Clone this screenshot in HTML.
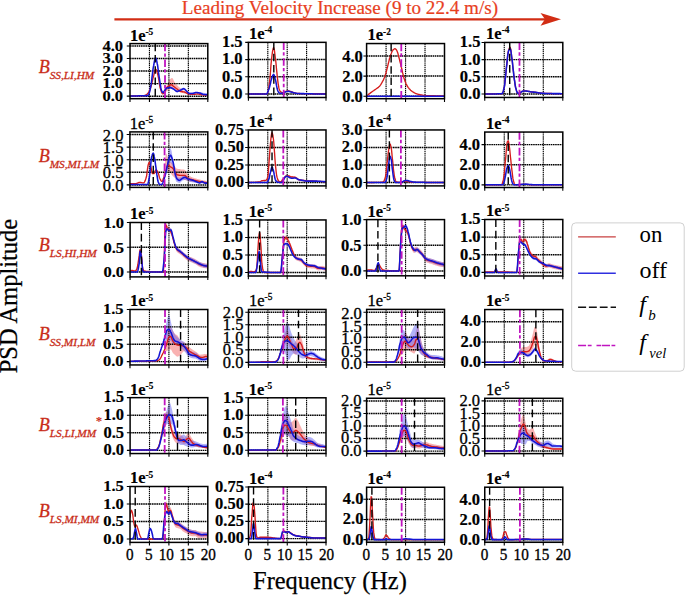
<!DOCTYPE html><html><head><meta charset="utf-8"><style>html,body{margin:0;padding:0;background:#fff;}svg{display:block}</style></head><body>
<svg width="685" height="595" viewBox="0 0 685 595" font-family='"Liberation Serif", serif'>
<rect width="685" height="595" fill="#fff"/>
<text x="181.8" y="13.8" font-size="19.1" fill="#e8401e" stroke="#e8401e" stroke-width="0.2">Leading Velocity Increase (9 to 22.4 m/s)</text>
<path d="M114.4,19.3H545" stroke="#d22d14" stroke-width="2.3"/>
<path d="M561,19.3L540.5,12.9L545,19.3L540.5,25.7Z" fill="#d22d14"/>
<text x="38.7" y="73.0" font-size="18" font-style="italic" fill="#c92c18" stroke="#c92c18" stroke-width="0.3">B<tspan font-size="11.3" dy="5.9">SS,LI,HM</tspan></text>
<text x="38.7" y="162.2" font-size="18" font-style="italic" fill="#c92c18" stroke="#c92c18" stroke-width="0.3">B<tspan font-size="11.3" dy="5.9">MS,MI,LM</tspan></text>
<text x="38.7" y="250.7" font-size="18" font-style="italic" fill="#c92c18" stroke="#c92c18" stroke-width="0.3">B<tspan font-size="11.3" dy="5.9">LS,HI,HM</tspan></text>
<text x="38.7" y="339.7" font-size="18" font-style="italic" fill="#c92c18" stroke="#c92c18" stroke-width="0.3">B<tspan font-size="11.3" dy="5.9">SS,MI,LM</tspan></text>
<text x="38.7" y="430.9" font-size="18" font-style="italic" fill="#c92c18" stroke="#c92c18" stroke-width="0.3">B<tspan font-size="11.3" dy="5.9">LS,LI,MM</tspan></text>
<text x="38.7" y="516.7" font-size="18" font-style="italic" fill="#c92c18" stroke="#c92c18" stroke-width="0.3">B<tspan font-size="11.3" dy="5.9">LS,MI,MM</tspan></text>
<text x="95.8" y="424.9" font-size="13" font-weight="bold" fill="#c92c18">*</text>
<text x="253.1" y="589.4" font-size="24.4" stroke="#000" stroke-width="0.25">Frequency (Hz)</text>
<text transform="translate(17.4,373.3) rotate(-90)" x="0" y="0" font-size="24.5" stroke="#000" stroke-width="0.25">PSD Amplitude</text>
<rect x="571.7" y="222.9" width="112.5" height="148.3" rx="4" fill="#fff" stroke="#d0d0d0" stroke-width="1"/>
<path d="M578.1,236.9H615.8" stroke="#c84040" stroke-width="1.4"/>
<path d="M578.1,273.3H615.8" stroke="#3030e0" stroke-width="1.4"/>
<path d="M578.1,307.2H586.1M588.9,307.2H596.8M599.8,307.2H607.6M610.6,307.2H616" stroke="#111" stroke-width="1.5"/>
<path d="M578.1,345.4H586.1M587.8,345.4H591.6M596.5,345.4H601.2M601.9,345.4H610M611.5,345.4H615.3" stroke="#c014c0" stroke-width="1.5"/>
<text x="639.5" y="242.2" font-size="22.8">on</text>
<text x="639.5" y="278.4" font-size="24">off</text>
<text x="639.2" y="311.5" font-size="24" font-style="italic">f<tspan font-size="15" dx="2.5" dy="8.7">b</tspan></text>
<text x="639.2" y="350.1" font-size="24" font-style="italic">f<tspan font-size="14.5" dx="3.5" dy="7.9">vel</tspan></text>
<clipPath id="c_r1c1"><rect x="130.00" y="43.60" width="77.80" height="55.10"/></clipPath>
<g clip-path="url(#c_r1c1)">
<path d="M164.2,91.8 L164.5,90.9 L164.8,90.0 L165.1,89.2 L165.5,88.4 L165.8,87.6 L166.1,86.9 L166.4,86.2 L166.7,85.5 L167.0,84.8 L167.3,84.2 L167.6,83.5 L167.9,82.8 L168.2,82.2 L168.5,81.6 L168.8,81.0 L169.1,80.5 L169.4,80.0 L169.7,79.6 L170.0,79.3 L170.3,79.0 L170.6,78.7 L170.9,78.4 L171.3,78.2 L171.6,78.1 L171.9,78.0 L172.2,78.0 L172.5,78.2 L172.8,78.6 L173.1,79.1 L173.4,79.7 L173.7,80.4 L174.0,81.0 L174.3,81.7 L174.6,82.2 L174.9,82.6 L175.2,83.0 L175.5,83.4 L175.8,83.8 L176.1,84.1 L176.4,84.5 L176.7,84.8 L177.1,85.2 L177.4,85.5 L177.7,85.8 L178.0,86.1 L178.3,86.4 L178.6,86.7 L178.9,87.0 L179.2,87.3 L179.5,87.5 L179.8,87.8 L180.1,88.1 L180.4,88.3 L180.7,88.6 L181.0,88.8 L181.3,89.0 L181.6,89.3 L181.9,89.5 L182.2,89.7 L182.5,89.9 L182.9,90.1 L183.2,90.3 L183.5,90.5 L183.8,90.7 L184.1,90.9 L184.4,91.0 L184.7,91.2 L185.0,91.4 L185.3,91.6 L185.6,91.7 L185.9,91.9 L186.2,92.1 L186.5,92.2 L186.8,92.4 L187.1,92.5 L187.4,92.6 L187.7,92.8 L188.0,92.9 L188.4,93.0 L188.4,94.3 L188.0,94.2 L187.7,94.2 L187.4,94.1 L187.1,94.1 L186.8,94.0 L186.5,93.9 L186.2,93.9 L185.9,93.8 L185.6,93.8 L185.3,93.7 L185.0,93.6 L184.7,93.6 L184.4,93.5 L184.1,93.4 L183.8,93.3 L183.5,93.3 L183.2,93.2 L182.9,93.1 L182.5,93.0 L182.2,92.9 L181.9,92.9 L181.6,92.8 L181.3,92.7 L181.0,92.6 L180.7,92.5 L180.4,92.4 L180.1,92.3 L179.8,92.2 L179.5,92.1 L179.2,92.0 L178.9,91.9 L178.6,91.7 L178.3,91.6 L178.0,91.4 L177.7,91.2 L177.4,91.0 L177.1,90.7 L176.7,90.5 L176.4,90.3 L176.1,90.0 L175.8,89.8 L175.5,89.6 L175.2,89.5 L174.9,89.3 L174.6,89.2 L174.3,89.1 L174.0,89.0 L173.7,88.9 L173.4,88.8 L173.1,88.8 L172.8,88.7 L172.5,88.7 L172.2,88.6 L171.9,88.6 L171.6,88.7 L171.3,88.8 L170.9,88.9 L170.6,89.0 L170.3,89.1 L170.0,89.3 L169.7,89.4 L169.4,89.6 L169.1,89.7 L168.8,89.9 L168.5,90.1 L168.2,90.3 L167.9,90.5 L167.6,90.7 L167.3,90.9 L167.0,91.1 L166.7,91.3 L166.4,91.6 L166.1,91.9 L165.8,92.1 L165.5,92.4 L165.1,92.7 L164.8,93.0 L164.5,93.3 L164.2,93.6Z" fill="rgba(242,95,95,0.48)" stroke="none"/>
<path d="M165.0,89.3 L165.6,88.6 L166.1,88.0 L166.6,87.5 L167.2,87.0 L167.7,86.7 L168.3,86.4 L168.8,86.2 L169.3,86.1 L169.9,86.1 L170.4,86.2 L171.0,86.4 L171.5,86.7 L172.1,87.0 L172.6,87.4 L173.1,87.7 L173.7,88.1 L174.2,88.5 L174.8,89.0 L175.3,89.5 L175.8,90.0 L176.4,90.3 L176.9,90.5 L177.5,90.5 L178.0,90.3 L178.6,90.1 L179.1,89.9 L179.6,89.5 L180.2,89.2 L180.7,88.8 L181.3,88.5 L181.8,88.2 L182.3,87.9 L182.9,87.7 L183.4,87.6 L184.0,87.7 L184.5,87.9 L185.1,88.4 L185.6,89.0 L186.1,89.8 L186.7,90.5 L187.2,91.2 L187.8,91.8 L188.3,92.3 L188.8,92.6 L189.4,92.6 L189.9,92.6 L190.5,92.6 L191.0,92.5 L191.6,92.4 L192.1,92.3 L192.6,92.3 L193.2,92.2 L193.7,92.1 L194.3,92.0 L194.8,92.0 L195.3,91.9 L195.9,91.9 L196.4,91.9 L197.0,91.9 L197.5,91.9 L198.1,91.9 L198.6,92.0 L199.1,92.0 L199.7,92.1 L200.2,92.2 L200.8,92.2 L201.3,92.3 L201.8,92.4 L202.4,92.5 L202.9,92.7 L203.5,92.8 L204.0,92.9 L204.6,93.1 L205.1,93.2 L205.6,93.4 L206.2,93.6 L206.7,93.7 L207.3,93.9 L207.8,94.1 L207.8,95.1 L207.3,95.0 L206.7,94.8 L206.2,94.7 L205.6,94.5 L205.1,94.4 L204.6,94.3 L204.0,94.2 L203.5,94.1 L202.9,94.0 L202.4,93.9 L201.8,93.8 L201.3,93.7 L200.8,93.7 L200.2,93.6 L199.7,93.5 L199.1,93.5 L198.6,93.5 L198.1,93.4 L197.5,93.4 L197.0,93.4 L196.4,93.4 L195.9,93.4 L195.3,93.4 L194.8,93.5 L194.3,93.5 L193.7,93.6 L193.2,93.7 L192.6,93.8 L192.1,93.9 L191.6,93.9 L191.0,94.0 L190.5,94.1 L189.9,94.1 L189.4,94.1 L188.8,94.1 L188.3,93.9 L187.8,93.5 L187.2,92.9 L186.7,92.3 L186.1,91.7 L185.6,91.1 L185.1,90.6 L184.5,90.1 L184.0,89.9 L183.4,89.9 L182.9,90.0 L182.3,90.1 L181.8,90.4 L181.3,90.6 L180.7,90.9 L180.2,91.2 L179.6,91.5 L179.1,91.8 L178.6,92.1 L178.0,92.3 L177.5,92.4 L176.9,92.4 L176.4,92.2 L175.8,91.8 L175.3,91.3 L174.8,90.8 L174.2,90.3 L173.7,89.9 L173.1,89.7 L172.6,89.4 L172.1,89.2 L171.5,89.0 L171.0,88.8 L170.4,88.7 L169.9,88.6 L169.3,88.6 L168.8,88.8 L168.3,89.0 L167.7,89.2 L167.2,89.6 L166.6,90.0 L166.1,90.6 L165.6,91.1 L165.0,91.8Z" fill="rgba(95,95,242,0.48)" stroke="none"/>
<path d="M149.45,43.60V98.70M168.90,43.60V98.70M188.35,43.60V98.70" stroke="#000" stroke-width="1.15" stroke-dasharray="1.4 0.7" fill="none"/>
<path d="M130.00,96.15H207.80M130.00,83.61H207.80M130.00,71.07H207.80M130.00,58.53H207.80M130.00,45.99H207.80" stroke="#000" stroke-width="1.45" stroke-dasharray="1.6 0.6" fill="none"/>
<path d="M130.0,95.9 L130.3,95.9 L130.6,95.9 L131.0,95.9 L131.3,95.9 L131.6,95.9 L131.9,95.9 L132.3,95.9 L132.6,95.9 L132.9,95.9 L133.2,95.9 L133.6,95.9 L133.9,95.9 L134.2,95.9 L134.5,95.9 L134.9,95.9 L135.2,95.9 L135.5,95.9 L135.8,95.9 L136.2,95.9 L136.5,95.8 L136.8,95.8 L137.1,95.8 L137.5,95.8 L137.8,95.8 L138.1,95.8 L138.4,95.8 L138.8,95.8 L139.1,95.8 L139.4,95.8 L139.7,95.8 L140.0,95.7 L140.4,95.7 L140.7,95.7 L141.0,95.7 L141.3,95.7 L141.7,95.7 L142.0,95.7 L142.3,95.7 L142.6,95.6 L143.0,95.6 L143.3,95.6 L143.6,95.6 L143.9,95.6 L144.3,95.6 L144.6,95.5 L144.9,95.5 L145.2,95.4 L145.6,95.3 L145.9,95.1 L146.2,94.9 L146.5,94.6 L146.9,94.4 L147.2,94.1 L147.5,93.8 L147.8,93.4 L148.2,93.0 L148.5,92.5 L148.8,92.0 L149.1,91.4 L149.4,90.7 L149.8,90.0 L150.1,89.3 L150.4,88.5 L150.7,87.5 L151.1,86.4 L151.4,85.1 L151.7,83.7 L152.0,82.3 L152.4,80.9 L152.7,79.5 L153.0,78.2 L153.3,77.0 L153.7,75.7 L154.0,74.3 L154.3,72.9 L154.6,71.5 L155.0,70.4 L155.3,69.6 L155.6,69.2 L155.9,69.3 L156.3,69.8 L156.6,70.6 L156.9,71.6 L157.2,72.7 L157.6,74.0 L157.9,75.2 L158.2,76.5 L158.5,78.2 L158.9,80.1 L159.2,82.2 L159.5,84.2 L159.8,86.1 L160.1,87.7 L160.5,88.8 L160.8,89.9 L161.1,90.9 L161.4,91.8 L161.8,92.7 L162.1,93.3 L162.4,93.7 L162.7,93.8 L163.1,93.7 L163.4,93.6 L163.7,93.4 L164.0,93.1 L164.4,92.8 L164.7,92.4 L165.0,91.7 L165.3,90.7 L165.7,89.7 L166.0,88.7 L166.3,88.2 L166.6,87.8 L167.0,87.4 L167.3,87.1 L167.6,86.8 L167.9,86.5 L168.3,86.3 L168.6,86.1 L168.9,85.8 L169.2,85.7 L169.5,85.5 L169.9,85.3 L170.2,85.1 L170.5,84.9 L170.8,84.8 L171.2,84.7 L171.5,84.8 L171.8,84.9 L172.1,85.1 L172.5,85.4 L172.8,85.7 L173.1,86.0 L173.4,86.3 L173.8,86.5 L174.1,86.8 L174.4,87.0 L174.7,87.2 L175.1,87.5 L175.4,87.7 L175.7,88.0 L176.0,88.2 L176.4,88.5 L176.7,88.7 L177.0,89.0 L177.3,89.2 L177.7,89.4 L178.0,89.7 L178.3,90.0 L178.6,90.2 L178.9,90.5 L179.3,90.7 L179.6,90.9 L179.9,91.1 L180.2,91.3 L180.6,91.4 L180.9,91.5 L181.2,91.5 L181.5,91.6 L181.9,91.6 L182.2,91.7 L182.5,91.7 L182.8,91.7 L183.2,91.8 L183.5,91.8 L183.8,91.9 L184.1,91.9 L184.5,92.0 L184.8,92.1 L185.1,92.3 L185.4,92.4 L185.8,92.6 L186.1,92.8 L186.4,93.0 L186.7,93.2 L187.1,93.4 L187.4,93.6 L187.7,93.7 L188.0,93.8 L188.4,93.9 L188.7,93.9 L189.0,94.0 L189.3,94.0 L189.6,94.1 L190.0,94.2 L190.3,94.2 L190.6,94.3 L190.9,94.3 L191.3,94.3 L191.6,94.4 L191.9,94.4 L192.2,94.4 L192.6,94.4 L192.9,94.4 L193.2,94.4 L193.5,94.4 L193.9,94.3 L194.2,94.3 L194.5,94.3 L194.8,94.2 L195.2,94.2 L195.5,94.2 L195.8,94.1 L196.1,94.1 L196.5,94.1 L196.8,94.1 L197.1,94.0 L197.4,94.0 L197.8,94.0 L198.1,94.0 L198.4,94.1 L198.7,94.1 L199.0,94.2 L199.4,94.2 L199.7,94.3 L200.0,94.4 L200.3,94.5 L200.7,94.6 L201.0,94.7 L201.3,94.7 L201.6,94.8 L202.0,94.9 L202.3,94.9 L202.6,94.9 L202.9,94.9 L203.3,95.0 L203.6,95.0 L203.9,95.0 L204.2,95.0 L204.6,95.0 L204.9,95.1 L205.2,95.1 L205.5,95.1 L205.9,95.1 L206.2,95.1 L206.5,95.1 L206.8,95.1 L207.2,95.1 L207.5,95.1 L207.8,95.1" fill="none" stroke="#d61c1c" stroke-width="1.35" stroke-linejoin="round"/>
<path d="M130.0,95.9 L130.3,95.9 L130.6,95.9 L131.0,95.9 L131.3,95.9 L131.6,95.9 L131.9,95.9 L132.3,95.9 L132.6,95.9 L132.9,95.9 L133.2,95.9 L133.6,95.9 L133.9,95.9 L134.2,95.9 L134.5,95.9 L134.9,95.9 L135.2,95.9 L135.5,95.9 L135.8,95.9 L136.2,95.9 L136.5,95.9 L136.8,95.9 L137.1,95.9 L137.5,95.9 L137.8,95.9 L138.1,95.9 L138.4,95.8 L138.8,95.8 L139.1,95.8 L139.4,95.8 L139.7,95.8 L140.0,95.8 L140.4,95.8 L140.7,95.8 L141.0,95.8 L141.3,95.8 L141.7,95.8 L142.0,95.8 L142.3,95.8 L142.6,95.8 L143.0,95.7 L143.3,95.7 L143.6,95.7 L143.9,95.7 L144.3,95.7 L144.6,95.7 L144.9,95.7 L145.2,95.7 L145.6,95.6 L145.9,95.6 L146.2,95.6 L146.5,95.6 L146.9,95.6 L147.2,95.6 L147.5,95.5 L147.8,95.5 L148.2,95.4 L148.5,94.9 L148.8,94.2 L149.1,93.3 L149.4,92.4 L149.8,91.3 L150.1,89.9 L150.4,88.2 L150.7,86.3 L151.1,84.4 L151.4,82.4 L151.7,80.1 L152.0,77.4 L152.4,74.6 L152.7,71.9 L153.0,69.3 L153.3,67.3 L153.7,65.5 L154.0,63.7 L154.3,62.0 L154.6,60.5 L155.0,59.2 L155.3,58.3 L155.6,57.9 L155.9,58.2 L156.3,59.0 L156.6,60.4 L156.9,61.9 L157.2,63.5 L157.6,65.4 L157.9,67.6 L158.2,70.1 L158.5,72.7 L158.9,75.2 L159.2,77.3 L159.5,79.4 L159.8,81.4 L160.1,83.5 L160.5,85.5 L160.8,87.4 L161.1,89.0 L161.4,90.3 L161.8,91.2 L162.1,91.7 L162.4,92.1 L162.7,92.4 L163.1,92.5 L163.4,92.4 L163.7,92.1 L164.0,91.6 L164.4,91.1 L164.7,90.5 L165.0,89.9 L165.3,89.3 L165.7,88.8 L166.0,88.5 L166.3,88.3 L166.6,88.2 L167.0,88.1 L167.3,87.9 L167.6,87.8 L167.9,87.7 L168.3,87.7 L168.6,87.6 L168.9,87.6 L169.2,87.5 L169.5,87.5 L169.9,87.5 L170.2,87.5 L170.5,87.6 L170.8,87.7 L171.2,87.8 L171.5,88.0 L171.8,88.1 L172.1,88.3 L172.5,88.4 L172.8,88.6 L173.1,88.8 L173.4,88.9 L173.8,89.1 L174.1,89.3 L174.4,89.6 L174.7,89.9 L175.1,90.2 L175.4,90.5 L175.7,90.7 L176.0,91.0 L176.4,91.2 L176.7,91.3 L177.0,91.4 L177.3,91.4 L177.7,91.3 L178.0,91.2 L178.3,91.1 L178.6,91.0 L178.9,90.9 L179.3,90.7 L179.6,90.6 L179.9,90.4 L180.2,90.3 L180.6,90.1 L180.9,90.0 L181.2,89.8 L181.5,89.6 L181.9,89.4 L182.2,89.3 L182.5,89.1 L182.8,88.9 L183.2,88.8 L183.5,88.8 L183.8,88.8 L184.1,88.9 L184.5,89.0 L184.8,89.3 L185.1,89.6 L185.4,89.9 L185.8,90.3 L186.1,90.7 L186.4,91.0 L186.7,91.3 L187.1,91.6 L187.4,92.0 L187.7,92.3 L188.0,92.7 L188.4,93.0 L188.7,93.2 L189.0,93.4 L189.3,93.4 L189.6,93.4 L190.0,93.4 L190.3,93.5 L190.6,93.5 L190.9,93.5 L191.3,93.5 L191.6,93.5 L191.9,93.5 L192.2,93.5 L192.6,93.5 L192.9,93.5 L193.2,93.4 L193.5,93.3 L193.9,93.2 L194.2,93.1 L194.5,93.0 L194.8,92.8 L195.2,92.7 L195.5,92.6 L195.8,92.5 L196.1,92.5 L196.5,92.5 L196.8,92.5 L197.1,92.6 L197.4,92.6 L197.8,92.7 L198.1,92.7 L198.4,92.8 L198.7,92.8 L199.0,92.9 L199.4,93.0 L199.7,93.1 L200.0,93.1 L200.3,93.2 L200.7,93.3 L201.0,93.5 L201.3,93.6 L201.6,93.8 L202.0,93.9 L202.3,94.0 L202.6,94.2 L202.9,94.3 L203.3,94.4 L203.6,94.4 L203.9,94.4 L204.2,94.5 L204.6,94.5 L204.9,94.5 L205.2,94.5 L205.5,94.6 L205.9,94.6 L206.2,94.6 L206.5,94.6 L206.8,94.6 L207.2,94.6 L207.5,94.6 L207.8,94.6" fill="none" stroke="#1414d4" stroke-width="1.55" stroke-linejoin="round"/>
<path d="M155.25,43.60V98.70" stroke="#000" stroke-width="1.4" stroke-dasharray="7.6 3.7" fill="none"/>
<path d="M165.01,43.60V98.70" stroke="#c014c0" stroke-width="1.8" stroke-dasharray="7.6 2.2 3.4 2.6" fill="none"/>
</g>
<path d="M130.00,98.70V101.90M149.45,98.70V101.90M168.90,98.70V101.90M188.35,98.70V101.90M207.80,98.70V101.90M126.80,96.15H130.00M126.80,83.61H130.00M126.80,71.07H130.00M126.80,58.53H130.00M126.80,45.99H130.00" stroke="#000" stroke-width="1.1" fill="none"/>
<rect x="130.00" y="43.60" width="77.80" height="55.10" fill="none" stroke="#000" stroke-width="1.5"/>
<text transform="translate(123.10,101.00) scale(1.0,0.882)" text-anchor="end" font-weight="bold" font-size="16.5" stroke="#000" stroke-width="0.18">0.0</text>
<text transform="translate(123.10,88.46) scale(1.0,0.882)" text-anchor="end" font-weight="bold" font-size="16.5" stroke="#000" stroke-width="0.18">1.0</text>
<text transform="translate(123.10,75.92) scale(1.0,0.882)" text-anchor="end" font-weight="bold" font-size="16.5" stroke="#000" stroke-width="0.18">2.0</text>
<text transform="translate(123.10,63.38) scale(1.0,0.882)" text-anchor="end" font-weight="bold" font-size="16.5" stroke="#000" stroke-width="0.18">3.0</text>
<text transform="translate(123.10,50.84) scale(1.0,0.882)" text-anchor="end" font-weight="bold" font-size="16.5" stroke="#000" stroke-width="0.18">4.0</text>
<text x="129.90" y="40.50" font-weight="bold" font-size="16.5" stroke="#000" stroke-width="0.18">1e<tspan font-size="9.3" dy="-5.9">-5</tspan></text>
<clipPath id="c_r1c2"><rect x="248.40" y="42.35" width="77.60" height="55.15"/></clipPath>
<g clip-path="url(#c_r1c2)">
<path d="M283.3,92.2 L283.6,92.1 L283.8,92.1 L284.1,91.9 L284.3,91.8 L284.5,91.6 L284.8,91.5 L285.0,91.3 L285.3,91.1 L285.5,91.0 L285.8,90.9 L286.0,90.8 L286.3,90.7 L286.5,90.7 L286.8,90.6 L287.0,90.5 L287.2,90.5 L287.5,90.5 L287.7,90.4 L288.0,90.4 L288.2,90.4 L288.5,90.5 L288.7,90.5 L289.0,90.5 L289.2,90.6 L289.5,90.7 L289.7,90.7 L290.0,90.8 L290.2,90.9 L290.4,90.9 L290.7,91.0 L290.9,91.1 L291.2,91.1 L291.4,91.2 L291.7,91.3 L291.9,91.4 L292.2,91.5 L292.4,91.6 L292.7,91.7 L292.9,91.8 L293.1,91.9 L293.4,92.0 L293.6,92.1 L293.9,92.2 L294.1,92.3 L294.4,92.4 L294.6,92.4 L294.9,92.5 L295.1,92.5 L295.4,92.6 L295.6,92.6 L295.8,92.7 L296.1,92.7 L296.3,92.8 L296.6,92.8 L296.8,92.8 L297.1,92.9 L297.3,92.9 L297.6,92.9 L297.8,93.0 L298.1,93.0 L298.3,93.0 L298.5,93.0 L298.8,93.0 L299.0,93.0 L299.3,93.0 L299.5,93.0 L299.8,93.0 L300.0,93.0 L300.3,93.0 L300.5,93.0 L300.8,93.0 L301.0,93.0 L301.2,93.1 L301.5,93.1 L301.7,93.1 L302.0,93.1 L302.2,93.1 L302.5,93.1 L302.7,93.1 L302.7,94.0 L302.5,94.0 L302.2,94.0 L302.0,94.0 L301.7,94.0 L301.5,94.0 L301.2,94.0 L301.0,94.0 L300.8,94.0 L300.5,94.0 L300.3,94.0 L300.0,94.0 L299.8,94.0 L299.5,94.0 L299.3,94.0 L299.0,94.0 L298.8,94.0 L298.5,94.0 L298.3,94.0 L298.1,94.0 L297.8,94.0 L297.6,94.0 L297.3,93.9 L297.1,93.9 L296.8,93.9 L296.6,93.8 L296.3,93.8 L296.1,93.7 L295.8,93.7 L295.6,93.7 L295.4,93.6 L295.1,93.6 L294.9,93.5 L294.6,93.5 L294.4,93.4 L294.1,93.3 L293.9,93.2 L293.6,93.1 L293.4,93.0 L293.1,92.9 L292.9,92.8 L292.7,92.7 L292.4,92.6 L292.2,92.5 L291.9,92.4 L291.7,92.3 L291.4,92.3 L291.2,92.2 L290.9,92.1 L290.7,92.0 L290.4,92.0 L290.2,91.9 L290.0,91.8 L289.7,91.8 L289.5,91.7 L289.2,91.6 L289.0,91.6 L288.7,91.5 L288.5,91.5 L288.2,91.5 L288.0,91.5 L287.7,91.5 L287.5,91.5 L287.2,91.5 L287.0,91.6 L286.8,91.6 L286.5,91.7 L286.3,91.8 L286.0,91.8 L285.8,91.9 L285.5,92.0 L285.3,92.2 L285.0,92.3 L284.8,92.5 L284.5,92.7 L284.3,92.8 L284.1,93.0 L283.8,93.1 L283.6,93.2 L283.3,93.2Z" fill="rgba(242,95,95,0.48)" stroke="none"/>
<path d="M267.80,42.35V97.50M287.20,42.35V97.50M306.60,42.35V97.50" stroke="#000" stroke-width="1.15" stroke-dasharray="1.4 0.7" fill="none"/>
<path d="M248.40,94.05H326.00M248.40,76.81H326.00M248.40,59.58H326.00" stroke="#000" stroke-width="1.45" stroke-dasharray="1.6 0.6" fill="none"/>
<path d="M248.4,94.0 L248.7,94.0 L249.0,94.0 L249.4,94.0 L249.7,94.0 L250.0,94.0 L250.3,94.0 L250.7,94.0 L251.0,94.0 L251.3,94.0 L251.6,94.0 L252.0,94.0 L252.3,94.0 L252.6,94.0 L252.9,94.0 L253.2,94.0 L253.6,94.0 L253.9,94.0 L254.2,94.0 L254.5,94.0 L254.9,94.0 L255.2,94.0 L255.5,94.0 L255.8,94.0 L256.2,94.0 L256.5,94.0 L256.8,94.0 L257.1,94.0 L257.5,94.0 L257.8,94.0 L258.1,94.0 L258.4,94.0 L258.7,94.0 L259.1,94.0 L259.4,94.0 L259.7,94.0 L260.0,94.0 L260.4,94.0 L260.7,94.0 L261.0,94.0 L261.3,94.0 L261.7,94.0 L262.0,94.0 L262.3,94.0 L262.6,94.0 L262.9,94.0 L263.3,94.0 L263.6,94.0 L263.9,94.0 L264.2,94.0 L264.6,94.0 L264.9,94.0 L265.2,94.0 L265.5,94.0 L265.9,94.0 L266.2,94.0 L266.5,94.0 L266.8,93.8 L267.2,93.4 L267.5,92.9 L267.8,92.3 L268.1,91.4 L268.4,89.8 L268.8,87.8 L269.1,85.4 L269.4,82.9 L269.7,80.3 L270.1,77.1 L270.4,73.2 L270.7,68.9 L271.0,64.6 L271.4,60.8 L271.7,57.9 L272.0,55.5 L272.3,53.1 L272.6,50.9 L273.0,49.1 L273.3,48.0 L273.6,47.5 L273.9,48.1 L274.3,49.6 L274.6,51.7 L274.9,54.3 L275.2,57.0 L275.6,59.6 L275.9,62.4 L276.2,65.6 L276.5,69.1 L276.9,72.6 L277.2,75.8 L277.5,78.5 L277.8,80.9 L278.1,83.3 L278.5,85.5 L278.8,87.4 L279.1,88.9 L279.4,89.9 L279.8,90.5 L280.1,91.1 L280.4,91.5 L280.7,91.9 L281.1,92.2 L281.4,92.3 L281.7,92.4 L282.0,92.5 L282.4,92.6 L282.7,92.6 L283.0,92.7 L283.3,92.7 L283.6,92.6 L284.0,92.5 L284.3,92.3 L284.6,92.1 L284.9,91.9 L285.3,91.7 L285.6,91.5 L285.9,91.3 L286.2,91.2 L286.6,91.2 L286.9,91.1 L287.2,91.0 L287.5,91.0 L287.8,91.0 L288.2,91.0 L288.5,91.0 L288.8,91.0 L289.1,91.1 L289.5,91.2 L289.8,91.3 L290.1,91.4 L290.4,91.4 L290.8,91.5 L291.1,91.6 L291.4,91.7 L291.7,91.8 L292.1,92.0 L292.4,92.1 L292.7,92.2 L293.0,92.4 L293.3,92.5 L293.7,92.6 L294.0,92.7 L294.3,92.9 L294.6,92.9 L295.0,93.0 L295.3,93.1 L295.6,93.1 L295.9,93.2 L296.3,93.3 L296.6,93.3 L296.9,93.4 L297.2,93.4 L297.5,93.4 L297.9,93.5 L298.2,93.5 L298.5,93.5 L298.8,93.5 L299.2,93.5 L299.5,93.5 L299.8,93.5 L300.1,93.6 L300.5,93.6 L300.8,93.6 L301.1,93.6 L301.4,93.6 L301.8,93.6 L302.1,93.6 L302.4,93.6 L302.7,93.6 L303.0,93.6 L303.4,93.6 L303.7,93.6 L304.0,93.6 L304.3,93.6 L304.7,93.6 L305.0,93.6 L305.3,93.6 L305.6,93.6 L306.0,93.6 L306.3,93.6 L306.6,93.6 L306.9,93.6 L307.2,93.6 L307.6,93.6 L307.9,93.6 L308.2,93.6 L308.5,93.6 L308.9,93.6 L309.2,93.7 L309.5,93.7 L309.8,93.7 L310.2,93.7 L310.5,93.7 L310.8,93.7 L311.1,93.7 L311.4,93.7 L311.8,93.7 L312.1,93.7 L312.4,93.7 L312.7,93.7 L313.1,93.7 L313.4,93.7 L313.7,93.7 L314.0,93.7 L314.4,93.7 L314.7,93.7 L315.0,93.7 L315.3,93.7 L315.7,93.7 L316.0,93.7 L316.3,93.7 L316.6,93.7 L316.9,93.7 L317.3,93.7 L317.6,93.7 L317.9,93.7 L318.2,93.7 L318.6,93.7 L318.9,93.7 L319.2,93.7 L319.5,93.7 L319.9,93.7 L320.2,93.7 L320.5,93.7 L320.8,93.7 L321.1,93.7 L321.5,93.7 L321.8,93.7 L322.1,93.7 L322.4,93.7 L322.8,93.7 L323.1,93.7 L323.4,93.7 L323.7,93.7 L324.1,93.7 L324.4,93.7 L324.7,93.7 L325.0,93.7 L325.4,93.7 L325.7,93.7 L326.0,93.7" fill="none" stroke="#d61c1c" stroke-width="1.35" stroke-linejoin="round"/>
<path d="M248.4,94.0 L248.7,94.0 L249.0,94.0 L249.4,94.0 L249.7,94.0 L250.0,94.0 L250.3,94.0 L250.7,94.0 L251.0,94.0 L251.3,94.0 L251.6,94.0 L252.0,94.0 L252.3,94.0 L252.6,94.0 L252.9,94.0 L253.2,94.0 L253.6,94.0 L253.9,94.0 L254.2,94.0 L254.5,94.0 L254.9,94.0 L255.2,94.0 L255.5,94.0 L255.8,94.0 L256.2,94.0 L256.5,94.0 L256.8,94.0 L257.1,94.0 L257.5,94.0 L257.8,94.0 L258.1,94.0 L258.4,94.0 L258.7,94.0 L259.1,94.0 L259.4,94.0 L259.7,94.0 L260.0,94.0 L260.4,94.0 L260.7,94.0 L261.0,94.0 L261.3,94.0 L261.7,94.0 L262.0,94.0 L262.3,94.0 L262.6,94.0 L262.9,94.0 L263.3,94.0 L263.6,94.0 L263.9,94.0 L264.2,94.0 L264.6,94.0 L264.9,94.0 L265.2,94.0 L265.5,94.0 L265.9,94.0 L266.2,94.0 L266.5,94.0 L266.8,93.7 L267.2,93.2 L267.5,92.6 L267.8,91.9 L268.1,91.1 L268.4,90.2 L268.8,89.4 L269.1,88.5 L269.4,87.5 L269.7,86.3 L270.1,84.9 L270.4,83.5 L270.7,82.1 L271.0,80.7 L271.4,79.5 L271.7,78.5 L272.0,77.6 L272.3,76.7 L272.6,75.8 L273.0,75.1 L273.3,74.6 L273.6,74.4 L273.9,74.7 L274.3,75.4 L274.6,76.4 L274.9,77.7 L275.2,79.0 L275.6,80.3 L275.9,81.7 L276.2,83.5 L276.5,85.4 L276.9,87.3 L277.2,88.8 L277.5,89.9 L277.8,90.7 L278.1,91.4 L278.5,92.0 L278.8,92.5 L279.1,92.8 L279.4,93.0 L279.8,93.1 L280.1,93.2 L280.4,93.3 L280.7,93.3 L281.1,93.3 L281.4,93.4 L281.7,93.3 L282.0,93.3 L282.4,93.2 L282.7,93.1 L283.0,93.0 L283.3,92.8 L283.6,92.7 L284.0,92.5 L284.3,92.4 L284.6,92.2 L284.9,92.1 L285.3,92.0 L285.6,91.9 L285.9,91.8 L286.2,91.7 L286.6,91.6 L286.9,91.5 L287.2,91.4 L287.5,91.3 L287.8,91.3 L288.2,91.3 L288.5,91.3 L288.8,91.4 L289.1,91.4 L289.5,91.5 L289.8,91.6 L290.1,91.7 L290.4,91.8 L290.8,91.9 L291.1,92.0 L291.4,92.1 L291.7,92.1 L292.1,92.2 L292.4,92.3 L292.7,92.4 L293.0,92.5 L293.3,92.6 L293.7,92.7 L294.0,92.8 L294.3,92.9 L294.6,93.0 L295.0,93.0 L295.3,93.1 L295.6,93.2 L295.9,93.2 L296.3,93.3 L296.6,93.3 L296.9,93.4 L297.2,93.4 L297.5,93.4 L297.9,93.4 L298.2,93.4 L298.5,93.5 L298.8,93.5 L299.2,93.5 L299.5,93.5 L299.8,93.5 L300.1,93.5 L300.5,93.5 L300.8,93.6 L301.1,93.6 L301.4,93.6 L301.8,93.6 L302.1,93.6 L302.4,93.6 L302.7,93.6 L303.0,93.6 L303.4,93.6 L303.7,93.6 L304.0,93.6 L304.3,93.7 L304.7,93.7 L305.0,93.7 L305.3,93.7 L305.6,93.7 L306.0,93.7 L306.3,93.7 L306.6,93.7 L306.9,93.7 L307.2,93.7 L307.6,93.7 L307.9,93.7 L308.2,93.7 L308.5,93.8 L308.9,93.8 L309.2,93.8 L309.5,93.8 L309.8,93.8 L310.2,93.8 L310.5,93.8 L310.8,93.8 L311.1,93.8 L311.4,93.8 L311.8,93.8 L312.1,93.8 L312.4,93.8 L312.7,93.8 L313.1,93.9 L313.4,93.9 L313.7,93.9 L314.0,93.9 L314.4,93.9 L314.7,93.9 L315.0,93.9 L315.3,93.9 L315.7,93.9 L316.0,93.9 L316.3,93.9 L316.6,93.9 L316.9,93.9 L317.3,93.9 L317.6,93.9 L317.9,94.0 L318.2,94.0 L318.6,94.0 L318.9,94.0 L319.2,94.0 L319.5,94.0 L319.9,94.0 L320.2,94.0 L320.5,94.0 L320.8,94.0 L321.1,94.0 L321.5,94.0 L321.8,94.0 L322.1,94.0 L322.4,94.0 L322.8,94.0 L323.1,94.0 L323.4,94.0 L323.7,94.0 L324.1,94.0 L324.4,94.0 L324.7,94.0 L325.0,94.0 L325.4,94.0 L325.7,94.0 L326.0,94.0" fill="none" stroke="#1414d4" stroke-width="1.55" stroke-linejoin="round"/>
<path d="M273.81,42.35V97.50" stroke="#000" stroke-width="1.4" stroke-dasharray="7.6 3.7" fill="none"/>
<path d="M283.71,42.35V97.50" stroke="#c014c0" stroke-width="1.8" stroke-dasharray="7.6 2.2 3.4 2.6" fill="none"/>
</g>
<path d="M248.40,97.50V100.70M267.80,97.50V100.70M287.20,97.50V100.70M306.60,97.50V100.70M326.00,97.50V100.70M245.20,94.05H248.40M245.20,76.81H248.40M245.20,59.58H248.40M245.20,42.34H248.40" stroke="#000" stroke-width="1.1" fill="none"/>
<rect x="248.40" y="42.35" width="77.60" height="55.15" fill="none" stroke="#000" stroke-width="1.5"/>
<text transform="translate(242.60,98.95) scale(1.0,0.991)" text-anchor="end" font-weight="bold" font-size="16.5" stroke="#000" stroke-width="0.18">0.0</text>
<text transform="translate(242.60,81.72) scale(1.0,0.991)" text-anchor="end" font-weight="bold" font-size="16.5" stroke="#000" stroke-width="0.18">0.5</text>
<text transform="translate(242.60,64.48) scale(1.0,0.991)" text-anchor="end" font-weight="bold" font-size="16.5" stroke="#000" stroke-width="0.18">1.0</text>
<text transform="translate(242.60,47.24) scale(1.0,0.991)" text-anchor="end" font-weight="bold" font-size="16.5" stroke="#000" stroke-width="0.18">1.5</text>
<text x="248.90" y="39.25" font-weight="bold" font-size="16.5" stroke="#000" stroke-width="0.18">1e<tspan font-size="9.3" dy="-5.9">-4</tspan></text>
<clipPath id="c_r1c3"><rect x="366.60" y="43.55" width="77.90" height="55.15"/></clipPath>
<g clip-path="url(#c_r1c3)">
<path d="M386.08,43.55V98.70M405.55,43.55V98.70M425.02,43.55V98.70" stroke="#000" stroke-width="1.15" stroke-dasharray="1.4 0.7" fill="none"/>
<path d="M366.60,96.20H444.50M366.60,76.08H444.50M366.60,55.96H444.50" stroke="#000" stroke-width="1.45" stroke-dasharray="1.6 0.6" fill="none"/>
<path d="M366.6,96.0 L366.9,95.7 L367.2,95.5 L367.6,95.2 L367.9,94.9 L368.2,94.7 L368.5,94.4 L368.9,94.1 L369.2,93.9 L369.5,93.6 L369.8,93.4 L370.2,93.1 L370.5,92.9 L370.8,92.6 L371.1,92.4 L371.5,92.1 L371.8,91.9 L372.1,91.7 L372.4,91.5 L372.8,91.2 L373.1,91.0 L373.4,90.8 L373.7,90.6 L374.1,90.3 L374.4,90.1 L374.7,89.9 L375.0,89.7 L375.4,89.4 L375.7,89.2 L376.0,89.0 L376.3,88.8 L376.7,88.5 L377.0,88.3 L377.3,88.1 L377.6,87.9 L378.0,87.7 L378.3,87.4 L378.6,87.1 L378.9,86.8 L379.3,86.5 L379.6,86.2 L379.9,85.8 L380.2,85.4 L380.6,84.9 L380.9,84.4 L381.2,83.9 L381.5,83.3 L381.9,82.7 L382.2,82.2 L382.5,81.6 L382.8,81.0 L383.2,80.4 L383.5,79.7 L383.8,79.0 L384.1,78.3 L384.5,77.5 L384.8,76.7 L385.1,75.8 L385.4,74.8 L385.8,73.7 L386.1,72.5 L386.4,71.3 L386.7,70.0 L387.0,68.8 L387.4,67.5 L387.7,66.2 L388.0,64.9 L388.3,63.5 L388.7,62.1 L389.0,60.8 L389.3,59.5 L389.6,58.2 L390.0,57.2 L390.3,56.2 L390.6,55.3 L390.9,54.3 L391.3,53.5 L391.6,52.6 L391.9,51.8 L392.2,51.2 L392.6,50.6 L392.9,50.1 L393.2,49.8 L393.5,49.5 L393.9,49.2 L394.2,49.0 L394.5,48.8 L394.8,48.7 L395.2,48.7 L395.5,48.9 L395.8,49.2 L396.1,49.6 L396.5,50.0 L396.8,50.5 L397.1,51.2 L397.4,52.0 L397.8,53.0 L398.1,54.2 L398.4,55.4 L398.7,56.7 L399.1,58.0 L399.4,59.2 L399.7,60.5 L400.0,61.8 L400.4,63.1 L400.7,64.5 L401.0,65.8 L401.3,67.2 L401.7,68.5 L402.0,69.9 L402.3,71.3 L402.6,72.7 L403.0,74.1 L403.3,75.5 L403.6,76.7 L403.9,77.9 L404.3,78.9 L404.6,79.9 L404.9,80.8 L405.2,81.7 L405.6,82.5 L405.9,83.3 L406.2,84.0 L406.5,84.6 L406.8,85.2 L407.2,85.8 L407.5,86.3 L407.8,86.8 L408.1,87.3 L408.5,87.8 L408.8,88.2 L409.1,88.6 L409.4,89.0 L409.8,89.3 L410.1,89.6 L410.4,90.0 L410.7,90.3 L411.1,90.6 L411.4,90.8 L411.7,91.1 L412.0,91.3 L412.4,91.6 L412.7,91.8 L413.0,92.0 L413.3,92.2 L413.7,92.4 L414.0,92.6 L414.3,92.8 L414.6,93.0 L415.0,93.2 L415.3,93.3 L415.6,93.5 L415.9,93.6 L416.3,93.7 L416.6,93.8 L416.9,93.9 L417.2,94.0 L417.6,94.1 L417.9,94.2 L418.2,94.3 L418.5,94.4 L418.9,94.5 L419.2,94.5 L419.5,94.6 L419.8,94.7 L420.2,94.7 L420.5,94.8 L420.8,94.9 L421.1,94.9 L421.5,95.0 L421.8,95.0 L422.1,95.1 L422.4,95.1 L422.8,95.2 L423.1,95.3 L423.4,95.3 L423.7,95.4 L424.1,95.4 L424.4,95.4 L424.7,95.5 L425.0,95.5 L425.3,95.5 L425.7,95.6 L426.0,95.6 L426.3,95.6 L426.6,95.6 L427.0,95.6 L427.3,95.6 L427.6,95.6 L427.9,95.6 L428.3,95.6 L428.6,95.6 L428.9,95.7 L429.2,95.7 L429.6,95.7 L429.9,95.7 L430.2,95.7 L430.5,95.7 L430.9,95.7 L431.2,95.7 L431.5,95.7 L431.8,95.7 L432.2,95.7 L432.5,95.7 L432.8,95.7 L433.1,95.7 L433.5,95.7 L433.8,95.7 L434.1,95.7 L434.4,95.7 L434.8,95.8 L435.1,95.8 L435.4,95.8 L435.7,95.8 L436.1,95.8 L436.4,95.8 L436.7,95.8 L437.0,95.8 L437.4,95.8 L437.7,95.8 L438.0,95.8 L438.3,95.8 L438.7,95.8 L439.0,95.9 L439.3,95.9 L439.6,95.9 L440.0,95.9 L440.3,95.9 L440.6,95.9 L440.9,95.9 L441.3,95.9 L441.6,95.9 L441.9,95.9 L442.2,95.9 L442.6,95.9 L442.9,96.0 L443.2,96.0 L443.5,96.0 L443.9,96.0 L444.2,96.0 L444.5,96.0" fill="none" stroke="#d61c1c" stroke-width="1.35" stroke-linejoin="round"/>
<path d="M366.6,96.2 L366.9,96.2 L367.2,96.2 L367.6,96.2 L367.9,96.2 L368.2,96.2 L368.5,96.2 L368.9,96.2 L369.2,96.2 L369.5,96.2 L369.8,96.2 L370.2,96.2 L370.5,96.2 L370.8,96.2 L371.1,96.2 L371.5,96.2 L371.8,96.2 L372.1,96.2 L372.4,96.2 L372.8,96.2 L373.1,96.2 L373.4,96.2 L373.7,96.2 L374.1,96.2 L374.4,96.2 L374.7,96.2 L375.0,96.2 L375.4,96.2 L375.7,96.2 L376.0,96.2 L376.3,96.2 L376.7,96.2 L377.0,96.2 L377.3,96.2 L377.6,96.2 L378.0,96.2 L378.3,96.2 L378.6,96.2 L378.9,96.2 L379.3,96.2 L379.6,96.2 L379.9,96.2 L380.2,96.2 L380.6,96.2 L380.9,96.2 L381.2,96.2 L381.5,96.2 L381.9,96.2 L382.2,96.2 L382.5,96.2 L382.8,96.2 L383.2,96.2 L383.5,96.2 L383.8,96.2 L384.1,96.2 L384.5,96.2 L384.8,96.2 L385.1,96.2 L385.4,96.2 L385.8,96.2 L386.1,96.2 L386.4,96.2 L386.7,96.2 L387.0,96.2 L387.4,96.2 L387.7,96.2 L388.0,96.2 L388.3,96.2 L388.7,96.2 L389.0,96.2 L389.3,96.2 L389.6,96.2 L390.0,96.2 L390.3,96.2 L390.6,96.2 L390.9,96.2 L391.3,96.2 L391.6,96.2 L391.9,96.2 L392.2,96.2 L392.6,96.2 L392.9,96.2 L393.2,96.2 L393.5,96.2 L393.9,96.2 L394.2,96.2 L394.5,96.2 L394.8,96.2 L395.2,96.2 L395.5,96.2 L395.8,96.2 L396.1,96.2 L396.5,96.2 L396.8,96.2 L397.1,96.2 L397.4,96.2 L397.8,96.2 L398.1,96.2 L398.4,96.2 L398.7,96.2 L399.1,96.2 L399.4,96.2 L399.7,96.2 L400.0,96.2 L400.4,96.2 L400.7,96.2 L401.0,96.2 L401.3,96.2 L401.7,96.2 L402.0,96.2 L402.3,96.2 L402.6,96.2 L403.0,96.2 L403.3,96.2 L403.6,96.2 L403.9,96.2 L404.3,96.2 L404.6,96.2 L404.9,96.2 L405.2,96.2 L405.6,96.2 L405.9,96.2 L406.2,96.2 L406.5,96.2 L406.8,96.2 L407.2,96.2 L407.5,96.2 L407.8,96.2 L408.1,96.2 L408.5,96.2 L408.8,96.2 L409.1,96.2 L409.4,96.2 L409.8,96.2 L410.1,96.2 L410.4,96.2 L410.7,96.2 L411.1,96.2 L411.4,96.2 L411.7,96.2 L412.0,96.2 L412.4,96.2 L412.7,96.2 L413.0,96.2 L413.3,96.2 L413.7,96.2 L414.0,96.2 L414.3,96.2 L414.6,96.2 L415.0,96.2 L415.3,96.2 L415.6,96.2 L415.9,96.2 L416.3,96.2 L416.6,96.2 L416.9,96.2 L417.2,96.2 L417.6,96.2 L417.9,96.2 L418.2,96.2 L418.5,96.2 L418.9,96.2 L419.2,96.2 L419.5,96.2 L419.8,96.2 L420.2,96.2 L420.5,96.2 L420.8,96.2 L421.1,96.2 L421.5,96.2 L421.8,96.2 L422.1,96.2 L422.4,96.2 L422.8,96.2 L423.1,96.2 L423.4,96.2 L423.7,96.2 L424.1,96.2 L424.4,96.2 L424.7,96.2 L425.0,96.2 L425.3,96.2 L425.7,96.2 L426.0,96.2 L426.3,96.2 L426.6,96.2 L427.0,96.2 L427.3,96.2 L427.6,96.2 L427.9,96.2 L428.3,96.2 L428.6,96.2 L428.9,96.2 L429.2,96.2 L429.6,96.2 L429.9,96.2 L430.2,96.2 L430.5,96.2 L430.9,96.2 L431.2,96.2 L431.5,96.2 L431.8,96.2 L432.2,96.2 L432.5,96.2 L432.8,96.2 L433.1,96.2 L433.5,96.2 L433.8,96.2 L434.1,96.2 L434.4,96.2 L434.8,96.2 L435.1,96.2 L435.4,96.2 L435.7,96.2 L436.1,96.2 L436.4,96.2 L436.7,96.2 L437.0,96.2 L437.4,96.2 L437.7,96.2 L438.0,96.2 L438.3,96.2 L438.7,96.2 L439.0,96.2 L439.3,96.2 L439.6,96.2 L440.0,96.2 L440.3,96.2 L440.6,96.2 L440.9,96.2 L441.3,96.2 L441.6,96.2 L441.9,96.2 L442.2,96.2 L442.6,96.2 L442.9,96.2 L443.2,96.2 L443.5,96.2 L443.9,96.2 L444.2,96.2 L444.5,96.2" fill="none" stroke="#1414d4" stroke-width="1.55" stroke-linejoin="round"/>
<path d="M391.14,43.55V98.70" stroke="#000" stroke-width="1.4" stroke-dasharray="7.6 3.7" fill="none"/>
<path d="M401.27,43.55V98.70" stroke="#c014c0" stroke-width="1.8" stroke-dasharray="7.6 2.2 3.4 2.6" fill="none"/>
</g>
<path d="M366.60,98.70V101.90M386.08,98.70V101.90M405.55,98.70V101.90M425.02,98.70V101.90M444.50,98.70V101.90M363.40,96.20H366.60M363.40,76.08H366.60M363.40,55.96H366.60" stroke="#000" stroke-width="1.1" fill="none"/>
<rect x="366.60" y="43.55" width="77.90" height="55.15" fill="none" stroke="#000" stroke-width="1.5"/>
<text transform="translate(362.80,102.05) scale(1.0,1.009)" text-anchor="end" font-weight="bold" font-size="16.5" stroke="#000" stroke-width="0.18">0.0</text>
<text transform="translate(362.80,81.93) scale(1.0,1.009)" text-anchor="end" font-weight="bold" font-size="16.5" stroke="#000" stroke-width="0.18">2.0</text>
<text transform="translate(362.80,61.81) scale(1.0,1.009)" text-anchor="end" font-weight="bold" font-size="16.5" stroke="#000" stroke-width="0.18">4.0</text>
<text x="367.50" y="40.45" font-weight="bold" font-size="16.5" stroke="#000" stroke-width="0.18">1e<tspan font-size="9.3" dy="-5.9">-2</tspan></text>
<clipPath id="c_r1c4"><rect x="484.75" y="42.45" width="78.05" height="55.00"/></clipPath>
<g clip-path="url(#c_r1c4)">
<path d="M519.9,92.3 L520.2,92.1 L520.6,91.9 L520.9,91.6 L521.3,91.3 L521.6,91.0 L521.9,90.9 L522.3,90.7 L522.6,90.6 L523.0,90.5 L523.3,90.4 L523.7,90.3 L524.0,90.3 L524.4,90.2 L524.7,90.2 L525.1,90.2 L525.4,90.3 L525.8,90.3 L526.1,90.3 L526.4,90.4 L526.8,90.4 L527.1,90.5 L527.5,90.5 L527.8,90.6 L528.2,90.6 L528.5,90.7 L528.9,90.8 L529.2,90.8 L529.6,90.9 L529.9,91.0 L530.2,91.0 L530.6,91.1 L530.9,91.2 L531.3,91.2 L531.6,91.3 L532.0,91.3 L532.3,91.3 L532.7,91.4 L533.0,91.4 L533.4,91.4 L533.7,91.4 L534.0,91.5 L534.4,91.5 L534.7,91.5 L535.1,91.6 L535.4,91.6 L535.8,91.6 L536.1,91.7 L536.5,91.7 L536.8,91.8 L537.2,91.9 L537.5,92.0 L537.9,92.0 L538.2,92.1 L538.5,92.2 L538.9,92.2 L539.2,92.3 L539.6,92.3 L539.9,92.3 L540.3,92.4 L540.6,92.4 L541.0,92.5 L541.3,92.5 L541.7,92.5 L542.0,92.6 L542.3,92.6 L542.7,92.6 L543.0,92.6 L543.4,92.6 L543.7,92.6 L544.1,92.7 L544.4,92.7 L544.8,92.7 L545.1,92.7 L545.5,92.7 L545.8,92.7 L546.2,92.7 L546.5,92.7 L546.8,92.7 L547.2,92.7 L547.2,94.0 L546.8,94.0 L546.5,94.0 L546.2,94.0 L545.8,94.0 L545.5,94.0 L545.1,94.0 L544.8,94.0 L544.4,94.0 L544.1,94.0 L543.7,94.0 L543.4,94.0 L543.0,94.0 L542.7,94.0 L542.3,94.0 L542.0,93.9 L541.7,93.9 L541.3,93.9 L541.0,93.8 L540.6,93.8 L540.3,93.8 L539.9,93.7 L539.6,93.7 L539.2,93.6 L538.9,93.6 L538.5,93.5 L538.2,93.5 L537.9,93.4 L537.5,93.3 L537.2,93.3 L536.8,93.2 L536.5,93.1 L536.1,93.1 L535.8,93.0 L535.4,93.0 L535.1,92.9 L534.7,92.9 L534.4,92.9 L534.0,92.8 L533.7,92.8 L533.4,92.8 L533.0,92.8 L532.7,92.7 L532.3,92.7 L532.0,92.7 L531.6,92.6 L531.3,92.6 L530.9,92.5 L530.6,92.5 L530.2,92.4 L529.9,92.3 L529.6,92.3 L529.2,92.2 L528.9,92.1 L528.5,92.1 L528.2,92.0 L527.8,92.0 L527.5,91.9 L527.1,91.9 L526.8,91.8 L526.4,91.8 L526.1,91.7 L525.8,91.7 L525.4,91.6 L525.1,91.6 L524.7,91.6 L524.4,91.6 L524.0,91.6 L523.7,91.7 L523.3,91.8 L523.0,91.9 L522.6,92.0 L522.3,92.1 L521.9,92.2 L521.6,92.4 L521.3,92.6 L520.9,92.9 L520.6,93.2 L520.2,93.5 L519.9,93.7Z" fill="rgba(95,95,242,0.48)" stroke="none"/>
<path d="M504.26,42.45V97.45M523.77,42.45V97.45M543.29,42.45V97.45" stroke="#000" stroke-width="1.15" stroke-dasharray="1.4 0.7" fill="none"/>
<path d="M484.75,94.00H562.80M484.75,76.81H562.80M484.75,59.63H562.80" stroke="#000" stroke-width="1.45" stroke-dasharray="1.6 0.6" fill="none"/>
<path d="M484.8,94.0 L485.1,94.0 L485.4,94.0 L485.7,94.0 L486.1,94.0 L486.4,94.0 L486.7,94.0 L487.0,94.0 L487.4,94.0 L487.7,94.0 L488.0,94.0 L488.3,94.0 L488.7,94.0 L489.0,94.0 L489.3,94.0 L489.6,94.0 L490.0,94.0 L490.3,94.0 L490.6,94.0 L490.9,94.0 L491.3,94.0 L491.6,94.0 L491.9,94.0 L492.2,94.0 L492.6,94.0 L492.9,93.9 L493.2,93.9 L493.5,93.9 L493.9,93.9 L494.2,93.9 L494.5,93.9 L494.8,93.9 L495.2,93.9 L495.5,93.9 L495.8,93.9 L496.1,93.9 L496.5,93.9 L496.8,93.9 L497.1,93.9 L497.4,93.8 L497.8,93.8 L498.1,93.8 L498.4,93.8 L498.7,93.8 L499.1,93.8 L499.4,93.8 L499.7,93.8 L500.0,93.7 L500.4,93.7 L500.7,93.7 L501.0,93.7 L501.3,93.7 L501.7,93.7 L502.0,93.6 L502.3,93.4 L502.6,92.8 L503.0,92.0 L503.3,91.0 L503.6,89.8 L503.9,88.5 L504.3,87.1 L504.6,85.2 L504.9,82.6 L505.2,79.4 L505.6,76.0 L505.9,72.6 L506.2,69.6 L506.5,66.6 L506.9,63.5 L507.2,60.2 L507.5,57.2 L507.8,54.4 L508.2,52.1 L508.5,50.6 L508.8,49.6 L509.1,48.7 L509.5,47.9 L509.8,47.4 L510.1,47.3 L510.4,47.8 L510.8,49.4 L511.1,51.6 L511.4,54.3 L511.7,57.0 L512.1,59.6 L512.4,62.2 L512.7,65.2 L513.0,68.3 L513.4,71.3 L513.7,74.2 L514.0,76.8 L514.3,79.2 L514.7,81.5 L515.0,83.8 L515.3,85.8 L515.6,87.5 L516.0,88.8 L516.3,89.9 L516.6,91.0 L516.9,91.9 L517.3,92.6 L517.6,93.1 L517.9,93.3 L518.2,93.3 L518.6,93.3 L518.9,93.2 L519.2,93.1 L519.5,93.1 L519.9,93.0 L520.2,92.8 L520.5,92.6 L520.8,92.3 L521.2,92.0 L521.5,91.8 L521.8,91.6 L522.1,91.5 L522.5,91.4 L522.8,91.2 L523.1,91.1 L523.4,91.1 L523.8,91.0 L524.1,90.9 L524.4,90.9 L524.8,90.9 L525.1,90.9 L525.4,90.9 L525.7,91.0 L526.1,91.0 L526.4,91.1 L526.7,91.1 L527.0,91.2 L527.4,91.2 L527.7,91.3 L528.0,91.3 L528.3,91.4 L528.7,91.4 L529.0,91.5 L529.3,91.5 L529.6,91.6 L530.0,91.7 L530.3,91.7 L530.6,91.8 L530.9,91.8 L531.3,91.9 L531.6,91.9 L531.9,92.0 L532.2,92.0 L532.6,92.0 L532.9,92.1 L533.2,92.1 L533.5,92.1 L533.9,92.1 L534.2,92.2 L534.5,92.2 L534.8,92.2 L535.2,92.2 L535.5,92.3 L535.8,92.3 L536.1,92.4 L536.5,92.4 L536.8,92.5 L537.1,92.6 L537.4,92.6 L537.8,92.7 L538.1,92.8 L538.4,92.8 L538.7,92.9 L539.1,92.9 L539.4,93.0 L539.7,93.0 L540.0,93.0 L540.4,93.1 L540.7,93.1 L541.0,93.1 L541.3,93.2 L541.7,93.2 L542.0,93.2 L542.3,93.3 L542.6,93.3 L543.0,93.3 L543.3,93.3 L543.6,93.3 L543.9,93.3 L544.3,93.3 L544.6,93.4 L544.9,93.4 L545.2,93.4 L545.6,93.4 L545.9,93.4 L546.2,93.4 L546.5,93.4 L546.9,93.4 L547.2,93.4 L547.5,93.4 L547.8,93.5 L548.2,93.5 L548.5,93.5 L548.8,93.5 L549.1,93.5 L549.5,93.5 L549.8,93.5 L550.1,93.5 L550.4,93.5 L550.8,93.5 L551.1,93.5 L551.4,93.5 L551.7,93.5 L552.1,93.6 L552.4,93.6 L552.7,93.6 L553.0,93.6 L553.4,93.6 L553.7,93.6 L554.0,93.6 L554.3,93.6 L554.7,93.6 L555.0,93.6 L555.3,93.6 L555.6,93.6 L556.0,93.6 L556.3,93.6 L556.6,93.6 L556.9,93.6 L557.3,93.6 L557.6,93.6 L557.9,93.6 L558.2,93.6 L558.6,93.6 L558.9,93.6 L559.2,93.6 L559.5,93.6 L559.9,93.6 L560.2,93.6 L560.5,93.7 L560.8,93.7 L561.2,93.7 L561.5,93.7 L561.8,93.7 L562.1,93.7 L562.5,93.7 L562.8,93.7" fill="none" stroke="#d61c1c" stroke-width="1.35" stroke-linejoin="round"/>
<path d="M484.8,94.0 L485.1,94.0 L485.4,94.0 L485.7,94.0 L486.1,94.0 L486.4,94.0 L486.7,94.0 L487.0,94.0 L487.4,94.0 L487.7,94.0 L488.0,94.0 L488.3,94.0 L488.7,94.0 L489.0,94.0 L489.3,94.0 L489.6,94.0 L490.0,94.0 L490.3,94.0 L490.6,94.0 L490.9,94.0 L491.3,94.0 L491.6,94.0 L491.9,94.0 L492.2,94.0 L492.6,94.0 L492.9,93.9 L493.2,93.9 L493.5,93.9 L493.9,93.9 L494.2,93.9 L494.5,93.9 L494.8,93.9 L495.2,93.9 L495.5,93.9 L495.8,93.9 L496.1,93.9 L496.5,93.9 L496.8,93.9 L497.1,93.9 L497.4,93.8 L497.8,93.8 L498.1,93.8 L498.4,93.8 L498.7,93.8 L499.1,93.8 L499.4,93.8 L499.7,93.8 L500.0,93.7 L500.4,93.7 L500.7,93.7 L501.0,93.7 L501.3,93.7 L501.7,93.7 L502.0,93.6 L502.3,93.4 L502.6,92.8 L503.0,92.0 L503.3,91.0 L503.6,89.8 L503.9,88.5 L504.3,87.1 L504.6,85.3 L504.9,82.6 L505.2,79.5 L505.6,76.2 L505.9,72.9 L506.2,69.9 L506.5,67.0 L506.9,63.8 L507.2,60.6 L507.5,57.5 L507.8,54.8 L508.2,52.7 L508.5,51.2 L508.8,50.4 L509.1,49.7 L509.5,49.1 L509.8,48.8 L510.1,48.6 L510.4,49.1 L510.8,50.5 L511.1,52.5 L511.4,54.8 L511.7,57.3 L512.1,59.6 L512.4,62.1 L512.7,65.0 L513.0,68.1 L513.4,71.3 L513.7,74.2 L514.0,76.8 L514.3,79.2 L514.7,81.5 L515.0,83.8 L515.3,85.8 L515.6,87.5 L516.0,88.8 L516.3,89.9 L516.6,91.0 L516.9,91.9 L517.3,92.6 L517.6,93.1 L517.9,93.3 L518.2,93.3 L518.6,93.3 L518.9,93.2 L519.2,93.1 L519.5,93.1 L519.9,93.0 L520.2,92.8 L520.5,92.6 L520.8,92.3 L521.2,92.0 L521.5,91.8 L521.8,91.6 L522.1,91.5 L522.5,91.4 L522.8,91.2 L523.1,91.1 L523.4,91.1 L523.8,91.0 L524.1,90.9 L524.4,90.9 L524.8,90.9 L525.1,90.9 L525.4,90.9 L525.7,91.0 L526.1,91.0 L526.4,91.1 L526.7,91.1 L527.0,91.2 L527.4,91.2 L527.7,91.3 L528.0,91.3 L528.3,91.4 L528.7,91.4 L529.0,91.5 L529.3,91.5 L529.6,91.6 L530.0,91.7 L530.3,91.7 L530.6,91.8 L530.9,91.8 L531.3,91.9 L531.6,91.9 L531.9,92.0 L532.2,92.0 L532.6,92.0 L532.9,92.1 L533.2,92.1 L533.5,92.1 L533.9,92.1 L534.2,92.2 L534.5,92.2 L534.8,92.2 L535.2,92.2 L535.5,92.3 L535.8,92.3 L536.1,92.4 L536.5,92.4 L536.8,92.5 L537.1,92.6 L537.4,92.6 L537.8,92.7 L538.1,92.8 L538.4,92.8 L538.7,92.9 L539.1,92.9 L539.4,93.0 L539.7,93.0 L540.0,93.0 L540.4,93.1 L540.7,93.1 L541.0,93.1 L541.3,93.2 L541.7,93.2 L542.0,93.2 L542.3,93.3 L542.6,93.3 L543.0,93.3 L543.3,93.3 L543.6,93.3 L543.9,93.3 L544.3,93.3 L544.6,93.4 L544.9,93.4 L545.2,93.4 L545.6,93.4 L545.9,93.4 L546.2,93.4 L546.5,93.4 L546.9,93.4 L547.2,93.4 L547.5,93.4 L547.8,93.5 L548.2,93.5 L548.5,93.5 L548.8,93.5 L549.1,93.5 L549.5,93.5 L549.8,93.5 L550.1,93.5 L550.4,93.5 L550.8,93.5 L551.1,93.5 L551.4,93.5 L551.7,93.5 L552.1,93.6 L552.4,93.6 L552.7,93.6 L553.0,93.6 L553.4,93.6 L553.7,93.6 L554.0,93.6 L554.3,93.6 L554.7,93.6 L555.0,93.6 L555.3,93.6 L555.6,93.6 L556.0,93.6 L556.3,93.6 L556.6,93.6 L556.9,93.6 L557.3,93.6 L557.6,93.6 L557.9,93.6 L558.2,93.6 L558.6,93.6 L558.9,93.6 L559.2,93.6 L559.5,93.6 L559.9,93.6 L560.2,93.6 L560.5,93.7 L560.8,93.7 L561.2,93.7 L561.5,93.7 L561.8,93.7 L562.1,93.7 L562.5,93.7 L562.8,93.7" fill="none" stroke="#1414d4" stroke-width="1.55" stroke-linejoin="round"/>
<path d="M509.73,42.45V97.45" stroke="#000" stroke-width="1.4" stroke-dasharray="7.6 3.7" fill="none"/>
<path d="M519.48,42.45V97.45" stroke="#c014c0" stroke-width="1.8" stroke-dasharray="7.6 2.2 3.4 2.6" fill="none"/>
</g>
<path d="M484.75,97.45V100.65M504.26,97.45V100.65M523.77,97.45V100.65M543.29,97.45V100.65M562.80,97.45V100.65M481.55,94.00H484.75M481.55,76.81H484.75M481.55,59.63H484.75M481.55,42.45H484.75" stroke="#000" stroke-width="1.1" fill="none"/>
<rect x="484.75" y="42.45" width="78.05" height="55.00" fill="none" stroke="#000" stroke-width="1.5"/>
<text transform="translate(480.40,98.90) scale(1.0,0.964)" text-anchor="end" font-weight="bold" font-size="16.5" stroke="#000" stroke-width="0.18">0.0</text>
<text transform="translate(480.40,81.72) scale(1.0,0.964)" text-anchor="end" font-weight="bold" font-size="16.5" stroke="#000" stroke-width="0.18">0.5</text>
<text transform="translate(480.40,64.53) scale(1.0,0.964)" text-anchor="end" font-weight="bold" font-size="16.5" stroke="#000" stroke-width="0.18">1.0</text>
<text transform="translate(480.40,47.35) scale(1.0,0.964)" text-anchor="end" font-weight="bold" font-size="16.5" stroke="#000" stroke-width="0.18">1.5</text>
<text x="486.05" y="39.35" font-weight="bold" font-size="16.5" stroke="#000" stroke-width="0.18">1e<tspan font-size="9.3" dy="-5.9">-4</tspan></text>
<clipPath id="c_r2c1"><rect x="129.90" y="131.90" width="77.90" height="55.50"/></clipPath>
<g clip-path="url(#c_r2c1)">
<path d="M164.2,174.8 L164.7,165.6 L165.3,158.3 L165.8,154.0 L166.4,153.6 L166.9,154.9 L167.5,156.8 L168.0,158.4 L168.6,159.4 L169.1,160.2 L169.7,161.0 L170.3,161.7 L170.8,162.2 L171.4,162.6 L171.9,162.9 L172.5,163.3 L173.0,163.7 L173.6,164.4 L174.1,165.3 L174.7,166.2 L175.2,167.1 L175.8,167.8 L176.3,168.4 L176.9,168.6 L177.4,168.8 L178.0,168.9 L178.5,169.0 L179.1,169.1 L179.6,169.1 L180.2,169.2 L180.7,169.3 L181.3,169.4 L181.8,169.4 L182.4,169.5 L183.0,169.5 L183.5,169.6 L184.1,169.7 L184.6,169.8 L185.2,170.3 L185.7,170.9 L186.3,171.8 L186.8,172.7 L187.4,173.6 L187.9,174.4 L188.5,174.9 L189.0,175.4 L189.6,175.8 L190.1,176.2 L190.7,176.5 L191.2,176.9 L191.8,177.1 L192.3,177.4 L192.9,177.6 L193.4,177.8 L194.0,178.0 L194.5,178.2 L195.1,178.3 L195.7,178.5 L196.2,178.6 L196.8,178.8 L197.3,178.9 L197.9,179.1 L198.4,179.2 L199.0,179.3 L199.5,179.5 L200.1,179.6 L200.6,179.7 L201.2,179.9 L201.7,180.0 L202.3,180.1 L202.8,180.2 L203.4,180.4 L203.9,180.5 L204.5,180.6 L205.0,180.7 L205.6,180.8 L206.1,180.9 L206.7,181.0 L207.2,181.0 L207.8,181.1 L207.8,183.6 L207.2,183.6 L206.7,183.5 L206.1,183.5 L205.6,183.4 L205.0,183.4 L204.5,183.3 L203.9,183.3 L203.4,183.2 L202.8,183.1 L202.3,183.1 L201.7,183.0 L201.2,183.0 L200.6,182.9 L200.1,182.8 L199.5,182.8 L199.0,182.7 L198.4,182.7 L197.9,182.6 L197.3,182.5 L196.8,182.5 L196.2,182.4 L195.7,182.3 L195.1,182.3 L194.5,182.2 L194.0,182.1 L193.4,182.1 L192.9,182.0 L192.3,181.9 L191.8,181.8 L191.2,181.7 L190.7,181.6 L190.1,181.5 L189.6,181.4 L189.0,181.3 L188.5,181.2 L187.9,181.0 L187.4,180.8 L186.8,180.6 L186.3,180.4 L185.7,180.2 L185.2,180.0 L184.6,179.9 L184.1,179.8 L183.5,179.7 L183.0,179.6 L182.4,179.6 L181.8,179.5 L181.3,179.5 L180.7,179.4 L180.2,179.3 L179.6,179.2 L179.1,179.1 L178.5,179.0 L178.0,178.9 L177.4,178.8 L176.9,178.7 L176.3,178.5 L175.8,178.3 L175.2,178.0 L174.7,177.6 L174.1,177.2 L173.6,176.8 L173.0,176.3 L172.5,175.8 L171.9,175.1 L171.4,174.3 L170.8,173.6 L170.3,172.9 L169.7,172.2 L169.1,171.6 L168.6,171.2 L168.0,171.0 L167.5,171.2 L166.9,171.5 L166.4,172.0 L165.8,172.8 L165.3,174.5 L164.7,176.9 L164.2,179.9Z" fill="rgba(242,95,95,0.48)" stroke="none"/>
<path d="M166.9,169.8 L167.4,161.4 L167.9,154.8 L168.5,150.9 L169.0,148.8 L169.5,147.7 L170.0,147.8 L170.5,148.4 L171.0,149.3 L171.6,151.0 L172.1,154.1 L172.6,157.5 L173.1,160.7 L173.6,164.0 L174.2,167.1 L174.7,169.7 L175.2,171.8 L175.7,173.8 L176.2,175.3 L176.7,176.2 L177.3,176.7 L177.8,177.2 L178.3,177.5 L178.8,177.8 L179.3,177.8 L179.8,177.8 L180.4,177.5 L180.9,177.1 L181.4,176.7 L181.9,176.4 L182.4,176.1 L183.0,175.9 L183.5,175.7 L184.0,175.5 L184.5,175.4 L185.0,175.3 L185.5,175.4 L186.1,175.6 L186.6,176.0 L187.1,176.4 L187.6,176.9 L188.1,177.2 L188.6,177.5 L189.2,177.8 L189.7,178.0 L190.2,178.2 L190.7,178.5 L191.2,178.7 L191.8,178.9 L192.3,179.1 L192.8,179.3 L193.3,179.5 L193.8,179.7 L194.3,179.9 L194.9,180.0 L195.4,180.2 L195.9,180.3 L196.4,180.4 L196.9,180.5 L197.4,180.7 L198.0,180.8 L198.5,180.9 L199.0,181.0 L199.5,181.1 L200.0,181.2 L200.6,181.3 L201.1,181.4 L201.6,181.5 L202.1,181.6 L202.6,181.7 L203.1,181.7 L203.7,181.8 L204.2,181.9 L204.7,181.9 L205.2,182.0 L205.7,182.0 L206.2,182.1 L206.8,182.1 L207.3,182.1 L207.8,182.1 L207.8,183.6 L207.3,183.6 L206.8,183.6 L206.2,183.6 L205.7,183.6 L205.2,183.6 L204.7,183.6 L204.2,183.5 L203.7,183.5 L203.1,183.5 L202.6,183.5 L202.1,183.4 L201.6,183.4 L201.1,183.3 L200.6,183.3 L200.0,183.3 L199.5,183.2 L199.0,183.2 L198.5,183.1 L198.0,183.1 L197.4,183.0 L196.9,183.0 L196.4,182.9 L195.9,182.9 L195.4,182.8 L194.9,182.7 L194.3,182.7 L193.8,182.6 L193.3,182.5 L192.8,182.4 L192.3,182.3 L191.8,182.2 L191.2,182.1 L190.7,182.0 L190.2,181.9 L189.7,181.7 L189.2,181.6 L188.6,181.5 L188.1,181.3 L187.6,181.0 L187.1,180.7 L186.6,180.4 L186.1,180.1 L185.5,179.9 L185.0,179.9 L184.5,179.9 L184.0,180.1 L183.5,180.2 L183.0,180.4 L182.4,180.6 L181.9,181.0 L181.4,181.4 L180.9,181.9 L180.4,182.4 L179.8,182.8 L179.3,182.9 L178.8,182.8 L178.3,182.7 L177.8,182.5 L177.3,182.3 L176.7,181.9 L176.2,181.4 L175.7,180.3 L175.2,178.9 L174.7,177.3 L174.2,174.9 L173.6,171.8 L173.1,168.8 L172.6,166.8 L172.1,165.3 L171.6,164.1 L171.0,163.3 L170.5,162.7 L170.0,162.3 L169.5,162.3 L169.0,163.8 L168.5,166.0 L167.9,168.2 L167.4,170.7 L166.9,173.6Z" fill="rgba(95,95,242,0.48)" stroke="none"/>
<path d="M149.38,131.90V187.40M168.85,131.90V187.40M188.33,131.90V187.40" stroke="#000" stroke-width="1.15" stroke-dasharray="1.4 0.7" fill="none"/>
<path d="M129.90,184.90H207.80M129.90,172.30H207.80M129.90,159.70H207.80M129.90,147.10H207.80M129.90,134.50H207.80" stroke="#000" stroke-width="1.45" stroke-dasharray="1.6 0.6" fill="none"/>
<path d="M129.9,183.6 L130.2,183.6 L130.5,183.6 L130.9,183.6 L131.2,183.6 L131.5,183.6 L131.8,183.6 L132.2,183.6 L132.5,183.6 L132.8,183.6 L133.1,183.6 L133.5,183.6 L133.8,183.6 L134.1,183.6 L134.4,183.6 L134.8,183.6 L135.1,183.6 L135.4,183.6 L135.7,183.6 L136.1,183.6 L136.4,183.5 L136.7,183.4 L137.0,183.3 L137.4,183.2 L137.7,183.0 L138.0,182.9 L138.3,182.7 L138.7,182.6 L139.0,182.5 L139.3,182.4 L139.6,182.4 L140.0,182.4 L140.3,182.4 L140.6,182.5 L140.9,182.5 L141.3,182.6 L141.6,182.6 L141.9,182.7 L142.2,182.8 L142.6,182.8 L142.9,182.8 L143.2,182.9 L143.5,182.9 L143.9,182.8 L144.2,182.5 L144.5,182.0 L144.8,181.3 L145.2,180.6 L145.5,179.7 L145.8,178.8 L146.1,177.8 L146.5,176.5 L146.8,174.6 L147.1,172.1 L147.4,169.5 L147.8,167.0 L148.1,165.2 L148.4,164.1 L148.7,163.2 L149.1,162.5 L149.4,162.2 L149.7,162.6 L150.0,163.5 L150.3,164.8 L150.7,166.2 L151.0,167.5 L151.3,169.0 L151.6,170.8 L152.0,172.3 L152.3,173.4 L152.6,173.6 L152.9,173.6 L153.3,173.6 L153.6,173.6 L153.9,173.6 L154.2,173.5 L154.6,172.9 L154.9,172.0 L155.2,171.1 L155.5,170.3 L155.9,169.8 L156.2,169.8 L156.5,170.0 L156.8,170.4 L157.2,170.9 L157.5,171.5 L157.8,172.1 L158.1,172.7 L158.5,173.7 L158.8,174.9 L159.1,176.2 L159.4,177.4 L159.8,178.3 L160.1,179.0 L160.4,179.6 L160.7,180.2 L161.1,180.8 L161.4,181.2 L161.7,181.4 L162.0,181.3 L162.4,180.9 L162.7,180.3 L163.0,179.5 L163.3,178.6 L163.7,177.7 L164.0,176.8 L164.3,175.8 L164.6,174.8 L165.0,173.6 L165.3,172.5 L165.6,171.4 L165.9,170.3 L166.3,169.4 L166.6,168.4 L166.9,167.4 L167.2,166.5 L167.6,165.8 L167.9,165.3 L168.2,165.3 L168.5,165.3 L168.9,165.5 L169.2,165.8 L169.5,166.0 L169.8,166.3 L170.1,166.6 L170.5,166.8 L170.8,167.0 L171.1,167.2 L171.4,167.4 L171.8,167.5 L172.1,167.7 L172.4,168.0 L172.7,168.3 L173.1,168.7 L173.4,169.2 L173.7,169.8 L174.0,170.4 L174.4,171.1 L174.7,171.7 L175.0,172.2 L175.3,172.7 L175.7,173.1 L176.0,173.5 L176.3,173.9 L176.6,174.3 L177.0,174.6 L177.3,174.8 L177.6,174.9 L177.9,175.0 L178.3,175.0 L178.6,175.1 L178.9,175.2 L179.2,175.2 L179.6,175.3 L179.9,175.3 L180.2,175.3 L180.5,175.3 L180.9,175.3 L181.2,175.3 L181.5,175.3 L181.8,175.3 L182.2,175.3 L182.5,175.3 L182.8,175.3 L183.1,175.3 L183.5,175.3 L183.8,175.3 L184.1,175.3 L184.4,175.3 L184.8,175.4 L185.1,175.5 L185.4,175.8 L185.7,176.1 L186.1,176.4 L186.4,176.8 L186.7,177.1 L187.0,177.5 L187.4,177.9 L187.7,178.2 L188.0,178.4 L188.3,178.6 L188.6,178.7 L189.0,178.8 L189.3,179.0 L189.6,179.1 L189.9,179.1 L190.3,179.2 L190.6,179.3 L190.9,179.4 L191.2,179.5 L191.6,179.5 L191.9,179.6 L192.2,179.7 L192.5,179.7 L192.9,179.8 L193.2,179.9 L193.5,180.0 L193.8,180.1 L194.2,180.2 L194.5,180.2 L194.8,180.3 L195.1,180.4 L195.5,180.5 L195.8,180.5 L196.1,180.6 L196.4,180.7 L196.8,180.8 L197.1,180.8 L197.4,180.9 L197.7,181.0 L198.1,181.1 L198.4,181.1 L198.7,181.2 L199.0,181.3 L199.4,181.3 L199.7,181.4 L200.0,181.5 L200.3,181.6 L200.7,181.6 L201.0,181.7 L201.3,181.7 L201.6,181.8 L202.0,181.9 L202.3,181.9 L202.6,182.0 L202.9,182.1 L203.3,182.1 L203.6,182.2 L203.9,182.2 L204.2,182.3 L204.6,182.4 L204.9,182.4 L205.2,182.5 L205.5,182.5 L205.9,182.6 L206.2,182.6 L206.5,182.7 L206.8,182.7 L207.2,182.8 L207.5,182.8 L207.8,182.9" fill="none" stroke="#d61c1c" stroke-width="1.35" stroke-linejoin="round"/>
<path d="M129.9,184.4 L130.2,184.4 L130.5,184.4 L130.9,184.4 L131.2,184.4 L131.5,184.4 L131.8,184.4 L132.2,184.4 L132.5,184.4 L132.8,184.4 L133.1,184.4 L133.5,184.4 L133.8,184.4 L134.1,184.4 L134.4,184.4 L134.8,184.4 L135.1,184.4 L135.4,184.4 L135.7,184.4 L136.1,184.4 L136.4,184.4 L136.7,184.4 L137.0,184.4 L137.4,184.4 L137.7,184.4 L138.0,184.4 L138.3,184.4 L138.7,184.4 L139.0,184.4 L139.3,184.4 L139.6,184.4 L140.0,184.4 L140.3,184.4 L140.6,184.4 L140.9,184.4 L141.3,184.4 L141.6,184.4 L141.9,184.4 L142.2,184.4 L142.6,184.4 L142.9,184.4 L143.2,184.4 L143.5,184.4 L143.9,184.4 L144.2,184.4 L144.5,184.4 L144.8,184.4 L145.2,184.4 L145.5,184.4 L145.8,184.4 L146.1,184.4 L146.5,184.4 L146.8,184.4 L147.1,184.4 L147.4,184.4 L147.8,184.1 L148.1,183.2 L148.4,182.0 L148.7,180.5 L149.1,178.8 L149.4,177.1 L149.7,174.9 L150.0,171.9 L150.3,168.5 L150.7,165.0 L151.0,161.6 L151.3,158.8 L151.6,156.9 L152.0,155.8 L152.3,154.8 L152.6,153.9 L152.9,153.4 L153.3,153.1 L153.6,153.6 L153.9,154.8 L154.2,156.4 L154.6,158.3 L154.9,160.1 L155.2,162.2 L155.5,164.6 L155.9,167.2 L156.2,169.7 L156.5,171.9 L156.8,174.2 L157.2,176.5 L157.5,178.6 L157.8,180.5 L158.1,181.9 L158.5,182.6 L158.8,183.3 L159.1,183.8 L159.4,184.2 L159.8,184.4 L160.1,184.4 L160.4,184.4 L160.7,184.4 L161.1,184.4 L161.4,184.4 L161.7,184.4 L162.0,184.3 L162.4,183.9 L162.7,183.1 L163.0,182.2 L163.3,181.2 L163.7,180.2 L164.0,179.3 L164.3,178.4 L164.6,177.3 L165.0,176.2 L165.3,175.1 L165.6,173.8 L165.9,172.3 L166.3,170.8 L166.6,169.1 L166.9,167.5 L167.2,165.9 L167.6,164.4 L167.9,163.0 L168.2,161.7 L168.5,160.5 L168.9,159.1 L169.2,157.9 L169.5,156.8 L169.8,155.9 L170.1,155.3 L170.5,155.2 L170.8,155.4 L171.1,155.9 L171.4,156.6 L171.8,157.5 L172.1,158.5 L172.4,159.6 L172.7,160.8 L173.1,162.0 L173.4,163.3 L173.7,165.0 L174.0,167.0 L174.4,169.0 L174.7,171.1 L175.0,172.9 L175.3,174.4 L175.7,175.4 L176.0,176.4 L176.3,177.3 L176.6,178.1 L177.0,178.8 L177.3,179.2 L177.6,179.5 L177.9,179.8 L178.3,180.0 L178.6,180.2 L178.9,180.3 L179.2,180.4 L179.6,180.3 L179.9,180.2 L180.2,180.1 L180.5,179.8 L180.9,179.6 L181.2,179.3 L181.5,179.0 L181.8,178.8 L182.2,178.6 L182.5,178.4 L182.8,178.2 L183.1,178.0 L183.5,177.8 L183.8,177.6 L184.1,177.5 L184.4,177.4 L184.8,177.3 L185.1,177.4 L185.4,177.4 L185.7,177.6 L186.1,177.7 L186.4,177.9 L186.7,178.2 L187.0,178.4 L187.4,178.6 L187.7,178.8 L188.0,179.0 L188.3,179.1 L188.6,179.2 L189.0,179.3 L189.3,179.4 L189.6,179.5 L189.9,179.6 L190.3,179.7 L190.6,179.7 L190.9,179.8 L191.2,179.9 L191.6,180.0 L191.9,180.0 L192.2,180.1 L192.5,180.2 L192.9,180.3 L193.2,180.4 L193.5,180.5 L193.8,180.7 L194.2,180.8 L194.5,180.9 L194.8,181.1 L195.1,181.2 L195.5,181.4 L195.8,181.5 L196.1,181.6 L196.4,181.8 L196.8,181.9 L197.1,182.1 L197.4,182.2 L197.7,182.4 L198.1,182.5 L198.4,182.6 L198.7,182.7 L199.0,182.8 L199.4,182.9 L199.7,182.9 L200.0,182.8 L200.3,182.6 L200.7,182.4 L201.0,182.1 L201.3,181.9 L201.6,181.7 L202.0,181.6 L202.3,181.7 L202.6,181.8 L202.9,182.0 L203.3,182.2 L203.6,182.4 L203.9,182.7 L204.2,182.9 L204.6,183.0 L204.9,183.1 L205.2,183.1 L205.5,183.1 L205.9,183.1 L206.2,183.1 L206.5,183.1 L206.8,183.1 L207.2,183.0 L207.5,183.0 L207.8,182.9" fill="none" stroke="#1414d4" stroke-width="1.55" stroke-linejoin="round"/>
<path d="M153.27,131.90V187.40" stroke="#000" stroke-width="1.4" stroke-dasharray="7.6 3.7" fill="none"/>
<path d="M164.57,131.90V187.40" stroke="#c014c0" stroke-width="1.8" stroke-dasharray="7.6 2.2 3.4 2.6" fill="none"/>
</g>
<path d="M129.90,187.40V190.60M149.38,187.40V190.60M168.85,187.40V190.60M188.33,187.40V190.60M207.80,187.40V190.60M126.70,184.90H129.90M126.70,172.30H129.90M126.70,159.70H129.90M126.70,147.10H129.90M126.70,134.50H129.90" stroke="#000" stroke-width="1.1" fill="none"/>
<rect x="129.90" y="131.90" width="77.90" height="55.50" fill="none" stroke="#000" stroke-width="1.5"/>
<text transform="translate(123.40,190.90) scale(1.0,0.955)" text-anchor="end" font-weight="normal" font-size="16.5" stroke="#000" stroke-width="0.32">0.0</text>
<text transform="translate(123.40,178.30) scale(1.0,0.955)" text-anchor="end" font-weight="normal" font-size="16.5" stroke="#000" stroke-width="0.32">0.5</text>
<text transform="translate(123.40,165.70) scale(1.0,0.955)" text-anchor="end" font-weight="normal" font-size="16.5" stroke="#000" stroke-width="0.32">1.0</text>
<text transform="translate(123.40,153.10) scale(1.0,0.955)" text-anchor="end" font-weight="normal" font-size="16.5" stroke="#000" stroke-width="0.32">1.5</text>
<text transform="translate(123.40,140.50) scale(1.0,0.955)" text-anchor="end" font-weight="normal" font-size="16.5" stroke="#000" stroke-width="0.32">2.0</text>
<text x="129.80" y="128.80" font-weight="normal" font-size="16.5" stroke="#000" stroke-width="0.32">1e<tspan font-size="9.3" dy="-5.9">-5</tspan></text>
<clipPath id="c_r2c2"><rect x="248.35" y="129.95" width="77.65" height="55.95"/></clipPath>
<g clip-path="url(#c_r2c2)">
<path d="M283.3,178.0 L283.6,177.7 L283.9,177.3 L284.2,177.0 L284.5,176.7 L284.8,176.4 L285.1,176.1 L285.4,175.8 L285.7,175.5 L285.9,175.2 L286.2,175.1 L286.5,175.1 L286.8,175.0 L287.1,175.0 L287.4,175.0 L287.7,175.0 L288.0,175.0 L288.3,175.0 L288.6,175.0 L288.9,175.1 L289.2,175.2 L289.5,175.4 L289.8,175.5 L290.1,175.7 L290.4,175.8 L290.7,176.0 L291.0,176.0 L291.3,176.1 L291.5,176.1 L291.8,176.1 L292.1,176.2 L292.4,176.2 L292.7,176.2 L293.0,176.2 L293.3,176.2 L293.6,176.3 L293.9,176.3 L294.2,176.3 L294.5,176.3 L294.8,176.4 L295.1,176.4 L295.4,176.5 L295.7,176.7 L296.0,176.9 L296.3,177.1 L296.6,177.3 L296.9,177.5 L297.2,177.8 L297.4,178.0 L297.7,178.3 L298.0,178.5 L298.3,178.7 L298.6,178.8 L298.9,178.9 L299.2,179.0 L299.5,179.0 L299.8,179.1 L300.1,179.2 L300.4,179.2 L300.7,179.3 L301.0,179.3 L301.3,179.4 L301.6,179.4 L301.9,179.5 L302.2,179.5 L302.5,179.5 L302.8,179.6 L303.0,179.6 L303.3,179.6 L303.6,179.7 L303.9,179.7 L304.2,179.7 L304.5,179.7 L304.8,179.8 L305.1,179.8 L305.4,179.8 L305.7,179.8 L306.0,179.9 L306.3,179.9 L306.6,179.9 L306.6,181.6 L306.3,181.6 L306.0,181.5 L305.7,181.5 L305.4,181.5 L305.1,181.5 L304.8,181.5 L304.5,181.4 L304.2,181.4 L303.9,181.4 L303.6,181.3 L303.3,181.3 L303.0,181.3 L302.8,181.2 L302.5,181.2 L302.2,181.2 L301.9,181.1 L301.6,181.1 L301.3,181.0 L301.0,181.0 L300.7,181.0 L300.4,180.9 L300.1,180.8 L299.8,180.8 L299.5,180.7 L299.2,180.6 L298.9,180.6 L298.6,180.5 L298.3,180.3 L298.0,180.2 L297.7,179.9 L297.4,179.7 L297.2,179.5 L296.9,179.2 L296.6,179.0 L296.3,178.8 L296.0,178.5 L295.7,178.4 L295.4,178.2 L295.1,178.1 L294.8,178.1 L294.5,178.0 L294.2,178.0 L293.9,178.0 L293.6,177.9 L293.3,177.9 L293.0,177.9 L292.7,177.9 L292.4,177.9 L292.1,177.9 L291.8,177.8 L291.5,177.8 L291.3,177.8 L291.0,177.7 L290.7,177.6 L290.4,177.5 L290.1,177.4 L289.8,177.2 L289.5,177.0 L289.2,176.9 L288.9,176.8 L288.6,176.7 L288.3,176.7 L288.0,176.7 L287.7,176.7 L287.4,176.7 L287.1,176.7 L286.8,176.7 L286.5,176.7 L286.2,176.8 L285.9,176.9 L285.7,177.2 L285.4,177.5 L285.1,177.8 L284.8,178.1 L284.5,178.4 L284.2,178.7 L283.9,179.0 L283.6,179.3 L283.3,179.7Z" fill="rgba(242,95,95,0.48)" stroke="none"/>
<path d="M267.76,129.95V185.90M287.18,129.95V185.90M306.59,129.95V185.90" stroke="#000" stroke-width="1.15" stroke-dasharray="1.4 0.7" fill="none"/>
<path d="M248.35,182.50H326.00M248.35,164.98H326.00M248.35,147.47H326.00" stroke="#000" stroke-width="1.45" stroke-dasharray="1.6 0.6" fill="none"/>
<path d="M248.3,182.5 L248.7,182.5 L249.0,182.5 L249.3,182.5 L249.6,182.5 L250.0,182.5 L250.3,182.5 L250.6,182.5 L250.9,182.5 L251.3,182.5 L251.6,182.5 L251.9,182.4 L252.2,182.4 L252.6,182.4 L252.9,182.4 L253.2,182.4 L253.5,182.4 L253.9,182.4 L254.2,182.3 L254.5,182.3 L254.8,182.3 L255.1,182.3 L255.5,182.3 L255.8,182.2 L256.1,182.2 L256.4,182.2 L256.8,182.2 L257.1,182.1 L257.4,182.1 L257.7,182.1 L258.1,182.0 L258.4,182.0 L258.7,182.0 L259.0,181.9 L259.4,181.9 L259.7,181.8 L260.0,181.8 L260.3,181.7 L260.6,181.5 L261.0,181.2 L261.3,181.0 L261.6,180.8 L261.9,180.7 L262.3,180.6 L262.6,180.6 L262.9,180.6 L263.2,180.6 L263.6,180.6 L263.9,180.5 L264.2,180.5 L264.5,180.5 L264.9,180.5 L265.2,180.5 L265.5,180.4 L265.8,180.4 L266.1,180.2 L266.5,179.9 L266.8,179.4 L267.1,178.7 L267.4,177.9 L267.8,176.9 L268.1,174.8 L268.4,171.0 L268.7,166.3 L269.1,161.5 L269.4,157.2 L269.7,152.9 L270.0,148.5 L270.4,144.3 L270.7,140.7 L271.0,138.1 L271.3,135.7 L271.6,133.8 L272.0,132.8 L272.3,133.1 L272.6,134.2 L272.9,136.0 L273.3,138.1 L273.6,140.5 L273.9,143.7 L274.2,148.3 L274.6,153.4 L274.9,158.2 L275.2,162.2 L275.5,165.7 L275.9,169.1 L276.2,172.1 L276.5,174.5 L276.8,176.1 L277.1,177.4 L277.5,178.6 L277.8,179.6 L278.1,180.4 L278.4,180.9 L278.8,181.2 L279.1,181.4 L279.4,181.5 L279.7,181.7 L280.1,181.7 L280.4,181.8 L280.7,181.8 L281.0,181.6 L281.4,181.3 L281.7,180.8 L282.0,180.4 L282.3,179.9 L282.6,179.6 L283.0,179.2 L283.3,178.8 L283.6,178.5 L283.9,178.1 L284.3,177.8 L284.6,177.5 L284.9,177.1 L285.2,176.7 L285.6,176.4 L285.9,176.1 L286.2,176.0 L286.5,175.9 L286.9,175.9 L287.2,175.9 L287.5,175.9 L287.8,175.8 L288.1,175.8 L288.5,175.8 L288.8,175.9 L289.1,176.0 L289.4,176.2 L289.8,176.4 L290.1,176.5 L290.4,176.7 L290.7,176.8 L291.1,176.9 L291.4,176.9 L291.7,177.0 L292.0,177.0 L292.4,177.0 L292.7,177.0 L293.0,177.1 L293.3,177.1 L293.6,177.1 L294.0,177.1 L294.3,177.2 L294.6,177.2 L294.9,177.2 L295.3,177.3 L295.6,177.5 L295.9,177.7 L296.2,177.9 L296.6,178.1 L296.9,178.4 L297.2,178.7 L297.5,178.9 L297.9,179.2 L298.2,179.4 L298.5,179.6 L298.8,179.7 L299.1,179.8 L299.5,179.9 L299.8,179.9 L300.1,180.0 L300.4,180.1 L300.8,180.1 L301.1,180.2 L301.4,180.2 L301.7,180.3 L302.1,180.3 L302.4,180.4 L302.7,180.4 L303.0,180.4 L303.4,180.5 L303.7,180.5 L304.0,180.5 L304.3,180.6 L304.6,180.6 L305.0,180.6 L305.3,180.7 L305.6,180.7 L305.9,180.7 L306.3,180.7 L306.6,180.7 L306.9,180.8 L307.2,180.8 L307.6,180.8 L307.9,180.8 L308.2,180.8 L308.5,180.9 L308.9,180.9 L309.2,180.9 L309.5,180.9 L309.8,180.9 L310.1,180.9 L310.5,180.9 L310.8,180.9 L311.1,181.0 L311.4,181.0 L311.8,181.0 L312.1,181.0 L312.4,181.0 L312.7,181.0 L313.1,181.0 L313.4,181.1 L313.7,181.1 L314.0,181.1 L314.4,181.1 L314.7,181.1 L315.0,181.1 L315.3,181.1 L315.6,181.2 L316.0,181.2 L316.3,181.2 L316.6,181.2 L316.9,181.2 L317.3,181.3 L317.6,181.3 L317.9,181.3 L318.2,181.3 L318.6,181.3 L318.9,181.3 L319.2,181.4 L319.5,181.4 L319.9,181.4 L320.2,181.4 L320.5,181.4 L320.8,181.5 L321.1,181.5 L321.5,181.5 L321.8,181.5 L322.1,181.5 L322.4,181.6 L322.8,181.6 L323.1,181.6 L323.4,181.6 L323.7,181.6 L324.1,181.7 L324.4,181.7 L324.7,181.7 L325.0,181.7 L325.4,181.8 L325.7,181.8 L326.0,181.8" fill="none" stroke="#d61c1c" stroke-width="1.35" stroke-linejoin="round"/>
<path d="M248.3,182.5 L248.7,182.5 L249.0,182.5 L249.3,182.5 L249.6,182.5 L250.0,182.5 L250.3,182.5 L250.6,182.5 L250.9,182.5 L251.3,182.5 L251.6,182.5 L251.9,182.5 L252.2,182.5 L252.6,182.5 L252.9,182.5 L253.2,182.5 L253.5,182.5 L253.9,182.5 L254.2,182.5 L254.5,182.5 L254.8,182.5 L255.1,182.5 L255.5,182.5 L255.8,182.5 L256.1,182.5 L256.4,182.5 L256.8,182.5 L257.1,182.5 L257.4,182.5 L257.7,182.5 L258.1,182.5 L258.4,182.5 L258.7,182.5 L259.0,182.5 L259.4,182.5 L259.7,182.5 L260.0,182.5 L260.3,182.5 L260.6,182.5 L261.0,182.5 L261.3,182.5 L261.6,182.5 L261.9,182.5 L262.3,182.5 L262.6,182.5 L262.9,182.5 L263.2,182.5 L263.6,182.5 L263.9,182.5 L264.2,182.5 L264.5,182.5 L264.9,182.5 L265.2,182.5 L265.5,182.5 L265.8,182.5 L266.1,182.5 L266.5,182.5 L266.8,182.5 L267.1,182.5 L267.4,182.2 L267.8,181.8 L268.1,181.1 L268.4,180.3 L268.7,179.5 L269.1,178.6 L269.4,177.3 L269.7,175.7 L270.0,174.0 L270.4,172.5 L270.7,171.2 L271.0,169.9 L271.3,168.6 L271.6,167.6 L272.0,167.1 L272.3,167.3 L272.6,167.9 L272.9,168.9 L273.3,170.1 L273.6,171.3 L273.9,172.7 L274.2,174.5 L274.6,176.4 L274.9,178.1 L275.2,179.2 L275.5,180.0 L275.9,180.7 L276.2,181.3 L276.5,181.7 L276.8,181.8 L277.1,181.9 L277.5,182.0 L277.8,182.1 L278.1,182.2 L278.4,182.2 L278.8,182.3 L279.1,182.3 L279.4,182.4 L279.7,182.4 L280.1,182.5 L280.4,182.5 L280.7,182.5 L281.0,182.5 L281.4,182.5 L281.7,182.4 L282.0,182.1 L282.3,181.8 L282.6,181.3 L283.0,180.9 L283.3,180.4 L283.6,179.9 L283.9,179.2 L284.3,178.5 L284.6,177.8 L284.9,177.2 L285.2,176.9 L285.6,176.7 L285.9,176.5 L286.2,176.4 L286.5,176.3 L286.9,176.2 L287.2,176.2 L287.5,176.3 L287.8,176.4 L288.1,176.6 L288.5,176.9 L288.8,177.2 L289.1,177.4 L289.4,177.6 L289.8,177.7 L290.1,177.8 L290.4,177.9 L290.7,178.0 L291.1,178.1 L291.4,178.2 L291.7,178.3 L292.0,178.3 L292.4,178.3 L292.7,178.3 L293.0,178.2 L293.3,178.2 L293.6,178.1 L294.0,178.0 L294.3,178.0 L294.6,178.0 L294.9,177.9 L295.3,178.0 L295.6,178.1 L295.9,178.2 L296.2,178.3 L296.6,178.5 L296.9,178.7 L297.2,178.9 L297.5,179.1 L297.9,179.3 L298.2,179.5 L298.5,179.6 L298.8,179.7 L299.1,179.8 L299.5,179.8 L299.8,179.9 L300.1,180.0 L300.4,180.0 L300.8,180.1 L301.1,180.1 L301.4,180.2 L301.7,180.2 L302.1,180.3 L302.4,180.3 L302.7,180.4 L303.0,180.5 L303.4,180.5 L303.7,180.6 L304.0,180.7 L304.3,180.8 L304.6,180.8 L305.0,180.9 L305.3,181.0 L305.6,181.0 L305.9,181.1 L306.3,181.1 L306.6,181.1 L306.9,181.1 L307.2,181.1 L307.6,181.1 L307.9,181.1 L308.2,181.1 L308.5,181.1 L308.9,181.1 L309.2,181.1 L309.5,181.1 L309.8,181.1 L310.1,181.1 L310.5,181.1 L310.8,181.1 L311.1,181.1 L311.4,181.1 L311.8,181.1 L312.1,181.1 L312.4,181.1 L312.7,181.1 L313.1,181.1 L313.4,181.1 L313.7,181.1 L314.0,181.1 L314.4,181.1 L314.7,181.1 L315.0,181.1 L315.3,181.1 L315.6,181.1 L316.0,181.1 L316.3,181.1 L316.6,181.1 L316.9,181.1 L317.3,181.2 L317.6,181.2 L317.9,181.2 L318.2,181.2 L318.6,181.2 L318.9,181.2 L319.2,181.2 L319.5,181.3 L319.9,181.3 L320.2,181.3 L320.5,181.3 L320.8,181.4 L321.1,181.4 L321.5,181.4 L321.8,181.4 L322.1,181.5 L322.4,181.5 L322.8,181.5 L323.1,181.5 L323.4,181.6 L323.7,181.6 L324.1,181.6 L324.4,181.6 L324.7,181.7 L325.0,181.7 L325.4,181.7 L325.7,181.8 L326.0,181.8" fill="none" stroke="#1414d4" stroke-width="1.55" stroke-linejoin="round"/>
<path d="M272.03,129.95V185.90" stroke="#000" stroke-width="1.4" stroke-dasharray="7.6 3.7" fill="none"/>
<path d="M283.29,129.95V185.90" stroke="#c014c0" stroke-width="1.8" stroke-dasharray="7.6 2.2 3.4 2.6" fill="none"/>
</g>
<path d="M248.35,185.90V189.10M267.76,185.90V189.10M287.18,185.90V189.10M306.59,185.90V189.10M326.00,185.90V189.10M245.15,182.50H248.35M245.15,164.98H248.35M245.15,147.47H248.35M245.15,129.95H248.35" stroke="#000" stroke-width="1.1" fill="none"/>
<rect x="248.35" y="129.95" width="77.65" height="55.95" fill="none" stroke="#000" stroke-width="1.5"/>
<text transform="translate(243.90,187.35) scale(1.0,0.991)" text-anchor="end" font-weight="bold" font-size="16.5" stroke="#000" stroke-width="0.18">0.00</text>
<text transform="translate(243.90,169.83) scale(1.0,0.991)" text-anchor="end" font-weight="bold" font-size="16.5" stroke="#000" stroke-width="0.18">0.25</text>
<text transform="translate(243.90,152.31) scale(1.0,0.991)" text-anchor="end" font-weight="bold" font-size="16.5" stroke="#000" stroke-width="0.18">0.50</text>
<text transform="translate(243.90,134.80) scale(1.0,0.991)" text-anchor="end" font-weight="bold" font-size="16.5" stroke="#000" stroke-width="0.18">0.75</text>
<text x="248.85" y="126.85" font-weight="bold" font-size="16.5" stroke="#000" stroke-width="0.18">1e<tspan font-size="9.3" dy="-5.9">-4</tspan></text>
<clipPath id="c_r2c3"><rect x="366.60" y="129.95" width="77.90" height="55.95"/></clipPath>
<g clip-path="url(#c_r2c3)">
<path d="M386.08,129.95V185.90M405.55,129.95V185.90M425.02,129.95V185.90" stroke="#000" stroke-width="1.15" stroke-dasharray="1.4 0.7" fill="none"/>
<path d="M366.60,182.50H444.50M366.60,164.98H444.50M366.60,147.46H444.50" stroke="#000" stroke-width="1.45" stroke-dasharray="1.6 0.6" fill="none"/>
<path d="M366.6,182.5 L366.9,182.5 L367.2,182.5 L367.6,182.5 L367.9,182.5 L368.2,182.5 L368.5,182.5 L368.9,182.5 L369.2,182.5 L369.5,182.5 L369.8,182.5 L370.2,182.5 L370.5,182.5 L370.8,182.5 L371.1,182.5 L371.5,182.5 L371.8,182.5 L372.1,182.5 L372.4,182.5 L372.8,182.5 L373.1,182.5 L373.4,182.5 L373.7,182.5 L374.1,182.5 L374.4,182.4 L374.7,182.4 L375.0,182.4 L375.4,182.4 L375.7,182.4 L376.0,182.4 L376.3,182.4 L376.7,182.4 L377.0,182.4 L377.3,182.4 L377.6,182.4 L378.0,182.4 L378.3,182.4 L378.6,182.3 L378.9,182.3 L379.3,182.3 L379.6,182.3 L379.9,182.3 L380.2,182.3 L380.6,182.3 L380.9,182.3 L381.2,182.2 L381.5,182.2 L381.9,182.2 L382.2,182.2 L382.5,182.2 L382.8,182.2 L383.2,182.1 L383.5,181.8 L383.8,181.4 L384.1,180.7 L384.5,179.9 L384.8,179.0 L385.1,178.1 L385.4,176.9 L385.8,175.0 L386.1,172.4 L386.4,169.4 L386.7,166.3 L387.0,163.3 L387.4,160.6 L387.7,157.9 L388.0,155.1 L388.3,152.4 L388.7,149.9 L389.0,147.8 L389.3,146.1 L389.6,144.6 L390.0,144.0 L390.3,144.3 L390.6,145.3 L390.9,146.6 L391.3,148.1 L391.6,150.5 L391.9,153.6 L392.2,157.0 L392.6,160.3 L392.9,163.3 L393.2,166.6 L393.5,169.8 L393.9,172.7 L394.2,175.0 L394.5,176.6 L394.8,178.0 L395.2,179.3 L395.5,180.4 L395.8,181.1 L396.1,181.6 L396.5,181.8 L396.8,181.9 L397.1,182.0 L397.4,182.1 L397.8,182.2 L398.1,182.3 L398.4,182.4 L398.7,182.4 L399.1,182.5 L399.4,182.5 L399.7,182.5 L400.0,182.5 L400.4,182.4 L400.7,182.3 L401.0,182.2 L401.3,182.1 L401.7,182.0 L402.0,181.9 L402.3,181.8 L402.6,181.7 L403.0,181.6 L403.3,181.5 L403.6,181.5 L403.9,181.4 L404.3,181.4 L404.6,181.3 L404.9,181.3 L405.2,181.3 L405.6,181.3 L405.9,181.3 L406.2,181.3 L406.5,181.3 L406.8,181.4 L407.2,181.4 L407.5,181.5 L407.8,181.5 L408.1,181.6 L408.5,181.6 L408.8,181.7 L409.1,181.8 L409.4,181.8 L409.8,181.8 L410.1,181.9 L410.4,182.0 L410.7,182.0 L411.1,182.1 L411.4,182.1 L411.7,182.2 L412.0,182.2 L412.4,182.3 L412.7,182.3 L413.0,182.3 L413.3,182.3 L413.7,182.3 L414.0,182.3 L414.3,182.3 L414.6,182.3 L415.0,182.3 L415.3,182.4 L415.6,182.4 L415.9,182.4 L416.3,182.4 L416.6,182.4 L416.9,182.4 L417.2,182.4 L417.6,182.4 L417.9,182.4 L418.2,182.4 L418.5,182.4 L418.9,182.4 L419.2,182.4 L419.5,182.4 L419.8,182.4 L420.2,182.4 L420.5,182.4 L420.8,182.4 L421.1,182.4 L421.5,182.4 L421.8,182.4 L422.1,182.4 L422.4,182.4 L422.8,182.4 L423.1,182.4 L423.4,182.4 L423.7,182.4 L424.1,182.4 L424.4,182.4 L424.7,182.4 L425.0,182.4 L425.3,182.4 L425.7,182.4 L426.0,182.5 L426.3,182.5 L426.6,182.5 L427.0,182.5 L427.3,182.5 L427.6,182.5 L427.9,182.5 L428.3,182.5 L428.6,182.5 L428.9,182.5 L429.2,182.5 L429.6,182.5 L429.9,182.5 L430.2,182.5 L430.5,182.5 L430.9,182.5 L431.2,182.5 L431.5,182.5 L431.8,182.5 L432.2,182.5 L432.5,182.5 L432.8,182.5 L433.1,182.5 L433.5,182.5 L433.8,182.5 L434.1,182.5 L434.4,182.5 L434.8,182.5 L435.1,182.5 L435.4,182.5 L435.7,182.5 L436.1,182.5 L436.4,182.5 L436.7,182.5 L437.0,182.5 L437.4,182.5 L437.7,182.5 L438.0,182.5 L438.3,182.5 L438.7,182.5 L439.0,182.5 L439.3,182.5 L439.6,182.5 L440.0,182.5 L440.3,182.5 L440.6,182.5 L440.9,182.5 L441.3,182.5 L441.6,182.5 L441.9,182.5 L442.2,182.5 L442.6,182.5 L442.9,182.5 L443.2,182.5 L443.5,182.5 L443.9,182.5 L444.2,182.5 L444.5,182.5" fill="none" stroke="#d61c1c" stroke-width="1.35" stroke-linejoin="round"/>
<path d="M366.6,182.5 L366.9,182.5 L367.2,182.5 L367.6,182.5 L367.9,182.5 L368.2,182.5 L368.5,182.5 L368.9,182.5 L369.2,182.5 L369.5,182.5 L369.8,182.5 L370.2,182.5 L370.5,182.5 L370.8,182.5 L371.1,182.5 L371.5,182.5 L371.8,182.5 L372.1,182.5 L372.4,182.5 L372.8,182.5 L373.1,182.5 L373.4,182.5 L373.7,182.5 L374.1,182.5 L374.4,182.5 L374.7,182.5 L375.0,182.5 L375.4,182.5 L375.7,182.5 L376.0,182.5 L376.3,182.5 L376.7,182.5 L377.0,182.5 L377.3,182.5 L377.6,182.5 L378.0,182.5 L378.3,182.5 L378.6,182.5 L378.9,182.5 L379.3,182.5 L379.6,182.5 L379.9,182.5 L380.2,182.5 L380.6,182.5 L380.9,182.5 L381.2,182.5 L381.5,182.5 L381.9,182.5 L382.2,182.5 L382.5,182.5 L382.8,182.5 L383.2,182.5 L383.5,182.5 L383.8,182.5 L384.1,182.5 L384.5,182.5 L384.8,182.5 L385.1,182.4 L385.4,182.1 L385.8,181.5 L386.1,180.7 L386.4,179.7 L386.7,178.6 L387.0,177.2 L387.4,175.1 L387.7,172.4 L388.0,169.5 L388.3,166.8 L388.7,164.4 L389.0,161.6 L389.3,158.9 L389.6,157.0 L390.0,156.2 L390.3,156.5 L390.6,157.2 L390.9,158.2 L391.3,159.4 L391.6,161.7 L391.9,164.8 L392.2,168.1 L392.6,171.0 L392.9,173.3 L393.2,175.6 L393.5,177.7 L393.9,179.5 L394.2,180.6 L394.5,181.2 L394.8,181.7 L395.2,182.1 L395.5,182.4 L395.8,182.5 L396.1,182.5 L396.5,182.5 L396.8,182.5 L397.1,182.5 L397.4,182.5 L397.8,182.5 L398.1,182.4 L398.4,182.4 L398.7,182.4 L399.1,182.4 L399.4,182.4 L399.7,182.3 L400.0,182.3 L400.4,182.3 L400.7,182.3 L401.0,182.2 L401.3,182.2 L401.7,182.1 L402.0,182.1 L402.3,181.9 L402.6,181.7 L403.0,181.5 L403.3,181.3 L403.6,181.1 L403.9,181.0 L404.3,180.9 L404.6,180.8 L404.9,180.6 L405.2,180.6 L405.6,180.5 L405.9,180.4 L406.2,180.4 L406.5,180.4 L406.8,180.4 L407.2,180.5 L407.5,180.6 L407.8,180.6 L408.1,180.7 L408.5,180.8 L408.8,180.9 L409.1,181.0 L409.4,181.1 L409.8,181.2 L410.1,181.3 L410.4,181.4 L410.7,181.5 L411.1,181.6 L411.4,181.6 L411.7,181.7 L412.0,181.7 L412.4,181.8 L412.7,181.9 L413.0,181.9 L413.3,182.0 L413.7,182.0 L414.0,182.1 L414.3,182.1 L414.6,182.1 L415.0,182.1 L415.3,182.1 L415.6,182.2 L415.9,182.2 L416.3,182.2 L416.6,182.2 L416.9,182.2 L417.2,182.2 L417.6,182.2 L417.9,182.2 L418.2,182.2 L418.5,182.2 L418.9,182.2 L419.2,182.2 L419.5,182.3 L419.8,182.3 L420.2,182.3 L420.5,182.3 L420.8,182.3 L421.1,182.3 L421.5,182.3 L421.8,182.3 L422.1,182.3 L422.4,182.3 L422.8,182.3 L423.1,182.3 L423.4,182.3 L423.7,182.3 L424.1,182.3 L424.4,182.4 L424.7,182.4 L425.0,182.4 L425.3,182.4 L425.7,182.4 L426.0,182.4 L426.3,182.4 L426.6,182.4 L427.0,182.4 L427.3,182.4 L427.6,182.4 L427.9,182.4 L428.3,182.4 L428.6,182.4 L428.9,182.4 L429.2,182.4 L429.6,182.4 L429.9,182.4 L430.2,182.4 L430.5,182.4 L430.9,182.4 L431.2,182.4 L431.5,182.4 L431.8,182.4 L432.2,182.4 L432.5,182.5 L432.8,182.5 L433.1,182.5 L433.5,182.5 L433.8,182.5 L434.1,182.5 L434.4,182.5 L434.8,182.5 L435.1,182.5 L435.4,182.5 L435.7,182.5 L436.1,182.5 L436.4,182.5 L436.7,182.5 L437.0,182.5 L437.4,182.5 L437.7,182.5 L438.0,182.5 L438.3,182.5 L438.7,182.5 L439.0,182.5 L439.3,182.5 L439.6,182.5 L440.0,182.5 L440.3,182.5 L440.6,182.5 L440.9,182.5 L441.3,182.5 L441.6,182.5 L441.9,182.5 L442.2,182.5 L442.6,182.5 L442.9,182.5 L443.2,182.5 L443.5,182.5 L443.9,182.5 L444.2,182.5 L444.5,182.5" fill="none" stroke="#1414d4" stroke-width="1.55" stroke-linejoin="round"/>
<path d="M389.39,129.95V185.90" stroke="#000" stroke-width="1.4" stroke-dasharray="7.6 3.7" fill="none"/>
<path d="M400.88,129.95V185.90" stroke="#c014c0" stroke-width="1.8" stroke-dasharray="7.6 2.2 3.4 2.6" fill="none"/>
</g>
<path d="M366.60,185.90V189.10M386.08,185.90V189.10M405.55,185.90V189.10M425.02,185.90V189.10M444.50,185.90V189.10M363.40,182.50H366.60M363.40,164.98H366.60M363.40,147.46H366.60M363.40,129.94H366.60" stroke="#000" stroke-width="1.1" fill="none"/>
<rect x="366.60" y="129.95" width="77.90" height="55.95" fill="none" stroke="#000" stroke-width="1.5"/>
<text transform="translate(362.40,187.50) scale(1.0,0.973)" text-anchor="end" font-weight="bold" font-size="16.5" stroke="#000" stroke-width="0.18">0.0</text>
<text transform="translate(362.40,169.98) scale(1.0,0.973)" text-anchor="end" font-weight="bold" font-size="16.5" stroke="#000" stroke-width="0.18">1.0</text>
<text transform="translate(362.40,152.46) scale(1.0,0.973)" text-anchor="end" font-weight="bold" font-size="16.5" stroke="#000" stroke-width="0.18">2.0</text>
<text transform="translate(362.40,134.94) scale(1.0,0.973)" text-anchor="end" font-weight="bold" font-size="16.5" stroke="#000" stroke-width="0.18">3.0</text>
<text x="367.50" y="126.85" font-weight="bold" font-size="16.5" stroke="#000" stroke-width="0.18">1e<tspan font-size="9.3" dy="-5.9">-4</tspan></text>
<clipPath id="c_r2c4"><rect x="484.75" y="132.05" width="78.05" height="55.45"/></clipPath>
<g clip-path="url(#c_r2c4)">
<path d="M504.26,132.05V187.50M523.77,132.05V187.50M543.29,132.05V187.50" stroke="#000" stroke-width="1.15" stroke-dasharray="1.4 0.7" fill="none"/>
<path d="M484.75,184.85H562.80M484.75,164.73H562.80M484.75,144.61H562.80" stroke="#000" stroke-width="1.45" stroke-dasharray="1.6 0.6" fill="none"/>
<path d="M484.8,184.8 L485.1,184.8 L485.4,184.8 L485.7,184.8 L486.1,184.8 L486.4,184.8 L486.7,184.8 L487.0,184.8 L487.4,184.8 L487.7,184.8 L488.0,184.8 L488.3,184.8 L488.7,184.8 L489.0,184.8 L489.3,184.8 L489.6,184.8 L490.0,184.8 L490.3,184.8 L490.6,184.8 L490.9,184.8 L491.3,184.8 L491.6,184.8 L491.9,184.8 L492.2,184.8 L492.6,184.8 L492.9,184.8 L493.2,184.8 L493.5,184.8 L493.9,184.8 L494.2,184.8 L494.5,184.8 L494.8,184.8 L495.2,184.8 L495.5,184.8 L495.8,184.8 L496.1,184.8 L496.5,184.8 L496.8,184.8 L497.1,184.8 L497.4,184.8 L497.8,184.7 L498.1,184.7 L498.4,184.7 L498.7,184.7 L499.1,184.7 L499.4,184.7 L499.7,184.7 L500.0,184.7 L500.4,184.7 L500.7,184.7 L501.0,184.7 L501.3,184.7 L501.7,184.6 L502.0,184.2 L502.3,183.5 L502.6,182.5 L503.0,181.3 L503.3,180.0 L503.6,178.5 L503.9,176.2 L504.3,173.1 L504.6,169.7 L504.9,166.0 L505.2,162.5 L505.6,159.2 L505.9,155.5 L506.2,151.5 L506.5,147.7 L506.9,144.5 L507.2,142.3 L507.5,141.5 L507.8,141.0 L508.2,140.8 L508.5,141.5 L508.8,143.2 L509.1,145.3 L509.5,147.5 L509.8,150.1 L510.1,153.2 L510.4,156.5 L510.8,159.8 L511.1,163.0 L511.4,165.8 L511.7,168.7 L512.1,171.6 L512.4,174.4 L512.7,176.9 L513.0,178.9 L513.4,180.4 L513.7,181.6 L514.0,182.8 L514.3,183.6 L514.7,184.2 L515.0,184.5 L515.3,184.7 L515.6,184.8 L516.0,184.8 L516.3,184.8 L516.6,184.8 L516.9,184.8 L517.3,184.8 L517.6,184.8 L517.9,184.7 L518.2,184.7 L518.6,184.6 L518.9,184.6 L519.2,184.6 L519.5,184.5 L519.9,184.5 L520.2,184.4 L520.5,184.4 L520.8,184.4 L521.2,184.4 L521.5,184.4 L521.8,184.3 L522.1,184.3 L522.5,184.3 L522.8,184.3 L523.1,184.3 L523.4,184.3 L523.8,184.3 L524.1,184.3 L524.4,184.3 L524.8,184.3 L525.1,184.3 L525.4,184.3 L525.7,184.3 L526.1,184.4 L526.4,184.4 L526.7,184.4 L527.0,184.4 L527.4,184.4 L527.7,184.5 L528.0,184.5 L528.3,184.6 L528.7,184.6 L529.0,184.6 L529.3,184.7 L529.6,184.7 L530.0,184.8 L530.3,184.8 L530.6,184.8 L530.9,184.8 L531.3,184.8 L531.6,184.8 L531.9,184.8 L532.2,184.8 L532.6,184.8 L532.9,184.8 L533.2,184.8 L533.5,184.8 L533.9,184.8 L534.2,184.8 L534.5,184.8 L534.8,184.8 L535.2,184.8 L535.5,184.8 L535.8,184.8 L536.1,184.8 L536.5,184.8 L536.8,184.8 L537.1,184.8 L537.4,184.8 L537.8,184.8 L538.1,184.8 L538.4,184.8 L538.7,184.8 L539.1,184.8 L539.4,184.8 L539.7,184.8 L540.0,184.8 L540.4,184.8 L540.7,184.8 L541.0,184.8 L541.3,184.8 L541.7,184.8 L542.0,184.8 L542.3,184.8 L542.6,184.8 L543.0,184.8 L543.3,184.8 L543.6,184.8 L543.9,184.8 L544.3,184.8 L544.6,184.8 L544.9,184.8 L545.2,184.8 L545.6,184.8 L545.9,184.8 L546.2,184.8 L546.5,184.8 L546.9,184.8 L547.2,184.8 L547.5,184.8 L547.8,184.8 L548.2,184.8 L548.5,184.8 L548.8,184.8 L549.1,184.8 L549.5,184.8 L549.8,184.8 L550.1,184.8 L550.4,184.8 L550.8,184.8 L551.1,184.8 L551.4,184.8 L551.7,184.8 L552.1,184.8 L552.4,184.8 L552.7,184.8 L553.0,184.8 L553.4,184.8 L553.7,184.8 L554.0,184.8 L554.3,184.8 L554.7,184.8 L555.0,184.8 L555.3,184.8 L555.6,184.8 L556.0,184.8 L556.3,184.8 L556.6,184.8 L556.9,184.8 L557.3,184.8 L557.6,184.8 L557.9,184.8 L558.2,184.8 L558.6,184.8 L558.9,184.8 L559.2,184.8 L559.5,184.8 L559.9,184.8 L560.2,184.8 L560.5,184.8 L560.8,184.8 L561.2,184.8 L561.5,184.8 L561.8,184.8 L562.1,184.8 L562.5,184.8 L562.8,184.8" fill="none" stroke="#d61c1c" stroke-width="1.35" stroke-linejoin="round"/>
<path d="M484.8,184.8 L485.1,184.8 L485.4,184.8 L485.7,184.8 L486.1,184.8 L486.4,184.8 L486.7,184.8 L487.0,184.8 L487.4,184.8 L487.7,184.8 L488.0,184.8 L488.3,184.8 L488.7,184.8 L489.0,184.8 L489.3,184.8 L489.6,184.8 L490.0,184.8 L490.3,184.8 L490.6,184.8 L490.9,184.8 L491.3,184.8 L491.6,184.8 L491.9,184.8 L492.2,184.8 L492.6,184.8 L492.9,184.8 L493.2,184.8 L493.5,184.8 L493.9,184.8 L494.2,184.8 L494.5,184.8 L494.8,184.8 L495.2,184.8 L495.5,184.8 L495.8,184.8 L496.1,184.8 L496.5,184.8 L496.8,184.8 L497.1,184.8 L497.4,184.8 L497.8,184.8 L498.1,184.8 L498.4,184.8 L498.7,184.8 L499.1,184.8 L499.4,184.8 L499.7,184.8 L500.0,184.8 L500.4,184.8 L500.7,184.8 L501.0,184.8 L501.3,184.8 L501.7,184.8 L502.0,184.8 L502.3,184.8 L502.6,184.8 L503.0,184.7 L503.3,184.2 L503.6,183.4 L503.9,182.3 L504.3,181.2 L504.6,180.0 L504.9,178.7 L505.2,177.0 L505.6,175.1 L505.9,173.1 L506.2,171.3 L506.5,169.8 L506.9,168.6 L507.2,167.5 L507.5,166.5 L507.8,165.8 L508.2,165.5 L508.5,165.8 L508.8,166.5 L509.1,167.6 L509.5,168.8 L509.8,170.0 L510.1,171.7 L510.4,173.8 L510.8,175.9 L511.1,177.9 L511.4,179.4 L511.7,180.7 L512.1,181.9 L512.4,183.0 L512.7,183.7 L513.0,184.0 L513.4,184.4 L513.7,184.6 L514.0,184.8 L514.3,184.8 L514.7,184.8 L515.0,184.8 L515.3,184.8 L515.6,184.8 L516.0,184.8 L516.3,184.8 L516.6,184.8 L516.9,184.7 L517.3,184.7 L517.6,184.7 L517.9,184.7 L518.2,184.6 L518.6,184.6 L518.9,184.6 L519.2,184.6 L519.5,184.5 L519.9,184.5 L520.2,184.5 L520.5,184.4 L520.8,184.4 L521.2,184.4 L521.5,184.4 L521.8,184.3 L522.1,184.3 L522.5,184.3 L522.8,184.3 L523.1,184.3 L523.4,184.2 L523.8,184.2 L524.1,184.2 L524.4,184.2 L524.8,184.2 L525.1,184.2 L525.4,184.1 L525.7,184.1 L526.1,184.1 L526.4,184.2 L526.7,184.2 L527.0,184.2 L527.4,184.2 L527.7,184.3 L528.0,184.3 L528.3,184.3 L528.7,184.4 L529.0,184.4 L529.3,184.4 L529.6,184.4 L530.0,184.5 L530.3,184.5 L530.6,184.5 L530.9,184.6 L531.3,184.6 L531.6,184.6 L531.9,184.6 L532.2,184.7 L532.6,184.7 L532.9,184.7 L533.2,184.8 L533.5,184.8 L533.9,184.8 L534.2,184.8 L534.5,184.8 L534.8,184.8 L535.2,184.8 L535.5,184.8 L535.8,184.8 L536.1,184.8 L536.5,184.8 L536.8,184.8 L537.1,184.8 L537.4,184.8 L537.8,184.8 L538.1,184.8 L538.4,184.8 L538.7,184.8 L539.1,184.8 L539.4,184.8 L539.7,184.8 L540.0,184.8 L540.4,184.8 L540.7,184.8 L541.0,184.8 L541.3,184.8 L541.7,184.8 L542.0,184.8 L542.3,184.8 L542.6,184.8 L543.0,184.8 L543.3,184.8 L543.6,184.8 L543.9,184.8 L544.3,184.8 L544.6,184.8 L544.9,184.8 L545.2,184.8 L545.6,184.8 L545.9,184.8 L546.2,184.8 L546.5,184.8 L546.9,184.8 L547.2,184.8 L547.5,184.8 L547.8,184.8 L548.2,184.8 L548.5,184.8 L548.8,184.8 L549.1,184.8 L549.5,184.8 L549.8,184.8 L550.1,184.8 L550.4,184.8 L550.8,184.8 L551.1,184.8 L551.4,184.8 L551.7,184.8 L552.1,184.8 L552.4,184.8 L552.7,184.8 L553.0,184.8 L553.4,184.8 L553.7,184.8 L554.0,184.8 L554.3,184.8 L554.7,184.8 L555.0,184.8 L555.3,184.8 L555.6,184.8 L556.0,184.8 L556.3,184.8 L556.6,184.8 L556.9,184.8 L557.3,184.8 L557.6,184.8 L557.9,184.8 L558.2,184.8 L558.6,184.8 L558.9,184.8 L559.2,184.8 L559.5,184.8 L559.9,184.8 L560.2,184.8 L560.5,184.8 L560.8,184.8 L561.2,184.8 L561.5,184.8 L561.8,184.8 L562.1,184.8 L562.5,184.8 L562.8,184.8" fill="none" stroke="#1414d4" stroke-width="1.55" stroke-linejoin="round"/>
<path d="M508.24,132.05V187.50" stroke="#000" stroke-width="1.4" stroke-dasharray="7.6 3.7" fill="none"/>
<path d="M519.48,132.05V187.50" stroke="#c014c0" stroke-width="1.8" stroke-dasharray="7.6 2.2 3.4 2.6" fill="none"/>
</g>
<path d="M484.75,187.50V190.70M504.26,187.50V190.70M523.77,187.50V190.70M543.29,187.50V190.70M562.80,187.50V190.70M481.55,184.85H484.75M481.55,164.73H484.75M481.55,144.61H484.75" stroke="#000" stroke-width="1.1" fill="none"/>
<rect x="484.75" y="132.05" width="78.05" height="55.45" fill="none" stroke="#000" stroke-width="1.5"/>
<text transform="translate(480.10,189.80) scale(1.0,0.991)" text-anchor="end" font-weight="bold" font-size="16.5" stroke="#000" stroke-width="0.18">0.0</text>
<text transform="translate(480.10,169.68) scale(1.0,0.991)" text-anchor="end" font-weight="bold" font-size="16.5" stroke="#000" stroke-width="0.18">2.0</text>
<text transform="translate(480.10,149.56) scale(1.0,0.991)" text-anchor="end" font-weight="bold" font-size="16.5" stroke="#000" stroke-width="0.18">4.0</text>
<text x="486.05" y="128.95" font-weight="bold" font-size="16.5" stroke="#000" stroke-width="0.18">1e<tspan font-size="9.3" dy="-5.9">-4</tspan></text>
<clipPath id="c_r3c1"><rect x="130.10" y="222.50" width="77.70" height="54.40"/></clipPath>
<g clip-path="url(#c_r3c1)">
<path d="M164.3,254.7 L164.8,230.3 L165.4,223.2 L165.9,222.5 L166.5,223.6 L167.0,225.3 L167.6,226.1 L168.1,226.5 L168.7,226.8 L169.2,227.1 L169.8,227.5 L170.3,228.3 L170.9,229.4 L171.4,230.8 L172.0,232.2 L172.5,234.1 L173.1,236.3 L173.7,238.6 L174.2,240.5 L174.8,242.2 L175.3,243.8 L175.9,245.2 L176.4,246.3 L177.0,247.0 L177.5,247.6 L178.1,248.0 L178.6,248.4 L179.2,248.7 L179.7,249.1 L180.3,249.5 L180.8,249.9 L181.4,250.4 L181.9,250.9 L182.5,251.4 L183.0,251.9 L183.6,252.4 L184.1,252.9 L184.7,253.3 L185.2,253.8 L185.8,254.3 L186.3,254.7 L186.9,255.2 L187.4,255.6 L188.0,255.9 L188.5,256.2 L189.1,256.5 L189.6,256.7 L190.2,256.9 L190.7,257.1 L191.3,257.3 L191.8,257.5 L192.4,257.7 L192.9,257.9 L193.5,258.2 L194.0,258.5 L194.6,258.8 L195.1,259.1 L195.7,259.4 L196.2,259.7 L196.8,260.0 L197.3,260.4 L197.9,260.8 L198.4,261.2 L199.0,261.6 L199.5,261.9 L200.1,262.1 L200.6,262.3 L201.2,262.5 L201.7,262.6 L202.3,262.8 L202.8,262.9 L203.4,263.0 L203.9,263.1 L204.5,263.2 L205.0,263.3 L205.6,263.4 L206.1,263.4 L206.7,263.5 L207.2,263.5 L207.8,263.6 L207.8,268.5 L207.2,268.5 L206.7,268.4 L206.1,268.4 L205.6,268.3 L205.0,268.2 L204.5,268.1 L203.9,268.0 L203.4,267.9 L202.8,267.8 L202.3,267.7 L201.7,267.6 L201.2,267.4 L200.6,267.3 L200.1,267.1 L199.5,266.8 L199.0,266.5 L198.4,266.2 L197.9,265.8 L197.3,265.4 L196.8,265.0 L196.2,264.6 L195.7,264.3 L195.1,264.0 L194.6,263.7 L194.0,263.4 L193.5,263.2 L192.9,262.9 L192.4,262.6 L191.8,262.4 L191.3,262.2 L190.7,262.0 L190.2,261.8 L189.6,261.6 L189.1,261.4 L188.5,261.2 L188.0,260.9 L187.4,260.5 L186.9,260.1 L186.3,259.7 L185.8,259.2 L185.2,258.8 L184.7,258.3 L184.1,257.8 L183.6,257.3 L183.0,256.8 L182.5,256.3 L181.9,255.8 L181.4,255.3 L180.8,254.8 L180.3,254.4 L179.7,254.0 L179.2,253.7 L178.6,253.3 L178.1,253.0 L177.5,252.5 L177.0,252.0 L176.4,251.2 L175.9,250.1 L175.3,248.7 L174.8,247.1 L174.2,245.4 L173.7,243.6 L173.1,241.3 L172.5,239.0 L172.0,237.2 L171.4,235.7 L170.9,234.4 L170.3,233.3 L169.8,232.5 L169.2,232.0 L168.7,231.7 L168.1,231.5 L167.6,231.1 L167.0,230.2 L166.5,228.6 L165.9,227.5 L165.4,228.2 L164.8,235.2 L164.3,259.6Z" fill="rgba(242,95,95,0.48)" stroke="none"/>
<path d="M164.3,255.2 L164.8,245.8 L165.4,234.5 L165.9,229.1 L166.5,227.5 L167.0,227.0 L167.6,227.3 L168.1,227.9 L168.7,228.4 L169.2,228.4 L169.8,228.2 L170.3,228.0 L170.9,227.9 L171.4,228.8 L172.0,230.9 L172.5,233.3 L173.1,235.4 L173.7,237.6 L174.2,239.8 L174.8,241.7 L175.3,243.4 L175.9,245.0 L176.4,246.3 L177.0,247.0 L177.5,247.6 L178.1,248.0 L178.6,248.4 L179.2,248.8 L179.7,249.1 L180.3,249.5 L180.8,249.9 L181.4,250.4 L181.9,250.9 L182.5,251.4 L183.0,251.9 L183.6,252.4 L184.1,252.9 L184.7,253.3 L185.2,253.8 L185.8,254.2 L186.3,254.7 L186.9,255.1 L187.4,255.5 L188.0,255.9 L188.5,256.2 L189.1,256.6 L189.6,256.9 L190.2,257.1 L190.7,257.4 L191.3,257.7 L191.8,257.9 L192.4,258.2 L192.9,258.5 L193.5,258.8 L194.0,259.0 L194.6,259.3 L195.1,259.6 L195.7,259.9 L196.2,260.2 L196.8,260.5 L197.3,260.7 L197.9,261.0 L198.4,261.3 L199.0,261.6 L199.5,261.9 L200.1,262.1 L200.6,262.4 L201.2,262.6 L201.7,262.9 L202.3,263.1 L202.8,263.3 L203.4,263.5 L203.9,263.6 L204.5,263.7 L205.0,263.8 L205.6,263.9 L206.1,264.0 L206.7,264.0 L207.2,264.1 L207.8,264.1 L207.8,268.0 L207.2,268.0 L206.7,268.0 L206.1,267.9 L205.6,267.8 L205.0,267.8 L204.5,267.7 L203.9,267.6 L203.4,267.4 L202.8,267.3 L202.3,267.1 L201.7,266.8 L201.2,266.6 L200.6,266.3 L200.1,266.1 L199.5,265.8 L199.0,265.6 L198.4,265.3 L197.9,265.0 L197.3,264.7 L196.8,264.4 L196.2,264.1 L195.7,263.8 L195.1,263.6 L194.6,263.3 L194.0,263.0 L193.5,262.7 L192.9,262.4 L192.4,262.2 L191.8,261.9 L191.3,261.6 L190.7,261.4 L190.2,261.1 L189.6,260.8 L189.1,260.5 L188.5,260.2 L188.0,259.9 L187.4,259.5 L186.9,259.1 L186.3,258.6 L185.8,258.2 L185.2,257.8 L184.7,257.3 L184.1,256.8 L183.6,256.4 L183.0,255.8 L182.5,255.3 L181.9,254.8 L181.4,254.3 L180.8,253.9 L180.3,253.4 L179.7,253.0 L179.2,252.7 L178.6,252.4 L178.1,252.0 L177.5,251.6 L177.0,251.0 L176.4,250.2 L175.9,249.0 L175.3,247.4 L174.8,245.7 L174.2,243.8 L173.7,241.5 L173.1,239.3 L172.5,237.2 L172.0,234.8 L171.4,232.8 L170.9,231.9 L170.3,232.0 L169.8,232.2 L169.2,232.4 L168.7,232.3 L168.1,231.8 L167.6,231.2 L167.0,230.9 L166.5,231.5 L165.9,233.0 L165.4,238.5 L164.8,249.7 L164.3,259.1Z" fill="rgba(95,95,242,0.48)" stroke="none"/>
<path d="M149.53,222.50V276.90M168.95,222.50V276.90M188.38,222.50V276.90" stroke="#000" stroke-width="1.15" stroke-dasharray="1.4 0.7" fill="none"/>
<path d="M130.10,272.00H207.80M130.10,247.25H207.80" stroke="#000" stroke-width="1.45" stroke-dasharray="1.6 0.6" fill="none"/>
<path d="M130.1,271.0 L130.4,270.9 L130.7,270.8 L131.1,270.7 L131.4,270.6 L131.7,270.5 L132.0,270.5 L132.4,270.5 L132.7,270.6 L133.0,270.7 L133.3,270.7 L133.7,270.8 L134.0,270.9 L134.3,271.0 L134.6,271.0 L135.0,271.0 L135.3,270.9 L135.6,270.7 L135.9,270.4 L136.3,270.1 L136.6,269.7 L136.9,269.1 L137.2,268.0 L137.5,266.4 L137.9,264.5 L138.2,262.4 L138.5,260.4 L138.8,258.4 L139.2,255.7 L139.5,253.1 L139.8,250.9 L140.1,249.8 L140.5,250.1 L140.8,251.3 L141.1,253.1 L141.4,255.1 L141.8,258.6 L142.1,262.8 L142.4,266.3 L142.7,267.8 L143.0,269.0 L143.4,270.0 L143.7,270.7 L144.0,271.0 L144.3,271.0 L144.7,271.1 L145.0,271.1 L145.3,271.2 L145.6,271.2 L146.0,271.3 L146.3,271.3 L146.6,271.3 L146.9,271.4 L147.3,271.4 L147.6,271.4 L147.9,271.5 L148.2,271.5 L148.6,271.5 L148.9,271.5 L149.2,271.6 L149.5,271.6 L149.8,271.6 L150.2,271.6 L150.5,271.7 L150.8,271.7 L151.1,271.7 L151.5,271.7 L151.8,271.7 L152.1,271.8 L152.4,271.8 L152.8,271.8 L153.1,271.8 L153.4,271.8 L153.7,271.8 L154.1,271.9 L154.4,271.9 L154.7,271.9 L155.0,271.9 L155.4,271.9 L155.7,271.9 L156.0,271.9 L156.3,271.9 L156.6,271.9 L157.0,271.9 L157.3,272.0 L157.6,272.0 L157.9,272.0 L158.3,272.0 L158.6,272.0 L158.9,272.0 L159.2,272.0 L159.6,272.0 L159.9,272.0 L160.2,272.0 L160.5,272.0 L160.9,272.0 L161.2,272.0 L161.5,272.0 L161.8,272.0 L162.2,272.0 L162.5,272.0 L162.8,272.0 L163.1,272.0 L163.4,270.5 L163.8,266.5 L164.1,260.9 L164.4,253.2 L164.7,237.3 L165.1,227.0 L165.4,225.7 L165.7,225.0 L166.0,225.1 L166.4,225.8 L166.7,226.7 L167.0,227.7 L167.3,228.4 L167.7,228.7 L168.0,228.9 L168.3,229.1 L168.6,229.2 L168.9,229.4 L169.3,229.6 L169.6,229.8 L169.9,230.1 L170.2,230.6 L170.6,231.2 L170.9,231.9 L171.2,232.6 L171.5,233.5 L171.9,234.3 L172.2,235.3 L172.5,236.4 L172.8,237.7 L173.2,239.1 L173.5,240.4 L173.8,241.7 L174.1,242.7 L174.5,243.7 L174.8,244.7 L175.1,245.7 L175.4,246.6 L175.7,247.4 L176.1,248.1 L176.4,248.8 L176.7,249.2 L177.0,249.6 L177.4,249.9 L177.7,250.2 L178.0,250.5 L178.3,250.7 L178.7,250.9 L179.0,251.1 L179.3,251.3 L179.6,251.5 L180.0,251.7 L180.3,251.9 L180.6,252.2 L180.9,252.5 L181.3,252.8 L181.6,253.0 L181.9,253.3 L182.2,253.6 L182.5,253.9 L182.9,254.2 L183.2,254.5 L183.5,254.8 L183.8,255.1 L184.2,255.4 L184.5,255.7 L184.8,255.9 L185.1,256.2 L185.5,256.5 L185.8,256.8 L186.1,257.0 L186.4,257.3 L186.8,257.6 L187.1,257.8 L187.4,258.0 L187.7,258.3 L188.1,258.5 L188.4,258.6 L188.7,258.8 L189.0,258.9 L189.3,259.1 L189.7,259.2 L190.0,259.3 L190.3,259.4 L190.6,259.5 L191.0,259.6 L191.3,259.7 L191.6,259.9 L191.9,260.0 L192.3,260.1 L192.6,260.3 L192.9,260.4 L193.2,260.6 L193.6,260.7 L193.9,260.9 L194.2,261.0 L194.5,261.2 L194.8,261.4 L195.2,261.6 L195.5,261.7 L195.8,261.9 L196.1,262.1 L196.5,262.3 L196.8,262.5 L197.1,262.7 L197.4,263.0 L197.8,263.2 L198.1,263.4 L198.4,263.7 L198.7,263.9 L199.1,264.1 L199.4,264.3 L199.7,264.4 L200.0,264.6 L200.4,264.7 L200.7,264.8 L201.0,264.9 L201.3,265.0 L201.6,265.1 L202.0,265.2 L202.3,265.2 L202.6,265.3 L202.9,265.4 L203.3,265.4 L203.6,265.5 L203.9,265.6 L204.2,265.6 L204.6,265.7 L204.9,265.7 L205.2,265.8 L205.5,265.8 L205.9,265.9 L206.2,265.9 L206.5,265.9 L206.8,266.0 L207.2,266.0 L207.5,266.0 L207.8,266.1" fill="none" stroke="#d61c1c" stroke-width="1.35" stroke-linejoin="round"/>
<path d="M130.1,272.0 L130.4,272.0 L130.7,272.0 L131.1,272.0 L131.4,272.0 L131.7,272.0 L132.0,272.0 L132.4,272.0 L132.7,272.0 L133.0,272.0 L133.3,272.0 L133.7,272.0 L134.0,272.0 L134.3,272.0 L134.6,272.0 L135.0,272.0 L135.3,272.0 L135.6,272.0 L135.9,272.0 L136.3,272.0 L136.6,272.0 L136.9,272.0 L137.2,272.0 L137.5,271.5 L137.9,270.5 L138.2,269.2 L138.5,267.5 L138.8,265.7 L139.2,263.5 L139.5,259.1 L139.8,254.2 L140.1,251.3 L140.5,251.7 L140.8,253.2 L141.1,255.4 L141.4,257.6 L141.8,260.6 L142.1,264.3 L142.4,267.8 L142.7,270.3 L143.0,271.2 L143.4,271.6 L143.7,271.9 L144.0,272.0 L144.3,272.0 L144.7,272.0 L145.0,272.0 L145.3,272.0 L145.6,272.0 L146.0,272.0 L146.3,272.0 L146.6,272.0 L146.9,272.0 L147.3,272.0 L147.6,272.0 L147.9,272.0 L148.2,272.0 L148.6,272.0 L148.9,272.0 L149.2,272.0 L149.5,272.0 L149.8,272.0 L150.2,272.0 L150.5,272.0 L150.8,272.0 L151.1,272.0 L151.5,272.0 L151.8,272.0 L152.1,272.0 L152.4,272.0 L152.8,272.0 L153.1,272.0 L153.4,272.0 L153.7,272.0 L154.1,272.0 L154.4,272.0 L154.7,272.0 L155.0,272.0 L155.4,272.0 L155.7,272.0 L156.0,272.0 L156.3,272.0 L156.6,272.0 L157.0,272.0 L157.3,272.0 L157.6,272.0 L157.9,272.0 L158.3,272.0 L158.6,272.0 L158.9,272.0 L159.2,272.0 L159.6,272.0 L159.9,272.0 L160.2,272.0 L160.5,272.0 L160.9,272.0 L161.2,272.0 L161.5,272.0 L161.8,272.0 L162.2,272.0 L162.5,271.9 L162.8,270.8 L163.1,268.8 L163.4,266.0 L163.8,262.7 L164.1,259.2 L164.4,255.5 L164.7,249.8 L165.1,242.9 L165.4,236.5 L165.7,232.2 L166.0,230.7 L166.4,229.8 L166.7,229.2 L167.0,228.9 L167.3,229.0 L167.7,229.3 L168.0,229.7 L168.3,230.0 L168.6,230.3 L168.9,230.4 L169.3,230.4 L169.6,230.3 L169.9,230.2 L170.2,230.1 L170.6,230.0 L170.9,229.9 L171.2,230.2 L171.5,231.1 L171.9,232.3 L172.2,233.7 L172.5,235.1 L172.8,236.4 L173.2,237.6 L173.5,238.9 L173.8,240.2 L174.1,241.5 L174.5,242.7 L174.8,243.8 L175.1,244.8 L175.4,245.8 L175.7,246.7 L176.1,247.5 L176.4,248.2 L176.7,248.7 L177.0,249.1 L177.4,249.4 L177.7,249.7 L178.0,250.0 L178.3,250.2 L178.7,250.4 L179.0,250.6 L179.3,250.8 L179.6,251.0 L180.0,251.2 L180.3,251.5 L180.6,251.7 L180.9,252.0 L181.3,252.3 L181.6,252.5 L181.9,252.8 L182.2,253.1 L182.5,253.4 L182.9,253.7 L183.2,254.0 L183.5,254.3 L183.8,254.6 L184.2,254.9 L184.5,255.2 L184.8,255.4 L185.1,255.7 L185.5,256.0 L185.8,256.2 L186.1,256.5 L186.4,256.8 L186.8,257.0 L187.1,257.3 L187.4,257.5 L187.7,257.7 L188.1,257.9 L188.4,258.1 L188.7,258.3 L189.0,258.5 L189.3,258.7 L189.7,258.9 L190.0,259.0 L190.3,259.2 L190.6,259.3 L191.0,259.5 L191.3,259.6 L191.6,259.8 L191.9,260.0 L192.3,260.1 L192.6,260.3 L192.9,260.4 L193.2,260.6 L193.6,260.8 L193.9,260.9 L194.2,261.1 L194.5,261.3 L194.8,261.4 L195.2,261.6 L195.5,261.8 L195.8,261.9 L196.1,262.1 L196.5,262.3 L196.8,262.4 L197.1,262.6 L197.4,262.8 L197.8,263.0 L198.1,263.1 L198.4,263.3 L198.7,263.5 L199.1,263.6 L199.4,263.8 L199.7,263.9 L200.0,264.1 L200.4,264.2 L200.7,264.4 L201.0,264.5 L201.3,264.7 L201.6,264.8 L202.0,264.9 L202.3,265.1 L202.6,265.2 L202.9,265.3 L203.3,265.4 L203.6,265.5 L203.9,265.6 L204.2,265.6 L204.6,265.7 L204.9,265.7 L205.2,265.8 L205.5,265.9 L205.9,265.9 L206.2,265.9 L206.5,266.0 L206.8,266.0 L207.2,266.0 L207.5,266.1 L207.8,266.1" fill="none" stroke="#1414d4" stroke-width="1.55" stroke-linejoin="round"/>
<path d="M141.37,222.50V276.90" stroke="#000" stroke-width="1.4" stroke-dasharray="7.6 3.7" fill="none"/>
<path d="M165.06,222.50V276.90" stroke="#c014c0" stroke-width="1.8" stroke-dasharray="7.6 2.2 3.4 2.6" fill="none"/>
</g>
<path d="M130.10,276.90V280.10M149.53,276.90V280.10M168.95,276.90V280.10M188.38,276.90V280.10M207.80,276.90V280.10M126.90,272.00H130.10M126.90,247.25H130.10M126.90,222.50H130.10" stroke="#000" stroke-width="1.1" fill="none"/>
<rect x="130.10" y="222.50" width="77.70" height="54.40" fill="none" stroke="#000" stroke-width="1.5"/>
<text transform="translate(124.10,277.35) scale(1.0,0.941)" text-anchor="end" font-weight="bold" font-size="16.5" stroke="#000" stroke-width="0.18">0.0</text>
<text transform="translate(124.10,252.60) scale(1.0,0.941)" text-anchor="end" font-weight="bold" font-size="16.5" stroke="#000" stroke-width="0.18">0.5</text>
<text transform="translate(124.10,227.85) scale(1.0,0.941)" text-anchor="end" font-weight="bold" font-size="16.5" stroke="#000" stroke-width="0.18">1.0</text>
<text x="130.00" y="219.40" font-weight="bold" font-size="16.5" stroke="#000" stroke-width="0.18">1e<tspan font-size="9.3" dy="-5.9">-5</tspan></text>
<clipPath id="c_r3c2"><rect x="248.35" y="219.95" width="77.65" height="56.05"/></clipPath>
<g clip-path="url(#c_r3c2)">
<path d="M282.5,252.9 L283.1,246.8 L283.6,240.8 L284.2,238.0 L284.7,236.9 L285.3,236.1 L285.8,235.6 L286.4,235.4 L286.9,235.8 L287.5,236.8 L288.0,237.9 L288.6,239.1 L289.1,240.3 L289.7,241.6 L290.2,242.9 L290.8,244.3 L291.3,245.8 L291.9,247.2 L292.4,248.7 L293.0,250.0 L293.5,251.4 L294.1,252.7 L294.6,254.0 L295.2,255.0 L295.7,255.7 L296.3,256.1 L296.8,256.3 L297.4,256.5 L297.9,256.7 L298.5,256.9 L299.0,257.2 L299.6,257.4 L300.1,257.6 L300.7,257.9 L301.2,258.2 L301.8,258.6 L302.3,259.2 L302.9,259.9 L303.4,260.5 L304.0,261.1 L304.5,261.6 L305.1,262.2 L305.6,262.8 L306.2,263.2 L306.7,263.4 L307.3,263.6 L307.8,263.7 L308.4,263.8 L308.9,263.9 L309.5,264.0 L310.0,264.0 L310.6,264.1 L311.1,264.2 L311.7,264.2 L312.2,264.2 L312.8,264.3 L313.3,264.3 L313.9,264.4 L314.4,264.5 L315.0,264.6 L315.5,264.9 L316.1,265.3 L316.6,265.6 L317.2,265.9 L317.7,266.1 L318.3,266.2 L318.8,266.2 L319.4,266.1 L319.9,266.1 L320.5,266.0 L321.0,265.9 L321.6,265.9 L322.1,265.8 L322.7,265.9 L323.2,266.0 L323.8,266.2 L324.3,266.4 L324.9,266.6 L325.4,266.9 L326.0,267.2 L326.0,271.4 L325.4,271.1 L324.9,270.8 L324.3,270.6 L323.8,270.4 L323.2,270.2 L322.7,270.1 L322.1,270.0 L321.6,270.1 L321.0,270.1 L320.5,270.2 L319.9,270.3 L319.4,270.3 L318.8,270.4 L318.3,270.4 L317.7,270.3 L317.2,270.1 L316.6,269.8 L316.1,269.5 L315.5,269.1 L315.0,268.8 L314.4,268.7 L313.9,268.6 L313.3,268.5 L312.8,268.5 L312.2,268.4 L311.7,268.4 L311.1,268.4 L310.6,268.3 L310.0,268.2 L309.5,268.2 L308.9,268.1 L308.4,268.0 L307.8,267.9 L307.3,267.8 L306.7,267.6 L306.2,267.4 L305.6,267.0 L305.1,266.4 L304.5,265.8 L304.0,265.3 L303.4,264.7 L302.9,264.1 L302.3,263.4 L301.8,262.8 L301.2,262.4 L300.7,262.1 L300.1,261.8 L299.6,261.6 L299.0,261.4 L298.5,261.1 L297.9,260.9 L297.4,260.7 L296.8,260.5 L296.3,260.3 L295.7,259.9 L295.2,259.2 L294.6,258.2 L294.1,256.9 L293.5,255.6 L293.0,254.2 L292.4,252.9 L291.9,251.4 L291.3,250.0 L290.8,248.5 L290.2,247.1 L289.7,245.8 L289.1,244.5 L288.6,243.3 L288.0,242.2 L287.5,241.0 L286.9,240.0 L286.4,239.6 L285.8,239.8 L285.3,240.3 L284.7,241.1 L284.2,242.2 L283.6,245.0 L283.1,251.0 L282.5,257.1Z" fill="rgba(242,95,95,0.48)" stroke="none"/>
<path d="M282.5,253.6 L283.1,248.9 L283.6,244.7 L284.2,243.0 L284.7,242.6 L285.3,242.4 L285.8,242.4 L286.4,242.4 L286.9,242.4 L287.5,242.5 L288.0,243.0 L288.6,243.9 L289.1,244.8 L289.7,245.9 L290.2,247.3 L290.8,248.7 L291.3,250.0 L291.9,251.3 L292.4,252.6 L293.0,253.5 L293.5,254.3 L294.1,255.0 L294.6,255.5 L295.2,256.0 L295.7,256.4 L296.3,256.7 L296.8,257.0 L297.4,257.3 L297.9,257.5 L298.5,257.7 L299.0,257.8 L299.6,257.9 L300.1,258.0 L300.7,258.0 L301.2,258.2 L301.8,258.6 L302.3,259.3 L302.9,260.1 L303.4,260.8 L304.0,261.4 L304.5,261.8 L305.1,262.2 L305.6,262.6 L306.2,262.9 L306.7,263.1 L307.3,263.3 L307.8,263.5 L308.4,263.7 L308.9,263.8 L309.5,263.9 L310.0,264.0 L310.6,264.1 L311.1,264.2 L311.7,264.2 L312.2,264.2 L312.8,264.3 L313.3,264.3 L313.9,264.4 L314.4,264.5 L315.0,264.6 L315.5,264.9 L316.1,265.2 L316.6,265.5 L317.2,265.8 L317.7,266.0 L318.3,266.2 L318.8,266.3 L319.4,266.4 L319.9,266.5 L320.5,266.6 L321.0,266.7 L321.6,266.8 L322.1,266.9 L322.7,267.0 L323.2,267.1 L323.8,267.2 L324.3,267.3 L324.9,267.4 L325.4,267.5 L326.0,267.6 L326.0,270.4 L325.4,270.3 L324.9,270.2 L324.3,270.1 L323.8,270.0 L323.2,269.9 L322.7,269.8 L322.1,269.7 L321.6,269.6 L321.0,269.5 L320.5,269.4 L319.9,269.3 L319.4,269.3 L318.8,269.1 L318.3,269.0 L317.7,268.8 L317.2,268.6 L316.6,268.3 L316.1,268.0 L315.5,267.7 L315.0,267.4 L314.4,267.3 L313.9,267.2 L313.3,267.1 L312.8,267.1 L312.2,267.1 L311.7,267.0 L311.1,267.0 L310.6,266.9 L310.0,266.8 L309.5,266.7 L308.9,266.6 L308.4,266.5 L307.8,266.3 L307.3,266.1 L306.7,265.9 L306.2,265.7 L305.6,265.4 L305.1,265.0 L304.5,264.6 L304.0,264.2 L303.4,263.6 L302.9,262.9 L302.3,262.1 L301.8,261.4 L301.2,261.0 L300.7,260.8 L300.1,260.8 L299.6,260.7 L299.0,260.6 L298.5,260.5 L297.9,260.3 L297.4,260.1 L296.8,259.8 L296.3,259.5 L295.7,259.2 L295.2,258.8 L294.6,258.3 L294.1,257.8 L293.5,257.1 L293.0,256.4 L292.4,255.4 L291.9,254.1 L291.3,252.8 L290.8,251.5 L290.2,250.1 L289.7,248.7 L289.1,247.6 L288.6,246.7 L288.0,245.8 L287.5,245.3 L286.9,245.2 L286.4,245.2 L285.8,245.2 L285.3,245.2 L284.7,245.4 L284.2,245.8 L283.6,247.5 L283.1,251.7 L282.5,256.4Z" fill="rgba(95,95,242,0.48)" stroke="none"/>
<path d="M267.76,219.95V276.00M287.18,219.95V276.00M306.59,219.95V276.00" stroke="#000" stroke-width="1.15" stroke-dasharray="1.4 0.7" fill="none"/>
<path d="M248.35,272.50H326.00M248.35,254.99H326.00M248.35,237.47H326.00" stroke="#000" stroke-width="1.45" stroke-dasharray="1.6 0.6" fill="none"/>
<path d="M248.3,272.1 L248.7,272.0 L249.0,271.9 L249.3,271.8 L249.6,271.7 L250.0,271.6 L250.3,271.5 L250.6,271.5 L250.9,271.5 L251.3,271.5 L251.6,271.5 L251.9,271.5 L252.2,271.6 L252.6,271.6 L252.9,271.7 L253.2,271.7 L253.5,271.8 L253.9,271.8 L254.2,271.8 L254.5,271.7 L254.8,271.6 L255.1,271.3 L255.5,270.9 L255.8,270.4 L256.1,269.8 L256.4,269.1 L256.8,267.5 L257.1,263.6 L257.4,258.2 L257.7,252.2 L258.1,246.5 L258.4,242.0 L258.7,238.6 L259.0,235.3 L259.4,232.9 L259.7,232.3 L260.0,234.3 L260.3,238.2 L260.6,242.7 L261.0,247.4 L261.3,253.6 L261.6,259.6 L261.9,263.7 L262.3,266.1 L262.6,268.2 L262.9,269.8 L263.2,270.9 L263.6,271.5 L263.9,271.9 L264.2,272.2 L264.5,272.4 L264.9,272.5 L265.2,272.5 L265.5,272.5 L265.8,272.5 L266.1,272.5 L266.5,272.5 L266.8,272.5 L267.1,272.5 L267.4,272.5 L267.8,272.5 L268.1,272.5 L268.4,272.5 L268.7,272.5 L269.1,272.5 L269.4,272.5 L269.7,272.5 L270.0,272.5 L270.4,272.5 L270.7,272.5 L271.0,272.5 L271.3,272.5 L271.6,272.5 L272.0,272.5 L272.3,272.5 L272.6,272.5 L272.9,272.5 L273.3,272.5 L273.6,272.5 L273.9,272.5 L274.2,272.5 L274.6,272.5 L274.9,272.5 L275.2,272.5 L275.5,272.5 L275.9,272.5 L276.2,272.5 L276.5,272.5 L276.8,272.5 L277.1,272.5 L277.5,272.5 L277.8,272.5 L278.1,272.5 L278.4,272.5 L278.8,272.5 L279.1,272.5 L279.4,272.5 L279.7,272.5 L280.1,272.5 L280.4,272.5 L280.7,272.4 L281.0,270.8 L281.4,268.1 L281.7,264.5 L282.0,260.6 L282.3,256.9 L282.6,253.7 L283.0,250.1 L283.3,246.3 L283.6,242.9 L283.9,240.7 L284.3,239.9 L284.6,239.2 L284.9,238.7 L285.2,238.2 L285.6,237.9 L285.9,237.6 L286.2,237.5 L286.5,237.5 L286.9,237.8 L287.2,238.3 L287.5,239.0 L287.8,239.7 L288.1,240.3 L288.5,240.9 L288.8,241.6 L289.1,242.4 L289.4,243.1 L289.8,243.9 L290.1,244.7 L290.4,245.5 L290.7,246.3 L291.1,247.2 L291.4,248.0 L291.7,248.9 L292.0,249.8 L292.4,250.6 L292.7,251.4 L293.0,252.2 L293.3,253.0 L293.6,253.8 L294.0,254.6 L294.3,255.4 L294.6,256.1 L294.9,256.7 L295.3,257.3 L295.6,257.7 L295.9,257.9 L296.2,258.1 L296.6,258.3 L296.9,258.4 L297.2,258.6 L297.5,258.7 L297.9,258.8 L298.2,258.9 L298.5,259.1 L298.8,259.2 L299.1,259.3 L299.5,259.5 L299.8,259.6 L300.1,259.7 L300.4,259.9 L300.8,260.0 L301.1,260.2 L301.4,260.4 L301.7,260.7 L302.1,261.0 L302.4,261.4 L302.7,261.8 L303.0,262.1 L303.4,262.5 L303.7,262.8 L304.0,263.2 L304.3,263.5 L304.6,263.9 L305.0,264.2 L305.3,264.6 L305.6,264.9 L305.9,265.1 L306.3,265.4 L306.6,265.5 L306.9,265.6 L307.2,265.7 L307.6,265.8 L307.9,265.8 L308.2,265.9 L308.5,265.9 L308.9,266.0 L309.2,266.0 L309.5,266.1 L309.8,266.1 L310.1,266.2 L310.5,266.2 L310.8,266.2 L311.1,266.3 L311.4,266.3 L311.8,266.3 L312.1,266.3 L312.4,266.4 L312.7,266.4 L313.1,266.4 L313.4,266.4 L313.7,266.5 L314.0,266.5 L314.4,266.5 L314.7,266.6 L315.0,266.7 L315.3,266.9 L315.6,267.1 L316.0,267.3 L316.3,267.5 L316.6,267.7 L316.9,267.9 L317.3,268.1 L317.6,268.2 L317.9,268.3 L318.2,268.3 L318.6,268.3 L318.9,268.3 L319.2,268.2 L319.5,268.2 L319.9,268.2 L320.2,268.1 L320.5,268.1 L320.8,268.0 L321.1,268.0 L321.5,268.0 L321.8,268.0 L322.1,267.9 L322.4,268.0 L322.8,268.0 L323.1,268.1 L323.4,268.1 L323.7,268.2 L324.1,268.4 L324.4,268.5 L324.7,268.6 L325.0,268.8 L325.4,269.0 L325.7,269.2 L326.0,269.3" fill="none" stroke="#d61c1c" stroke-width="1.35" stroke-linejoin="round"/>
<path d="M248.3,272.5 L248.7,272.5 L249.0,272.5 L249.3,272.5 L249.6,272.5 L250.0,272.5 L250.3,272.5 L250.6,272.5 L250.9,272.5 L251.3,272.5 L251.6,272.5 L251.9,272.5 L252.2,272.5 L252.6,272.5 L252.9,272.5 L253.2,272.5 L253.5,272.5 L253.9,272.5 L254.2,272.5 L254.5,272.5 L254.8,272.5 L255.1,272.5 L255.5,272.5 L255.8,272.5 L256.1,271.8 L256.4,270.3 L256.8,268.3 L257.1,266.0 L257.4,263.7 L257.7,261.6 L258.1,259.0 L258.4,256.1 L258.7,253.5 L259.0,251.8 L259.4,251.7 L259.7,254.1 L260.0,257.8 L260.3,261.4 L260.6,264.6 L261.0,268.1 L261.3,270.9 L261.6,271.8 L261.9,271.8 L262.3,271.9 L262.6,271.9 L262.9,271.9 L263.2,272.0 L263.6,272.0 L263.9,272.0 L264.2,272.0 L264.5,272.1 L264.9,272.1 L265.2,272.1 L265.5,272.1 L265.8,272.2 L266.1,272.2 L266.5,272.2 L266.8,272.2 L267.1,272.2 L267.4,272.3 L267.8,272.3 L268.1,272.3 L268.4,272.3 L268.7,272.3 L269.1,272.3 L269.4,272.3 L269.7,272.4 L270.0,272.4 L270.4,272.4 L270.7,272.4 L271.0,272.4 L271.3,272.4 L271.6,272.4 L272.0,272.4 L272.3,272.4 L272.6,272.4 L272.9,272.4 L273.3,272.4 L273.6,272.5 L273.9,272.5 L274.2,272.5 L274.6,272.5 L274.9,272.5 L275.2,272.5 L275.5,272.5 L275.9,272.5 L276.2,272.5 L276.5,272.5 L276.8,272.5 L277.1,272.5 L277.5,272.5 L277.8,272.5 L278.1,272.5 L278.4,272.5 L278.8,272.5 L279.1,272.5 L279.4,272.5 L279.7,272.5 L280.1,272.5 L280.4,272.5 L280.7,272.3 L281.0,270.7 L281.4,267.8 L281.7,264.1 L282.0,260.2 L282.3,256.7 L282.6,254.0 L283.0,251.2 L283.3,248.4 L283.6,246.1 L283.9,244.7 L284.3,244.3 L284.6,244.1 L284.9,243.9 L285.2,243.8 L285.6,243.8 L285.9,243.8 L286.2,243.8 L286.5,243.8 L286.9,243.8 L287.2,243.8 L287.5,243.9 L287.8,244.2 L288.1,244.6 L288.5,245.1 L288.8,245.7 L289.1,246.2 L289.4,246.8 L289.8,247.6 L290.1,248.4 L290.4,249.2 L290.7,250.0 L291.1,250.8 L291.4,251.5 L291.7,252.3 L292.0,253.1 L292.4,253.8 L292.7,254.5 L293.0,255.0 L293.3,255.4 L293.6,255.8 L294.0,256.2 L294.3,256.6 L294.6,256.9 L294.9,257.2 L295.3,257.5 L295.6,257.7 L295.9,257.9 L296.2,258.1 L296.6,258.3 L296.9,258.5 L297.2,258.6 L297.5,258.8 L297.9,258.9 L298.2,259.0 L298.5,259.1 L298.8,259.2 L299.1,259.2 L299.5,259.3 L299.8,259.3 L300.1,259.4 L300.4,259.4 L300.8,259.5 L301.1,259.5 L301.4,259.7 L301.7,259.9 L302.1,260.3 L302.4,260.7 L302.7,261.2 L303.0,261.7 L303.4,262.1 L303.7,262.5 L304.0,262.8 L304.3,263.1 L304.6,263.3 L305.0,263.5 L305.3,263.8 L305.6,264.0 L305.9,264.1 L306.3,264.3 L306.6,264.4 L306.9,264.6 L307.2,264.7 L307.6,264.8 L307.9,264.9 L308.2,265.0 L308.5,265.1 L308.9,265.2 L309.2,265.3 L309.5,265.3 L309.8,265.4 L310.1,265.4 L310.5,265.5 L310.8,265.5 L311.1,265.6 L311.4,265.6 L311.8,265.6 L312.1,265.6 L312.4,265.7 L312.7,265.7 L313.1,265.7 L313.4,265.7 L313.7,265.8 L314.0,265.8 L314.4,265.8 L314.7,265.9 L315.0,266.0 L315.3,266.2 L315.6,266.3 L316.0,266.5 L316.3,266.7 L316.6,266.9 L316.9,267.0 L317.3,267.2 L317.6,267.4 L317.9,267.5 L318.2,267.6 L318.6,267.7 L318.9,267.7 L319.2,267.8 L319.5,267.9 L319.9,267.9 L320.2,268.0 L320.5,268.0 L320.8,268.1 L321.1,268.1 L321.5,268.2 L321.8,268.2 L322.1,268.3 L322.4,268.4 L322.8,268.4 L323.1,268.5 L323.4,268.5 L323.7,268.6 L324.1,268.6 L324.4,268.7 L324.7,268.8 L325.0,268.8 L325.4,268.9 L325.7,268.9 L326.0,269.0" fill="none" stroke="#1414d4" stroke-width="1.55" stroke-linejoin="round"/>
<path d="M259.61,219.95V276.00" stroke="#000" stroke-width="1.4" stroke-dasharray="7.6 3.7" fill="none"/>
<path d="M283.29,219.95V276.00" stroke="#c014c0" stroke-width="1.8" stroke-dasharray="7.6 2.2 3.4 2.6" fill="none"/>
</g>
<path d="M248.35,276.00V279.20M267.76,276.00V279.20M287.18,276.00V279.20M306.59,276.00V279.20M326.00,276.00V279.20M245.15,272.50H248.35M245.15,254.99H248.35M245.15,237.47H248.35M245.15,219.95H248.35" stroke="#000" stroke-width="1.1" fill="none"/>
<rect x="248.35" y="219.95" width="77.65" height="56.05" fill="none" stroke="#000" stroke-width="1.5"/>
<text transform="translate(243.10,277.15) scale(1.0,0.950)" text-anchor="end" font-weight="bold" font-size="16.5" stroke="#000" stroke-width="0.18">0.0</text>
<text transform="translate(243.10,259.63) scale(1.0,0.950)" text-anchor="end" font-weight="bold" font-size="16.5" stroke="#000" stroke-width="0.18">0.5</text>
<text transform="translate(243.10,242.12) scale(1.0,0.950)" text-anchor="end" font-weight="bold" font-size="16.5" stroke="#000" stroke-width="0.18">1.0</text>
<text transform="translate(243.10,224.60) scale(1.0,0.950)" text-anchor="end" font-weight="bold" font-size="16.5" stroke="#000" stroke-width="0.18">1.5</text>
<text x="248.85" y="216.85" font-weight="bold" font-size="16.5" stroke="#000" stroke-width="0.18">1e<tspan font-size="9.3" dy="-5.9">-5</tspan></text>
<clipPath id="c_r3c3"><rect x="366.60" y="219.60" width="77.90" height="56.20"/></clipPath>
<g clip-path="url(#c_r3c3)">
<path d="M400.9,236.2 L401.4,228.0 L402.0,224.9 L402.5,223.4 L403.1,223.4 L403.6,224.9 L404.2,226.0 L404.7,226.7 L405.3,227.3 L405.8,227.8 L406.4,228.4 L407.0,229.0 L407.5,229.9 L408.1,231.3 L408.6,233.3 L409.2,235.5 L409.7,237.5 L410.3,239.8 L410.8,242.0 L411.4,243.7 L411.9,244.9 L412.5,246.0 L413.0,246.9 L413.6,247.6 L414.1,247.8 L414.7,247.6 L415.2,247.2 L415.8,246.8 L416.3,246.8 L416.9,247.1 L417.4,247.4 L418.0,247.8 L418.5,248.2 L419.1,248.6 L419.7,249.0 L420.2,249.5 L420.8,250.0 L421.3,250.6 L421.9,251.2 L422.4,252.0 L423.0,252.7 L423.5,253.5 L424.1,254.3 L424.6,255.1 L425.2,255.9 L425.7,256.7 L426.3,257.1 L426.8,257.4 L427.4,257.6 L427.9,257.8 L428.5,257.9 L429.0,258.1 L429.6,258.2 L430.1,258.4 L430.7,258.5 L431.2,258.7 L431.8,258.9 L432.4,259.1 L432.9,259.3 L433.5,259.5 L434.0,259.7 L434.6,259.9 L435.1,260.1 L435.7,260.3 L436.2,260.5 L436.8,260.7 L437.3,260.8 L437.9,261.0 L438.4,261.1 L439.0,261.3 L439.5,261.4 L440.1,261.6 L440.6,261.7 L441.2,261.8 L441.7,261.9 L442.3,261.9 L442.8,262.0 L443.4,262.1 L443.9,262.1 L444.5,262.2 L444.5,267.3 L443.9,267.3 L443.4,267.2 L442.8,267.1 L442.3,267.1 L441.7,267.0 L441.2,266.9 L440.6,266.8 L440.1,266.7 L439.5,266.6 L439.0,266.4 L438.4,266.3 L437.9,266.1 L437.3,266.0 L436.8,265.8 L436.2,265.6 L435.7,265.4 L435.1,265.2 L434.6,265.1 L434.0,264.9 L433.5,264.7 L432.9,264.4 L432.4,264.2 L431.8,264.0 L431.2,263.8 L430.7,263.7 L430.1,263.5 L429.6,263.4 L429.0,263.2 L428.5,263.1 L427.9,262.9 L427.4,262.7 L426.8,262.5 L426.3,262.2 L425.7,261.8 L425.2,261.1 L424.6,260.2 L424.1,259.4 L423.5,258.6 L423.0,257.9 L422.4,257.1 L421.9,256.4 L421.3,255.7 L420.8,255.1 L420.2,254.6 L419.7,254.1 L419.1,253.7 L418.5,253.3 L418.0,252.9 L417.4,252.6 L416.9,252.2 L416.3,252.0 L415.8,252.0 L415.2,252.3 L414.7,252.7 L414.1,252.9 L413.6,252.7 L413.0,252.1 L412.5,251.1 L411.9,250.0 L411.4,248.8 L410.8,247.1 L410.3,244.9 L409.7,242.7 L409.2,240.6 L408.6,238.4 L408.1,236.4 L407.5,235.0 L407.0,234.2 L406.4,233.5 L405.8,232.9 L405.3,232.4 L404.7,231.8 L404.2,231.2 L403.6,230.1 L403.1,228.6 L402.5,228.6 L402.0,230.1 L401.4,233.1 L400.9,241.3Z" fill="rgba(242,95,95,0.48)" stroke="none"/>
<path d="M400.9,238.1 L401.4,232.2 L402.0,227.4 L402.5,225.7 L403.1,225.5 L403.6,225.4 L404.2,225.1 L404.7,224.4 L405.3,223.8 L405.8,223.8 L406.4,224.6 L407.0,225.7 L407.5,227.4 L408.1,229.5 L408.6,231.7 L409.2,234.1 L409.7,236.8 L410.3,239.3 L410.8,241.3 L411.4,243.0 L411.9,244.5 L412.5,245.6 L413.0,246.4 L413.6,247.1 L414.1,247.7 L414.7,248.2 L415.2,248.3 L415.8,248.2 L416.3,247.8 L416.9,247.4 L417.4,247.3 L418.0,247.8 L418.5,248.5 L419.1,249.3 L419.7,249.8 L420.2,250.3 L420.8,250.9 L421.3,251.4 L421.9,252.0 L422.4,252.6 L423.0,253.3 L423.5,254.1 L424.1,254.9 L424.6,255.6 L425.2,256.1 L425.7,256.5 L426.3,256.9 L426.8,257.2 L427.4,257.5 L427.9,257.7 L428.5,257.9 L429.0,258.1 L429.6,258.3 L430.1,258.4 L430.7,258.6 L431.2,258.7 L431.8,258.8 L432.4,259.0 L432.9,259.1 L433.5,259.3 L434.0,259.5 L434.6,259.8 L435.1,260.0 L435.7,260.3 L436.2,260.5 L436.8,260.7 L437.3,260.8 L437.9,261.0 L438.4,261.1 L439.0,261.3 L439.5,261.4 L440.1,261.5 L440.6,261.7 L441.2,261.8 L441.7,262.0 L442.3,262.1 L442.8,262.3 L443.4,262.4 L443.9,262.5 L444.5,262.7 L444.5,266.8 L443.9,266.7 L443.4,266.5 L442.8,266.4 L442.3,266.2 L441.7,266.1 L441.2,265.9 L440.6,265.8 L440.1,265.6 L439.5,265.5 L439.0,265.4 L438.4,265.2 L437.9,265.1 L437.3,264.9 L436.8,264.8 L436.2,264.6 L435.7,264.4 L435.1,264.1 L434.6,263.9 L434.0,263.7 L433.5,263.4 L432.9,263.2 L432.4,263.1 L431.8,262.9 L431.2,262.8 L430.7,262.7 L430.1,262.5 L429.6,262.4 L429.0,262.2 L428.5,262.0 L427.9,261.8 L427.4,261.6 L426.8,261.3 L426.3,261.0 L425.7,260.6 L425.2,260.2 L424.6,259.7 L424.1,259.0 L423.5,258.2 L423.0,257.4 L422.4,256.7 L421.9,256.1 L421.3,255.5 L420.8,255.0 L420.2,254.4 L419.7,253.9 L419.1,253.4 L418.5,252.6 L418.0,251.9 L417.4,251.5 L416.9,251.5 L416.3,251.9 L415.8,252.3 L415.2,252.4 L414.7,252.3 L414.1,251.8 L413.6,251.2 L413.0,250.5 L412.5,249.7 L411.9,248.6 L411.4,247.1 L410.8,245.4 L410.3,243.4 L409.7,240.9 L409.2,238.2 L408.6,235.8 L408.1,233.6 L407.5,231.5 L407.0,229.8 L406.4,228.8 L405.8,228.0 L405.3,227.9 L404.7,228.5 L404.2,229.2 L403.6,229.5 L403.1,229.6 L402.5,229.8 L402.0,231.6 L401.4,236.3 L400.9,242.2Z" fill="rgba(95,95,242,0.48)" stroke="none"/>
<path d="M386.08,219.60V275.80M405.55,219.60V275.80M425.02,219.60V275.80" stroke="#000" stroke-width="1.15" stroke-dasharray="1.4 0.7" fill="none"/>
<path d="M366.60,270.90H444.50M366.60,245.25H444.50" stroke="#000" stroke-width="1.45" stroke-dasharray="1.6 0.6" fill="none"/>
<path d="M366.6,270.4 L366.9,270.3 L367.2,270.2 L367.6,270.2 L367.9,270.1 L368.2,270.0 L368.5,270.0 L368.9,270.0 L369.2,269.9 L369.5,269.9 L369.8,269.9 L370.2,269.9 L370.5,269.9 L370.8,269.9 L371.1,269.9 L371.5,270.0 L371.8,270.0 L372.1,270.1 L372.4,270.1 L372.8,270.2 L373.1,270.3 L373.4,270.3 L373.7,270.3 L374.1,270.4 L374.4,270.4 L374.7,270.3 L375.0,270.0 L375.4,269.7 L375.7,269.2 L376.0,268.7 L376.3,268.1 L376.7,267.5 L377.0,267.0 L377.3,266.5 L377.6,265.8 L378.0,265.1 L378.3,264.5 L378.6,264.2 L378.9,264.3 L379.3,264.7 L379.6,265.3 L379.9,266.0 L380.2,266.7 L380.6,267.2 L380.9,267.7 L381.2,268.1 L381.5,268.5 L381.9,269.0 L382.2,269.3 L382.5,269.6 L382.8,269.8 L383.2,269.9 L383.5,270.0 L383.8,270.1 L384.1,270.2 L384.5,270.2 L384.8,270.3 L385.1,270.3 L385.4,270.3 L385.8,270.4 L386.1,270.4 L386.4,270.4 L386.7,270.4 L387.0,270.5 L387.4,270.5 L387.7,270.5 L388.0,270.5 L388.3,270.5 L388.7,270.6 L389.0,270.6 L389.3,270.6 L389.6,270.6 L390.0,270.6 L390.3,270.7 L390.6,270.7 L390.9,270.7 L391.3,270.7 L391.6,270.7 L391.9,270.7 L392.2,270.8 L392.6,270.8 L392.9,270.8 L393.2,270.8 L393.5,270.8 L393.9,270.8 L394.2,270.8 L394.5,270.8 L394.8,270.8 L395.2,270.9 L395.5,270.9 L395.8,270.9 L396.1,270.9 L396.5,270.9 L396.8,270.9 L397.1,270.9 L397.4,270.9 L397.8,270.9 L398.1,270.9 L398.4,270.9 L398.7,270.9 L399.1,270.5 L399.4,267.0 L399.7,261.0 L400.0,254.0 L400.4,247.4 L400.7,242.1 L401.0,236.6 L401.3,231.7 L401.7,228.8 L402.0,227.5 L402.3,226.5 L402.6,225.9 L403.0,225.8 L403.3,226.5 L403.6,227.4 L403.9,228.2 L404.3,228.7 L404.6,229.1 L404.9,229.4 L405.2,229.8 L405.6,230.1 L405.9,230.4 L406.2,230.7 L406.5,231.1 L406.8,231.5 L407.2,231.9 L407.5,232.4 L407.8,233.2 L408.1,234.2 L408.5,235.3 L408.8,236.6 L409.1,237.9 L409.4,239.1 L409.8,240.3 L410.1,241.7 L410.4,243.0 L410.7,244.3 L411.1,245.4 L411.4,246.3 L411.7,247.0 L412.0,247.7 L412.4,248.4 L412.7,249.0 L413.0,249.5 L413.3,249.9 L413.7,250.2 L414.0,250.4 L414.3,250.4 L414.6,250.2 L415.0,250.0 L415.3,249.7 L415.6,249.5 L415.9,249.4 L416.3,249.4 L416.6,249.5 L416.9,249.6 L417.2,249.8 L417.6,250.1 L417.9,250.3 L418.2,250.5 L418.5,250.7 L418.9,251.0 L419.2,251.2 L419.5,251.5 L419.8,251.7 L420.2,252.0 L420.5,252.3 L420.8,252.6 L421.1,252.9 L421.5,253.3 L421.8,253.7 L422.1,254.1 L422.4,254.5 L422.8,255.0 L423.1,255.5 L423.4,255.9 L423.7,256.4 L424.1,256.8 L424.4,257.3 L424.7,257.8 L425.0,258.3 L425.3,258.8 L425.7,259.2 L426.0,259.5 L426.3,259.7 L426.6,259.9 L427.0,260.0 L427.3,260.1 L427.6,260.2 L427.9,260.3 L428.3,260.4 L428.6,260.5 L428.9,260.6 L429.2,260.7 L429.6,260.8 L429.9,260.9 L430.2,261.0 L430.5,261.0 L430.9,261.2 L431.2,261.3 L431.5,261.4 L431.8,261.5 L432.2,261.6 L432.5,261.7 L432.8,261.8 L433.1,262.0 L433.5,262.1 L433.8,262.2 L434.1,262.3 L434.4,262.4 L434.8,262.6 L435.1,262.7 L435.4,262.8 L435.7,262.9 L436.1,263.0 L436.4,263.1 L436.7,263.2 L437.0,263.3 L437.4,263.4 L437.7,263.5 L438.0,263.6 L438.3,263.7 L438.7,263.8 L439.0,263.9 L439.3,263.9 L439.6,264.0 L440.0,264.1 L440.3,264.2 L440.6,264.2 L440.9,264.3 L441.3,264.3 L441.6,264.4 L441.9,264.4 L442.2,264.5 L442.6,264.5 L442.9,264.6 L443.2,264.6 L443.5,264.7 L443.9,264.7 L444.2,264.7 L444.5,264.7" fill="none" stroke="#d61c1c" stroke-width="1.35" stroke-linejoin="round"/>
<path d="M366.6,270.9 L366.9,270.9 L367.2,270.9 L367.6,270.9 L367.9,270.9 L368.2,270.9 L368.5,270.9 L368.9,270.9 L369.2,270.9 L369.5,270.9 L369.8,270.9 L370.2,270.9 L370.5,270.9 L370.8,270.9 L371.1,270.9 L371.5,270.9 L371.8,270.9 L372.1,270.9 L372.4,270.9 L372.8,270.9 L373.1,270.9 L373.4,270.9 L373.7,270.9 L374.1,270.9 L374.4,270.9 L374.7,270.9 L375.0,270.9 L375.4,270.9 L375.7,270.8 L376.0,270.1 L376.3,268.9 L376.7,267.5 L377.0,266.2 L377.3,265.1 L377.6,264.0 L378.0,263.1 L378.3,262.7 L378.6,263.6 L378.9,265.6 L379.3,267.6 L379.6,268.7 L379.9,269.4 L380.2,270.1 L380.6,270.6 L380.9,270.9 L381.2,270.9 L381.5,270.9 L381.9,270.9 L382.2,270.9 L382.5,270.9 L382.8,270.9 L383.2,270.9 L383.5,270.9 L383.8,270.9 L384.1,270.9 L384.5,270.9 L384.8,270.9 L385.1,270.9 L385.4,270.9 L385.8,270.9 L386.1,270.9 L386.4,270.9 L386.7,270.9 L387.0,270.9 L387.4,270.9 L387.7,270.9 L388.0,270.9 L388.3,270.9 L388.7,270.9 L389.0,270.9 L389.3,270.9 L389.6,270.9 L390.0,270.9 L390.3,270.9 L390.6,270.9 L390.9,270.9 L391.3,270.9 L391.6,270.9 L391.9,270.9 L392.2,270.9 L392.6,270.9 L392.9,270.9 L393.2,270.9 L393.5,270.9 L393.9,270.9 L394.2,270.9 L394.5,270.9 L394.8,270.9 L395.2,270.9 L395.5,270.9 L395.8,270.9 L396.1,270.9 L396.5,270.9 L396.8,270.9 L397.1,270.9 L397.4,270.9 L397.8,270.9 L398.1,270.9 L398.4,270.9 L398.7,270.9 L399.1,270.6 L399.4,267.5 L399.7,262.0 L400.0,255.3 L400.4,248.4 L400.7,242.6 L401.0,238.7 L401.3,235.3 L401.7,232.1 L402.0,229.5 L402.3,228.0 L402.6,227.7 L403.0,227.6 L403.3,227.5 L403.6,227.4 L403.9,227.3 L404.3,227.1 L404.6,226.7 L404.9,226.3 L405.2,225.9 L405.6,225.8 L405.9,225.9 L406.2,226.4 L406.5,226.9 L406.8,227.6 L407.2,228.4 L407.5,229.4 L407.8,230.6 L408.1,231.9 L408.5,233.2 L408.8,234.5 L409.1,235.9 L409.4,237.5 L409.8,239.1 L410.1,240.6 L410.4,242.0 L410.7,243.1 L411.1,244.2 L411.4,245.2 L411.7,246.1 L412.0,246.9 L412.4,247.5 L412.7,248.0 L413.0,248.5 L413.3,248.9 L413.7,249.3 L414.0,249.7 L414.3,250.0 L414.6,250.2 L415.0,250.3 L415.3,250.4 L415.6,250.3 L415.9,250.1 L416.3,249.9 L416.6,249.6 L416.9,249.4 L417.2,249.4 L417.6,249.5 L417.9,249.7 L418.2,250.1 L418.5,250.6 L418.9,251.0 L419.2,251.4 L419.5,251.7 L419.8,252.0 L420.2,252.4 L420.5,252.7 L420.8,253.0 L421.1,253.3 L421.5,253.6 L421.8,253.9 L422.1,254.3 L422.4,254.6 L422.8,255.1 L423.1,255.5 L423.4,256.0 L423.7,256.5 L424.1,257.0 L424.4,257.4 L424.7,257.8 L425.0,258.1 L425.3,258.3 L425.7,258.5 L426.0,258.8 L426.3,259.0 L426.6,259.1 L427.0,259.3 L427.3,259.5 L427.6,259.6 L427.9,259.8 L428.3,259.9 L428.6,260.0 L428.9,260.1 L429.2,260.2 L429.6,260.3 L429.9,260.4 L430.2,260.5 L430.5,260.6 L430.9,260.7 L431.2,260.7 L431.5,260.8 L431.8,260.9 L432.2,261.0 L432.5,261.1 L432.8,261.2 L433.1,261.3 L433.5,261.4 L433.8,261.5 L434.1,261.6 L434.4,261.8 L434.8,261.9 L435.1,262.1 L435.4,262.2 L435.7,262.3 L436.1,262.5 L436.4,262.6 L436.7,262.7 L437.0,262.8 L437.4,262.9 L437.7,263.0 L438.0,263.1 L438.3,263.1 L438.7,263.2 L439.0,263.3 L439.3,263.4 L439.6,263.5 L440.0,263.6 L440.3,263.6 L440.6,263.7 L440.9,263.8 L441.3,263.9 L441.6,264.0 L441.9,264.1 L442.2,264.1 L442.6,264.2 L442.9,264.3 L443.2,264.4 L443.5,264.5 L443.9,264.6 L444.2,264.7 L444.5,264.7" fill="none" stroke="#1414d4" stroke-width="1.55" stroke-linejoin="round"/>
<path d="M377.90,219.60V275.80" stroke="#000" stroke-width="1.4" stroke-dasharray="7.6 3.7" fill="none"/>
<path d="M401.66,219.60V275.80" stroke="#c014c0" stroke-width="1.8" stroke-dasharray="7.6 2.2 3.4 2.6" fill="none"/>
</g>
<path d="M366.60,275.80V279.00M386.08,275.80V279.00M405.55,275.80V279.00M425.02,275.80V279.00M444.50,275.80V279.00M363.40,270.90H366.60M363.40,245.25H366.60M363.40,219.60H366.60" stroke="#000" stroke-width="1.1" fill="none"/>
<rect x="366.60" y="219.60" width="77.90" height="56.20" fill="none" stroke="#000" stroke-width="1.5"/>
<text transform="translate(361.60,276.15) scale(1.0,0.964)" text-anchor="end" font-weight="bold" font-size="16.5" stroke="#000" stroke-width="0.18">0.0</text>
<text transform="translate(361.60,250.50) scale(1.0,0.964)" text-anchor="end" font-weight="bold" font-size="16.5" stroke="#000" stroke-width="0.18">0.5</text>
<text transform="translate(361.60,224.85) scale(1.0,0.964)" text-anchor="end" font-weight="bold" font-size="16.5" stroke="#000" stroke-width="0.18">1.0</text>
<text x="367.50" y="216.50" font-weight="bold" font-size="16.5" stroke="#000" stroke-width="0.18">1e<tspan font-size="9.3" dy="-5.9">-5</tspan></text>
<clipPath id="c_r3c4"><rect x="484.70" y="219.50" width="78.10" height="56.50"/></clipPath>
<g clip-path="url(#c_r3c4)">
<path d="M519.1,244.5 L519.6,238.7 L520.2,237.7 L520.7,237.5 L521.3,237.6 L521.8,238.6 L522.4,239.5 L522.9,239.4 L523.5,238.6 L524.0,237.8 L524.6,237.5 L525.2,237.7 L525.7,238.1 L526.3,238.8 L526.8,240.1 L527.4,241.9 L527.9,243.6 L528.5,245.5 L529.0,247.5 L529.6,249.1 L530.1,250.3 L530.7,251.4 L531.2,252.3 L531.8,252.9 L532.4,253.4 L532.9,253.8 L533.5,254.0 L534.0,254.2 L534.6,254.2 L535.1,254.3 L535.7,254.5 L536.2,255.1 L536.8,256.0 L537.3,256.8 L537.9,257.4 L538.4,257.9 L539.0,258.3 L539.5,258.8 L540.1,259.3 L540.7,259.8 L541.2,260.4 L541.8,261.0 L542.3,261.7 L542.9,262.2 L543.4,262.6 L544.0,263.0 L544.5,263.4 L545.1,263.7 L545.6,263.9 L546.2,263.9 L546.7,263.8 L547.3,263.7 L547.9,263.5 L548.4,263.3 L549.0,263.2 L549.5,263.3 L550.1,263.4 L550.6,263.6 L551.2,263.9 L551.7,264.1 L552.3,264.3 L552.8,264.4 L553.4,264.6 L553.9,264.7 L554.5,264.8 L555.0,265.0 L555.6,265.1 L556.2,265.2 L556.7,265.3 L557.3,265.4 L557.8,265.5 L558.4,265.6 L558.9,265.7 L559.5,265.8 L560.0,265.9 L560.6,266.0 L561.1,266.1 L561.7,266.2 L562.2,266.3 L562.8,266.4 L562.8,270.6 L562.2,270.5 L561.7,270.5 L561.1,270.4 L560.6,270.3 L560.0,270.2 L559.5,270.1 L558.9,270.0 L558.4,269.9 L557.8,269.8 L557.3,269.6 L556.7,269.5 L556.2,269.4 L555.6,269.3 L555.0,269.2 L554.5,269.1 L553.9,268.9 L553.4,268.8 L552.8,268.7 L552.3,268.5 L551.7,268.3 L551.2,268.1 L550.6,267.9 L550.1,267.6 L549.5,267.5 L549.0,267.5 L548.4,267.6 L547.9,267.7 L547.3,267.9 L546.7,268.1 L546.2,268.2 L545.6,268.1 L545.1,267.9 L544.5,267.6 L544.0,267.3 L543.4,266.9 L542.9,266.4 L542.3,265.9 L541.8,265.3 L541.2,264.6 L540.7,264.0 L540.1,263.5 L539.5,263.0 L539.0,262.6 L538.4,262.1 L537.9,261.6 L537.3,261.0 L536.8,260.2 L536.2,259.4 L535.7,258.8 L535.1,258.6 L534.6,258.5 L534.0,258.4 L533.5,258.3 L532.9,258.0 L532.4,257.6 L531.8,257.1 L531.2,256.5 L530.7,255.6 L530.1,254.5 L529.6,253.3 L529.0,251.7 L528.5,249.8 L527.9,247.8 L527.4,246.1 L526.8,244.3 L526.3,243.0 L525.7,242.4 L525.2,241.9 L524.6,241.7 L524.0,242.0 L523.5,242.9 L522.9,243.6 L522.4,243.7 L521.8,242.8 L521.3,241.9 L520.7,241.7 L520.2,241.9 L519.6,242.9 L519.1,248.7Z" fill="rgba(242,95,95,0.48)" stroke="none"/>
<path d="M519.1,245.0 L519.6,240.8 L520.2,240.3 L520.7,240.6 L521.3,240.9 L521.8,241.4 L522.4,242.2 L522.9,242.8 L523.5,243.0 L524.0,243.1 L524.6,243.3 L525.2,243.7 L525.7,244.5 L526.3,245.7 L526.8,246.9 L527.4,248.1 L527.9,249.3 L528.5,250.5 L529.0,251.6 L529.6,252.6 L530.1,253.5 L530.7,254.3 L531.2,255.0 L531.8,255.6 L532.4,256.1 L532.9,256.5 L533.5,256.9 L534.0,257.0 L534.6,257.2 L535.1,257.3 L535.7,257.4 L536.2,257.6 L536.8,257.9 L537.3,258.4 L537.9,259.0 L538.4,259.6 L539.0,260.1 L539.5,260.5 L540.1,260.8 L540.7,261.1 L541.2,261.3 L541.8,261.5 L542.3,261.7 L542.9,262.0 L543.4,262.2 L544.0,262.6 L544.5,263.0 L545.1,263.3 L545.6,263.7 L546.2,263.9 L546.7,264.0 L547.3,264.1 L547.9,264.1 L548.4,264.1 L549.0,264.2 L549.5,264.2 L550.1,264.3 L550.6,264.4 L551.2,264.5 L551.7,264.7 L552.3,264.8 L552.8,264.9 L553.4,265.1 L553.9,265.2 L554.5,265.4 L555.0,265.5 L555.6,265.7 L556.2,265.8 L556.7,266.0 L557.3,266.1 L557.8,266.3 L558.4,266.5 L558.9,266.6 L559.5,266.8 L560.0,266.9 L560.6,267.1 L561.1,267.2 L561.7,267.3 L562.2,267.4 L562.8,267.5 L562.8,270.3 L562.2,270.2 L561.7,270.1 L561.1,270.0 L560.6,269.9 L560.0,269.7 L559.5,269.6 L558.9,269.4 L558.4,269.3 L557.8,269.1 L557.3,269.0 L556.7,268.8 L556.2,268.7 L555.6,268.5 L555.0,268.3 L554.5,268.2 L553.9,268.0 L553.4,267.9 L552.8,267.8 L552.3,267.6 L551.7,267.5 L551.2,267.3 L550.6,267.2 L550.1,267.1 L549.5,267.1 L549.0,267.0 L548.4,267.0 L547.9,266.9 L547.3,266.9 L546.7,266.8 L546.2,266.7 L545.6,266.5 L545.1,266.2 L544.5,265.8 L544.0,265.4 L543.4,265.1 L542.9,264.8 L542.3,264.6 L541.8,264.3 L541.2,264.1 L540.7,263.9 L540.1,263.6 L539.5,263.3 L539.0,263.0 L538.4,262.4 L537.9,261.8 L537.3,261.2 L536.8,260.7 L536.2,260.4 L535.7,260.2 L535.1,260.1 L534.6,260.0 L534.0,259.9 L533.5,259.7 L532.9,259.4 L532.4,258.9 L531.8,258.4 L531.2,257.8 L530.7,257.1 L530.1,256.4 L529.6,255.4 L529.0,254.4 L528.5,253.4 L527.9,252.1 L527.4,250.9 L526.8,249.7 L526.3,248.5 L525.7,247.4 L525.2,246.5 L524.6,246.1 L524.0,246.0 L523.5,245.8 L522.9,245.6 L522.4,245.0 L521.8,244.3 L521.3,243.7 L520.7,243.4 L520.2,243.2 L519.6,243.6 L519.1,247.8Z" fill="rgba(95,95,242,0.48)" stroke="none"/>
<path d="M504.22,219.50V276.00M523.75,219.50V276.00M543.27,219.50V276.00" stroke="#000" stroke-width="1.15" stroke-dasharray="1.4 0.7" fill="none"/>
<path d="M484.70,272.40H562.80M484.70,254.76H562.80M484.70,237.13H562.80" stroke="#000" stroke-width="1.45" stroke-dasharray="1.6 0.6" fill="none"/>
<path d="M484.7,272.0 L485.0,272.0 L485.4,272.0 L485.7,272.0 L486.0,272.0 L486.3,272.0 L486.7,272.0 L487.0,272.0 L487.3,272.0 L487.6,272.0 L488.0,272.0 L488.3,272.0 L488.6,272.0 L488.9,272.0 L489.3,272.0 L489.6,272.0 L489.9,272.0 L490.2,272.0 L490.6,272.0 L490.9,272.0 L491.2,272.0 L491.5,272.0 L491.9,272.0 L492.2,272.0 L492.5,272.0 L492.8,272.0 L493.2,272.0 L493.5,272.0 L493.8,272.0 L494.1,272.0 L494.5,271.8 L494.8,271.3 L495.1,270.7 L495.4,270.1 L495.8,269.7 L496.1,269.6 L496.4,270.0 L496.7,270.7 L497.1,271.4 L497.4,271.9 L497.7,272.0 L498.0,272.0 L498.4,272.0 L498.7,272.0 L499.0,272.0 L499.3,272.0 L499.7,272.0 L500.0,272.0 L500.3,272.0 L500.6,272.0 L501.0,272.0 L501.3,272.0 L501.6,272.0 L501.9,272.0 L502.3,272.0 L502.6,272.0 L502.9,272.0 L503.2,272.0 L503.6,272.0 L503.9,272.0 L504.2,272.0 L504.6,272.0 L504.9,272.0 L505.2,272.0 L505.5,272.0 L505.9,272.0 L506.2,272.0 L506.5,272.0 L506.8,272.0 L507.2,272.0 L507.5,272.0 L507.8,272.0 L508.1,272.0 L508.5,272.0 L508.8,272.1 L509.1,272.1 L509.4,272.1 L509.8,272.1 L510.1,272.1 L510.4,272.1 L510.7,272.1 L511.1,272.1 L511.4,272.2 L511.7,272.2 L512.0,272.2 L512.4,272.2 L512.7,272.2 L513.0,272.3 L513.3,272.3 L513.7,272.3 L514.0,272.3 L514.3,272.3 L514.6,272.3 L515.0,272.4 L515.3,272.4 L515.6,272.4 L515.9,272.4 L516.3,272.4 L516.6,272.4 L516.9,272.0 L517.2,269.7 L517.6,266.0 L517.9,261.5 L518.2,256.9 L518.5,252.7 L518.9,249.0 L519.2,245.0 L519.5,241.5 L519.8,240.0 L520.2,239.8 L520.5,239.7 L520.8,239.6 L521.1,239.6 L521.5,240.0 L521.8,240.7 L522.1,241.3 L522.4,241.7 L522.8,241.7 L523.1,241.3 L523.4,240.9 L523.8,240.3 L524.1,239.9 L524.4,239.6 L524.7,239.6 L525.1,239.7 L525.4,240.0 L525.7,240.3 L526.0,240.6 L526.4,241.1 L526.7,241.8 L527.0,242.8 L527.3,243.9 L527.7,244.9 L528.0,245.9 L528.3,247.1 L528.6,248.2 L529.0,249.3 L529.3,250.4 L529.6,251.2 L529.9,252.0 L530.3,252.7 L530.6,253.3 L530.9,253.9 L531.2,254.4 L531.6,254.8 L531.9,255.1 L532.2,255.4 L532.5,255.7 L532.9,255.9 L533.2,256.1 L533.5,256.2 L533.8,256.3 L534.2,256.3 L534.5,256.3 L534.8,256.4 L535.1,256.4 L535.5,256.5 L535.8,256.7 L536.1,257.1 L536.4,257.6 L536.8,258.1 L537.1,258.6 L537.4,259.0 L537.7,259.3 L538.1,259.6 L538.4,259.9 L538.7,260.2 L539.0,260.5 L539.4,260.8 L539.7,261.1 L540.0,261.3 L540.3,261.6 L540.7,261.9 L541.0,262.3 L541.3,262.7 L541.6,263.0 L542.0,263.4 L542.3,263.8 L542.6,264.1 L542.9,264.4 L543.3,264.6 L543.6,264.9 L543.9,265.1 L544.3,265.3 L544.6,265.5 L544.9,265.7 L545.2,265.9 L545.6,266.0 L545.9,266.0 L546.2,266.0 L546.5,266.0 L546.9,265.9 L547.2,265.8 L547.5,265.7 L547.8,265.6 L548.2,265.5 L548.5,265.4 L548.8,265.4 L549.1,265.3 L549.5,265.4 L549.8,265.4 L550.1,265.5 L550.4,265.7 L550.8,265.8 L551.1,265.9 L551.4,266.1 L551.7,266.2 L552.1,266.3 L552.4,266.4 L552.7,266.5 L553.0,266.6 L553.4,266.7 L553.7,266.8 L554.0,266.8 L554.3,266.9 L554.7,267.0 L555.0,267.1 L555.3,267.1 L555.6,267.2 L556.0,267.3 L556.3,267.3 L556.6,267.4 L556.9,267.5 L557.3,267.5 L557.6,267.6 L557.9,267.7 L558.2,267.7 L558.6,267.8 L558.9,267.8 L559.2,267.9 L559.5,268.0 L559.9,268.0 L560.2,268.1 L560.5,268.1 L560.8,268.2 L561.2,268.3 L561.5,268.3 L561.8,268.4 L562.1,268.4 L562.5,268.5 L562.8,268.5" fill="none" stroke="#d61c1c" stroke-width="1.35" stroke-linejoin="round"/>
<path d="M484.7,272.4 L485.0,272.4 L485.4,272.4 L485.7,272.4 L486.0,272.4 L486.3,272.4 L486.7,272.4 L487.0,272.4 L487.3,272.4 L487.6,272.4 L488.0,272.4 L488.3,272.4 L488.6,272.4 L488.9,272.4 L489.3,272.4 L489.6,272.4 L489.9,272.4 L490.2,272.4 L490.6,272.4 L490.9,272.4 L491.2,272.4 L491.5,272.4 L491.9,272.4 L492.2,272.4 L492.5,272.4 L492.8,272.4 L493.2,272.4 L493.5,272.4 L493.8,272.4 L494.1,272.4 L494.5,272.4 L494.8,272.0 L495.1,271.1 L495.4,270.0 L495.8,269.1 L496.1,268.9 L496.4,269.4 L496.7,270.4 L497.1,271.5 L497.4,272.2 L497.7,272.4 L498.0,272.4 L498.4,272.4 L498.7,272.4 L499.0,272.4 L499.3,272.4 L499.7,272.4 L500.0,272.4 L500.3,272.4 L500.6,272.4 L501.0,272.4 L501.3,272.4 L501.6,272.4 L501.9,272.4 L502.3,272.4 L502.6,272.4 L502.9,272.4 L503.2,272.4 L503.6,272.4 L503.9,272.4 L504.2,272.4 L504.6,272.4 L504.9,272.4 L505.2,272.4 L505.5,272.4 L505.9,272.4 L506.2,272.4 L506.5,272.4 L506.8,272.4 L507.2,272.4 L507.5,272.4 L507.8,272.4 L508.1,272.4 L508.5,272.4 L508.8,272.4 L509.1,272.4 L509.4,272.4 L509.8,272.4 L510.1,272.4 L510.4,272.4 L510.7,272.4 L511.1,272.4 L511.4,272.4 L511.7,272.4 L512.0,272.4 L512.4,272.4 L512.7,272.4 L513.0,272.4 L513.3,272.4 L513.7,272.4 L514.0,272.4 L514.3,272.4 L514.6,272.4 L515.0,272.4 L515.3,272.4 L515.6,272.4 L515.9,272.4 L516.3,272.4 L516.6,272.4 L516.9,271.8 L517.2,268.9 L517.6,264.5 L517.9,259.6 L518.2,255.4 L518.5,252.1 L518.9,248.4 L519.2,245.1 L519.5,242.7 L519.8,241.7 L520.2,241.8 L520.5,241.9 L520.8,242.0 L521.1,242.3 L521.5,242.5 L521.8,242.8 L522.1,243.2 L522.4,243.7 L522.8,244.0 L523.1,244.3 L523.4,244.4 L523.8,244.5 L524.1,244.6 L524.4,244.7 L524.7,244.8 L525.1,245.0 L525.4,245.4 L525.7,245.9 L526.0,246.6 L526.4,247.3 L526.7,248.0 L527.0,248.7 L527.3,249.4 L527.7,250.1 L528.0,250.9 L528.3,251.6 L528.6,252.3 L529.0,252.9 L529.3,253.5 L529.6,254.1 L529.9,254.6 L530.3,255.1 L530.6,255.6 L530.9,256.0 L531.2,256.4 L531.6,256.7 L531.9,257.1 L532.2,257.4 L532.5,257.7 L532.9,257.9 L533.2,258.1 L533.5,258.3 L533.8,258.4 L534.2,258.5 L534.5,258.6 L534.8,258.6 L535.1,258.7 L535.5,258.8 L535.8,258.8 L536.1,258.9 L536.4,259.1 L536.8,259.3 L537.1,259.6 L537.4,259.9 L537.7,260.3 L538.1,260.6 L538.4,261.0 L538.7,261.3 L539.0,261.6 L539.4,261.8 L539.7,262.0 L540.0,262.2 L540.3,262.3 L540.7,262.5 L541.0,262.6 L541.3,262.8 L541.6,262.9 L542.0,263.0 L542.3,263.1 L542.6,263.3 L542.9,263.4 L543.3,263.6 L543.6,263.8 L543.9,264.0 L544.3,264.2 L544.6,264.4 L544.9,264.6 L545.2,264.8 L545.6,265.0 L545.9,265.2 L546.2,265.3 L546.5,265.4 L546.9,265.4 L547.2,265.5 L547.5,265.5 L547.8,265.5 L548.2,265.5 L548.5,265.6 L548.8,265.6 L549.1,265.6 L549.5,265.6 L549.8,265.7 L550.1,265.7 L550.4,265.8 L550.8,265.8 L551.1,265.9 L551.4,266.0 L551.7,266.1 L552.1,266.2 L552.4,266.2 L552.7,266.3 L553.0,266.4 L553.4,266.5 L553.7,266.6 L554.0,266.7 L554.3,266.7 L554.7,266.8 L555.0,266.9 L555.3,267.0 L555.6,267.1 L556.0,267.2 L556.3,267.3 L556.6,267.4 L556.9,267.5 L557.3,267.6 L557.6,267.6 L557.9,267.7 L558.2,267.8 L558.6,267.9 L558.9,268.0 L559.2,268.1 L559.5,268.2 L559.9,268.3 L560.2,268.4 L560.5,268.4 L560.8,268.5 L561.2,268.6 L561.5,268.7 L561.8,268.7 L562.1,268.8 L562.5,268.8 L562.8,268.9" fill="none" stroke="#1414d4" stroke-width="1.55" stroke-linejoin="round"/>
<path d="M495.83,219.50V276.00" stroke="#000" stroke-width="1.4" stroke-dasharray="7.6 3.7" fill="none"/>
<path d="M519.65,219.50V276.00" stroke="#c014c0" stroke-width="1.8" stroke-dasharray="7.6 2.2 3.4 2.6" fill="none"/>
</g>
<path d="M484.70,276.00V279.20M504.22,276.00V279.20M523.75,276.00V279.20M543.27,276.00V279.20M562.80,276.00V279.20M481.50,272.40H484.70M481.50,254.76H484.70M481.50,237.13H484.70M481.50,219.49H484.70" stroke="#000" stroke-width="1.1" fill="none"/>
<rect x="484.70" y="219.50" width="78.10" height="56.50" fill="none" stroke="#000" stroke-width="1.5"/>
<text transform="translate(480.60,277.40) scale(1.0,0.973)" text-anchor="end" font-weight="bold" font-size="16.5" stroke="#000" stroke-width="0.18">0.0</text>
<text transform="translate(480.60,259.76) scale(1.0,0.973)" text-anchor="end" font-weight="bold" font-size="16.5" stroke="#000" stroke-width="0.18">0.5</text>
<text transform="translate(480.60,242.13) scale(1.0,0.973)" text-anchor="end" font-weight="bold" font-size="16.5" stroke="#000" stroke-width="0.18">1.0</text>
<text transform="translate(480.60,224.49) scale(1.0,0.973)" text-anchor="end" font-weight="bold" font-size="16.5" stroke="#000" stroke-width="0.18">1.5</text>
<text x="486.00" y="216.40" font-weight="bold" font-size="16.5" stroke="#000" stroke-width="0.18">1e<tspan font-size="9.3" dy="-5.9">-5</tspan></text>
<clipPath id="c_r4c1"><rect x="130.00" y="309.50" width="77.80" height="55.45"/></clipPath>
<g clip-path="url(#c_r4c1)">
<path d="M165.0,344.2 L165.6,341.2 L166.1,338.2 L166.6,335.4 L167.2,332.7 L167.7,329.5 L168.3,326.6 L168.8,325.2 L169.3,325.3 L169.9,325.7 L170.4,326.4 L171.0,327.0 L171.5,327.9 L172.1,328.9 L172.6,330.0 L173.1,331.0 L173.7,332.1 L174.2,333.1 L174.8,333.8 L175.3,334.3 L175.8,334.6 L176.4,334.8 L176.9,335.1 L177.5,335.6 L178.0,336.3 L178.6,337.3 L179.1,338.4 L179.6,339.5 L180.2,340.4 L180.7,340.9 L181.3,341.2 L181.8,341.4 L182.3,341.6 L182.9,341.8 L183.4,342.0 L184.0,342.2 L184.5,342.5 L185.1,342.9 L185.6,343.3 L186.1,343.8 L186.7,344.4 L187.2,344.9 L187.8,345.4 L188.3,345.9 L188.8,346.4 L189.4,346.9 L189.9,347.4 L190.5,347.9 L191.0,348.4 L191.6,348.9 L192.1,349.3 L192.6,349.7 L193.2,350.1 L193.7,350.4 L194.3,350.7 L194.8,351.1 L195.3,351.4 L195.9,351.7 L196.4,352.1 L197.0,352.5 L197.5,353.1 L198.1,353.6 L198.6,354.0 L199.1,354.4 L199.7,354.6 L200.2,354.7 L200.8,354.6 L201.3,354.6 L201.8,354.5 L202.4,354.4 L202.9,354.3 L203.5,354.2 L204.0,354.1 L204.6,354.0 L205.1,354.0 L205.6,354.0 L206.2,354.0 L206.7,354.1 L207.3,354.4 L207.8,354.7 L207.8,358.8 L207.3,358.8 L206.7,358.8 L206.2,358.8 L205.6,358.8 L205.1,358.8 L204.6,358.9 L204.0,358.9 L203.5,358.9 L202.9,359.0 L202.4,359.0 L201.8,359.1 L201.3,359.1 L200.8,359.2 L200.2,359.2 L199.7,359.1 L199.1,359.0 L198.6,358.7 L198.1,358.4 L197.5,358.1 L197.0,357.8 L196.4,357.5 L195.9,357.4 L195.3,357.2 L194.8,357.1 L194.3,356.9 L193.7,356.8 L193.2,356.7 L192.6,356.5 L192.1,356.3 L191.6,356.1 L191.0,355.9 L190.5,355.7 L189.9,355.5 L189.4,355.2 L188.8,354.9 L188.3,354.6 L187.8,354.2 L187.2,353.6 L186.7,353.0 L186.1,352.3 L185.6,351.8 L185.1,351.4 L184.5,351.2 L184.0,351.3 L183.4,351.6 L182.9,352.1 L182.3,352.7 L181.8,353.4 L181.3,354.0 L180.7,354.5 L180.2,355.0 L179.6,355.5 L179.1,355.9 L178.6,356.3 L178.0,356.6 L177.5,356.7 L176.9,356.6 L176.4,356.2 L175.8,355.7 L175.3,355.2 L174.8,354.7 L174.2,354.2 L173.7,353.8 L173.1,353.3 L172.6,352.6 L172.1,351.5 L171.5,350.2 L171.0,349.5 L170.4,349.4 L169.9,349.4 L169.3,349.4 L168.8,349.5 L168.3,349.9 L167.7,350.6 L167.2,351.1 L166.6,351.2 L166.1,351.2 L165.6,351.2 L165.0,351.2Z" fill="rgba(242,95,95,0.48)" stroke="none"/>
<path d="M163.1,340.8 L163.6,337.7 L164.2,334.7 L164.8,331.7 L165.3,328.5 L165.9,325.2 L166.5,322.1 L167.0,319.7 L167.6,317.6 L168.2,315.8 L168.7,314.8 L169.3,315.2 L169.9,317.2 L170.4,319.8 L171.0,322.3 L171.6,325.0 L172.1,327.9 L172.7,330.1 L173.3,331.4 L173.8,332.6 L174.4,333.6 L175.0,334.5 L175.5,335.3 L176.1,335.9 L176.7,336.6 L177.2,337.1 L177.8,337.6 L178.4,338.1 L178.9,338.5 L179.5,338.9 L180.1,339.3 L180.6,339.8 L181.2,340.2 L181.8,340.5 L182.3,340.9 L182.9,341.2 L183.5,341.6 L184.0,342.1 L184.6,342.6 L185.1,343.5 L185.7,344.5 L186.3,345.7 L186.8,347.0 L187.4,348.1 L188.0,349.0 L188.5,349.6 L189.1,350.1 L189.7,350.5 L190.2,350.9 L190.8,351.2 L191.4,351.5 L191.9,351.8 L192.5,352.0 L193.1,352.1 L193.6,352.3 L194.2,352.4 L194.8,352.5 L195.3,352.6 L195.9,352.8 L196.5,353.1 L197.0,353.6 L197.6,354.2 L198.2,354.8 L198.7,355.4 L199.3,356.0 L199.9,356.3 L200.4,356.5 L201.0,356.7 L201.6,356.8 L202.1,357.0 L202.7,357.1 L203.3,357.2 L203.8,357.3 L204.4,357.4 L205.0,357.4 L205.5,357.4 L206.1,357.4 L206.7,357.4 L207.2,357.2 L207.8,357.1 L207.8,359.9 L207.2,360.1 L206.7,360.3 L206.1,360.5 L205.5,360.6 L205.0,360.7 L204.4,360.7 L203.8,360.8 L203.3,360.8 L202.7,360.8 L202.1,360.9 L201.6,360.9 L201.0,360.9 L200.4,360.9 L199.9,360.9 L199.3,360.7 L198.7,360.5 L198.2,360.1 L197.6,359.6 L197.0,359.3 L196.5,358.9 L195.9,358.8 L195.3,358.6 L194.8,358.6 L194.2,358.5 L193.6,358.4 L193.1,358.3 L192.5,358.2 L191.9,358.0 L191.4,357.9 L190.8,357.7 L190.2,357.4 L189.7,357.2 L189.1,356.9 L188.5,356.5 L188.0,356.1 L187.4,355.5 L186.8,354.7 L186.3,353.8 L185.7,352.9 L185.1,352.0 L184.6,351.3 L184.0,350.7 L183.5,350.2 L182.9,349.7 L182.3,349.2 L181.8,348.7 L181.2,348.2 L180.6,347.8 L180.1,347.2 L179.5,346.5 L178.9,345.9 L178.4,345.2 L177.8,344.7 L177.2,344.4 L176.7,344.2 L176.1,344.2 L175.5,344.2 L175.0,344.2 L174.4,344.2 L173.8,344.2 L173.3,344.2 L172.7,344.2 L172.1,343.3 L171.6,341.8 L171.0,340.8 L170.4,340.8 L169.9,340.8 L169.3,340.8 L168.7,340.7 L168.2,340.2 L167.6,339.5 L167.0,339.0 L166.5,339.7 L165.9,341.6 L165.3,343.6 L164.8,344.6 L164.2,345.3 L163.6,345.8 L163.1,346.0Z" fill="rgba(95,95,242,0.48)" stroke="none"/>
<path d="M149.45,309.50V364.95M168.90,309.50V364.95M188.35,309.50V364.95" stroke="#000" stroke-width="1.15" stroke-dasharray="1.4 0.7" fill="none"/>
<path d="M130.00,361.60H207.80M130.00,344.24H207.80M130.00,326.87H207.80" stroke="#000" stroke-width="1.45" stroke-dasharray="1.6 0.6" fill="none"/>
<path d="M130.0,361.3 L130.3,361.3 L130.6,361.3 L131.0,361.3 L131.3,361.3 L131.6,361.3 L131.9,361.3 L132.3,361.3 L132.6,361.3 L132.9,361.2 L133.2,361.2 L133.6,361.2 L133.9,361.2 L134.2,361.2 L134.5,361.2 L134.9,361.2 L135.2,361.2 L135.5,361.2 L135.8,361.2 L136.2,361.2 L136.5,361.2 L136.8,361.2 L137.1,361.2 L137.5,361.2 L137.8,361.2 L138.1,361.2 L138.4,361.2 L138.8,361.2 L139.1,361.2 L139.4,361.2 L139.7,361.2 L140.0,361.2 L140.4,361.2 L140.7,361.2 L141.0,361.2 L141.3,361.2 L141.7,361.2 L142.0,361.2 L142.3,361.2 L142.6,361.2 L143.0,361.2 L143.3,361.2 L143.6,361.2 L143.9,361.2 L144.3,361.2 L144.6,361.2 L144.9,361.2 L145.2,361.1 L145.6,361.1 L145.9,361.1 L146.2,361.1 L146.5,361.1 L146.9,361.1 L147.2,361.1 L147.5,361.1 L147.8,361.1 L148.2,361.1 L148.5,361.1 L148.8,361.1 L149.1,361.1 L149.4,361.1 L149.8,361.1 L150.1,361.1 L150.4,361.0 L150.7,361.0 L151.1,361.0 L151.4,361.0 L151.7,361.0 L152.0,361.0 L152.4,361.0 L152.7,361.0 L153.0,361.0 L153.3,361.0 L153.7,361.0 L154.0,360.9 L154.3,360.9 L154.6,360.9 L155.0,360.9 L155.3,360.9 L155.6,360.9 L155.9,360.9 L156.3,360.8 L156.6,360.8 L156.9,360.7 L157.2,360.6 L157.6,360.5 L157.9,360.4 L158.2,360.3 L158.5,360.2 L158.9,360.0 L159.2,359.9 L159.5,359.6 L159.8,359.3 L160.1,358.8 L160.5,358.3 L160.8,357.7 L161.1,357.1 L161.4,356.4 L161.8,355.7 L162.1,355.0 L162.4,354.4 L162.7,353.7 L163.1,353.1 L163.4,352.3 L163.7,351.6 L164.0,350.8 L164.4,350.0 L164.7,349.2 L165.0,348.4 L165.3,347.5 L165.7,346.6 L166.0,345.7 L166.3,344.7 L166.6,343.8 L167.0,342.8 L167.3,341.8 L167.6,340.7 L167.9,339.6 L168.3,338.6 L168.6,337.8 L168.9,337.3 L169.2,337.0 L169.5,336.7 L169.9,336.4 L170.2,336.3 L170.5,336.3 L170.8,336.5 L171.2,337.0 L171.5,337.7 L171.8,338.6 L172.1,339.4 L172.5,340.2 L172.8,340.8 L173.1,341.3 L173.4,341.8 L173.8,342.3 L174.1,342.8 L174.4,343.2 L174.7,343.6 L175.1,343.9 L175.4,344.2 L175.7,344.3 L176.0,344.5 L176.4,344.6 L176.7,344.8 L177.0,344.9 L177.3,345.0 L177.7,345.1 L178.0,345.1 L178.3,345.2 L178.6,345.3 L178.9,345.3 L179.3,345.4 L179.6,345.4 L179.9,345.4 L180.2,345.5 L180.6,345.5 L180.9,345.5 L181.2,345.5 L181.5,345.6 L181.9,345.6 L182.2,345.7 L182.5,345.8 L182.8,345.9 L183.2,346.1 L183.5,346.2 L183.8,346.4 L184.1,346.5 L184.5,346.7 L184.8,346.8 L185.1,347.0 L185.4,347.2 L185.8,347.4 L186.1,347.6 L186.4,347.8 L186.7,348.0 L187.1,348.3 L187.4,348.6 L187.7,348.9 L188.0,349.4 L188.4,349.8 L188.7,350.2 L189.0,350.6 L189.3,351.0 L189.6,351.3 L190.0,351.5 L190.3,351.8 L190.6,352.0 L190.9,352.2 L191.3,352.4 L191.6,352.5 L191.9,352.7 L192.2,352.9 L192.6,353.1 L192.9,353.3 L193.2,353.5 L193.5,353.7 L193.9,353.8 L194.2,354.0 L194.5,354.2 L194.8,354.4 L195.2,354.6 L195.5,354.7 L195.8,354.9 L196.1,355.1 L196.5,355.2 L196.8,355.4 L197.1,355.6 L197.4,355.7 L197.8,355.9 L198.1,356.0 L198.4,356.2 L198.7,356.4 L199.0,356.6 L199.4,356.8 L199.7,357.0 L200.0,357.1 L200.3,357.3 L200.7,357.4 L201.0,357.4 L201.3,357.4 L201.6,357.4 L202.0,357.4 L202.3,357.4 L202.6,357.3 L202.9,357.3 L203.3,357.2 L203.6,357.1 L203.9,357.1 L204.2,357.0 L204.6,356.8 L204.9,356.7 L205.2,356.5 L205.5,356.4 L205.9,356.4 L206.2,356.4 L206.5,356.5 L206.8,356.6 L207.2,356.7 L207.5,356.9 L207.8,357.1" fill="none" stroke="#d61c1c" stroke-width="1.35" stroke-linejoin="round"/>
<path d="M130.0,361.3 L130.3,361.2 L130.6,361.2 L131.0,361.2 L131.3,361.2 L131.6,361.2 L131.9,361.2 L132.3,361.2 L132.6,361.2 L132.9,361.2 L133.2,361.2 L133.6,361.2 L133.9,361.2 L134.2,361.2 L134.5,361.1 L134.9,361.1 L135.2,361.1 L135.5,361.1 L135.8,361.1 L136.2,361.1 L136.5,361.1 L136.8,361.1 L137.1,361.1 L137.5,361.1 L137.8,361.1 L138.1,361.1 L138.4,361.0 L138.8,361.0 L139.1,361.0 L139.4,361.0 L139.7,361.0 L140.0,361.0 L140.4,361.0 L140.7,361.0 L141.0,361.0 L141.3,361.0 L141.7,361.0 L142.0,360.9 L142.3,360.9 L142.6,360.9 L143.0,360.9 L143.3,360.9 L143.6,360.9 L143.9,360.9 L144.3,360.9 L144.6,360.9 L144.9,360.9 L145.2,360.9 L145.6,360.9 L145.9,360.9 L146.2,360.9 L146.5,360.8 L146.9,360.8 L147.2,360.8 L147.5,360.8 L147.8,360.8 L148.2,360.8 L148.5,360.8 L148.8,360.8 L149.1,360.8 L149.4,360.8 L149.8,360.8 L150.1,360.8 L150.4,360.8 L150.7,360.8 L151.1,360.8 L151.4,360.7 L151.7,360.7 L152.0,360.7 L152.4,360.7 L152.7,360.7 L153.0,360.7 L153.3,360.7 L153.7,360.7 L154.0,360.6 L154.3,360.6 L154.6,360.6 L155.0,360.6 L155.3,360.6 L155.6,360.5 L155.9,360.3 L156.3,360.1 L156.6,359.9 L156.9,359.5 L157.2,359.2 L157.6,358.7 L157.9,358.3 L158.2,357.8 L158.5,357.1 L158.9,356.2 L159.2,355.1 L159.5,354.0 L159.8,352.9 L160.1,351.8 L160.5,350.8 L160.8,349.8 L161.1,348.9 L161.4,347.9 L161.8,347.0 L162.1,346.0 L162.4,345.0 L162.7,344.0 L163.1,343.0 L163.4,341.9 L163.7,340.9 L164.0,339.8 L164.4,338.7 L164.7,337.7 L165.0,336.6 L165.3,335.4 L165.7,334.2 L166.0,332.9 L166.3,331.8 L166.6,330.9 L167.0,330.3 L167.3,330.1 L167.6,329.8 L167.9,329.6 L168.3,329.4 L168.6,329.3 L168.9,329.3 L169.2,329.4 L169.5,329.8 L169.9,330.2 L170.2,330.8 L170.5,331.5 L170.8,332.1 L171.2,332.8 L171.5,333.7 L171.8,334.6 L172.1,335.6 L172.5,336.5 L172.8,337.3 L173.1,338.0 L173.4,338.7 L173.8,339.4 L174.1,340.0 L174.4,340.5 L174.7,340.8 L175.1,341.0 L175.4,341.1 L175.7,341.2 L176.0,341.3 L176.4,341.4 L176.7,341.5 L177.0,341.6 L177.3,341.7 L177.7,341.9 L178.0,342.0 L178.3,342.2 L178.6,342.4 L178.9,342.6 L179.3,342.7 L179.6,342.9 L179.9,343.1 L180.2,343.3 L180.6,343.5 L180.9,343.8 L181.2,344.0 L181.5,344.2 L181.9,344.4 L182.2,344.7 L182.5,344.9 L182.8,345.2 L183.2,345.5 L183.5,345.8 L183.8,346.1 L184.1,346.4 L184.5,346.8 L184.8,347.2 L185.1,347.6 L185.4,348.1 L185.8,348.5 L186.1,349.0 L186.4,349.4 L186.7,350.0 L187.1,350.5 L187.4,351.2 L187.7,351.8 L188.0,352.4 L188.4,353.0 L188.7,353.5 L189.0,353.9 L189.3,354.1 L189.6,354.3 L190.0,354.5 L190.3,354.7 L190.6,354.8 L190.9,355.0 L191.3,355.1 L191.6,355.2 L191.9,355.3 L192.2,355.3 L192.6,355.4 L192.9,355.4 L193.2,355.5 L193.5,355.5 L193.9,355.5 L194.2,355.6 L194.5,355.6 L194.8,355.7 L195.2,355.7 L195.5,355.9 L195.8,356.0 L196.1,356.2 L196.5,356.4 L196.8,356.6 L197.1,356.8 L197.4,357.0 L197.8,357.2 L198.1,357.4 L198.4,357.6 L198.7,357.8 L199.0,358.0 L199.4,358.3 L199.7,358.5 L200.0,358.7 L200.3,358.9 L200.7,359.0 L201.0,359.1 L201.3,359.2 L201.6,359.3 L202.0,359.3 L202.3,359.4 L202.6,359.4 L202.9,359.5 L203.3,359.5 L203.6,359.5 L203.9,359.5 L204.2,359.5 L204.6,359.5 L204.9,359.4 L205.2,359.4 L205.5,359.3 L205.9,359.2 L206.2,359.1 L206.5,359.0 L206.8,358.9 L207.2,358.8 L207.5,358.6 L207.8,358.5" fill="none" stroke="#1414d4" stroke-width="1.55" stroke-linejoin="round"/>
<path d="M180.57,309.50V364.95" stroke="#000" stroke-width="1.4" stroke-dasharray="7.6 3.7" fill="none"/>
<path d="M165.01,309.50V364.95" stroke="#c014c0" stroke-width="1.8" stroke-dasharray="7.6 2.2 3.4 2.6" fill="none"/>
</g>
<path d="M130.00,364.95V368.15M149.45,364.95V368.15M168.90,364.95V368.15M188.35,364.95V368.15M207.80,364.95V368.15M126.80,361.60H130.00M126.80,344.24H130.00M126.80,326.87H130.00M126.80,309.50H130.00" stroke="#000" stroke-width="1.1" fill="none"/>
<rect x="130.00" y="309.50" width="77.80" height="55.45" fill="none" stroke="#000" stroke-width="1.5"/>
<text transform="translate(123.60,366.25) scale(1.0,0.941)" text-anchor="end" font-weight="bold" font-size="16.5" stroke="#000" stroke-width="0.18">0.0</text>
<text transform="translate(123.60,348.88) scale(1.0,0.941)" text-anchor="end" font-weight="bold" font-size="16.5" stroke="#000" stroke-width="0.18">0.5</text>
<text transform="translate(123.60,331.52) scale(1.0,0.941)" text-anchor="end" font-weight="bold" font-size="16.5" stroke="#000" stroke-width="0.18">1.0</text>
<text transform="translate(123.60,314.15) scale(1.0,0.941)" text-anchor="end" font-weight="bold" font-size="16.5" stroke="#000" stroke-width="0.18">1.5</text>
<text x="129.90" y="306.40" font-weight="bold" font-size="16.5" stroke="#000" stroke-width="0.18">1e<tspan font-size="9.3" dy="-5.9">-5</tspan></text>
<clipPath id="c_r4c2"><rect x="248.50" y="309.45" width="77.50" height="55.45"/></clipPath>
<g clip-path="url(#c_r4c2)">
<path d="M281.4,348.6 L282.0,344.6 L282.6,341.1 L283.1,338.3 L283.7,336.2 L284.3,334.6 L284.8,333.2 L285.4,332.2 L286.0,331.2 L286.5,330.3 L287.1,329.8 L287.6,330.0 L288.2,331.1 L288.8,332.5 L289.3,333.9 L289.9,335.3 L290.5,336.9 L291.0,338.3 L291.6,339.6 L292.2,341.0 L292.7,342.3 L293.3,343.2 L293.8,343.6 L294.4,343.2 L295.0,342.2 L295.5,341.1 L296.1,339.9 L296.7,338.8 L297.2,337.6 L297.8,336.5 L298.4,335.7 L298.9,334.8 L299.5,334.3 L300.1,334.6 L300.6,335.7 L301.2,337.4 L301.7,339.0 L302.3,341.1 L302.9,343.5 L303.4,345.7 L304.0,347.8 L304.6,350.0 L305.1,351.9 L305.7,353.3 L306.3,354.1 L306.8,354.8 L307.4,355.4 L307.9,355.9 L308.5,356.4 L309.1,356.8 L309.6,357.0 L310.2,357.3 L310.8,357.4 L311.3,357.5 L311.9,357.6 L312.5,357.7 L313.0,357.8 L313.6,357.9 L314.2,357.9 L314.7,358.0 L315.3,358.0 L315.8,358.1 L316.4,358.1 L317.0,358.2 L317.5,358.3 L318.1,358.3 L318.7,358.4 L319.2,358.5 L319.8,358.5 L320.4,358.6 L320.9,358.7 L321.5,358.8 L322.1,358.8 L322.6,358.9 L323.2,359.0 L323.7,359.1 L324.3,359.1 L324.9,359.2 L325.4,359.3 L326.0,359.3 L326.0,361.1 L325.4,361.0 L324.9,361.0 L324.3,360.9 L323.7,360.9 L323.2,360.8 L322.6,360.7 L322.1,360.7 L321.5,360.6 L320.9,360.6 L320.4,360.5 L319.8,360.5 L319.2,360.4 L318.7,360.4 L318.1,360.3 L317.5,360.3 L317.0,360.3 L316.4,360.2 L315.8,360.2 L315.3,360.2 L314.7,360.1 L314.2,360.1 L313.6,360.1 L313.0,360.1 L312.5,360.0 L311.9,360.0 L311.3,359.9 L310.8,359.9 L310.2,359.8 L309.6,359.7 L309.1,359.6 L308.5,359.5 L307.9,359.4 L307.4,359.2 L306.8,359.0 L306.3,358.8 L305.7,358.5 L305.1,358.1 L304.6,357.5 L304.0,356.8 L303.4,355.9 L302.9,354.5 L302.3,352.7 L301.7,351.3 L301.2,350.7 L300.6,350.2 L300.1,349.9 L299.5,349.9 L298.9,350.7 L298.4,351.9 L297.8,352.8 L297.2,353.8 L296.7,354.6 L296.1,354.8 L295.5,354.7 L295.0,354.4 L294.4,354.0 L293.8,353.6 L293.3,353.1 L292.7,352.3 L292.2,351.5 L291.6,350.6 L291.0,349.7 L290.5,348.6 L289.9,347.5 L289.3,346.4 L288.8,345.1 L288.2,343.7 L287.6,342.6 L287.1,342.3 L286.5,342.8 L286.0,343.7 L285.4,344.7 L284.8,345.9 L284.3,347.6 L283.7,349.2 L283.1,350.2 L282.6,351.1 L282.0,351.8 L281.4,352.3Z" fill="rgba(242,95,95,0.48)" stroke="none"/>
<path d="M279.5,354.8 L280.1,351.8 L280.7,348.7 L281.3,345.7 L281.9,342.6 L282.4,339.5 L283.0,336.5 L283.6,333.6 L284.2,330.6 L284.8,327.8 L285.4,325.8 L286.0,324.2 L286.6,322.9 L287.2,322.3 L287.7,322.6 L288.3,323.8 L288.9,325.3 L289.5,326.9 L290.1,328.9 L290.7,330.9 L291.3,332.7 L291.9,334.2 L292.4,335.6 L293.0,336.9 L293.6,338.1 L294.2,339.2 L294.8,340.2 L295.4,341.2 L296.0,342.1 L296.6,343.0 L297.2,343.9 L297.7,344.9 L298.3,346.0 L298.9,347.0 L299.5,347.9 L300.1,348.6 L300.7,349.3 L301.3,349.9 L301.9,350.5 L302.5,350.9 L303.0,351.2 L303.6,351.5 L304.2,351.8 L304.8,352.0 L305.4,352.2 L306.0,352.3 L306.6,352.3 L307.2,352.3 L307.8,352.1 L308.3,351.8 L308.9,351.5 L309.5,351.3 L310.1,351.1 L310.7,351.1 L311.3,351.2 L311.9,351.3 L312.5,351.5 L313.1,351.7 L313.6,352.0 L314.2,352.3 L314.8,352.6 L315.4,353.0 L316.0,353.5 L316.6,354.0 L317.2,354.5 L317.8,355.0 L318.3,355.4 L318.9,355.8 L319.5,356.1 L320.1,356.4 L320.7,356.7 L321.3,357.0 L321.9,357.2 L322.5,357.5 L323.1,357.7 L323.6,357.9 L324.2,358.1 L324.8,358.3 L325.4,358.4 L326.0,358.6 L326.0,361.1 L325.4,361.1 L324.8,361.1 L324.2,361.1 L323.6,361.1 L323.1,361.1 L322.5,361.1 L321.9,361.1 L321.3,361.0 L320.7,360.9 L320.1,360.7 L319.5,360.4 L318.9,360.1 L318.3,359.9 L317.8,359.6 L317.2,359.2 L316.6,358.8 L316.0,358.4 L315.4,357.9 L314.8,357.6 L314.2,357.3 L313.6,357.0 L313.1,356.8 L312.5,356.5 L311.9,356.3 L311.3,356.2 L310.7,356.1 L310.1,356.1 L309.5,356.2 L308.9,356.4 L308.3,356.6 L307.8,356.9 L307.2,357.1 L306.6,357.4 L306.0,357.6 L305.4,357.8 L304.8,358.1 L304.2,358.3 L303.6,358.5 L303.0,358.6 L302.5,358.6 L301.9,358.4 L301.3,358.1 L300.7,357.7 L300.1,357.4 L299.5,357.0 L298.9,356.5 L298.3,355.9 L297.7,355.4 L297.2,355.0 L296.6,354.6 L296.0,354.3 L295.4,354.0 L294.8,353.8 L294.2,353.6 L293.6,353.6 L293.0,353.9 L292.4,354.4 L291.9,355.1 L291.3,355.9 L290.7,356.9 L290.1,358.4 L289.5,359.6 L288.9,359.8 L288.3,359.8 L287.7,359.8 L287.2,359.8 L286.6,358.3 L286.0,355.8 L285.4,353.7 L284.8,352.6 L284.2,351.7 L283.6,351.1 L283.0,351.2 L282.4,351.9 L281.9,352.9 L281.3,353.9 L280.7,354.9 L280.1,356.1 L279.5,357.3Z" fill="rgba(95,95,242,0.48)" stroke="none"/>
<path d="M267.88,309.45V364.90M287.25,309.45V364.90M306.62,309.45V364.90" stroke="#000" stroke-width="1.15" stroke-dasharray="1.4 0.7" fill="none"/>
<path d="M248.50,362.35H326.00M248.50,349.83H326.00M248.50,337.30H326.00M248.50,324.78H326.00M248.50,312.25H326.00" stroke="#000" stroke-width="1.45" stroke-dasharray="1.6 0.6" fill="none"/>
<path d="M248.5,362.4 L248.8,362.3 L249.1,362.3 L249.5,362.3 L249.8,362.3 L250.1,362.3 L250.4,362.3 L250.8,362.3 L251.1,362.3 L251.4,362.3 L251.7,362.3 L252.1,362.3 L252.4,362.3 L252.7,362.3 L253.0,362.3 L253.3,362.3 L253.7,362.3 L254.0,362.3 L254.3,362.3 L254.6,362.3 L255.0,362.3 L255.3,362.3 L255.6,362.3 L255.9,362.3 L256.2,362.3 L256.6,362.2 L256.9,362.2 L257.2,362.2 L257.5,362.2 L257.9,362.2 L258.2,362.2 L258.5,362.2 L258.8,362.2 L259.2,362.1 L259.5,362.1 L259.8,362.1 L260.1,362.1 L260.4,362.1 L260.8,362.0 L261.1,361.8 L261.4,361.7 L261.7,361.6 L262.1,361.6 L262.4,361.6 L262.7,361.6 L263.0,361.6 L263.4,361.6 L263.7,361.6 L264.0,361.6 L264.3,361.6 L264.6,361.6 L265.0,361.6 L265.3,361.6 L265.6,361.6 L265.9,361.6 L266.3,361.6 L266.6,361.6 L266.9,361.6 L267.2,361.6 L267.6,361.6 L267.9,361.6 L268.2,361.6 L268.5,361.6 L268.8,361.6 L269.2,361.6 L269.5,361.6 L269.8,361.6 L270.1,361.6 L270.5,361.6 L270.8,361.6 L271.1,361.6 L271.4,361.6 L271.8,361.6 L272.1,361.6 L272.4,361.6 L272.7,361.6 L273.0,361.6 L273.4,361.6 L273.7,361.6 L274.0,361.6 L274.3,361.6 L274.7,361.6 L275.0,361.6 L275.3,361.5 L275.6,361.4 L275.9,361.2 L276.3,361.0 L276.6,360.8 L276.9,360.5 L277.2,360.2 L277.6,359.8 L277.9,359.4 L278.2,358.9 L278.5,358.2 L278.9,357.4 L279.2,356.6 L279.5,355.7 L279.8,354.8 L280.1,353.8 L280.5,352.9 L280.8,352.0 L281.1,351.0 L281.4,349.9 L281.8,348.9 L282.1,347.7 L282.4,346.6 L282.7,345.6 L283.1,344.5 L283.4,343.6 L283.7,342.6 L284.0,341.7 L284.3,340.8 L284.7,339.9 L285.0,339.2 L285.3,338.6 L285.6,338.0 L286.0,337.4 L286.3,336.9 L286.6,336.4 L286.9,336.2 L287.2,336.0 L287.6,336.2 L287.9,336.6 L288.2,337.2 L288.5,337.9 L288.9,338.6 L289.2,339.3 L289.5,340.0 L289.8,340.7 L290.2,341.4 L290.5,342.2 L290.8,342.9 L291.1,343.6 L291.4,344.3 L291.8,345.0 L292.1,345.8 L292.4,346.6 L292.7,347.3 L293.1,347.9 L293.4,348.3 L293.7,348.6 L294.0,348.6 L294.4,348.6 L294.7,348.6 L295.0,348.6 L295.3,348.6 L295.6,348.6 L296.0,348.6 L296.3,348.5 L296.6,348.1 L296.9,347.4 L297.3,346.5 L297.6,345.5 L297.9,344.7 L298.2,344.1 L298.6,343.5 L298.9,343.0 L299.2,342.6 L299.5,342.3 L299.8,342.3 L300.2,342.6 L300.5,342.9 L300.8,343.4 L301.1,344.0 L301.5,344.6 L301.8,345.2 L302.1,346.2 L302.4,347.3 L302.8,348.5 L303.1,349.7 L303.4,350.7 L303.7,351.6 L304.0,352.4 L304.4,353.3 L304.7,354.0 L305.0,354.8 L305.3,355.4 L305.7,355.9 L306.0,356.2 L306.3,356.5 L306.6,356.8 L306.9,357.0 L307.3,357.2 L307.6,357.4 L307.9,357.6 L308.2,357.7 L308.6,357.8 L308.9,357.9 L309.2,358.0 L309.5,358.1 L309.9,358.2 L310.2,358.3 L310.5,358.3 L310.8,358.4 L311.1,358.4 L311.5,358.5 L311.8,358.5 L312.1,358.6 L312.4,358.6 L312.8,358.6 L313.1,358.6 L313.4,358.7 L313.7,358.7 L314.1,358.7 L314.4,358.7 L314.7,358.7 L315.0,358.8 L315.3,358.8 L315.7,358.8 L316.0,358.8 L316.3,358.8 L316.6,358.9 L317.0,358.9 L317.3,358.9 L317.6,359.0 L317.9,359.0 L318.2,359.1 L318.6,359.1 L318.9,359.2 L319.2,359.2 L319.5,359.2 L319.9,359.3 L320.2,359.3 L320.5,359.4 L320.8,359.5 L321.2,359.5 L321.5,359.6 L321.8,359.6 L322.1,359.7 L322.4,359.8 L322.8,359.8 L323.1,359.9 L323.4,359.9 L323.7,360.0 L324.1,360.0 L324.4,360.1 L324.7,360.1 L325.0,360.2 L325.4,360.2 L325.7,360.3 L326.0,360.3" fill="none" stroke="#d61c1c" stroke-width="1.35" stroke-linejoin="round"/>
<path d="M248.5,362.4 L248.8,362.3 L249.1,362.3 L249.5,362.3 L249.8,362.3 L250.1,362.3 L250.4,362.3 L250.8,362.3 L251.1,362.3 L251.4,362.3 L251.7,362.3 L252.1,362.3 L252.4,362.3 L252.7,362.3 L253.0,362.3 L253.3,362.3 L253.7,362.3 L254.0,362.3 L254.3,362.3 L254.6,362.3 L255.0,362.3 L255.3,362.3 L255.6,362.3 L255.9,362.3 L256.2,362.3 L256.6,362.3 L256.9,362.3 L257.2,362.3 L257.5,362.3 L257.9,362.3 L258.2,362.3 L258.5,362.3 L258.8,362.3 L259.2,362.3 L259.5,362.3 L259.8,362.3 L260.1,362.3 L260.4,362.3 L260.8,362.3 L261.1,362.3 L261.4,362.3 L261.7,362.3 L262.1,362.3 L262.4,362.3 L262.7,362.3 L263.0,362.3 L263.4,362.3 L263.7,362.3 L264.0,362.3 L264.3,362.3 L264.6,362.3 L265.0,362.3 L265.3,362.3 L265.6,362.3 L265.9,362.3 L266.3,362.3 L266.6,362.3 L266.9,362.3 L267.2,362.3 L267.6,362.2 L267.9,362.2 L268.2,362.2 L268.5,362.2 L268.8,362.2 L269.2,362.2 L269.5,362.2 L269.8,362.2 L270.1,362.2 L270.5,362.2 L270.8,362.2 L271.1,362.2 L271.4,362.2 L271.8,362.2 L272.1,362.2 L272.4,362.2 L272.7,362.2 L273.0,362.2 L273.4,362.1 L273.7,362.1 L274.0,362.1 L274.3,362.1 L274.7,362.1 L275.0,362.1 L275.3,362.1 L275.6,362.0 L275.9,361.9 L276.3,361.7 L276.6,361.4 L276.9,361.1 L277.2,360.7 L277.6,360.3 L277.9,359.9 L278.2,359.3 L278.5,358.6 L278.9,357.8 L279.2,357.0 L279.5,356.1 L279.8,355.0 L280.1,353.8 L280.5,352.4 L280.8,351.0 L281.1,349.7 L281.4,348.6 L281.8,347.5 L282.1,346.5 L282.4,345.6 L282.7,344.7 L283.1,343.9 L283.4,343.3 L283.7,342.8 L284.0,342.3 L284.3,341.9 L284.7,341.5 L285.0,341.2 L285.3,341.1 L285.6,340.9 L286.0,340.8 L286.3,340.7 L286.6,340.6 L286.9,340.6 L287.2,340.6 L287.6,340.6 L287.9,340.8 L288.2,341.0 L288.5,341.3 L288.9,341.5 L289.2,341.8 L289.5,342.1 L289.8,342.4 L290.2,342.7 L290.5,343.0 L290.8,343.3 L291.1,343.6 L291.4,343.8 L291.8,344.1 L292.1,344.4 L292.4,344.6 L292.7,344.9 L293.1,345.1 L293.4,345.4 L293.7,345.7 L294.0,346.0 L294.4,346.3 L294.7,346.7 L295.0,347.1 L295.3,347.4 L295.6,347.8 L296.0,348.2 L296.3,348.6 L296.6,349.0 L296.9,349.3 L297.3,349.7 L297.6,350.1 L297.9,350.5 L298.2,350.9 L298.6,351.2 L298.9,351.6 L299.2,352.0 L299.5,352.3 L299.8,352.7 L300.2,352.9 L300.5,353.2 L300.8,353.5 L301.1,353.8 L301.5,354.1 L301.8,354.3 L302.1,354.5 L302.4,354.7 L302.8,354.8 L303.1,355.0 L303.4,355.1 L303.7,355.2 L304.0,355.3 L304.4,355.4 L304.7,355.4 L305.0,355.5 L305.3,355.6 L305.7,355.6 L306.0,355.6 L306.3,355.5 L306.6,355.3 L306.9,355.1 L307.3,354.9 L307.6,354.7 L307.9,354.4 L308.2,354.2 L308.6,354.1 L308.9,354.0 L309.2,353.8 L309.5,353.7 L309.9,353.6 L310.2,353.5 L310.5,353.4 L310.8,353.4 L311.1,353.3 L311.5,353.3 L311.8,353.4 L312.1,353.5 L312.4,353.6 L312.8,353.7 L313.1,353.8 L313.4,354.0 L313.7,354.1 L314.1,354.3 L314.4,354.5 L314.7,354.8 L315.0,355.1 L315.3,355.3 L315.7,355.6 L316.0,355.9 L316.3,356.1 L316.6,356.3 L317.0,356.5 L317.3,356.8 L317.6,357.0 L317.9,357.2 L318.2,357.4 L318.6,357.6 L318.9,357.8 L319.2,358.0 L319.5,358.2 L319.9,358.3 L320.2,358.5 L320.5,358.7 L320.8,358.9 L321.2,359.0 L321.5,359.1 L321.8,359.3 L322.1,359.3 L322.4,359.4 L322.8,359.5 L323.1,359.5 L323.4,359.6 L323.7,359.6 L324.1,359.7 L324.4,359.7 L324.7,359.8 L325.0,359.8 L325.4,359.8 L325.7,359.8 L326.0,359.8" fill="none" stroke="#1414d4" stroke-width="1.55" stroke-linejoin="round"/>
<path d="M298.49,309.45V364.90" stroke="#000" stroke-width="1.4" stroke-dasharray="7.6 3.7" fill="none"/>
<path d="M283.38,309.45V364.90" stroke="#c014c0" stroke-width="1.8" stroke-dasharray="7.6 2.2 3.4 2.6" fill="none"/>
</g>
<path d="M248.50,364.90V368.10M267.88,364.90V368.10M287.25,364.90V368.10M306.62,364.90V368.10M326.00,364.90V368.10M245.30,362.35H248.50M245.30,349.83H248.50M245.30,337.30H248.50M245.30,324.78H248.50M245.30,312.25H248.50" stroke="#000" stroke-width="1.1" fill="none"/>
<rect x="248.50" y="309.45" width="77.50" height="55.45" fill="none" stroke="#000" stroke-width="1.5"/>
<text transform="translate(243.40,367.75) scale(1.0,0.964)" text-anchor="end" font-weight="normal" font-size="16.5" stroke="#000" stroke-width="0.32">0.0</text>
<text transform="translate(243.40,355.23) scale(1.0,0.964)" text-anchor="end" font-weight="normal" font-size="16.5" stroke="#000" stroke-width="0.32">0.5</text>
<text transform="translate(243.40,342.70) scale(1.0,0.964)" text-anchor="end" font-weight="normal" font-size="16.5" stroke="#000" stroke-width="0.32">1.0</text>
<text transform="translate(243.40,330.18) scale(1.0,0.964)" text-anchor="end" font-weight="normal" font-size="16.5" stroke="#000" stroke-width="0.32">1.5</text>
<text transform="translate(243.40,317.65) scale(1.0,0.964)" text-anchor="end" font-weight="normal" font-size="16.5" stroke="#000" stroke-width="0.32">2.0</text>
<text x="249.00" y="306.35" font-weight="normal" font-size="16.5" stroke="#000" stroke-width="0.32">1e<tspan font-size="9.3" dy="-5.9">-5</tspan></text>
<clipPath id="c_r4c3"><rect x="366.65" y="309.40" width="77.85" height="55.45"/></clipPath>
<g clip-path="url(#c_r4c3)">
<path d="M399.7,352.3 L400.3,349.1 L400.9,346.1 L401.4,343.4 L402.0,340.8 L402.6,338.3 L403.1,336.1 L403.7,334.6 L404.3,333.6 L404.8,332.7 L405.4,332.3 L406.0,332.5 L406.5,333.6 L407.1,335.1 L407.7,336.3 L408.2,337.6 L408.8,338.8 L409.4,339.7 L409.9,340.1 L410.5,340.5 L411.1,340.8 L411.6,341.0 L412.2,340.8 L412.8,340.1 L413.3,339.0 L413.9,337.8 L414.5,336.4 L415.0,334.6 L415.6,332.6 L416.2,330.6 L416.7,329.0 L417.3,327.2 L417.9,326.1 L418.4,326.7 L419.0,329.3 L419.6,332.6 L420.1,335.4 L420.7,338.1 L421.3,340.7 L421.8,343.1 L422.4,345.0 L423.0,346.7 L423.5,348.1 L424.1,349.4 L424.7,350.5 L425.2,351.3 L425.8,352.0 L426.4,352.7 L426.9,353.3 L427.5,353.8 L428.1,354.3 L428.6,354.6 L429.2,354.9 L429.8,355.2 L430.3,355.4 L430.9,355.6 L431.5,355.8 L432.0,356.0 L432.6,356.2 L433.2,356.4 L433.7,356.5 L434.3,356.7 L434.9,356.8 L435.4,356.9 L436.0,357.1 L436.6,357.2 L437.1,357.4 L437.7,357.6 L438.3,357.7 L438.8,357.9 L439.4,358.0 L440.0,358.2 L440.5,358.3 L441.1,358.5 L441.7,358.6 L442.2,358.8 L442.8,358.9 L443.4,359.0 L443.9,359.2 L444.5,359.3 L444.5,360.3 L443.9,360.3 L443.4,360.3 L442.8,360.2 L442.2,360.2 L441.7,360.2 L441.1,360.2 L440.5,360.1 L440.0,360.1 L439.4,360.0 L438.8,360.0 L438.3,359.9 L437.7,359.9 L437.1,359.8 L436.6,359.8 L436.0,359.7 L435.4,359.7 L434.9,359.6 L434.3,359.5 L433.7,359.4 L433.2,359.4 L432.6,359.3 L432.0,359.2 L431.5,359.1 L430.9,359.0 L430.3,358.8 L429.8,358.7 L429.2,358.6 L428.6,358.5 L428.1,358.3 L427.5,358.2 L426.9,358.0 L426.4,357.8 L425.8,357.6 L425.2,357.4 L424.7,357.1 L424.1,356.6 L423.5,356.1 L423.0,355.5 L422.4,354.9 L421.8,354.3 L421.3,353.8 L420.7,353.2 L420.1,352.5 L419.6,351.5 L419.0,350.1 L418.4,348.8 L417.9,348.5 L417.3,348.9 L416.7,349.5 L416.2,350.2 L415.6,351.3 L415.0,352.5 L414.5,353.4 L413.9,353.5 L413.3,353.3 L412.8,352.9 L412.2,352.5 L411.6,352.2 L411.1,351.9 L410.5,351.6 L409.9,351.3 L409.4,351.0 L408.8,350.5 L408.2,350.1 L407.7,349.8 L407.1,349.8 L406.5,349.8 L406.0,349.8 L405.4,349.8 L404.8,350.4 L404.3,351.3 L403.7,352.2 L403.1,352.9 L402.6,353.6 L402.0,354.4 L401.4,355.1 L400.9,355.8 L400.3,356.6 L399.7,357.3Z" fill="rgba(242,95,95,0.48)" stroke="none"/>
<path d="M398.2,349.8 L398.8,345.3 L399.4,341.4 L399.9,338.1 L400.5,335.5 L401.1,332.9 L401.7,330.9 L402.3,329.8 L402.9,329.8 L403.5,330.1 L404.0,330.6 L404.6,331.3 L405.2,332.4 L405.8,333.7 L406.4,334.8 L407.0,335.8 L407.6,336.7 L408.1,337.2 L408.7,337.0 L409.3,336.2 L409.9,335.0 L410.5,333.8 L411.1,332.6 L411.7,331.3 L412.3,330.0 L412.8,328.7 L413.4,327.6 L414.0,326.6 L414.6,325.6 L415.2,324.8 L415.8,324.3 L416.4,323.8 L416.9,323.5 L417.5,323.7 L418.1,325.7 L418.7,328.5 L419.3,331.4 L419.9,334.5 L420.5,337.8 L421.0,340.6 L421.6,342.7 L422.2,344.6 L422.8,346.2 L423.4,347.6 L424.0,348.8 L424.6,349.7 L425.2,350.5 L425.7,351.1 L426.3,351.7 L426.9,352.2 L427.5,352.7 L428.1,353.2 L428.7,353.7 L429.3,354.1 L429.8,354.4 L430.4,354.7 L431.0,354.8 L431.6,354.9 L432.2,354.9 L432.8,355.0 L433.4,355.0 L433.9,355.1 L434.5,355.1 L435.1,355.1 L435.7,355.2 L436.3,355.2 L436.9,355.3 L437.5,355.4 L438.1,355.5 L438.6,355.6 L439.2,355.7 L439.8,355.8 L440.4,356.0 L441.0,356.1 L441.6,356.3 L442.2,356.5 L442.7,356.7 L443.3,356.9 L443.9,357.1 L444.5,357.3 L444.5,360.5 L443.9,360.5 L443.3,360.5 L442.7,360.5 L442.2,360.4 L441.6,360.4 L441.0,360.3 L440.4,360.3 L439.8,360.2 L439.2,360.1 L438.6,360.1 L438.1,360.0 L437.5,359.9 L436.9,359.8 L436.3,359.7 L435.7,359.7 L435.1,359.6 L434.5,359.6 L433.9,359.5 L433.4,359.4 L432.8,359.4 L432.2,359.3 L431.6,359.2 L431.0,359.1 L430.4,358.9 L429.8,358.7 L429.3,358.4 L428.7,358.2 L428.1,357.8 L427.5,357.5 L426.9,357.3 L426.3,357.0 L425.7,356.7 L425.2,356.4 L424.6,356.2 L424.0,355.9 L423.4,355.7 L422.8,355.5 L422.2,355.3 L421.6,355.1 L421.0,354.7 L420.5,354.1 L419.9,353.2 L419.3,352.4 L418.7,351.6 L418.1,350.8 L417.5,350.0 L416.9,349.5 L416.4,349.1 L415.8,348.8 L415.2,348.4 L414.6,348.0 L414.0,347.6 L413.4,347.4 L412.8,347.3 L412.3,347.6 L411.7,348.0 L411.1,348.4 L410.5,348.5 L409.9,348.5 L409.3,348.5 L408.7,348.5 L408.1,348.5 L407.6,347.9 L407.0,347.0 L406.4,346.1 L405.8,345.2 L405.2,344.2 L404.6,343.6 L404.0,343.7 L403.5,344.4 L402.9,345.4 L402.3,346.3 L401.7,347.1 L401.1,348.0 L400.5,349.0 L399.9,350.2 L399.4,351.5 L398.8,353.1 L398.2,354.8Z" fill="rgba(95,95,242,0.48)" stroke="none"/>
<path d="M386.11,309.40V364.85M405.57,309.40V364.85M425.04,309.40V364.85" stroke="#000" stroke-width="1.15" stroke-dasharray="1.4 0.7" fill="none"/>
<path d="M366.65,362.30H444.50M366.65,349.78H444.50M366.65,337.25H444.50M366.65,324.73H444.50M366.65,312.20H444.50" stroke="#000" stroke-width="1.45" stroke-dasharray="1.6 0.6" fill="none"/>
<path d="M366.6,362.3 L367.0,362.3 L367.3,362.3 L367.6,362.2 L367.9,362.2 L368.3,362.2 L368.6,362.2 L368.9,362.2 L369.2,362.1 L369.6,362.1 L369.9,362.1 L370.2,362.1 L370.5,362.0 L370.9,362.0 L371.2,362.0 L371.5,362.0 L371.8,362.0 L372.2,362.0 L372.5,361.9 L372.8,361.9 L373.1,361.9 L373.5,361.9 L373.8,361.9 L374.1,361.9 L374.4,361.9 L374.8,361.8 L375.1,361.8 L375.4,361.8 L375.7,361.8 L376.1,361.8 L376.4,361.8 L376.7,361.8 L377.0,361.8 L377.4,361.8 L377.7,361.8 L378.0,361.8 L378.3,361.8 L378.7,361.8 L379.0,361.8 L379.3,361.8 L379.6,361.8 L379.9,361.8 L380.3,361.8 L380.6,361.8 L380.9,361.8 L381.2,361.8 L381.6,361.8 L381.9,361.8 L382.2,361.8 L382.5,361.8 L382.9,361.8 L383.2,361.8 L383.5,361.8 L383.8,361.8 L384.2,361.8 L384.5,361.8 L384.8,361.8 L385.1,361.8 L385.5,361.8 L385.8,361.8 L386.1,361.8 L386.4,361.8 L386.8,361.8 L387.1,361.8 L387.4,361.8 L387.7,361.8 L388.1,361.8 L388.4,361.8 L388.7,361.8 L389.0,361.8 L389.4,361.8 L389.7,361.8 L390.0,361.8 L390.3,361.8 L390.7,361.8 L391.0,361.8 L391.3,361.8 L391.6,361.8 L392.0,361.8 L392.3,361.8 L392.6,361.8 L392.9,361.7 L393.2,361.7 L393.6,361.7 L393.9,361.6 L394.2,361.5 L394.5,361.4 L394.9,361.4 L395.2,361.3 L395.5,361.2 L395.8,361.0 L396.2,360.9 L396.5,360.6 L396.8,360.2 L397.1,359.8 L397.5,359.3 L397.8,358.7 L398.1,358.1 L398.4,357.5 L398.8,356.9 L399.1,356.2 L399.4,355.4 L399.7,354.5 L400.1,353.5 L400.4,352.6 L400.7,351.6 L401.0,350.6 L401.4,349.6 L401.7,348.4 L402.0,347.2 L402.3,346.0 L402.7,345.0 L403.0,344.1 L403.3,343.4 L403.6,342.8 L404.0,342.2 L404.3,341.7 L404.6,341.3 L404.9,341.1 L405.3,341.0 L405.6,341.2 L405.9,341.6 L406.2,342.1 L406.5,342.6 L406.9,343.2 L407.2,343.6 L407.5,344.0 L407.8,344.4 L408.2,344.8 L408.5,345.2 L408.8,345.5 L409.1,345.8 L409.5,346.0 L409.8,346.2 L410.1,346.3 L410.4,346.5 L410.8,346.6 L411.1,346.7 L411.4,346.7 L411.7,346.8 L412.1,346.7 L412.4,346.6 L412.7,346.4 L413.0,346.1 L413.4,345.7 L413.7,345.3 L414.0,344.9 L414.3,344.5 L414.7,343.7 L415.0,342.8 L415.3,341.7 L415.6,340.7 L416.0,339.9 L416.3,339.4 L416.6,339.2 L416.9,339.1 L417.3,339.1 L417.6,339.0 L417.9,339.0 L418.2,339.1 L418.5,339.7 L418.9,340.7 L419.2,341.9 L419.5,343.2 L419.8,344.4 L420.2,345.3 L420.5,346.3 L420.8,347.3 L421.1,348.2 L421.5,349.1 L421.8,350.0 L422.1,350.7 L422.4,351.2 L422.8,351.7 L423.1,352.2 L423.4,352.6 L423.7,353.0 L424.1,353.3 L424.4,353.7 L424.7,354.0 L425.0,354.3 L425.4,354.6 L425.7,354.9 L426.0,355.2 L426.3,355.6 L426.7,355.9 L427.0,356.1 L427.3,356.4 L427.6,356.6 L428.0,356.7 L428.3,356.8 L428.6,356.9 L428.9,357.0 L429.3,357.0 L429.6,357.1 L429.9,357.1 L430.2,357.2 L430.6,357.2 L430.9,357.3 L431.2,357.4 L431.5,357.4 L431.8,357.5 L432.2,357.5 L432.5,357.6 L432.8,357.7 L433.1,357.7 L433.5,357.8 L433.8,357.9 L434.1,357.9 L434.4,358.0 L434.8,358.0 L435.1,358.1 L435.4,358.1 L435.7,358.2 L436.1,358.2 L436.4,358.3 L436.7,358.3 L437.0,358.3 L437.4,358.4 L437.7,358.4 L438.0,358.4 L438.3,358.5 L438.7,358.5 L439.0,358.6 L439.3,358.6 L439.6,358.7 L440.0,358.8 L440.3,358.8 L440.6,358.9 L440.9,358.9 L441.3,359.0 L441.6,359.1 L441.9,359.2 L442.2,359.2 L442.6,359.3 L442.9,359.4 L443.2,359.4 L443.5,359.5 L443.9,359.6 L444.2,359.7 L444.5,359.8" fill="none" stroke="#d61c1c" stroke-width="1.35" stroke-linejoin="round"/>
<path d="M366.6,362.3 L367.0,362.3 L367.3,362.3 L367.6,362.3 L367.9,362.3 L368.3,362.3 L368.6,362.3 L368.9,362.3 L369.2,362.3 L369.6,362.3 L369.9,362.3 L370.2,362.3 L370.5,362.3 L370.9,362.3 L371.2,362.3 L371.5,362.3 L371.8,362.3 L372.2,362.3 L372.5,362.3 L372.8,362.3 L373.1,362.3 L373.5,362.3 L373.8,362.3 L374.1,362.3 L374.4,362.3 L374.8,362.3 L375.1,362.3 L375.4,362.3 L375.7,362.3 L376.1,362.3 L376.4,362.3 L376.7,362.3 L377.0,362.3 L377.4,362.3 L377.7,362.3 L378.0,362.3 L378.3,362.3 L378.7,362.3 L379.0,362.3 L379.3,362.3 L379.6,362.3 L379.9,362.3 L380.3,362.3 L380.6,362.3 L380.9,362.3 L381.2,362.3 L381.6,362.3 L381.9,362.2 L382.2,362.2 L382.5,362.2 L382.9,362.2 L383.2,362.2 L383.5,362.2 L383.8,362.2 L384.2,362.2 L384.5,362.2 L384.8,362.2 L385.1,362.2 L385.5,362.2 L385.8,362.2 L386.1,362.2 L386.4,362.2 L386.8,362.2 L387.1,362.2 L387.4,362.2 L387.7,362.2 L388.1,362.2 L388.4,362.2 L388.7,362.2 L389.0,362.2 L389.4,362.1 L389.7,362.1 L390.0,362.1 L390.3,362.1 L390.7,362.1 L391.0,362.1 L391.3,362.1 L391.6,362.1 L392.0,362.1 L392.3,362.1 L392.6,362.1 L392.9,362.1 L393.2,362.1 L393.6,362.1 L393.9,362.0 L394.2,362.0 L394.5,361.7 L394.9,361.3 L395.2,360.9 L395.5,360.3 L395.8,359.8 L396.2,359.1 L396.5,358.3 L396.8,357.3 L397.1,356.2 L397.5,355.0 L397.8,353.8 L398.1,352.5 L398.4,351.2 L398.8,349.7 L399.1,348.1 L399.4,346.5 L399.7,345.0 L400.1,343.7 L400.4,342.7 L400.7,341.6 L401.0,340.6 L401.4,339.6 L401.7,338.8 L402.0,338.2 L402.3,337.8 L402.7,337.7 L403.0,337.5 L403.3,337.4 L403.6,337.3 L404.0,337.3 L404.3,337.3 L404.6,337.3 L404.9,337.6 L405.3,338.2 L405.6,338.8 L405.9,339.5 L406.2,340.1 L406.5,340.5 L406.9,341.1 L407.2,341.6 L407.5,342.1 L407.8,342.5 L408.2,342.7 L408.5,342.7 L408.8,342.6 L409.1,342.4 L409.5,342.2 L409.8,341.9 L410.1,341.5 L410.4,341.2 L410.8,340.9 L411.1,340.5 L411.4,340.0 L411.7,339.5 L412.1,339.0 L412.4,338.5 L412.7,338.2 L413.0,338.0 L413.4,337.8 L413.7,337.7 L414.0,337.5 L414.3,337.4 L414.7,337.3 L415.0,337.3 L415.3,337.2 L415.6,337.2 L416.0,337.2 L416.3,337.2 L416.6,337.2 L416.9,337.2 L417.3,337.2 L417.6,337.5 L417.9,338.1 L418.2,339.1 L418.5,340.1 L418.9,341.2 L419.2,342.3 L419.5,343.3 L419.8,344.4 L420.2,345.6 L420.5,346.7 L420.8,347.7 L421.1,348.5 L421.5,349.1 L421.8,349.7 L422.1,350.2 L422.4,350.7 L422.8,351.1 L423.1,351.5 L423.4,351.9 L423.7,352.3 L424.1,352.6 L424.4,352.9 L424.7,353.2 L425.0,353.4 L425.4,353.7 L425.7,353.9 L426.0,354.1 L426.3,354.3 L426.7,354.5 L427.0,354.8 L427.3,355.0 L427.6,355.3 L428.0,355.6 L428.3,355.9 L428.6,356.2 L428.9,356.5 L429.3,356.8 L429.6,357.0 L429.9,357.2 L430.2,357.3 L430.6,357.5 L430.9,357.6 L431.2,357.7 L431.5,357.8 L431.8,357.9 L432.2,358.0 L432.5,358.0 L432.8,358.0 L433.1,358.0 L433.5,358.0 L433.8,358.0 L434.1,358.0 L434.4,357.9 L434.8,357.9 L435.1,357.9 L435.4,357.9 L435.7,357.8 L436.1,357.8 L436.4,357.8 L436.7,357.8 L437.0,357.8 L437.4,357.8 L437.7,357.9 L438.0,357.9 L438.3,358.0 L438.7,358.1 L439.0,358.2 L439.3,358.2 L439.6,358.3 L440.0,358.4 L440.3,358.5 L440.6,358.5 L440.9,358.6 L441.3,358.7 L441.6,358.7 L441.9,358.8 L442.2,358.9 L442.6,358.9 L442.9,359.0 L443.2,359.0 L443.5,359.1 L443.9,359.2 L444.2,359.2 L444.5,359.3" fill="none" stroke="#1414d4" stroke-width="1.55" stroke-linejoin="round"/>
<path d="M417.64,309.40V364.85" stroke="#000" stroke-width="1.4" stroke-dasharray="7.6 3.7" fill="none"/>
<path d="M401.68,309.40V364.85" stroke="#c014c0" stroke-width="1.8" stroke-dasharray="7.6 2.2 3.4 2.6" fill="none"/>
</g>
<path d="M366.65,364.85V368.05M386.11,364.85V368.05M405.57,364.85V368.05M425.04,364.85V368.05M444.50,364.85V368.05M363.45,362.30H366.65M363.45,349.78H366.65M363.45,337.25H366.65M363.45,324.73H366.65M363.45,312.20H366.65" stroke="#000" stroke-width="1.1" fill="none"/>
<rect x="366.65" y="309.40" width="77.85" height="55.45" fill="none" stroke="#000" stroke-width="1.5"/>
<text transform="translate(361.80,369.10) scale(1.0,0.973)" text-anchor="end" font-weight="normal" font-size="16.5" stroke="#000" stroke-width="0.32">0.0</text>
<text transform="translate(361.80,356.58) scale(1.0,0.973)" text-anchor="end" font-weight="normal" font-size="16.5" stroke="#000" stroke-width="0.32">0.5</text>
<text transform="translate(361.80,344.05) scale(1.0,0.973)" text-anchor="end" font-weight="normal" font-size="16.5" stroke="#000" stroke-width="0.32">1.0</text>
<text transform="translate(361.80,331.53) scale(1.0,0.973)" text-anchor="end" font-weight="normal" font-size="16.5" stroke="#000" stroke-width="0.32">1.5</text>
<text transform="translate(361.80,319.00) scale(1.0,0.973)" text-anchor="end" font-weight="normal" font-size="16.5" stroke="#000" stroke-width="0.32">2.0</text>
<text x="367.55" y="306.30" font-weight="normal" font-size="16.5" stroke="#000" stroke-width="0.32">1e<tspan font-size="9.3" dy="-5.9">-5</tspan></text>
<clipPath id="c_r4c4"><rect x="484.75" y="309.55" width="78.05" height="55.25"/></clipPath>
<g clip-path="url(#c_r4c4)">
<path d="M518.3,353.7 L518.8,352.4 L519.3,351.3 L519.8,350.3 L520.3,349.6 L520.8,348.9 L521.2,348.3 L521.7,347.8 L522.2,347.4 L522.7,347.2 L523.2,347.1 L523.7,347.1 L524.2,347.1 L524.7,347.1 L525.2,347.1 L525.6,347.1 L526.1,347.1 L526.6,347.0 L527.1,346.8 L527.6,346.6 L528.1,346.4 L528.6,346.0 L529.1,345.4 L529.6,344.4 L530.0,343.1 L530.5,341.8 L531.0,340.4 L531.5,338.7 L532.0,336.8 L532.5,334.9 L533.0,333.0 L533.5,330.7 L534.0,328.5 L534.5,327.1 L534.9,326.9 L535.4,326.9 L535.9,326.9 L536.4,328.1 L536.9,330.8 L537.4,333.7 L537.9,336.7 L538.4,340.2 L538.9,343.8 L539.3,346.9 L539.8,349.5 L540.3,352.1 L540.8,354.4 L541.3,356.2 L541.8,357.4 L542.3,358.2 L542.8,359.0 L543.3,359.6 L543.7,360.1 L544.2,360.3 L544.7,360.3 L545.2,360.2 L545.7,360.1 L546.2,359.9 L546.7,359.7 L547.2,359.4 L547.7,359.2 L548.1,358.9 L548.6,358.7 L549.1,358.5 L549.6,358.4 L550.1,358.3 L550.6,358.3 L551.1,358.4 L551.6,358.6 L552.1,358.8 L552.5,359.1 L553.0,359.3 L553.5,359.5 L554.0,359.7 L554.5,360.0 L555.0,360.2 L555.5,360.5 L556.0,360.8 L556.5,361.0 L556.9,361.3 L556.9,361.8 L556.5,361.8 L556.0,361.7 L555.5,361.6 L555.0,361.5 L554.5,361.4 L554.0,361.3 L553.5,361.2 L553.0,361.1 L552.5,361.0 L552.1,360.8 L551.6,360.6 L551.1,360.4 L550.6,360.3 L550.1,360.3 L549.6,360.4 L549.1,360.5 L548.6,360.6 L548.1,360.7 L547.7,360.8 L547.2,361.0 L546.7,361.1 L546.2,361.3 L545.7,361.4 L545.2,361.5 L544.7,361.5 L544.2,361.5 L543.7,361.4 L543.3,361.1 L542.8,360.8 L542.3,360.3 L541.8,359.9 L541.3,359.2 L540.8,358.3 L540.3,357.1 L539.8,355.9 L539.3,354.6 L538.9,353.3 L538.4,351.9 L537.9,350.4 L537.4,349.0 L536.9,347.4 L536.4,345.9 L535.9,345.1 L535.4,345.1 L534.9,345.1 L534.5,345.2 L534.0,346.1 L533.5,347.4 L533.0,348.7 L532.5,349.6 L532.0,350.5 L531.5,351.3 L531.0,351.9 L530.5,352.5 L530.0,353.1 L529.6,353.6 L529.1,354.0 L528.6,354.2 L528.1,354.2 L527.6,354.2 L527.1,354.2 L526.6,354.2 L526.1,354.2 L525.6,354.2 L525.2,354.4 L524.7,354.6 L524.2,354.8 L523.7,355.1 L523.2,355.2 L522.7,355.2 L522.2,355.1 L521.7,354.9 L521.2,354.7 L520.8,354.4 L520.3,354.3 L519.8,354.3 L519.3,354.7 L518.8,355.7 L518.3,356.8Z" fill="rgba(242,95,95,0.48)" stroke="none"/>
<path d="M516.0,357.3 L516.3,356.0 L516.7,354.8 L517.1,353.8 L517.5,352.8 L517.8,352.0 L518.2,351.4 L518.6,350.9 L518.9,350.4 L519.3,350.0 L519.7,349.6 L520.0,349.4 L520.4,349.2 L520.8,349.2 L521.2,349.3 L521.5,349.5 L521.9,349.8 L522.3,350.1 L522.6,350.4 L523.0,350.7 L523.4,351.0 L523.8,351.3 L524.1,351.7 L524.5,352.1 L524.9,352.4 L525.2,352.7 L525.6,352.9 L526.0,353.1 L526.3,353.3 L526.7,353.5 L527.1,353.6 L527.5,353.7 L527.8,353.7 L528.2,353.7 L528.6,353.6 L528.9,353.5 L529.3,353.3 L529.7,353.1 L530.0,352.9 L530.4,352.7 L530.8,352.4 L531.2,352.0 L531.5,351.4 L531.9,350.9 L532.3,350.3 L532.6,349.8 L533.0,349.3 L533.4,348.8 L533.8,348.3 L534.1,347.8 L534.5,347.4 L534.9,347.2 L535.2,347.2 L535.6,347.3 L536.0,347.7 L536.3,348.2 L536.7,348.7 L537.1,349.2 L537.5,349.9 L537.8,350.7 L538.2,351.6 L538.6,352.5 L538.9,353.3 L539.3,354.1 L539.7,354.8 L540.1,355.4 L540.4,356.0 L540.8,356.6 L541.2,357.2 L541.5,357.7 L541.9,358.1 L542.3,358.4 L542.6,358.8 L543.0,359.1 L543.4,359.4 L543.8,359.6 L544.1,359.9 L544.5,360.1 L544.9,360.2 L545.2,360.3 L545.2,361.3 L544.9,361.3 L544.5,361.3 L544.1,361.2 L543.8,361.1 L543.4,360.9 L543.0,360.8 L542.6,360.6 L542.3,360.4 L541.9,360.2 L541.5,359.9 L541.2,359.6 L540.8,359.1 L540.4,358.7 L540.1,358.2 L539.7,357.7 L539.3,357.2 L538.9,356.6 L538.6,355.9 L538.2,355.2 L537.8,354.5 L537.5,353.8 L537.1,353.3 L536.7,352.8 L536.3,352.3 L536.0,351.8 L535.6,351.4 L535.2,351.2 L534.9,351.2 L534.5,351.5 L534.1,351.9 L533.8,352.4 L533.4,352.9 L533.0,353.4 L532.6,353.9 L532.3,354.3 L531.9,354.8 L531.5,355.2 L531.2,355.6 L530.8,356.0 L530.4,356.3 L530.0,356.5 L529.7,356.7 L529.3,356.8 L528.9,357.0 L528.6,357.1 L528.2,357.2 L527.8,357.3 L527.5,357.3 L527.1,357.2 L526.7,357.0 L526.3,356.8 L526.0,356.6 L525.6,356.4 L525.2,356.2 L524.9,355.9 L524.5,355.6 L524.1,355.3 L523.8,355.0 L523.4,354.8 L523.0,354.7 L522.6,354.8 L522.3,354.8 L521.9,354.9 L521.5,355.0 L521.2,355.1 L520.8,355.2 L520.4,355.3 L520.0,355.4 L519.7,355.4 L519.3,355.5 L518.9,355.6 L518.6,355.7 L518.2,355.8 L517.8,356.1 L517.5,356.5 L517.1,357.1 L516.7,357.8 L516.3,358.5 L516.0,359.3Z" fill="rgba(95,95,242,0.48)" stroke="none"/>
<path d="M504.26,309.55V364.80M523.77,309.55V364.80M543.29,309.55V364.80" stroke="#000" stroke-width="1.15" stroke-dasharray="1.4 0.7" fill="none"/>
<path d="M484.75,362.35H562.80M484.75,342.07H562.80M484.75,321.79H562.80" stroke="#000" stroke-width="1.45" stroke-dasharray="1.6 0.6" fill="none"/>
<path d="M484.8,362.4 L485.1,362.3 L485.4,362.3 L485.7,362.3 L486.1,362.3 L486.4,362.3 L486.7,362.3 L487.0,362.3 L487.4,362.3 L487.7,362.3 L488.0,362.3 L488.3,362.3 L488.7,362.3 L489.0,362.3 L489.3,362.3 L489.6,362.3 L490.0,362.3 L490.3,362.3 L490.6,362.3 L490.9,362.3 L491.3,362.3 L491.6,362.3 L491.9,362.3 L492.2,362.3 L492.6,362.3 L492.9,362.3 L493.2,362.3 L493.5,362.3 L493.9,362.3 L494.2,362.3 L494.5,362.3 L494.8,362.3 L495.2,362.3 L495.5,362.3 L495.8,362.3 L496.1,362.3 L496.5,362.3 L496.8,362.3 L497.1,362.3 L497.4,362.3 L497.8,362.3 L498.1,362.3 L498.4,362.3 L498.7,362.3 L499.1,362.3 L499.4,362.3 L499.7,362.3 L500.0,362.3 L500.4,362.3 L500.7,362.3 L501.0,362.3 L501.3,362.3 L501.7,362.3 L502.0,362.3 L502.3,362.3 L502.6,362.3 L503.0,362.3 L503.3,362.2 L503.6,362.2 L503.9,362.2 L504.3,362.2 L504.6,362.2 L504.9,362.2 L505.2,362.2 L505.6,362.2 L505.9,362.2 L506.2,362.2 L506.5,362.2 L506.9,362.2 L507.2,362.2 L507.5,362.2 L507.8,362.2 L508.2,362.2 L508.5,362.2 L508.8,362.2 L509.1,362.2 L509.5,362.1 L509.8,362.1 L510.1,362.1 L510.4,362.1 L510.8,362.0 L511.1,362.0 L511.4,361.9 L511.7,361.8 L512.1,361.8 L512.4,361.7 L512.7,361.6 L513.0,361.5 L513.4,361.3 L513.7,361.1 L514.0,360.8 L514.3,360.6 L514.7,360.2 L515.0,359.9 L515.3,359.5 L515.6,359.2 L516.0,358.8 L516.3,358.4 L516.6,357.9 L516.9,357.4 L517.3,356.8 L517.6,356.3 L517.9,355.8 L518.2,355.3 L518.6,354.9 L518.9,354.5 L519.2,354.1 L519.5,353.7 L519.9,353.4 L520.2,353.1 L520.5,352.8 L520.8,352.6 L521.2,352.4 L521.5,352.2 L521.8,352.0 L522.1,351.9 L522.5,351.8 L522.8,351.7 L523.1,351.7 L523.4,351.7 L523.8,351.7 L524.1,351.7 L524.4,351.7 L524.8,351.7 L525.1,351.7 L525.4,351.7 L525.7,351.7 L526.1,351.7 L526.4,351.7 L526.7,351.6 L527.0,351.6 L527.4,351.5 L527.7,351.4 L528.0,351.3 L528.3,351.2 L528.7,351.1 L529.0,350.9 L529.3,350.5 L529.6,350.1 L530.0,349.6 L530.3,349.1 L530.6,348.5 L530.9,347.9 L531.3,347.2 L531.6,346.4 L531.9,345.5 L532.2,344.6 L532.6,343.6 L532.9,342.7 L533.2,341.5 L533.5,340.3 L533.9,339.0 L534.2,338.0 L534.5,337.2 L534.8,336.9 L535.2,336.7 L535.5,336.6 L535.8,336.5 L536.1,336.8 L536.5,337.7 L536.8,339.1 L537.1,340.6 L537.4,342.1 L537.8,343.5 L538.1,345.0 L538.4,346.7 L538.7,348.3 L539.1,349.8 L539.4,351.2 L539.7,352.5 L540.0,353.8 L540.4,355.0 L540.7,356.2 L541.0,357.2 L541.3,358.1 L541.7,358.7 L542.0,359.2 L542.3,359.6 L542.6,360.0 L543.0,360.3 L543.3,360.6 L543.6,360.8 L543.9,361.0 L544.3,361.1 L544.6,361.1 L544.9,361.1 L545.2,361.1 L545.6,361.1 L545.9,361.0 L546.2,361.0 L546.5,360.9 L546.9,360.9 L547.2,360.8 L547.5,360.7 L547.8,360.6 L548.2,360.4 L548.5,360.2 L548.8,360.0 L549.1,359.7 L549.5,359.6 L549.8,359.4 L550.1,359.3 L550.4,359.3 L550.8,359.4 L551.1,359.5 L551.4,359.6 L551.7,359.7 L552.1,359.9 L552.4,360.0 L552.7,360.2 L553.0,360.3 L553.4,360.4 L553.7,360.6 L554.0,360.7 L554.3,360.8 L554.7,360.9 L555.0,361.1 L555.3,361.2 L555.6,361.3 L556.0,361.4 L556.3,361.4 L556.6,361.5 L556.9,361.5 L557.3,361.6 L557.6,361.6 L557.9,361.6 L558.2,361.7 L558.6,361.7 L558.9,361.7 L559.2,361.7 L559.5,361.7 L559.9,361.8 L560.2,361.8 L560.5,361.8 L560.8,361.8 L561.2,361.8 L561.5,361.8 L561.8,361.8 L562.1,361.8 L562.5,361.8 L562.8,361.8" fill="none" stroke="#d61c1c" stroke-width="1.35" stroke-linejoin="round"/>
<path d="M484.8,362.4 L485.1,362.3 L485.4,362.3 L485.7,362.3 L486.1,362.3 L486.4,362.3 L486.7,362.3 L487.0,362.3 L487.4,362.3 L487.7,362.3 L488.0,362.3 L488.3,362.3 L488.7,362.3 L489.0,362.3 L489.3,362.3 L489.6,362.3 L490.0,362.3 L490.3,362.3 L490.6,362.3 L490.9,362.3 L491.3,362.3 L491.6,362.3 L491.9,362.3 L492.2,362.3 L492.6,362.3 L492.9,362.3 L493.2,362.3 L493.5,362.3 L493.9,362.3 L494.2,362.3 L494.5,362.3 L494.8,362.3 L495.2,362.3 L495.5,362.3 L495.8,362.3 L496.1,362.3 L496.5,362.3 L496.8,362.3 L497.1,362.3 L497.4,362.3 L497.8,362.3 L498.1,362.3 L498.4,362.3 L498.7,362.3 L499.1,362.3 L499.4,362.3 L499.7,362.3 L500.0,362.3 L500.4,362.3 L500.7,362.3 L501.0,362.3 L501.3,362.3 L501.7,362.3 L502.0,362.3 L502.3,362.3 L502.6,362.3 L503.0,362.3 L503.3,362.3 L503.6,362.3 L503.9,362.3 L504.3,362.2 L504.6,362.2 L504.9,362.2 L505.2,362.2 L505.6,362.2 L505.9,362.2 L506.2,362.2 L506.5,362.2 L506.9,362.2 L507.2,362.2 L507.5,362.2 L507.8,362.2 L508.2,362.2 L508.5,362.2 L508.8,362.2 L509.1,362.2 L509.5,362.2 L509.8,362.2 L510.1,362.1 L510.4,362.1 L510.8,362.1 L511.1,362.0 L511.4,362.0 L511.7,361.9 L512.1,361.8 L512.4,361.7 L512.7,361.5 L513.0,361.4 L513.4,361.3 L513.7,361.1 L514.0,360.8 L514.3,360.5 L514.7,360.1 L515.0,359.7 L515.3,359.2 L515.6,358.8 L516.0,358.3 L516.3,357.7 L516.6,357.0 L516.9,356.3 L517.3,355.5 L517.6,354.7 L517.9,354.1 L518.2,353.7 L518.6,353.4 L518.9,353.2 L519.2,352.9 L519.5,352.7 L519.9,352.6 L520.2,352.5 L520.5,352.4 L520.8,352.4 L521.2,352.4 L521.5,352.5 L521.8,352.5 L522.1,352.6 L522.5,352.6 L522.8,352.7 L523.1,352.8 L523.4,352.9 L523.8,353.1 L524.1,353.4 L524.4,353.7 L524.8,354.0 L525.1,354.3 L525.4,354.5 L525.7,354.7 L526.1,354.9 L526.4,355.0 L526.7,355.2 L527.0,355.3 L527.4,355.4 L527.7,355.5 L528.0,355.4 L528.3,355.4 L528.7,355.3 L529.0,355.2 L529.3,355.0 L529.6,354.9 L530.0,354.7 L530.3,354.5 L530.6,354.3 L530.9,354.0 L531.3,353.6 L531.6,353.2 L531.9,352.8 L532.2,352.4 L532.6,351.9 L532.9,351.5 L533.2,351.1 L533.5,350.7 L533.9,350.2 L534.2,349.8 L534.5,349.4 L534.8,349.2 L535.2,349.2 L535.5,349.3 L535.8,349.6 L536.1,349.9 L536.5,350.4 L536.8,350.8 L537.1,351.3 L537.4,351.8 L537.8,352.4 L538.1,353.1 L538.4,353.8 L538.7,354.5 L539.1,355.2 L539.4,355.8 L539.7,356.3 L540.0,356.8 L540.4,357.3 L540.7,357.7 L541.0,358.2 L541.3,358.6 L541.7,358.9 L542.0,359.2 L542.3,359.4 L542.6,359.7 L543.0,359.9 L543.3,360.1 L543.6,360.3 L543.9,360.4 L544.3,360.6 L544.6,360.7 L544.9,360.8 L545.2,360.8 L545.6,360.9 L545.9,360.9 L546.2,360.9 L546.5,361.0 L546.9,361.0 L547.2,361.0 L547.5,361.0 L547.8,361.1 L548.2,361.1 L548.5,361.1 L548.8,361.1 L549.1,361.1 L549.5,361.1 L549.8,361.2 L550.1,361.2 L550.4,361.2 L550.8,361.2 L551.1,361.2 L551.4,361.2 L551.7,361.2 L552.1,361.2 L552.4,361.3 L552.7,361.3 L553.0,361.3 L553.4,361.3 L553.7,361.3 L554.0,361.3 L554.3,361.3 L554.7,361.3 L555.0,361.3 L555.3,361.3 L555.6,361.4 L556.0,361.4 L556.3,361.4 L556.6,361.4 L556.9,361.4 L557.3,361.4 L557.6,361.4 L557.9,361.4 L558.2,361.4 L558.6,361.4 L558.9,361.4 L559.2,361.5 L559.5,361.5 L559.9,361.5 L560.2,361.5 L560.5,361.5 L560.8,361.5 L561.2,361.5 L561.5,361.5 L561.8,361.5 L562.1,361.5 L562.5,361.5 L562.8,361.5" fill="none" stroke="#1414d4" stroke-width="1.55" stroke-linejoin="round"/>
<path d="M535.87,309.55V364.80" stroke="#000" stroke-width="1.4" stroke-dasharray="7.6 3.7" fill="none"/>
<path d="M519.87,309.55V364.80" stroke="#c014c0" stroke-width="1.8" stroke-dasharray="7.6 2.2 3.4 2.6" fill="none"/>
</g>
<path d="M484.75,364.80V368.00M504.26,364.80V368.00M523.77,364.80V368.00M543.29,364.80V368.00M562.80,364.80V368.00M481.55,362.35H484.75M481.55,342.07H484.75M481.55,321.79H484.75" stroke="#000" stroke-width="1.1" fill="none"/>
<rect x="484.75" y="309.55" width="78.05" height="55.25" fill="none" stroke="#000" stroke-width="1.5"/>
<text transform="translate(481.10,367.05) scale(1.0,0.986)" text-anchor="end" font-weight="bold" font-size="16.5" stroke="#000" stroke-width="0.18">0.0</text>
<text transform="translate(481.10,346.77) scale(1.0,0.986)" text-anchor="end" font-weight="bold" font-size="16.5" stroke="#000" stroke-width="0.18">2.0</text>
<text transform="translate(481.10,326.49) scale(1.0,0.986)" text-anchor="end" font-weight="bold" font-size="16.5" stroke="#000" stroke-width="0.18">4.0</text>
<text x="486.05" y="306.45" font-weight="bold" font-size="16.5" stroke="#000" stroke-width="0.18">1e<tspan font-size="9.3" dy="-5.9">-5</tspan></text>
<clipPath id="c_r5c1"><rect x="130.10" y="397.65" width="77.70" height="55.90"/></clipPath>
<g clip-path="url(#c_r5c1)">
<path d="M162.3,425.8 L162.9,421.8 L163.5,418.4 L164.1,415.9 L164.6,414.3 L165.2,412.9 L165.8,411.9 L166.4,411.7 L166.9,411.7 L167.5,411.7 L168.1,411.7 L168.7,412.6 L169.2,414.9 L169.8,417.4 L170.4,420.0 L171.0,422.7 L171.6,425.0 L172.1,427.2 L172.7,428.9 L173.3,430.3 L173.9,431.4 L174.4,432.3 L175.0,433.1 L175.6,433.8 L176.2,434.3 L176.7,434.5 L177.3,434.5 L177.9,434.5 L178.5,434.5 L179.0,434.5 L179.6,434.5 L180.2,434.5 L180.8,434.6 L181.3,434.9 L181.9,435.5 L182.5,436.2 L183.1,437.0 L183.6,437.6 L184.2,438.0 L184.8,437.9 L185.4,437.2 L185.9,436.1 L186.5,435.0 L187.1,434.2 L187.7,433.5 L188.2,433.0 L188.8,432.8 L189.4,433.4 L190.0,434.7 L190.5,436.0 L191.1,437.0 L191.7,437.9 L192.3,438.7 L192.8,439.6 L193.4,440.3 L194.0,441.1 L194.6,441.8 L195.1,442.4 L195.7,443.0 L196.3,443.4 L196.9,443.8 L197.4,444.1 L198.0,444.3 L198.6,444.6 L199.2,444.8 L199.7,445.0 L200.3,445.2 L200.9,445.3 L201.5,445.5 L202.0,445.7 L202.6,445.9 L203.2,446.0 L203.8,446.2 L204.3,446.3 L204.9,446.4 L205.5,446.5 L206.1,446.6 L206.6,446.7 L207.2,446.8 L207.8,446.8 L207.8,448.6 L207.2,448.5 L206.6,448.5 L206.1,448.4 L205.5,448.3 L204.9,448.3 L204.3,448.2 L203.8,448.1 L203.2,448.0 L202.6,447.9 L202.0,447.8 L201.5,447.8 L200.9,447.7 L200.3,447.6 L199.7,447.5 L199.2,447.4 L198.6,447.3 L198.0,447.2 L197.4,447.1 L196.9,447.0 L196.3,446.9 L195.7,446.8 L195.1,446.7 L194.6,446.5 L194.0,446.4 L193.4,446.3 L192.8,446.0 L192.3,445.6 L191.7,444.9 L191.1,444.3 L190.5,443.9 L190.0,443.7 L189.4,443.4 L188.8,443.3 L188.2,443.3 L187.7,443.3 L187.1,443.3 L186.5,443.4 L185.9,443.7 L185.4,444.0 L184.8,444.3 L184.2,444.4 L183.6,444.2 L183.1,444.1 L182.5,443.8 L181.9,443.6 L181.3,443.4 L180.8,443.3 L180.2,443.3 L179.6,443.3 L179.0,443.3 L178.5,443.3 L177.9,443.3 L177.3,443.3 L176.7,443.3 L176.2,443.1 L175.6,442.6 L175.0,441.8 L174.4,441.1 L173.9,440.2 L173.3,439.1 L172.7,437.7 L172.1,435.9 L171.6,433.8 L171.0,431.5 L170.4,428.8 L169.8,426.2 L169.2,423.7 L168.7,421.4 L168.1,420.5 L167.5,421.0 L166.9,422.2 L166.4,423.6 L165.8,425.5 L165.2,428.4 L164.6,431.3 L164.1,433.5 L163.5,435.3 L162.9,436.8 L162.3,438.1Z" fill="rgba(242,95,95,0.48)" stroke="none"/>
<path d="M163.1,424.0 L163.7,421.9 L164.3,419.7 L164.8,417.6 L165.4,415.5 L166.0,413.2 L166.5,410.9 L167.1,408.7 L167.6,406.8 L168.2,405.3 L168.8,403.8 L169.3,402.8 L169.9,402.7 L170.5,403.8 L171.0,405.8 L171.6,408.0 L172.2,410.2 L172.7,412.8 L173.3,415.5 L173.9,418.1 L174.4,420.7 L175.0,423.2 L175.6,425.8 L176.1,428.6 L176.7,431.3 L177.3,433.2 L177.8,434.9 L178.4,436.3 L179.0,437.0 L179.5,436.9 L180.1,436.5 L180.7,436.1 L181.2,435.7 L181.8,435.4 L182.4,435.0 L182.9,434.7 L183.5,434.6 L184.0,434.6 L184.6,435.0 L185.2,435.5 L185.7,436.0 L186.3,436.5 L186.9,436.9 L187.4,437.4 L188.0,437.8 L188.6,438.2 L189.1,438.6 L189.7,439.0 L190.3,439.4 L190.8,439.8 L191.4,440.1 L192.0,440.4 L192.5,440.6 L193.1,440.8 L193.7,440.9 L194.2,441.1 L194.8,441.2 L195.4,441.3 L195.9,441.5 L196.5,441.7 L197.1,442.0 L197.6,442.2 L198.2,442.5 L198.8,442.8 L199.3,443.1 L199.9,443.3 L200.4,443.4 L201.0,443.6 L201.6,443.7 L202.1,443.8 L202.7,443.9 L203.3,444.0 L203.8,444.0 L204.4,444.0 L205.0,444.0 L205.5,443.9 L206.1,443.8 L206.7,443.7 L207.2,443.5 L207.8,443.3 L207.8,447.5 L207.2,447.5 L206.7,447.5 L206.1,447.5 L205.5,447.5 L205.0,447.5 L204.4,447.5 L203.8,447.5 L203.3,447.5 L202.7,447.5 L202.1,447.5 L201.6,447.5 L201.0,447.5 L200.4,447.5 L199.9,447.5 L199.3,447.5 L198.8,447.4 L198.2,447.2 L197.6,447.1 L197.1,446.9 L196.5,446.9 L195.9,446.8 L195.4,446.9 L194.8,447.0 L194.2,447.2 L193.7,447.3 L193.1,447.5 L192.5,447.5 L192.0,447.5 L191.4,447.5 L190.8,447.4 L190.3,447.3 L189.7,447.2 L189.1,447.0 L188.6,446.9 L188.0,446.7 L187.4,446.6 L186.9,446.4 L186.3,446.2 L185.7,446.0 L185.2,445.7 L184.6,445.4 L184.0,445.1 L183.5,445.1 L182.9,445.1 L182.4,445.1 L181.8,445.1 L181.2,445.1 L180.7,444.9 L180.1,444.7 L179.5,444.3 L179.0,444.0 L178.4,443.5 L177.8,442.7 L177.3,441.8 L176.7,440.5 L176.1,438.6 L175.6,436.3 L175.0,433.8 L174.4,430.8 L173.9,428.3 L173.3,426.7 L172.7,425.3 L172.2,424.3 L171.6,424.0 L171.0,424.4 L170.5,425.2 L169.9,425.7 L169.3,425.6 L168.8,424.9 L168.2,424.2 L167.6,424.0 L167.1,424.2 L166.5,424.6 L166.0,425.2 L165.4,425.9 L164.8,427.1 L164.3,429.1 L163.7,431.7 L163.1,434.5Z" fill="rgba(95,95,242,0.48)" stroke="none"/>
<path d="M149.53,397.65V453.55M168.95,397.65V453.55M188.38,397.65V453.55" stroke="#000" stroke-width="1.15" stroke-dasharray="1.4 0.7" fill="none"/>
<path d="M130.10,450.35H207.80M130.10,432.79H207.80M130.10,415.22H207.80" stroke="#000" stroke-width="1.45" stroke-dasharray="1.6 0.6" fill="none"/>
<path d="M130.1,449.6 L130.4,449.7 L130.7,449.8 L131.1,449.8 L131.4,449.9 L131.7,449.9 L132.0,450.0 L132.4,450.0 L132.7,450.0 L133.0,450.0 L133.3,450.0 L133.7,450.0 L134.0,450.0 L134.3,450.0 L134.6,450.0 L135.0,450.0 L135.3,450.0 L135.6,450.0 L135.9,450.0 L136.3,450.0 L136.6,450.0 L136.9,450.0 L137.2,450.0 L137.5,450.0 L137.9,450.0 L138.2,450.0 L138.5,450.0 L138.8,450.0 L139.2,450.0 L139.5,450.0 L139.8,450.0 L140.1,450.0 L140.5,450.0 L140.8,450.0 L141.1,450.0 L141.4,450.0 L141.8,450.0 L142.1,450.0 L142.4,450.0 L142.7,450.0 L143.0,450.0 L143.4,450.0 L143.7,450.0 L144.0,450.0 L144.3,450.0 L144.7,450.0 L145.0,450.0 L145.3,450.0 L145.6,450.0 L146.0,450.0 L146.3,450.0 L146.6,450.0 L146.9,450.0 L147.3,450.0 L147.6,450.0 L147.9,450.0 L148.2,450.0 L148.6,450.0 L148.9,450.0 L149.2,450.0 L149.5,450.0 L149.8,450.0 L150.2,450.0 L150.5,450.0 L150.8,450.0 L151.1,450.0 L151.5,450.0 L151.8,450.0 L152.1,450.0 L152.4,450.0 L152.8,450.0 L153.1,450.0 L153.4,450.0 L153.7,450.0 L154.1,450.0 L154.4,450.0 L154.7,450.0 L155.0,450.0 L155.4,450.0 L155.7,450.0 L156.0,449.8 L156.3,449.6 L156.6,449.3 L157.0,449.0 L157.3,448.6 L157.6,448.1 L157.9,447.7 L158.3,447.2 L158.6,446.6 L158.9,445.8 L159.2,444.8 L159.6,443.6 L159.9,442.2 L160.2,440.8 L160.5,439.3 L160.9,437.8 L161.2,436.3 L161.5,434.8 L161.8,433.1 L162.2,431.3 L162.5,429.5 L162.8,427.7 L163.1,426.1 L163.4,424.6 L163.8,423.3 L164.1,422.1 L164.4,420.9 L164.7,419.8 L165.1,418.8 L165.4,417.9 L165.7,417.2 L166.0,416.7 L166.4,416.1 L166.7,415.7 L167.0,415.4 L167.3,415.2 L167.7,415.3 L168.0,415.7 L168.3,416.4 L168.6,417.2 L168.9,418.0 L169.3,419.2 L169.6,420.9 L169.9,422.7 L170.2,424.5 L170.6,426.0 L170.9,427.4 L171.2,428.7 L171.5,429.9 L171.9,431.0 L172.2,432.0 L172.5,433.0 L172.8,433.8 L173.2,434.7 L173.5,435.4 L173.8,436.1 L174.1,436.7 L174.5,437.1 L174.8,437.4 L175.1,437.8 L175.4,438.1 L175.7,438.4 L176.1,438.6 L176.4,438.7 L176.7,438.8 L177.0,438.8 L177.4,438.8 L177.7,438.8 L178.0,438.8 L178.3,438.8 L178.7,438.8 L179.0,438.8 L179.3,438.9 L179.6,439.0 L180.0,439.1 L180.3,439.2 L180.6,439.4 L180.9,439.6 L181.3,439.7 L181.6,439.9 L181.9,440.1 L182.2,440.4 L182.5,440.7 L182.9,441.0 L183.2,441.2 L183.5,441.4 L183.8,441.5 L184.2,441.6 L184.5,441.5 L184.8,441.2 L185.1,440.9 L185.5,440.6 L185.8,440.2 L186.1,439.8 L186.4,439.4 L186.8,439.2 L187.1,438.9 L187.4,438.7 L187.7,438.5 L188.1,438.3 L188.4,438.1 L188.7,438.1 L189.0,438.1 L189.3,438.4 L189.7,438.9 L190.0,439.4 L190.3,440.0 L190.6,440.4 L191.0,440.8 L191.3,441.3 L191.6,441.7 L191.9,442.1 L192.3,442.5 L192.6,442.9 L192.9,443.2 L193.2,443.5 L193.6,443.7 L193.9,443.9 L194.2,444.1 L194.5,444.3 L194.8,444.5 L195.2,444.7 L195.5,444.8 L195.8,445.0 L196.1,445.1 L196.5,445.2 L196.8,445.3 L197.1,445.4 L197.4,445.5 L197.8,445.6 L198.1,445.7 L198.4,445.7 L198.7,445.8 L199.1,445.9 L199.4,446.0 L199.7,446.0 L200.0,446.1 L200.4,446.2 L200.7,446.3 L201.0,446.4 L201.3,446.5 L201.6,446.6 L202.0,446.7 L202.3,446.8 L202.6,446.9 L202.9,447.0 L203.3,447.0 L203.6,447.1 L203.9,447.2 L204.2,447.3 L204.6,447.3 L204.9,447.4 L205.2,447.5 L205.5,447.5 L205.9,447.6 L206.2,447.6 L206.5,447.7 L206.8,447.7 L207.2,447.8 L207.5,447.8 L207.8,447.9" fill="none" stroke="#d61c1c" stroke-width="1.35" stroke-linejoin="round"/>
<path d="M130.1,450.0 L130.4,450.0 L130.7,450.0 L131.1,450.0 L131.4,450.0 L131.7,450.0 L132.0,450.0 L132.4,450.0 L132.7,450.0 L133.0,450.0 L133.3,450.0 L133.7,450.0 L134.0,450.0 L134.3,450.0 L134.6,450.0 L135.0,450.0 L135.3,450.0 L135.6,450.0 L135.9,450.0 L136.3,450.0 L136.6,450.0 L136.9,450.0 L137.2,450.0 L137.5,450.0 L137.9,450.0 L138.2,450.0 L138.5,450.0 L138.8,450.0 L139.2,450.0 L139.5,450.0 L139.8,450.0 L140.1,450.0 L140.5,450.0 L140.8,450.0 L141.1,450.0 L141.4,450.0 L141.8,450.0 L142.1,450.0 L142.4,450.0 L142.7,450.0 L143.0,450.0 L143.4,450.0 L143.7,450.0 L144.0,450.0 L144.3,450.0 L144.7,450.0 L145.0,450.0 L145.3,450.0 L145.6,450.0 L146.0,450.0 L146.3,450.0 L146.6,450.0 L146.9,450.0 L147.3,450.0 L147.6,450.0 L147.9,450.0 L148.2,450.0 L148.6,450.0 L148.9,450.0 L149.2,450.0 L149.5,450.0 L149.8,450.0 L150.2,450.0 L150.5,450.0 L150.8,450.0 L151.1,450.0 L151.5,450.0 L151.8,450.0 L152.1,450.0 L152.4,450.0 L152.8,450.0 L153.1,450.0 L153.4,450.0 L153.7,450.0 L154.1,450.0 L154.4,450.0 L154.7,450.0 L155.0,450.0 L155.4,450.0 L155.7,450.0 L156.0,450.0 L156.3,450.0 L156.6,450.0 L157.0,449.8 L157.3,449.5 L157.6,449.0 L157.9,448.5 L158.3,447.9 L158.6,447.3 L158.9,446.5 L159.2,445.6 L159.6,444.5 L159.9,443.3 L160.2,442.1 L160.5,440.8 L160.9,439.6 L161.2,438.2 L161.5,436.8 L161.8,435.2 L162.2,433.7 L162.5,432.2 L162.8,430.7 L163.1,429.3 L163.4,427.9 L163.8,426.6 L164.1,425.2 L164.4,423.9 L164.7,422.7 L165.1,421.6 L165.4,420.7 L165.7,419.8 L166.0,419.0 L166.4,418.3 L166.7,417.6 L167.0,417.0 L167.3,416.5 L167.7,416.1 L168.0,415.7 L168.3,415.4 L168.6,415.1 L168.9,414.8 L169.3,414.6 L169.6,414.5 L169.9,414.5 L170.2,414.6 L170.6,414.8 L170.9,415.1 L171.2,415.4 L171.5,415.8 L171.9,416.2 L172.2,417.0 L172.5,418.0 L172.8,419.2 L173.2,420.5 L173.5,421.7 L173.8,423.0 L174.1,424.4 L174.5,425.9 L174.8,427.5 L175.1,429.0 L175.4,430.5 L175.7,431.8 L176.1,433.2 L176.4,434.6 L176.7,435.8 L177.0,436.8 L177.4,437.7 L177.7,438.5 L178.0,439.2 L178.3,439.9 L178.7,440.3 L179.0,440.5 L179.3,440.5 L179.6,440.5 L180.0,440.5 L180.3,440.5 L180.6,440.5 L180.9,440.5 L181.3,440.5 L181.6,440.5 L181.9,440.4 L182.2,440.3 L182.5,440.2 L182.9,440.0 L183.2,439.9 L183.5,439.8 L183.8,439.8 L184.2,439.9 L184.5,440.1 L184.8,440.4 L185.1,440.7 L185.5,441.0 L185.8,441.4 L186.1,441.6 L186.4,441.9 L186.8,442.1 L187.1,442.4 L187.4,442.6 L187.7,442.9 L188.1,443.1 L188.4,443.3 L188.7,443.6 L189.0,443.8 L189.3,444.1 L189.7,444.4 L190.0,444.6 L190.3,444.8 L190.6,445.0 L191.0,445.1 L191.3,445.1 L191.6,445.1 L191.9,445.1 L192.3,445.1 L192.6,445.1 L192.9,445.1 L193.2,445.1 L193.6,445.1 L193.9,445.0 L194.2,444.9 L194.5,444.8 L194.8,444.7 L195.2,444.6 L195.5,444.5 L195.8,444.4 L196.1,444.4 L196.5,444.4 L196.8,444.4 L197.1,444.5 L197.4,444.6 L197.8,444.7 L198.1,444.8 L198.4,444.9 L198.7,445.0 L199.1,445.1 L199.4,445.3 L199.7,445.4 L200.0,445.6 L200.4,445.7 L200.7,445.9 L201.0,446.0 L201.3,446.1 L201.6,446.1 L202.0,446.2 L202.3,446.3 L202.6,446.3 L202.9,446.4 L203.3,446.4 L203.6,446.4 L203.9,446.5 L204.2,446.5 L204.6,446.5 L204.9,446.5 L205.2,446.5 L205.5,446.5 L205.9,446.4 L206.2,446.4 L206.5,446.4 L206.8,446.3 L207.2,446.3 L207.5,446.2 L207.8,446.1" fill="none" stroke="#1414d4" stroke-width="1.55" stroke-linejoin="round"/>
<path d="M177.50,397.65V453.55" stroke="#000" stroke-width="1.4" stroke-dasharray="7.6 3.7" fill="none"/>
<path d="M164.68,397.65V453.55" stroke="#c014c0" stroke-width="1.8" stroke-dasharray="7.6 2.2 3.4 2.6" fill="none"/>
</g>
<path d="M130.10,453.55V456.75M149.53,453.55V456.75M168.95,453.55V456.75M188.38,453.55V456.75M207.80,453.55V456.75M126.90,450.35H130.10M126.90,432.79H130.10M126.90,415.22H130.10M126.90,397.66H130.10" stroke="#000" stroke-width="1.1" fill="none"/>
<rect x="130.10" y="397.65" width="77.70" height="55.90" fill="none" stroke="#000" stroke-width="1.5"/>
<text transform="translate(124.10,455.15) scale(1.0,0.959)" text-anchor="end" font-weight="bold" font-size="16.5" stroke="#000" stroke-width="0.18">0.0</text>
<text transform="translate(124.10,437.59) scale(1.0,0.959)" text-anchor="end" font-weight="bold" font-size="16.5" stroke="#000" stroke-width="0.18">0.5</text>
<text transform="translate(124.10,420.02) scale(1.0,0.959)" text-anchor="end" font-weight="bold" font-size="16.5" stroke="#000" stroke-width="0.18">1.0</text>
<text transform="translate(124.10,402.46) scale(1.0,0.959)" text-anchor="end" font-weight="bold" font-size="16.5" stroke="#000" stroke-width="0.18">1.5</text>
<text x="130.00" y="394.55" font-weight="bold" font-size="16.5" stroke="#000" stroke-width="0.18">1e<tspan font-size="9.3" dy="-5.9">-5</tspan></text>
<clipPath id="c_r5c2"><rect x="248.30" y="397.80" width="77.70" height="55.70"/></clipPath>
<g clip-path="url(#c_r5c2)">
<path d="M280.5,432.8 L281.1,428.5 L281.7,424.7 L282.3,421.5 L282.8,418.9 L283.4,416.7 L284.0,414.8 L284.6,413.7 L285.1,413.7 L285.7,414.7 L286.3,416.1 L286.9,417.3 L287.4,418.4 L288.0,419.5 L288.6,420.4 L289.2,421.1 L289.8,421.6 L290.3,422.1 L290.9,422.3 L291.5,422.2 L292.1,421.8 L292.6,421.3 L293.2,420.7 L293.8,420.1 L294.4,419.2 L294.9,418.3 L295.5,417.8 L296.1,417.9 L296.7,418.5 L297.2,419.4 L297.8,420.5 L298.4,421.5 L299.0,422.6 L299.5,423.9 L300.1,425.2 L300.7,426.6 L301.3,427.8 L301.8,429.0 L302.4,430.1 L303.0,431.2 L303.6,432.3 L304.1,433.3 L304.7,434.3 L305.3,435.3 L305.9,436.1 L306.4,436.9 L307.0,437.4 L307.6,437.9 L308.2,438.4 L308.7,438.8 L309.3,439.1 L309.9,439.5 L310.5,439.8 L311.0,440.1 L311.6,440.4 L312.2,440.6 L312.8,440.9 L313.3,441.1 L313.9,441.4 L314.5,441.6 L315.1,441.9 L315.6,442.1 L316.2,442.4 L316.8,442.7 L317.4,442.9 L317.9,443.2 L318.5,443.4 L319.1,443.7 L319.7,443.9 L320.2,444.2 L320.8,444.5 L321.4,444.7 L322.0,445.0 L322.5,445.2 L323.1,445.5 L323.7,445.8 L324.3,446.0 L324.8,446.3 L325.4,446.5 L326.0,446.8 L326.0,448.6 L325.4,448.4 L324.8,448.3 L324.3,448.1 L323.7,448.0 L323.1,447.8 L322.5,447.7 L322.0,447.6 L321.4,447.5 L320.8,447.3 L320.2,447.2 L319.7,447.1 L319.1,447.0 L318.5,446.9 L317.9,446.7 L317.4,446.6 L316.8,446.5 L316.2,446.4 L315.6,446.3 L315.1,446.2 L314.5,446.1 L313.9,446.1 L313.3,446.0 L312.8,446.0 L312.2,445.9 L311.6,445.9 L311.0,445.8 L310.5,445.8 L309.9,445.6 L309.3,445.5 L308.7,445.3 L308.2,445.0 L307.6,444.8 L307.0,444.5 L306.4,444.3 L305.9,444.1 L305.3,443.9 L304.7,443.7 L304.1,443.4 L303.6,443.1 L303.0,442.8 L302.4,442.4 L301.8,442.0 L301.3,441.6 L300.7,441.3 L300.1,441.1 L299.5,440.9 L299.0,440.7 L298.4,440.5 L297.8,440.3 L297.2,440.1 L296.7,439.9 L296.1,439.8 L295.5,439.8 L294.9,440.0 L294.4,440.2 L293.8,440.4 L293.2,440.5 L292.6,440.4 L292.1,440.2 L291.5,440.0 L290.9,439.7 L290.3,439.1 L289.8,438.2 L289.2,437.1 L288.6,436.1 L288.0,434.8 L287.4,433.5 L286.9,432.8 L286.3,432.9 L285.7,433.5 L285.1,434.1 L284.6,434.9 L284.0,435.8 L283.4,436.9 L282.8,438.1 L282.3,439.5 L281.7,441.2 L281.1,443.0 L280.5,445.1Z" fill="rgba(242,95,95,0.48)" stroke="none"/>
<path d="M280.5,429.3 L281.1,425.3 L281.7,421.7 L282.3,418.3 L282.8,415.4 L283.4,412.6 L284.0,409.9 L284.6,407.7 L285.1,406.6 L285.7,406.4 L286.3,406.2 L286.9,406.3 L287.4,407.8 L288.0,410.5 L288.6,413.2 L289.2,415.0 L289.8,416.7 L290.3,418.4 L290.9,420.1 L291.5,422.2 L292.1,424.6 L292.6,427.0 L293.2,428.9 L293.8,430.1 L294.4,431.1 L294.9,431.9 L295.5,432.6 L296.1,433.3 L296.7,433.9 L297.2,434.6 L297.8,435.1 L298.4,435.6 L299.0,436.0 L299.5,436.3 L300.1,436.6 L300.7,436.9 L301.3,437.0 L301.8,437.1 L302.4,437.2 L303.0,437.3 L303.6,437.3 L304.1,437.4 L304.7,437.4 L305.3,437.4 L305.9,437.4 L306.4,437.4 L307.0,437.3 L307.6,437.2 L308.2,437.1 L308.7,437.0 L309.3,437.0 L309.9,437.1 L310.5,437.3 L311.0,437.5 L311.6,437.7 L312.2,438.0 L312.8,438.4 L313.3,438.9 L313.9,439.4 L314.5,439.9 L315.1,440.5 L315.6,441.1 L316.2,441.7 L316.8,442.3 L317.4,442.8 L317.9,443.2 L318.5,443.4 L319.1,443.5 L319.7,443.6 L320.2,443.7 L320.8,443.8 L321.4,443.9 L322.0,444.0 L322.5,444.1 L323.1,444.3 L323.7,444.5 L324.3,444.7 L324.8,444.9 L325.4,445.1 L326.0,445.4 L326.0,447.9 L325.4,447.8 L324.8,447.7 L324.3,447.6 L323.7,447.6 L323.1,447.5 L322.5,447.5 L322.0,447.5 L321.4,447.5 L320.8,447.5 L320.2,447.5 L319.7,447.5 L319.1,447.5 L318.5,447.5 L317.9,447.5 L317.4,447.4 L316.8,447.2 L316.2,447.0 L315.6,446.7 L315.1,446.4 L314.5,446.2 L313.9,445.9 L313.3,445.6 L312.8,445.3 L312.2,445.1 L311.6,445.1 L311.0,445.1 L310.5,445.1 L309.9,445.1 L309.3,445.1 L308.7,445.1 L308.2,445.1 L307.6,445.3 L307.0,445.4 L306.4,445.4 L305.9,445.4 L305.3,445.3 L304.7,445.2 L304.1,445.1 L303.6,445.0 L303.0,444.9 L302.4,444.7 L301.8,444.6 L301.3,444.4 L300.7,444.2 L300.1,444.0 L299.5,443.7 L299.0,443.5 L298.4,443.3 L297.8,443.1 L297.2,443.0 L296.7,442.9 L296.1,442.7 L295.5,442.5 L294.9,442.3 L294.4,442.1 L293.8,441.8 L293.2,441.5 L292.6,441.1 L292.1,440.7 L291.5,440.2 L290.9,439.6 L290.3,438.7 L289.8,437.5 L289.2,436.6 L288.6,436.3 L288.0,436.3 L287.4,436.3 L286.9,436.3 L286.3,436.0 L285.7,435.2 L285.1,434.5 L284.6,433.9 L284.0,433.4 L283.4,433.0 L282.8,432.8 L282.3,433.4 L281.7,434.9 L281.1,437.1 L280.5,439.8Z" fill="rgba(95,95,242,0.48)" stroke="none"/>
<path d="M267.73,397.80V453.50M287.15,397.80V453.50M306.57,397.80V453.50" stroke="#000" stroke-width="1.15" stroke-dasharray="1.4 0.7" fill="none"/>
<path d="M248.30,450.30H326.00M248.30,432.80H326.00M248.30,415.30H326.00" stroke="#000" stroke-width="1.45" stroke-dasharray="1.6 0.6" fill="none"/>
<path d="M248.3,450.3 L248.6,450.3 L248.9,450.3 L249.3,450.3 L249.6,450.3 L249.9,450.3 L250.2,450.3 L250.6,450.3 L250.9,450.3 L251.2,450.3 L251.5,450.3 L251.9,450.3 L252.2,450.3 L252.5,450.3 L252.8,450.3 L253.2,450.3 L253.5,450.3 L253.8,450.3 L254.1,450.3 L254.5,450.3 L254.8,450.3 L255.1,450.3 L255.4,450.3 L255.7,450.3 L256.1,450.3 L256.4,450.3 L256.7,450.3 L257.0,450.3 L257.4,450.3 L257.7,450.3 L258.0,450.3 L258.3,450.3 L258.7,450.3 L259.0,450.3 L259.3,450.3 L259.6,450.3 L260.0,450.3 L260.3,450.3 L260.6,450.3 L260.9,450.3 L261.2,450.2 L261.6,450.2 L261.9,450.2 L262.2,450.2 L262.5,450.2 L262.9,450.2 L263.2,450.2 L263.5,450.2 L263.8,450.2 L264.2,450.2 L264.5,450.2 L264.8,450.2 L265.1,450.2 L265.5,450.2 L265.8,450.2 L266.1,450.2 L266.4,450.2 L266.8,450.2 L267.1,450.2 L267.4,450.2 L267.7,450.2 L268.0,450.1 L268.4,450.1 L268.7,450.1 L269.0,450.1 L269.3,450.1 L269.7,450.1 L270.0,450.1 L270.3,450.1 L270.6,450.1 L271.0,450.1 L271.3,450.1 L271.6,450.1 L271.9,450.1 L272.3,450.1 L272.6,450.0 L272.9,450.0 L273.2,450.0 L273.6,450.0 L273.9,450.0 L274.2,450.0 L274.5,450.0 L274.8,450.0 L275.2,450.0 L275.5,449.9 L275.8,449.9 L276.1,449.8 L276.5,449.5 L276.8,449.3 L277.1,448.9 L277.4,448.5 L277.8,448.1 L278.1,447.7 L278.4,447.2 L278.7,446.4 L279.1,445.5 L279.4,444.4 L279.7,443.2 L280.0,441.9 L280.4,440.6 L280.7,439.3 L281.0,437.7 L281.3,436.0 L281.6,434.2 L282.0,432.4 L282.3,430.8 L282.6,429.4 L282.9,428.4 L283.3,427.6 L283.6,426.8 L283.9,426.1 L284.2,425.5 L284.6,425.2 L284.9,425.1 L285.2,425.1 L285.5,425.2 L285.9,425.3 L286.2,425.5 L286.5,425.6 L286.8,425.8 L287.1,426.2 L287.5,426.8 L287.8,427.5 L288.1,428.2 L288.4,428.9 L288.8,429.4 L289.1,429.9 L289.4,430.4 L289.7,430.9 L290.1,431.4 L290.4,431.8 L290.7,432.0 L291.0,432.1 L291.4,432.1 L291.7,432.1 L292.0,432.1 L292.3,432.1 L292.7,432.1 L293.0,432.1 L293.3,432.1 L293.6,432.0 L293.9,431.8 L294.3,431.5 L294.6,431.2 L294.9,430.8 L295.2,430.5 L295.6,430.4 L295.9,430.4 L296.2,430.5 L296.5,430.6 L296.9,430.8 L297.2,431.0 L297.5,431.3 L297.8,431.6 L298.2,431.9 L298.5,432.2 L298.8,432.5 L299.1,432.8 L299.5,433.2 L299.8,433.5 L300.1,433.9 L300.4,434.4 L300.7,434.8 L301.1,435.2 L301.4,435.6 L301.7,436.0 L302.0,436.5 L302.4,436.9 L302.7,437.4 L303.0,437.8 L303.3,438.2 L303.7,438.6 L304.0,438.9 L304.3,439.2 L304.6,439.4 L305.0,439.7 L305.3,439.9 L305.6,440.1 L305.9,440.4 L306.3,440.6 L306.6,440.9 L306.9,441.1 L307.2,441.4 L307.5,441.7 L307.9,441.9 L308.2,442.2 L308.5,442.4 L308.8,442.6 L309.2,442.7 L309.5,442.8 L309.8,442.9 L310.1,443.0 L310.5,443.0 L310.8,443.1 L311.1,443.2 L311.4,443.3 L311.8,443.3 L312.1,443.4 L312.4,443.5 L312.7,443.6 L313.1,443.6 L313.4,443.7 L313.7,443.8 L314.0,443.9 L314.3,444.0 L314.7,444.1 L315.0,444.2 L315.3,444.3 L315.6,444.5 L316.0,444.6 L316.3,444.7 L316.6,444.9 L316.9,445.0 L317.3,445.1 L317.6,445.2 L317.9,445.4 L318.2,445.5 L318.6,445.6 L318.9,445.7 L319.2,445.8 L319.5,445.9 L319.8,446.0 L320.2,446.1 L320.5,446.2 L320.8,446.3 L321.1,446.3 L321.5,446.4 L321.8,446.5 L322.1,446.5 L322.4,446.6 L322.8,446.7 L323.1,446.7 L323.4,446.8 L323.7,446.9 L324.1,447.0 L324.4,447.2 L324.7,447.3 L325.0,447.4 L325.4,447.6 L325.7,447.7 L326.0,447.9" fill="none" stroke="#d61c1c" stroke-width="1.35" stroke-linejoin="round"/>
<path d="M248.3,449.9 L248.6,449.9 L248.9,449.9 L249.3,449.9 L249.6,449.9 L249.9,449.9 L250.2,449.9 L250.6,449.9 L250.9,449.9 L251.2,449.9 L251.5,449.9 L251.9,449.9 L252.2,449.9 L252.5,449.9 L252.8,449.9 L253.2,449.9 L253.5,449.9 L253.8,449.9 L254.1,449.9 L254.5,449.9 L254.8,449.9 L255.1,449.9 L255.4,449.9 L255.7,449.9 L256.1,449.9 L256.4,449.9 L256.7,449.9 L257.0,449.9 L257.4,449.9 L257.7,449.9 L258.0,449.9 L258.3,449.9 L258.7,449.9 L259.0,449.9 L259.3,449.9 L259.6,449.9 L260.0,449.9 L260.3,449.9 L260.6,449.9 L260.9,449.9 L261.2,449.9 L261.6,449.9 L261.9,449.9 L262.2,449.9 L262.5,449.9 L262.9,449.9 L263.2,449.9 L263.5,449.9 L263.8,449.9 L264.2,449.9 L264.5,449.9 L264.8,449.9 L265.1,449.9 L265.5,449.9 L265.8,449.9 L266.1,449.9 L266.4,449.9 L266.8,449.9 L267.1,449.9 L267.4,449.9 L267.7,449.9 L268.0,449.9 L268.4,449.9 L268.7,449.9 L269.0,449.9 L269.3,449.9 L269.7,449.9 L270.0,449.9 L270.3,449.9 L270.6,449.9 L271.0,449.9 L271.3,449.9 L271.6,449.9 L271.9,449.9 L272.3,449.9 L272.6,449.9 L272.9,449.9 L273.2,449.9 L273.6,449.9 L273.9,449.9 L274.2,449.9 L274.5,449.9 L274.8,449.9 L275.2,449.9 L275.5,449.9 L275.8,449.9 L276.1,449.6 L276.5,449.2 L276.8,448.8 L277.1,448.2 L277.4,447.6 L277.8,446.9 L278.1,446.2 L278.4,445.1 L278.7,443.7 L279.1,442.2 L279.4,440.5 L279.7,438.8 L280.0,437.1 L280.4,435.5 L280.7,434.0 L281.0,432.3 L281.3,430.7 L281.6,429.0 L282.0,427.4 L282.3,425.9 L282.6,424.8 L282.9,423.9 L283.3,423.2 L283.6,422.5 L283.9,421.9 L284.2,421.3 L284.6,420.9 L284.9,420.6 L285.2,420.6 L285.5,420.6 L285.9,420.7 L286.2,420.9 L286.5,421.1 L286.8,421.3 L287.1,421.7 L287.5,422.3 L287.8,423.0 L288.1,423.8 L288.4,424.5 L288.8,425.2 L289.1,425.9 L289.4,426.6 L289.7,427.2 L290.1,427.9 L290.4,428.6 L290.7,429.3 L291.0,430.0 L291.4,430.8 L291.7,431.6 L292.0,432.5 L292.3,433.4 L292.7,434.2 L293.0,434.9 L293.3,435.5 L293.6,436.0 L293.9,436.4 L294.3,436.7 L294.6,437.1 L294.9,437.4 L295.2,437.7 L295.6,437.9 L295.9,438.2 L296.2,438.5 L296.5,438.7 L296.9,438.9 L297.2,439.1 L297.5,439.3 L297.8,439.5 L298.2,439.7 L298.5,439.8 L298.8,440.0 L299.1,440.1 L299.5,440.3 L299.8,440.4 L300.1,440.5 L300.4,440.6 L300.7,440.7 L301.1,440.8 L301.4,440.9 L301.7,441.0 L302.0,441.2 L302.4,441.3 L302.7,441.4 L303.0,441.4 L303.3,441.5 L303.7,441.5 L304.0,441.6 L304.3,441.6 L304.6,441.6 L305.0,441.6 L305.3,441.6 L305.6,441.6 L305.9,441.6 L306.3,441.6 L306.6,441.6 L306.9,441.5 L307.2,441.5 L307.5,441.4 L307.9,441.3 L308.2,441.3 L308.5,441.2 L308.8,441.2 L309.2,441.2 L309.5,441.2 L309.8,441.2 L310.1,441.3 L310.5,441.3 L310.8,441.4 L311.1,441.4 L311.4,441.5 L311.8,441.6 L312.1,441.7 L312.4,441.9 L312.7,442.1 L313.1,442.3 L313.4,442.6 L313.7,442.8 L314.0,443.1 L314.3,443.3 L314.7,443.5 L315.0,443.8 L315.3,444.1 L315.6,444.4 L316.0,444.6 L316.3,444.9 L316.6,445.1 L316.9,445.3 L317.3,445.5 L317.6,445.6 L317.9,445.8 L318.2,445.9 L318.6,446.1 L318.9,446.2 L319.2,446.3 L319.5,446.4 L319.8,446.4 L320.2,446.4 L320.5,446.4 L320.8,446.4 L321.1,446.4 L321.5,446.4 L321.8,446.4 L322.1,446.4 L322.4,446.4 L322.8,446.4 L323.1,446.4 L323.4,446.5 L323.7,446.5 L324.1,446.5 L324.4,446.5 L324.7,446.6 L325.0,446.6 L325.4,446.7 L325.7,446.7 L326.0,446.8" fill="none" stroke="#1414d4" stroke-width="1.55" stroke-linejoin="round"/>
<path d="M295.70,397.80V453.50" stroke="#000" stroke-width="1.4" stroke-dasharray="7.6 3.7" fill="none"/>
<path d="M282.88,397.80V453.50" stroke="#c014c0" stroke-width="1.8" stroke-dasharray="7.6 2.2 3.4 2.6" fill="none"/>
</g>
<path d="M248.30,453.50V456.70M267.73,453.50V456.70M287.15,453.50V456.70M306.57,453.50V456.70M326.00,453.50V456.70M245.10,450.30H248.30M245.10,432.80H248.30M245.10,415.30H248.30M245.10,397.80H248.30" stroke="#000" stroke-width="1.1" fill="none"/>
<rect x="248.30" y="397.80" width="77.70" height="55.70" fill="none" stroke="#000" stroke-width="1.5"/>
<text transform="translate(243.60,455.05) scale(1.0,0.973)" text-anchor="end" font-weight="bold" font-size="16.5" stroke="#000" stroke-width="0.18">0.0</text>
<text transform="translate(243.60,437.55) scale(1.0,0.973)" text-anchor="end" font-weight="bold" font-size="16.5" stroke="#000" stroke-width="0.18">0.5</text>
<text transform="translate(243.60,420.05) scale(1.0,0.973)" text-anchor="end" font-weight="bold" font-size="16.5" stroke="#000" stroke-width="0.18">1.0</text>
<text transform="translate(243.60,402.55) scale(1.0,0.973)" text-anchor="end" font-weight="bold" font-size="16.5" stroke="#000" stroke-width="0.18">1.5</text>
<text x="248.80" y="394.70" font-weight="bold" font-size="16.5" stroke="#000" stroke-width="0.18">1e<tspan font-size="9.3" dy="-5.9">-5</tspan></text>
<clipPath id="c_r5c3"><rect x="366.60" y="398.25" width="77.90" height="55.35"/></clipPath>
<g clip-path="url(#c_r5c3)">
<path d="M400.1,436.0 L400.7,433.6 L401.2,431.4 L401.8,429.3 L402.3,427.5 L402.9,425.6 L403.5,424.1 L404.0,423.5 L404.6,423.7 L405.2,424.3 L405.7,425.0 L406.3,426.1 L406.8,427.7 L407.4,429.5 L408.0,431.5 L408.5,433.9 L409.1,436.2 L409.7,437.8 L410.2,439.1 L410.8,440.2 L411.3,441.0 L411.9,441.7 L412.5,442.3 L413.0,442.8 L413.6,443.1 L414.1,443.1 L414.7,443.1 L415.3,443.1 L415.8,443.1 L416.4,443.1 L417.0,443.2 L417.5,443.4 L418.1,443.5 L418.6,443.6 L419.2,443.5 L419.8,443.4 L420.3,443.3 L420.9,443.1 L421.5,443.0 L422.0,442.8 L422.6,442.6 L423.1,442.5 L423.7,442.3 L424.3,442.3 L424.8,442.2 L425.4,442.1 L426.0,442.1 L426.5,442.1 L427.1,442.3 L427.6,442.5 L428.2,442.8 L428.8,443.0 L429.3,443.2 L429.9,443.4 L430.4,443.5 L431.0,443.6 L431.6,443.8 L432.1,443.9 L432.7,444.0 L433.3,444.2 L433.8,444.3 L434.4,444.4 L434.9,444.5 L435.5,444.6 L436.1,444.7 L436.6,444.8 L437.2,444.9 L437.8,445.0 L438.3,445.1 L438.9,445.2 L439.4,445.3 L440.0,445.4 L440.6,445.5 L441.1,445.6 L441.7,445.7 L442.3,445.7 L442.8,445.8 L443.4,445.9 L443.9,446.0 L444.5,446.1 L444.5,449.3 L443.9,449.3 L443.4,449.3 L442.8,449.3 L442.3,449.3 L441.7,449.3 L441.1,449.3 L440.6,449.3 L440.0,449.2 L439.4,449.2 L438.9,449.2 L438.3,449.2 L437.8,449.1 L437.2,449.1 L436.6,449.1 L436.1,449.0 L435.5,449.0 L434.9,448.9 L434.4,448.8 L433.8,448.7 L433.3,448.7 L432.7,448.6 L432.1,448.5 L431.6,448.4 L431.0,448.3 L430.4,448.1 L429.9,448.0 L429.3,447.9 L428.8,447.8 L428.2,447.7 L427.6,447.5 L427.1,447.4 L426.5,447.3 L426.0,447.3 L425.4,447.3 L424.8,447.3 L424.3,447.3 L423.7,447.3 L423.1,447.4 L422.6,447.6 L422.0,447.8 L421.5,448.0 L420.9,448.1 L420.3,448.3 L419.8,448.4 L419.2,448.5 L418.6,448.6 L418.1,448.6 L417.5,448.4 L417.0,448.3 L416.4,448.1 L415.8,448.1 L415.3,448.1 L414.7,448.1 L414.1,448.1 L413.6,448.1 L413.0,448.0 L412.5,447.8 L411.9,447.6 L411.3,447.3 L410.8,446.8 L410.2,446.0 L409.7,445.1 L409.1,444.2 L408.5,443.2 L408.0,442.0 L407.4,440.9 L406.8,439.5 L406.3,438.2 L405.7,437.3 L405.2,437.3 L404.6,437.3 L404.0,437.3 L403.5,437.6 L402.9,438.3 L402.3,439.3 L401.8,440.2 L401.2,441.2 L400.7,442.3 L400.1,443.6Z" fill="rgba(242,95,95,0.48)" stroke="none"/>
<path d="M399.3,431.0 L399.9,428.9 L400.5,426.8 L401.0,424.6 L401.6,422.4 L402.2,419.9 L402.7,417.2 L403.3,415.2 L403.9,414.5 L404.5,414.1 L405.0,414.0 L405.6,414.6 L406.2,416.8 L406.8,419.5 L407.3,421.8 L407.9,423.9 L408.5,426.1 L409.0,428.2 L409.6,430.4 L410.2,432.9 L410.8,435.4 L411.3,437.2 L411.9,438.3 L412.5,439.2 L413.0,439.7 L413.6,439.8 L414.2,439.8 L414.8,439.8 L415.3,439.8 L415.9,439.8 L416.5,439.8 L417.0,439.8 L417.6,439.8 L418.2,439.8 L418.8,439.8 L419.3,440.0 L419.9,440.3 L420.5,440.7 L421.1,441.0 L421.6,441.3 L422.2,441.7 L422.8,442.1 L423.3,442.6 L423.9,442.9 L424.5,443.3 L425.1,443.6 L425.6,443.8 L426.2,444.0 L426.8,444.2 L427.3,444.4 L427.9,444.6 L428.5,444.7 L429.1,444.9 L429.6,445.0 L430.2,445.1 L430.8,445.2 L431.3,445.3 L431.9,445.4 L432.5,445.5 L433.1,445.6 L433.6,445.7 L434.2,445.8 L434.8,445.8 L435.3,445.9 L435.9,446.0 L436.5,446.0 L437.1,446.1 L437.6,446.2 L438.2,446.3 L438.8,446.4 L439.4,446.5 L439.9,446.6 L440.5,446.7 L441.1,446.7 L441.6,446.8 L442.2,446.9 L442.8,447.0 L443.4,447.1 L443.9,447.2 L444.5,447.3 L444.5,449.6 L443.9,449.6 L443.4,449.6 L442.8,449.6 L442.2,449.6 L441.6,449.5 L441.1,449.5 L440.5,449.5 L439.9,449.5 L439.4,449.5 L438.8,449.4 L438.2,449.4 L437.6,449.4 L437.1,449.4 L436.5,449.3 L435.9,449.3 L435.3,449.2 L434.8,449.2 L434.2,449.2 L433.6,449.1 L433.1,449.1 L432.5,449.1 L431.9,449.1 L431.3,449.1 L430.8,449.1 L430.2,449.1 L429.6,449.1 L429.1,449.1 L428.5,449.1 L427.9,449.0 L427.3,449.0 L426.8,448.9 L426.2,448.8 L425.6,448.7 L425.1,448.6 L424.5,448.5 L423.9,448.3 L423.3,448.1 L422.8,448.0 L422.2,447.7 L421.6,447.5 L421.1,447.3 L420.5,447.0 L419.9,446.7 L419.3,446.3 L418.8,446.1 L418.2,446.1 L417.6,446.3 L417.0,446.7 L416.5,447.1 L415.9,447.4 L415.3,447.6 L414.8,447.8 L414.2,448.0 L413.6,448.1 L413.0,448.0 L412.5,447.8 L411.9,447.3 L411.3,446.8 L410.8,446.0 L410.2,445.0 L409.6,443.9 L409.0,442.7 L408.5,441.4 L407.9,440.1 L407.3,438.9 L406.8,438.0 L406.2,437.0 L405.6,436.3 L405.0,436.0 L404.5,436.0 L403.9,436.0 L403.3,436.1 L402.7,436.7 L402.2,437.7 L401.6,438.6 L401.0,439.6 L400.5,440.8 L399.9,442.1 L399.3,443.6Z" fill="rgba(95,95,242,0.48)" stroke="none"/>
<path d="M386.08,398.25V453.60M405.55,398.25V453.60M425.02,398.25V453.60" stroke="#000" stroke-width="1.15" stroke-dasharray="1.4 0.7" fill="none"/>
<path d="M366.60,451.10H444.50M366.60,438.55H444.50M366.60,426.00H444.50M366.60,413.45H444.50M366.60,400.90H444.50" stroke="#000" stroke-width="1.45" stroke-dasharray="1.6 0.6" fill="none"/>
<path d="M366.6,451.1 L366.9,451.1 L367.2,451.1 L367.6,451.1 L367.9,451.1 L368.2,451.1 L368.5,451.1 L368.9,451.1 L369.2,451.1 L369.5,451.1 L369.8,451.1 L370.2,451.1 L370.5,451.1 L370.8,451.1 L371.1,451.1 L371.5,451.1 L371.8,451.1 L372.1,451.1 L372.4,451.1 L372.8,451.1 L373.1,451.1 L373.4,451.1 L373.7,451.1 L374.1,451.1 L374.4,451.1 L374.7,451.1 L375.0,451.1 L375.4,451.1 L375.7,451.1 L376.0,451.1 L376.3,451.1 L376.7,451.1 L377.0,451.1 L377.3,451.1 L377.6,451.1 L378.0,451.1 L378.3,451.1 L378.6,451.1 L378.9,451.1 L379.3,451.1 L379.6,451.1 L379.9,451.1 L380.2,451.1 L380.6,451.1 L380.9,451.1 L381.2,451.1 L381.5,451.1 L381.9,451.1 L382.2,451.1 L382.5,451.0 L382.8,451.0 L383.2,451.0 L383.5,451.0 L383.8,451.0 L384.1,451.0 L384.5,451.0 L384.8,451.0 L385.1,451.0 L385.4,451.0 L385.8,451.0 L386.1,451.0 L386.4,451.0 L386.7,451.0 L387.0,451.0 L387.4,451.0 L387.7,451.0 L388.0,451.0 L388.3,451.0 L388.7,451.0 L389.0,451.0 L389.3,451.0 L389.6,451.0 L390.0,451.0 L390.3,451.0 L390.6,450.9 L390.9,450.9 L391.3,450.9 L391.6,450.9 L391.9,450.9 L392.2,450.9 L392.6,450.9 L392.9,450.9 L393.2,450.9 L393.5,450.9 L393.9,450.9 L394.2,450.9 L394.5,450.9 L394.8,450.9 L395.2,450.9 L395.5,450.8 L395.8,450.7 L396.1,450.4 L396.5,449.9 L396.8,449.3 L397.1,448.7 L397.4,448.0 L397.8,447.3 L398.1,446.6 L398.4,445.6 L398.7,444.6 L399.1,443.5 L399.4,442.3 L399.7,441.1 L400.0,440.0 L400.4,438.9 L400.7,437.8 L401.0,436.6 L401.3,435.5 L401.7,434.5 L402.0,433.7 L402.3,432.9 L402.6,432.2 L403.0,431.5 L403.3,430.9 L403.6,430.5 L403.9,430.3 L404.3,430.3 L404.6,430.4 L404.9,430.6 L405.2,430.8 L405.6,431.0 L405.9,431.4 L406.2,432.0 L406.5,432.8 L406.8,433.7 L407.2,434.7 L407.5,435.5 L407.8,436.4 L408.1,437.4 L408.5,438.4 L408.8,439.4 L409.1,440.3 L409.4,441.1 L409.8,441.7 L410.1,442.4 L410.4,443.0 L410.7,443.5 L411.1,444.0 L411.4,444.3 L411.7,444.6 L412.0,444.8 L412.4,445.1 L412.7,445.3 L413.0,445.4 L413.3,445.5 L413.7,445.6 L414.0,445.6 L414.3,445.6 L414.6,445.6 L415.0,445.6 L415.3,445.6 L415.6,445.6 L415.9,445.6 L416.3,445.6 L416.6,445.6 L416.9,445.7 L417.2,445.8 L417.6,445.9 L417.9,446.0 L418.2,446.1 L418.5,446.1 L418.9,446.1 L419.2,446.0 L419.5,446.0 L419.8,445.9 L420.2,445.8 L420.5,445.7 L420.8,445.7 L421.1,445.6 L421.5,445.5 L421.8,445.4 L422.1,445.3 L422.4,445.1 L422.8,445.0 L423.1,444.9 L423.4,444.9 L423.7,444.8 L424.1,444.8 L424.4,444.8 L424.7,444.8 L425.0,444.8 L425.3,444.8 L425.7,444.8 L426.0,444.8 L426.3,444.8 L426.6,444.9 L427.0,444.9 L427.3,445.0 L427.6,445.1 L427.9,445.2 L428.3,445.4 L428.6,445.5 L428.9,445.6 L429.2,445.7 L429.6,445.8 L429.9,445.9 L430.2,446.0 L430.5,446.2 L430.9,446.3 L431.2,446.4 L431.5,446.5 L431.8,446.6 L432.2,446.6 L432.5,446.6 L432.8,446.7 L433.1,446.7 L433.5,446.7 L433.8,446.7 L434.1,446.7 L434.4,446.8 L434.8,446.8 L435.1,446.8 L435.4,446.8 L435.7,446.9 L436.1,446.9 L436.4,446.9 L436.7,447.0 L437.0,447.0 L437.4,447.1 L437.7,447.2 L438.0,447.2 L438.3,447.3 L438.7,447.3 L439.0,447.4 L439.3,447.4 L439.6,447.5 L440.0,447.6 L440.3,447.6 L440.6,447.7 L440.9,447.7 L441.3,447.8 L441.6,447.8 L441.9,447.9 L442.2,447.9 L442.6,447.9 L442.9,448.0 L443.2,448.0 L443.5,448.0 L443.9,448.0 L444.2,448.1 L444.5,448.1" fill="none" stroke="#d61c1c" stroke-width="1.35" stroke-linejoin="round"/>
<path d="M366.6,451.1 L366.9,451.1 L367.2,451.1 L367.6,451.1 L367.9,451.1 L368.2,451.1 L368.5,451.1 L368.9,451.1 L369.2,451.1 L369.5,451.1 L369.8,451.1 L370.2,451.1 L370.5,451.1 L370.8,451.1 L371.1,451.1 L371.5,451.1 L371.8,451.1 L372.1,451.1 L372.4,451.1 L372.8,451.1 L373.1,451.1 L373.4,451.1 L373.7,451.1 L374.1,451.1 L374.4,451.1 L374.7,451.1 L375.0,451.1 L375.4,451.1 L375.7,451.1 L376.0,451.1 L376.3,451.1 L376.7,451.1 L377.0,451.1 L377.3,451.1 L377.6,451.1 L378.0,451.1 L378.3,451.1 L378.6,451.1 L378.9,451.1 L379.3,451.1 L379.6,451.1 L379.9,451.1 L380.2,451.1 L380.6,451.1 L380.9,451.1 L381.2,451.1 L381.5,451.1 L381.9,451.1 L382.2,451.0 L382.5,451.0 L382.8,451.0 L383.2,451.0 L383.5,451.0 L383.8,451.0 L384.1,451.0 L384.5,451.0 L384.8,451.0 L385.1,451.0 L385.4,451.0 L385.8,451.0 L386.1,451.0 L386.4,451.0 L386.7,451.0 L387.0,451.0 L387.4,451.0 L387.7,451.0 L388.0,451.0 L388.3,451.0 L388.7,451.0 L389.0,451.0 L389.3,451.0 L389.6,451.0 L390.0,450.9 L390.3,450.9 L390.6,450.9 L390.9,450.9 L391.3,450.9 L391.6,450.9 L391.9,450.9 L392.2,450.9 L392.6,450.9 L392.9,450.9 L393.2,450.9 L393.5,450.9 L393.9,450.9 L394.2,450.9 L394.5,450.9 L394.8,450.8 L395.2,450.6 L395.5,450.2 L395.8,449.7 L396.1,449.1 L396.5,448.5 L396.8,447.8 L397.1,447.0 L397.4,446.1 L397.8,445.0 L398.1,443.7 L398.4,442.3 L398.7,440.9 L399.1,439.6 L399.4,438.3 L399.7,437.0 L400.0,435.7 L400.4,434.3 L400.7,433.0 L401.0,431.8 L401.3,430.7 L401.7,429.8 L402.0,428.9 L402.3,428.1 L402.6,427.3 L403.0,426.6 L403.3,426.2 L403.6,426.0 L403.9,426.0 L404.3,426.1 L404.6,426.2 L404.9,426.4 L405.2,426.5 L405.6,426.9 L405.9,427.4 L406.2,428.1 L406.5,428.9 L406.8,429.6 L407.2,430.4 L407.5,431.3 L407.8,432.2 L408.1,433.2 L408.5,434.3 L408.8,435.3 L409.1,436.4 L409.4,437.3 L409.8,438.2 L410.1,439.2 L410.4,440.2 L410.7,441.0 L411.1,441.8 L411.4,442.3 L411.7,442.7 L412.0,443.2 L412.4,443.5 L412.7,443.8 L413.0,444.0 L413.3,444.1 L413.7,444.1 L414.0,444.0 L414.3,444.0 L414.6,443.9 L415.0,443.8 L415.3,443.8 L415.6,443.7 L415.9,443.6 L416.3,443.5 L416.6,443.4 L416.9,443.3 L417.2,443.1 L417.6,443.0 L417.9,442.9 L418.2,442.8 L418.5,442.8 L418.9,442.9 L419.2,443.0 L419.5,443.2 L419.8,443.4 L420.2,443.7 L420.5,443.9 L420.8,444.1 L421.1,444.3 L421.5,444.5 L421.8,444.7 L422.1,444.9 L422.4,445.1 L422.8,445.2 L423.1,445.4 L423.4,445.5 L423.7,445.7 L424.1,445.8 L424.4,445.9 L424.7,446.1 L425.0,446.2 L425.3,446.3 L425.7,446.4 L426.0,446.5 L426.3,446.6 L426.6,446.8 L427.0,446.9 L427.3,447.1 L427.6,447.2 L427.9,447.3 L428.3,447.4 L428.6,447.5 L428.9,447.6 L429.2,447.6 L429.6,447.7 L429.9,447.7 L430.2,447.7 L430.5,447.8 L430.9,447.8 L431.2,447.8 L431.5,447.8 L431.8,447.8 L432.2,447.8 L432.5,447.8 L432.8,447.8 L433.1,447.8 L433.5,447.8 L433.8,447.8 L434.1,447.8 L434.4,447.8 L434.8,447.8 L435.1,447.8 L435.4,447.8 L435.7,447.8 L436.1,447.9 L436.4,447.9 L436.7,448.0 L437.0,448.0 L437.4,448.1 L437.7,448.2 L438.0,448.2 L438.3,448.3 L438.7,448.3 L439.0,448.4 L439.3,448.4 L439.6,448.4 L440.0,448.5 L440.3,448.5 L440.6,448.5 L440.9,448.6 L441.3,448.6 L441.6,448.6 L441.9,448.6 L442.2,448.6 L442.6,448.6 L442.9,448.6 L443.2,448.6 L443.5,448.6 L443.9,448.6 L444.2,448.6 L444.5,448.6" fill="none" stroke="#1414d4" stroke-width="1.55" stroke-linejoin="round"/>
<path d="M414.51,398.25V453.60" stroke="#000" stroke-width="1.4" stroke-dasharray="7.6 3.7" fill="none"/>
<path d="M401.66,398.25V453.60" stroke="#c014c0" stroke-width="1.8" stroke-dasharray="7.6 2.2 3.4 2.6" fill="none"/>
</g>
<path d="M366.60,453.60V456.80M386.08,453.60V456.80M405.55,453.60V456.80M425.02,453.60V456.80M444.50,453.60V456.80M363.40,451.10H366.60M363.40,438.55H366.60M363.40,426.00H366.60M363.40,413.45H366.60M363.40,400.90H366.60" stroke="#000" stroke-width="1.1" fill="none"/>
<rect x="366.60" y="398.25" width="77.90" height="55.35" fill="none" stroke="#000" stroke-width="1.5"/>
<text transform="translate(361.60,455.70) scale(1.0,0.964)" text-anchor="end" font-weight="normal" font-size="16.5" stroke="#000" stroke-width="0.32">0.0</text>
<text transform="translate(361.60,443.15) scale(1.0,0.964)" text-anchor="end" font-weight="normal" font-size="16.5" stroke="#000" stroke-width="0.32">0.5</text>
<text transform="translate(361.60,430.60) scale(1.0,0.964)" text-anchor="end" font-weight="normal" font-size="16.5" stroke="#000" stroke-width="0.32">1.0</text>
<text transform="translate(361.60,418.05) scale(1.0,0.964)" text-anchor="end" font-weight="normal" font-size="16.5" stroke="#000" stroke-width="0.32">1.5</text>
<text transform="translate(361.60,405.50) scale(1.0,0.964)" text-anchor="end" font-weight="normal" font-size="16.5" stroke="#000" stroke-width="0.32">2.0</text>
<text x="367.50" y="395.15" font-weight="normal" font-size="16.5" stroke="#000" stroke-width="0.32">1e<tspan font-size="9.3" dy="-5.9">-5</tspan></text>
<clipPath id="c_r5c4"><rect x="484.75" y="398.30" width="78.05" height="55.30"/></clipPath>
<g clip-path="url(#c_r5c4)">
<path d="M517.9,434.7 L518.5,431.5 L519.1,428.6 L519.6,425.8 L520.2,423.3 L520.8,420.9 L521.3,418.7 L521.9,417.0 L522.5,415.4 L523.0,414.2 L523.6,414.1 L524.2,416.1 L524.7,418.8 L525.3,421.2 L525.9,423.7 L526.4,426.0 L527.0,427.4 L527.6,428.5 L528.1,429.3 L528.7,429.7 L529.3,429.7 L529.9,429.4 L530.4,429.2 L531.0,428.8 L531.6,428.3 L532.1,427.7 L532.7,427.5 L533.3,428.0 L533.8,429.6 L534.4,431.4 L535.0,432.8 L535.5,434.1 L536.1,435.4 L536.7,436.5 L537.2,437.5 L537.8,438.4 L538.4,439.2 L538.9,440.0 L539.5,440.6 L540.1,441.2 L540.6,441.8 L541.2,442.3 L541.8,442.8 L542.3,443.2 L542.9,443.7 L543.5,444.1 L544.1,444.5 L544.6,444.8 L545.2,445.1 L545.8,445.4 L546.3,445.6 L546.9,445.9 L547.5,446.1 L548.0,446.3 L548.6,446.5 L549.2,446.7 L549.7,446.9 L550.3,447.0 L550.9,447.2 L551.4,447.3 L552.0,447.5 L552.6,447.6 L553.1,447.8 L553.7,447.9 L554.3,448.0 L554.8,448.0 L555.4,448.0 L556.0,448.0 L556.6,448.0 L557.1,448.0 L557.7,448.0 L558.3,448.0 L558.8,448.0 L559.4,448.0 L560.0,448.0 L560.5,448.0 L561.1,448.0 L561.7,448.0 L562.2,448.0 L562.8,448.0 L562.8,449.7 L562.2,449.7 L561.7,449.7 L561.1,449.7 L560.5,449.7 L560.0,449.7 L559.4,449.7 L558.8,449.7 L558.3,449.7 L557.7,449.7 L557.1,449.7 L556.6,449.7 L556.0,449.7 L555.4,449.7 L554.8,449.7 L554.3,449.7 L553.7,449.7 L553.1,449.7 L552.6,449.6 L552.0,449.6 L551.4,449.5 L550.9,449.5 L550.3,449.4 L549.7,449.4 L549.2,449.3 L548.6,449.2 L548.0,449.1 L547.5,449.0 L546.9,448.9 L546.3,448.9 L545.8,448.8 L545.2,448.6 L544.6,448.5 L544.1,448.4 L543.5,448.3 L542.9,448.1 L542.3,448.0 L541.8,447.8 L541.2,447.5 L540.6,447.0 L540.1,446.5 L539.5,446.1 L538.9,445.7 L538.4,445.4 L537.8,445.2 L537.2,444.9 L536.7,444.5 L536.1,444.1 L535.5,443.7 L535.0,443.2 L534.4,442.7 L533.8,441.9 L533.3,441.2 L532.7,441.0 L532.1,441.0 L531.6,441.0 L531.0,441.0 L530.4,440.9 L529.9,440.5 L529.3,440.1 L528.7,439.6 L528.1,439.3 L527.6,439.0 L527.0,438.6 L526.4,437.6 L525.9,435.9 L525.3,434.1 L524.7,433.2 L524.2,432.6 L523.6,432.2 L523.0,432.3 L522.5,432.7 L521.9,433.4 L521.3,434.4 L520.8,435.9 L520.2,437.6 L519.6,439.1 L519.1,440.6 L518.5,442.0 L517.9,443.5Z" fill="rgba(242,95,95,0.48)" stroke="none"/>
<path d="M517.5,437.2 L518.1,434.9 L518.7,432.8 L519.3,431.1 L519.8,429.8 L520.4,428.8 L521.0,428.0 L521.5,427.4 L522.1,427.0 L522.7,426.6 L523.3,426.5 L523.8,426.8 L524.4,427.9 L525.0,429.1 L525.6,430.0 L526.1,430.6 L526.7,431.2 L527.3,431.8 L527.8,432.4 L528.4,433.0 L529.0,433.6 L529.6,434.2 L530.1,434.8 L530.7,435.5 L531.3,436.1 L531.9,436.7 L532.4,437.3 L533.0,437.8 L533.6,438.2 L534.1,438.6 L534.7,439.0 L535.3,439.4 L535.9,439.8 L536.4,440.1 L537.0,440.5 L537.6,440.8 L538.2,441.2 L538.7,441.5 L539.3,441.9 L539.9,442.1 L540.5,442.2 L541.0,442.2 L541.6,442.2 L542.2,442.2 L542.7,442.2 L543.3,442.2 L543.9,442.1 L544.5,441.7 L545.0,441.3 L545.6,441.0 L546.2,440.8 L546.8,440.7 L547.3,440.5 L547.9,440.5 L548.5,440.5 L549.0,440.8 L549.6,441.1 L550.2,441.4 L550.8,441.8 L551.3,442.3 L551.9,442.9 L552.5,443.4 L553.1,443.7 L553.6,444.0 L554.2,444.3 L554.8,444.5 L555.4,444.6 L555.9,444.8 L556.5,444.9 L557.1,445.0 L557.6,445.1 L558.2,445.1 L558.8,445.2 L559.4,445.3 L559.9,445.3 L560.5,445.4 L561.1,445.4 L561.7,445.5 L562.2,445.5 L562.8,445.5 L562.8,448.0 L562.2,448.0 L561.7,447.9 L561.1,447.9 L560.5,447.9 L559.9,447.8 L559.4,447.8 L558.8,447.8 L558.2,447.8 L557.6,447.8 L557.1,447.8 L556.5,447.7 L555.9,447.7 L555.4,447.7 L554.8,447.7 L554.2,447.7 L553.6,447.7 L553.1,447.7 L552.5,447.7 L551.9,447.7 L551.3,447.5 L550.8,447.4 L550.2,447.2 L549.6,447.0 L549.0,446.8 L548.5,446.6 L547.9,446.5 L547.3,446.5 L546.8,446.7 L546.2,446.8 L545.6,447.0 L545.0,447.2 L544.5,447.6 L543.9,447.9 L543.3,448.0 L542.7,448.0 L542.2,447.9 L541.6,447.8 L541.0,447.6 L540.5,447.5 L539.9,447.3 L539.3,447.1 L538.7,446.9 L538.2,446.6 L537.6,446.4 L537.0,446.0 L536.4,445.6 L535.9,445.2 L535.3,444.9 L534.7,444.6 L534.1,444.3 L533.6,444.1 L533.0,443.8 L532.4,443.5 L531.9,443.0 L531.3,442.2 L530.7,441.4 L530.1,441.0 L529.6,441.0 L529.0,441.0 L528.4,441.0 L527.8,441.0 L527.3,441.3 L526.7,442.4 L526.1,443.7 L525.6,444.6 L525.0,444.6 L524.4,444.2 L523.8,443.7 L523.3,443.5 L522.7,443.7 L522.1,443.9 L521.5,443.9 L521.0,443.3 L520.4,442.5 L519.8,442.2 L519.3,442.4 L518.7,442.9 L518.1,443.7 L517.5,444.7Z" fill="rgba(95,95,242,0.48)" stroke="none"/>
<path d="M504.26,398.30V453.60M523.77,398.30V453.60M543.29,398.30V453.60" stroke="#000" stroke-width="1.15" stroke-dasharray="1.4 0.7" fill="none"/>
<path d="M484.75,451.00H562.80M484.75,438.48H562.80M484.75,425.95H562.80M484.75,413.43H562.80M484.75,400.90H562.80" stroke="#000" stroke-width="1.45" stroke-dasharray="1.6 0.6" fill="none"/>
<path d="M484.8,451.0 L485.1,451.0 L485.4,451.0 L485.7,451.0 L486.1,451.0 L486.4,451.0 L486.7,451.0 L487.0,451.0 L487.4,451.0 L487.7,451.0 L488.0,451.0 L488.3,451.0 L488.7,451.0 L489.0,451.0 L489.3,451.0 L489.6,451.0 L490.0,451.0 L490.3,451.0 L490.6,451.0 L490.9,451.0 L491.3,451.0 L491.6,451.0 L491.9,451.0 L492.2,451.0 L492.6,451.0 L492.9,451.0 L493.2,451.0 L493.5,451.0 L493.9,451.0 L494.2,451.0 L494.5,451.0 L494.8,451.0 L495.2,451.0 L495.5,451.0 L495.8,451.0 L496.1,451.0 L496.5,451.0 L496.8,451.0 L497.1,451.0 L497.4,451.0 L497.8,451.0 L498.1,451.0 L498.4,451.0 L498.7,451.0 L499.1,451.0 L499.4,451.0 L499.7,451.0 L500.0,450.9 L500.4,450.9 L500.7,450.9 L501.0,450.9 L501.3,450.9 L501.7,450.9 L502.0,450.9 L502.3,450.9 L502.6,450.9 L503.0,450.9 L503.3,450.9 L503.6,450.9 L503.9,450.9 L504.3,450.9 L504.6,450.9 L504.9,450.9 L505.2,450.9 L505.6,450.9 L505.9,450.9 L506.2,450.9 L506.5,450.9 L506.9,450.9 L507.2,450.9 L507.5,450.9 L507.8,450.9 L508.2,450.8 L508.5,450.8 L508.8,450.8 L509.1,450.8 L509.5,450.8 L509.8,450.8 L510.1,450.8 L510.4,450.8 L510.8,450.8 L511.1,450.8 L511.4,450.8 L511.7,450.8 L512.1,450.8 L512.4,450.8 L512.7,450.8 L513.0,450.7 L513.4,450.6 L513.7,450.4 L514.0,450.1 L514.3,449.8 L514.7,449.3 L515.0,448.9 L515.3,448.4 L515.6,447.9 L516.0,447.2 L516.3,446.2 L516.6,445.0 L516.9,443.7 L517.3,442.4 L517.6,441.0 L517.9,439.7 L518.2,438.5 L518.6,437.1 L518.9,435.7 L519.2,434.4 L519.5,433.1 L519.9,432.0 L520.2,430.9 L520.5,429.9 L520.8,428.9 L521.2,428.0 L521.5,427.2 L521.8,426.5 L522.1,425.8 L522.5,425.1 L522.8,424.5 L523.1,424.1 L523.4,424.0 L523.8,424.3 L524.1,424.9 L524.4,425.8 L524.8,426.7 L525.1,427.5 L525.4,428.5 L525.7,429.6 L526.1,430.7 L526.4,431.7 L526.7,432.6 L527.0,433.2 L527.4,433.7 L527.7,434.1 L528.0,434.5 L528.3,434.8 L528.7,435.1 L529.0,435.3 L529.3,435.5 L529.6,435.6 L530.0,435.8 L530.3,435.9 L530.6,436.0 L530.9,436.0 L531.3,435.9 L531.6,435.8 L531.9,435.7 L532.2,435.6 L532.6,435.5 L532.9,435.5 L533.2,435.8 L533.5,436.3 L533.9,436.9 L534.2,437.6 L534.5,438.2 L534.8,438.7 L535.2,439.1 L535.5,439.6 L535.8,440.0 L536.1,440.4 L536.5,440.8 L536.8,441.2 L537.1,441.5 L537.4,441.9 L537.8,442.2 L538.1,442.4 L538.4,442.7 L538.7,443.0 L539.1,443.2 L539.4,443.5 L539.7,443.8 L540.0,444.1 L540.4,444.4 L540.7,444.7 L541.0,444.9 L541.3,445.2 L541.7,445.4 L542.0,445.7 L542.3,445.9 L542.6,446.1 L543.0,446.3 L543.3,446.5 L543.6,446.6 L543.9,446.8 L544.3,446.9 L544.6,447.0 L544.9,447.1 L545.2,447.2 L545.6,447.3 L545.9,447.4 L546.2,447.5 L546.5,447.6 L546.9,447.7 L547.2,447.7 L547.5,447.8 L547.8,447.9 L548.2,448.0 L548.5,448.1 L548.8,448.2 L549.1,448.2 L549.5,448.3 L549.8,448.4 L550.1,448.5 L550.4,448.5 L550.8,448.6 L551.1,448.7 L551.4,448.8 L551.7,448.8 L552.1,448.9 L552.4,448.9 L552.7,449.0 L553.0,449.0 L553.4,449.0 L553.7,449.0 L554.0,449.0 L554.3,449.0 L554.7,449.0 L555.0,449.0 L555.3,449.0 L555.6,449.0 L556.0,449.0 L556.3,449.0 L556.6,449.0 L556.9,449.0 L557.3,449.0 L557.6,449.0 L557.9,449.0 L558.2,449.0 L558.6,449.0 L558.9,449.0 L559.2,449.0 L559.5,449.0 L559.9,449.0 L560.2,449.0 L560.5,449.0 L560.8,449.0 L561.2,449.0 L561.5,449.0 L561.8,449.0 L562.1,449.0 L562.5,449.0 L562.8,449.0" fill="none" stroke="#d61c1c" stroke-width="1.35" stroke-linejoin="round"/>
<path d="M484.8,451.0 L485.1,451.0 L485.4,451.0 L485.7,451.0 L486.1,451.0 L486.4,451.0 L486.7,451.0 L487.0,451.0 L487.4,451.0 L487.7,451.0 L488.0,451.0 L488.3,451.0 L488.7,451.0 L489.0,451.0 L489.3,451.0 L489.6,451.0 L490.0,451.0 L490.3,451.0 L490.6,451.0 L490.9,451.0 L491.3,451.0 L491.6,451.0 L491.9,451.0 L492.2,451.0 L492.6,451.0 L492.9,451.0 L493.2,451.0 L493.5,451.0 L493.9,451.0 L494.2,451.0 L494.5,451.0 L494.8,451.0 L495.2,451.0 L495.5,451.0 L495.8,451.0 L496.1,451.0 L496.5,451.0 L496.8,451.0 L497.1,451.0 L497.4,451.0 L497.8,451.0 L498.1,451.0 L498.4,451.0 L498.7,451.0 L499.1,451.0 L499.4,451.0 L499.7,451.0 L500.0,451.0 L500.4,450.9 L500.7,450.9 L501.0,450.9 L501.3,450.9 L501.7,450.9 L502.0,450.9 L502.3,450.9 L502.6,450.9 L503.0,450.9 L503.3,450.9 L503.6,450.9 L503.9,450.9 L504.3,450.9 L504.6,450.9 L504.9,450.9 L505.2,450.9 L505.6,450.9 L505.9,450.9 L506.2,450.9 L506.5,450.9 L506.9,450.9 L507.2,450.9 L507.5,450.9 L507.8,450.9 L508.2,450.8 L508.5,450.8 L508.8,450.8 L509.1,450.8 L509.5,450.8 L509.8,450.8 L510.1,450.8 L510.4,450.8 L510.8,450.8 L511.1,450.8 L511.4,450.8 L511.7,450.8 L512.1,450.8 L512.4,450.8 L512.7,450.8 L513.0,450.7 L513.4,450.5 L513.7,450.3 L514.0,449.9 L514.3,449.4 L514.7,448.9 L515.0,448.3 L515.3,447.8 L515.6,447.0 L516.0,446.0 L516.3,444.9 L516.6,443.8 L516.9,442.7 L517.3,441.7 L517.6,440.8 L517.9,440.0 L518.2,439.2 L518.6,438.5 L518.9,437.8 L519.2,437.1 L519.5,436.5 L519.9,436.0 L520.2,435.4 L520.5,434.9 L520.8,434.5 L521.2,434.0 L521.5,433.7 L521.8,433.5 L522.1,433.3 L522.5,433.2 L522.8,433.1 L523.1,433.0 L523.4,433.0 L523.8,433.1 L524.1,433.4 L524.4,433.8 L524.8,434.1 L525.1,434.5 L525.4,434.8 L525.7,435.0 L526.1,435.1 L526.4,435.3 L526.7,435.4 L527.0,435.6 L527.4,435.8 L527.7,436.0 L528.0,436.2 L528.3,436.4 L528.7,436.7 L529.0,437.0 L529.3,437.3 L529.6,437.6 L530.0,437.9 L530.3,438.2 L530.6,438.6 L530.9,439.0 L531.3,439.3 L531.6,439.7 L531.9,440.1 L532.2,440.4 L532.6,440.6 L532.9,440.9 L533.2,441.1 L533.5,441.3 L533.9,441.5 L534.2,441.7 L534.5,441.9 L534.8,442.1 L535.2,442.3 L535.5,442.5 L535.8,442.7 L536.1,442.9 L536.5,443.2 L536.8,443.4 L537.1,443.6 L537.4,443.8 L537.8,444.0 L538.1,444.1 L538.4,444.2 L538.7,444.4 L539.1,444.5 L539.4,444.6 L539.7,444.7 L540.0,444.8 L540.4,444.9 L540.7,445.0 L541.0,445.1 L541.3,445.2 L541.7,445.3 L542.0,445.3 L542.3,445.4 L542.6,445.4 L543.0,445.5 L543.3,445.5 L543.6,445.4 L543.9,445.2 L544.3,445.0 L544.6,444.7 L544.9,444.4 L545.2,444.2 L545.6,444.0 L545.9,443.9 L546.2,443.8 L546.5,443.7 L546.9,443.6 L547.2,443.6 L547.5,443.5 L547.8,443.5 L548.2,443.5 L548.5,443.6 L548.8,443.8 L549.1,444.0 L549.5,444.2 L549.8,444.4 L550.1,444.6 L550.4,444.8 L550.8,445.0 L551.1,445.2 L551.4,445.5 L551.7,445.7 L552.1,445.9 L552.4,446.0 L552.7,446.0 L553.0,446.0 L553.4,446.0 L553.7,446.0 L554.0,446.0 L554.3,446.0 L554.7,446.0 L555.0,446.0 L555.3,446.0 L555.6,446.0 L556.0,446.0 L556.3,446.0 L556.6,446.0 L556.9,446.0 L557.3,446.0 L557.6,446.0 L557.9,446.0 L558.2,446.0 L558.6,446.0 L558.9,446.0 L559.2,446.0 L559.5,446.0 L559.9,446.0 L560.2,446.1 L560.5,446.1 L560.8,446.1 L561.2,446.2 L561.5,446.2 L561.8,446.3 L562.1,446.4 L562.5,446.4 L562.8,446.5" fill="none" stroke="#1414d4" stroke-width="1.55" stroke-linejoin="round"/>
<path d="M532.36,398.30V453.60" stroke="#000" stroke-width="1.4" stroke-dasharray="7.6 3.7" fill="none"/>
<path d="M519.48,398.30V453.60" stroke="#c014c0" stroke-width="1.8" stroke-dasharray="7.6 2.2 3.4 2.6" fill="none"/>
</g>
<path d="M484.75,453.60V456.80M504.26,453.60V456.80M523.77,453.60V456.80M543.29,453.60V456.80M562.80,453.60V456.80M481.55,451.00H484.75M481.55,438.48H484.75M481.55,425.95H484.75M481.55,413.43H484.75M481.55,400.90H484.75" stroke="#000" stroke-width="1.1" fill="none"/>
<rect x="484.75" y="398.30" width="78.05" height="55.30" fill="none" stroke="#000" stroke-width="1.5"/>
<text transform="translate(480.10,456.10) scale(1.0,0.964)" text-anchor="end" font-weight="normal" font-size="16.5" stroke="#000" stroke-width="0.32">0.0</text>
<text transform="translate(480.10,443.58) scale(1.0,0.964)" text-anchor="end" font-weight="normal" font-size="16.5" stroke="#000" stroke-width="0.32">0.5</text>
<text transform="translate(480.10,431.05) scale(1.0,0.964)" text-anchor="end" font-weight="normal" font-size="16.5" stroke="#000" stroke-width="0.32">1.0</text>
<text transform="translate(480.10,418.53) scale(1.0,0.964)" text-anchor="end" font-weight="normal" font-size="16.5" stroke="#000" stroke-width="0.32">1.5</text>
<text transform="translate(480.10,406.00) scale(1.0,0.964)" text-anchor="end" font-weight="normal" font-size="16.5" stroke="#000" stroke-width="0.32">2.0</text>
<text x="486.05" y="395.20" font-weight="normal" font-size="16.5" stroke="#000" stroke-width="0.32">1e<tspan font-size="9.3" dy="-5.9">-5</tspan></text>
<clipPath id="c_r6c1"><rect x="130.00" y="486.50" width="77.80" height="55.90"/></clipPath>
<g clip-path="url(#c_r6c1)">
<path d="M164.2,518.4 L164.8,511.0 L165.3,504.8 L165.9,501.5 L166.4,501.2 L167.0,503.1 L167.5,505.5 L168.1,507.1 L168.6,508.4 L169.2,508.4 L169.7,507.8 L170.3,507.2 L170.8,507.6 L171.4,509.2 L172.0,511.2 L172.5,513.1 L173.1,515.4 L173.6,517.4 L174.2,518.8 L174.7,519.8 L175.3,520.6 L175.8,521.1 L176.4,521.4 L176.9,521.6 L177.5,521.7 L178.0,521.9 L178.6,522.1 L179.1,522.3 L179.7,522.5 L180.2,522.7 L180.8,523.0 L181.3,523.5 L181.9,524.0 L182.4,524.6 L183.0,525.1 L183.5,525.5 L184.1,525.8 L184.6,526.2 L185.2,526.4 L185.7,526.7 L186.3,527.0 L186.8,527.4 L187.4,527.8 L187.9,528.2 L188.5,528.5 L189.0,528.8 L189.6,529.1 L190.2,529.3 L190.7,529.6 L191.3,529.7 L191.8,529.9 L192.4,529.9 L192.9,529.9 L193.5,529.9 L194.0,529.9 L194.6,529.9 L195.1,529.9 L195.7,530.0 L196.2,530.2 L196.8,530.7 L197.3,531.1 L197.9,531.5 L198.4,531.6 L199.0,531.6 L199.5,531.6 L200.1,531.6 L200.6,531.6 L201.2,531.6 L201.7,531.6 L202.3,531.7 L202.8,531.7 L203.4,531.8 L203.9,531.9 L204.5,532.0 L205.0,532.0 L205.6,532.0 L206.1,532.0 L206.7,532.0 L207.2,532.0 L207.8,532.0 L207.8,538.3 L207.2,538.3 L206.7,538.3 L206.1,538.3 L205.6,538.3 L205.0,538.3 L204.5,538.3 L203.9,538.2 L203.4,538.1 L202.8,538.0 L202.3,538.0 L201.7,538.0 L201.2,538.0 L200.6,538.0 L200.1,538.0 L199.5,538.0 L199.0,538.0 L198.4,537.9 L197.9,537.8 L197.3,537.4 L196.8,537.0 L196.2,536.5 L195.7,536.3 L195.1,536.2 L194.6,536.2 L194.0,536.2 L193.5,536.2 L192.9,536.2 L192.4,536.2 L191.8,536.2 L191.3,536.0 L190.7,535.9 L190.2,535.6 L189.6,535.4 L189.0,535.1 L188.5,534.8 L187.9,534.5 L187.4,534.1 L186.8,533.7 L186.3,533.3 L185.7,533.0 L185.2,532.7 L184.6,532.5 L184.1,532.1 L183.5,531.8 L183.0,531.4 L182.4,530.9 L181.9,530.3 L181.3,529.8 L180.8,529.3 L180.2,529.0 L179.7,528.8 L179.1,528.6 L178.6,528.4 L178.0,528.2 L177.5,528.0 L176.9,527.9 L176.4,527.7 L175.8,527.4 L175.3,526.9 L174.7,526.1 L174.2,525.1 L173.6,523.7 L173.1,521.7 L172.5,519.4 L172.0,517.5 L171.4,515.5 L170.8,513.9 L170.3,513.5 L169.7,514.1 L169.2,514.7 L168.6,514.7 L168.1,513.4 L167.5,511.8 L167.0,509.4 L166.4,507.5 L165.9,507.8 L165.3,511.1 L164.8,517.3 L164.2,524.6Z" fill="rgba(242,95,95,0.48)" stroke="none"/>
<path d="M164.2,519.6 L164.8,514.9 L165.3,511.9 L165.9,510.7 L166.4,509.9 L167.0,509.6 L167.5,510.3 L168.1,511.3 L168.6,511.7 L169.2,510.8 L169.7,509.8 L170.3,509.7 L170.8,510.9 L171.4,512.5 L172.0,514.0 L172.5,515.8 L173.1,517.5 L173.6,518.8 L174.2,519.7 L174.7,520.5 L175.3,521.0 L175.8,521.2 L176.4,521.3 L176.9,521.4 L177.5,521.4 L178.0,521.6 L178.6,521.9 L179.1,522.3 L179.7,522.8 L180.2,523.3 L180.8,523.7 L181.3,524.1 L181.9,524.5 L182.4,524.8 L183.0,525.1 L183.5,525.5 L184.1,525.9 L184.6,526.3 L185.2,526.6 L185.7,527.0 L186.3,527.4 L186.8,527.8 L187.4,528.2 L187.9,528.6 L188.5,528.9 L189.0,529.2 L189.6,529.3 L190.2,529.5 L190.7,529.6 L191.3,529.7 L191.8,529.8 L192.4,529.9 L192.9,530.0 L193.5,530.2 L194.0,530.3 L194.6,530.4 L195.1,530.5 L195.7,530.7 L196.2,530.9 L196.8,531.1 L197.3,531.3 L197.9,531.5 L198.4,531.6 L199.0,531.8 L199.5,532.0 L200.1,532.3 L200.6,532.5 L201.2,532.6 L201.7,532.7 L202.3,532.7 L202.8,532.6 L203.4,532.5 L203.9,532.5 L204.5,532.4 L205.0,532.4 L205.6,532.4 L206.1,532.4 L206.7,532.5 L207.2,532.6 L207.8,532.7 L207.8,536.9 L207.2,536.8 L206.7,536.7 L206.1,536.6 L205.6,536.6 L205.0,536.6 L204.5,536.6 L203.9,536.7 L203.4,536.7 L202.8,536.8 L202.3,536.9 L201.7,536.9 L201.2,536.8 L200.6,536.7 L200.1,536.5 L199.5,536.2 L199.0,536.0 L198.4,535.8 L197.9,535.7 L197.3,535.5 L196.8,535.3 L196.2,535.1 L195.7,534.9 L195.1,534.7 L194.6,534.6 L194.0,534.5 L193.5,534.4 L192.9,534.2 L192.4,534.1 L191.8,534.0 L191.3,533.9 L190.7,533.8 L190.2,533.7 L189.6,533.5 L189.0,533.4 L188.5,533.1 L187.9,532.8 L187.4,532.4 L186.8,532.0 L186.3,531.6 L185.7,531.2 L185.2,530.8 L184.6,530.5 L184.1,530.1 L183.5,529.7 L183.0,529.3 L182.4,529.0 L181.9,528.7 L181.3,528.3 L180.8,527.9 L180.2,527.5 L179.7,527.0 L179.1,526.5 L178.6,526.1 L178.0,525.8 L177.5,525.6 L176.9,525.6 L176.4,525.5 L175.8,525.4 L175.3,525.2 L174.7,524.7 L174.2,523.9 L173.6,523.0 L173.1,521.7 L172.5,520.0 L172.0,518.2 L171.4,516.7 L170.8,515.1 L170.3,513.9 L169.7,514.0 L169.2,515.0 L168.6,515.9 L168.1,515.5 L167.5,514.5 L167.0,513.8 L166.4,514.1 L165.9,514.9 L165.3,516.1 L164.8,519.1 L164.2,523.8Z" fill="rgba(95,95,242,0.48)" stroke="none"/>
<path d="M149.45,486.50V542.40M168.90,486.50V542.40M188.35,486.50V542.40" stroke="#000" stroke-width="1.15" stroke-dasharray="1.4 0.7" fill="none"/>
<path d="M130.00,539.00H207.80M130.00,521.50H207.80M130.00,504.00H207.80" stroke="#000" stroke-width="1.45" stroke-dasharray="1.6 0.6" fill="none"/>
<path d="M130.0,517.6 L130.3,514.8 L130.6,512.5 L131.0,511.0 L131.3,510.3 L131.6,510.5 L131.9,511.3 L132.3,512.5 L132.6,513.9 L132.9,515.6 L133.2,518.3 L133.6,521.2 L133.9,523.2 L134.2,524.6 L134.5,525.8 L134.9,526.6 L135.2,526.7 L135.5,526.2 L135.8,525.5 L136.2,525.0 L136.5,525.2 L136.8,525.7 L137.1,526.6 L137.5,527.6 L137.8,528.5 L138.1,529.5 L138.4,530.6 L138.8,531.7 L139.1,532.9 L139.4,533.9 L139.7,534.8 L140.0,535.6 L140.4,536.3 L140.7,537.0 L141.0,537.6 L141.3,538.0 L141.7,538.3 L142.0,538.5 L142.3,538.7 L142.6,538.8 L143.0,538.9 L143.3,539.0 L143.6,539.0 L143.9,539.0 L144.3,539.0 L144.6,539.0 L144.9,539.0 L145.2,539.0 L145.6,539.0 L145.9,539.0 L146.2,539.0 L146.5,539.0 L146.9,539.0 L147.2,539.0 L147.5,539.0 L147.8,539.0 L148.2,539.0 L148.5,539.0 L148.8,539.0 L149.1,539.0 L149.4,539.0 L149.8,539.0 L150.1,539.0 L150.4,539.0 L150.7,539.0 L151.1,539.0 L151.4,539.0 L151.7,539.0 L152.0,539.0 L152.4,539.0 L152.7,539.0 L153.0,539.0 L153.3,539.0 L153.7,539.0 L154.0,539.0 L154.3,539.0 L154.6,539.0 L155.0,539.0 L155.3,539.0 L155.6,539.0 L155.9,539.0 L156.3,539.0 L156.6,539.0 L156.9,539.0 L157.2,539.0 L157.6,539.0 L157.9,539.0 L158.2,539.0 L158.5,539.0 L158.9,539.0 L159.2,539.0 L159.5,539.0 L159.8,539.0 L160.1,539.0 L160.5,539.0 L160.8,539.0 L161.1,539.0 L161.4,539.0 L161.8,539.0 L162.1,539.0 L162.4,539.0 L162.7,538.9 L163.1,537.1 L163.4,533.4 L163.7,528.7 L164.0,524.0 L164.4,519.9 L164.7,515.5 L165.0,511.2 L165.3,508.0 L165.7,505.9 L166.0,504.3 L166.3,504.1 L166.6,504.8 L167.0,506.1 L167.3,507.6 L167.6,508.9 L167.9,509.8 L168.3,510.7 L168.6,511.4 L168.9,511.7 L169.2,511.5 L169.5,511.2 L169.9,510.7 L170.2,510.4 L170.5,510.3 L170.8,510.7 L171.2,511.6 L171.5,512.7 L171.8,513.9 L172.1,514.9 L172.5,516.1 L172.8,517.4 L173.1,518.8 L173.4,520.0 L173.8,521.0 L174.1,521.8 L174.4,522.4 L174.7,523.0 L175.1,523.4 L175.4,523.9 L175.7,524.2 L176.0,524.4 L176.4,524.5 L176.7,524.6 L177.0,524.7 L177.3,524.8 L177.7,524.9 L178.0,525.0 L178.3,525.2 L178.6,525.3 L178.9,525.4 L179.3,525.5 L179.6,525.6 L179.9,525.7 L180.2,525.9 L180.6,526.0 L180.9,526.3 L181.2,526.5 L181.5,526.8 L181.9,527.2 L182.2,527.5 L182.5,527.8 L182.8,528.1 L183.2,528.4 L183.5,528.6 L183.8,528.8 L184.1,529.0 L184.5,529.2 L184.8,529.4 L185.1,529.5 L185.4,529.7 L185.8,529.9 L186.1,530.1 L186.4,530.2 L186.7,530.5 L187.1,530.7 L187.4,530.9 L187.7,531.1 L188.0,531.4 L188.4,531.6 L188.7,531.8 L189.0,531.9 L189.3,532.1 L189.6,532.2 L190.0,532.4 L190.3,532.5 L190.6,532.7 L190.9,532.8 L191.3,532.9 L191.6,533.0 L191.9,533.0 L192.2,533.0 L192.6,533.0 L192.9,533.0 L193.2,533.0 L193.5,533.0 L193.9,533.0 L194.2,533.0 L194.5,533.0 L194.8,533.0 L195.2,533.0 L195.5,533.1 L195.8,533.2 L196.1,533.3 L196.5,533.6 L196.8,533.8 L197.1,534.1 L197.4,534.3 L197.8,534.6 L198.1,534.7 L198.4,534.8 L198.7,534.8 L199.0,534.8 L199.4,534.8 L199.7,534.8 L200.0,534.8 L200.3,534.8 L200.7,534.8 L201.0,534.8 L201.3,534.8 L201.6,534.8 L202.0,534.8 L202.3,534.8 L202.6,534.8 L202.9,534.9 L203.3,534.9 L203.6,535.0 L203.9,535.0 L204.2,535.1 L204.6,535.1 L204.9,535.1 L205.2,535.1 L205.5,535.1 L205.9,535.1 L206.2,535.1 L206.5,535.1 L206.8,535.1 L207.2,535.1 L207.5,535.1 L207.8,535.1" fill="none" stroke="#d61c1c" stroke-width="1.35" stroke-linejoin="round"/>
<path d="M130.0,539.0 L130.3,539.0 L130.6,539.0 L131.0,538.9 L131.3,538.9 L131.6,538.8 L131.9,538.7 L132.3,538.6 L132.6,538.5 L132.9,538.4 L133.2,538.1 L133.6,537.1 L133.9,535.6 L134.2,534.0 L134.5,532.4 L134.9,530.5 L135.2,529.0 L135.5,528.5 L135.8,529.5 L136.2,531.2 L136.5,533.1 L136.8,534.7 L137.1,536.7 L137.5,538.3 L137.8,539.0 L138.1,539.0 L138.4,539.0 L138.8,539.0 L139.1,539.0 L139.4,539.0 L139.7,539.0 L140.0,539.0 L140.4,539.0 L140.7,539.0 L141.0,539.0 L141.3,539.0 L141.7,539.0 L142.0,539.0 L142.3,539.0 L142.6,539.0 L143.0,539.0 L143.3,539.0 L143.6,539.0 L143.9,539.0 L144.3,539.0 L144.6,539.0 L144.9,539.0 L145.2,539.0 L145.6,539.0 L145.9,539.0 L146.2,539.0 L146.5,539.0 L146.9,539.0 L147.2,539.0 L147.5,539.0 L147.8,538.3 L148.2,536.6 L148.5,534.7 L148.8,533.2 L149.1,531.8 L149.4,530.4 L149.8,529.2 L150.1,528.6 L150.4,528.6 L150.7,529.1 L151.1,529.9 L151.4,530.8 L151.7,531.8 L152.0,533.0 L152.4,534.5 L152.7,536.2 L153.0,537.5 L153.3,538.3 L153.7,538.6 L154.0,538.8 L154.3,539.0 L154.6,539.0 L155.0,539.0 L155.3,539.0 L155.6,539.0 L155.9,539.0 L156.3,539.0 L156.6,539.0 L156.9,539.0 L157.2,539.0 L157.6,539.0 L157.9,539.0 L158.2,539.0 L158.5,539.0 L158.9,539.0 L159.2,539.0 L159.5,539.0 L159.8,539.0 L160.1,539.0 L160.5,539.0 L160.8,539.0 L161.1,539.0 L161.4,539.0 L161.8,539.0 L162.1,539.0 L162.4,538.8 L162.7,536.9 L163.1,533.6 L163.4,529.7 L163.7,526.1 L164.0,523.4 L164.4,520.5 L164.7,517.8 L165.0,515.5 L165.3,514.0 L165.7,513.2 L166.0,512.6 L166.3,512.1 L166.6,511.8 L167.0,511.7 L167.3,511.9 L167.6,512.5 L167.9,513.1 L168.3,513.6 L168.6,513.8 L168.9,513.5 L169.2,512.9 L169.5,512.2 L169.9,511.8 L170.2,511.7 L170.5,512.2 L170.8,513.0 L171.2,513.9 L171.5,514.9 L171.8,515.7 L172.1,516.7 L172.5,517.8 L172.8,518.8 L173.1,519.8 L173.4,520.6 L173.8,521.1 L174.1,521.7 L174.4,522.2 L174.7,522.6 L175.1,523.0 L175.4,523.2 L175.7,523.3 L176.0,523.4 L176.4,523.4 L176.7,523.4 L177.0,523.5 L177.3,523.5 L177.7,523.6 L178.0,523.6 L178.3,523.8 L178.6,524.0 L178.9,524.3 L179.3,524.6 L179.6,524.9 L179.9,525.2 L180.2,525.4 L180.6,525.7 L180.9,525.9 L181.2,526.1 L181.5,526.3 L181.9,526.5 L182.2,526.8 L182.5,527.0 L182.8,527.2 L183.2,527.4 L183.5,527.6 L183.8,527.8 L184.1,528.0 L184.5,528.2 L184.8,528.5 L185.1,528.7 L185.4,528.9 L185.8,529.1 L186.1,529.3 L186.4,529.5 L186.7,529.8 L187.1,530.0 L187.4,530.2 L187.7,530.5 L188.0,530.7 L188.4,530.9 L188.7,531.1 L189.0,531.3 L189.3,531.4 L189.6,531.5 L190.0,531.5 L190.3,531.6 L190.6,531.7 L190.9,531.7 L191.3,531.8 L191.6,531.9 L191.9,531.9 L192.2,532.0 L192.6,532.1 L192.9,532.1 L193.2,532.2 L193.5,532.3 L193.9,532.3 L194.2,532.4 L194.5,532.5 L194.8,532.6 L195.2,532.6 L195.5,532.7 L195.8,532.8 L196.1,532.9 L196.5,533.0 L196.8,533.2 L197.1,533.3 L197.4,533.4 L197.8,533.5 L198.1,533.6 L198.4,533.7 L198.7,533.8 L199.0,534.0 L199.4,534.1 L199.7,534.2 L200.0,534.3 L200.3,534.5 L200.7,534.6 L201.0,534.7 L201.3,534.7 L201.6,534.8 L202.0,534.8 L202.3,534.8 L202.6,534.8 L202.9,534.7 L203.3,534.7 L203.6,534.6 L203.9,534.6 L204.2,534.5 L204.6,534.5 L204.9,534.5 L205.2,534.5 L205.5,534.5 L205.9,534.5 L206.2,534.5 L206.5,534.6 L206.8,534.6 L207.2,534.7 L207.5,534.7 L207.8,534.8" fill="none" stroke="#1414d4" stroke-width="1.55" stroke-linejoin="round"/>
<path d="M135.21,486.50V542.40" stroke="#000" stroke-width="1.4" stroke-dasharray="7.6 3.7" fill="none"/>
<path d="M165.01,486.50V542.40" stroke="#c014c0" stroke-width="1.8" stroke-dasharray="7.6 2.2 3.4 2.6" fill="none"/>
</g>
<path d="M130.00,542.40V545.60M149.45,542.40V545.60M168.90,542.40V545.60M188.35,542.40V545.60M207.80,542.40V545.60M126.80,539.00H130.00M126.80,521.50H130.00M126.80,504.00H130.00M126.80,486.50H130.00" stroke="#000" stroke-width="1.1" fill="none"/>
<rect x="130.00" y="486.50" width="77.80" height="55.90" fill="none" stroke="#000" stroke-width="1.5"/>
<text transform="translate(123.80,543.85) scale(1.0,0.945)" text-anchor="end" font-weight="bold" font-size="16.5" stroke="#000" stroke-width="0.18">0.0</text>
<text transform="translate(123.80,526.35) scale(1.0,0.945)" text-anchor="end" font-weight="bold" font-size="16.5" stroke="#000" stroke-width="0.18">0.5</text>
<text transform="translate(123.80,508.85) scale(1.0,0.945)" text-anchor="end" font-weight="bold" font-size="16.5" stroke="#000" stroke-width="0.18">1.0</text>
<text transform="translate(123.80,491.35) scale(1.0,0.945)" text-anchor="end" font-weight="bold" font-size="16.5" stroke="#000" stroke-width="0.18">1.5</text>
<text x="129.90" y="483.40" font-weight="bold" font-size="16.5" stroke="#000" stroke-width="0.18">1e<tspan font-size="9.3" dy="-5.9">-5</tspan></text>
<text transform="translate(129.70,559.70) scale(1,1.08)" text-anchor="middle" font-size="15.2" stroke="#000" stroke-width="0.3">0</text>
<text transform="translate(148.75,559.70) scale(1,1.08)" text-anchor="middle" font-size="15.2" stroke="#000" stroke-width="0.3">5</text>
<text transform="translate(166.30,559.70) scale(1,1.08)" text-anchor="middle" font-size="15.2" stroke="#000" stroke-width="0.3">10</text>
<text transform="translate(186.75,559.70) scale(1,1.08)" text-anchor="middle" font-size="15.2" stroke="#000" stroke-width="0.3">15</text>
<text transform="translate(208.30,559.70) scale(1,1.08)" text-anchor="middle" font-size="15.2" stroke="#000" stroke-width="0.3">20</text>
<clipPath id="c_r6c2"><rect x="248.50" y="486.90" width="77.50" height="55.50"/></clipPath>
<g clip-path="url(#c_r6c2)">
<path d="M282.6,532.3 L283.1,531.0 L283.7,530.2 L284.2,530.3 L284.8,530.6 L285.3,530.8 L285.9,530.9 L286.4,530.9 L287.0,530.9 L287.5,530.9 L288.1,530.9 L288.6,531.0 L289.2,531.2 L289.7,531.5 L290.3,531.8 L290.8,532.2 L291.4,532.7 L291.9,533.2 L292.5,533.5 L293.0,533.8 L293.6,534.0 L294.1,534.2 L294.7,534.4 L295.2,534.5 L295.8,534.7 L296.3,534.8 L296.9,534.9 L297.4,535.1 L298.0,535.2 L298.5,535.3 L299.1,535.4 L299.6,535.5 L300.2,535.6 L300.7,535.7 L301.3,535.8 L301.8,535.9 L302.4,536.0 L302.9,536.1 L303.5,536.1 L304.0,536.2 L304.6,536.2 L305.1,536.3 L305.7,536.3 L306.2,536.4 L306.8,536.4 L307.3,536.5 L307.9,536.5 L308.4,536.6 L309.0,536.6 L309.5,536.7 L310.1,536.7 L310.6,536.7 L311.2,536.8 L311.7,536.8 L312.3,536.9 L312.8,536.9 L313.4,536.9 L313.9,536.9 L314.5,537.0 L315.0,537.0 L315.6,537.0 L316.1,537.0 L316.7,537.1 L317.2,537.1 L317.8,537.1 L318.3,537.1 L318.9,537.1 L319.4,537.1 L320.0,537.1 L320.5,537.1 L321.1,537.1 L321.6,537.1 L322.2,537.1 L322.7,537.1 L323.3,537.1 L323.8,537.1 L324.4,537.1 L324.9,537.1 L325.5,537.1 L326.0,537.1 L326.0,538.6 L325.5,538.6 L324.9,538.6 L324.4,538.6 L323.8,538.6 L323.3,538.6 L322.7,538.6 L322.2,538.6 L321.6,538.6 L321.1,538.6 L320.5,538.6 L320.0,538.6 L319.4,538.6 L318.9,538.6 L318.3,538.6 L317.8,538.6 L317.2,538.6 L316.7,538.6 L316.1,538.6 L315.6,538.6 L315.0,538.6 L314.5,538.6 L313.9,538.6 L313.4,538.6 L312.8,538.5 L312.3,538.5 L311.7,538.5 L311.2,538.4 L310.6,538.4 L310.1,538.4 L309.5,538.3 L309.0,538.3 L308.4,538.2 L307.9,538.2 L307.3,538.1 L306.8,538.1 L306.2,538.0 L305.7,538.0 L305.1,537.9 L304.6,537.9 L304.0,537.8 L303.5,537.8 L302.9,537.7 L302.4,537.7 L301.8,537.6 L301.3,537.5 L300.7,537.4 L300.2,537.3 L299.6,537.2 L299.1,537.1 L298.5,536.9 L298.0,536.8 L297.4,536.7 L296.9,536.6 L296.3,536.5 L295.8,536.3 L295.2,536.2 L294.7,536.0 L294.1,535.9 L293.6,535.7 L293.0,535.5 L292.5,535.2 L291.9,534.8 L291.4,534.3 L290.8,533.8 L290.3,533.4 L289.7,533.1 L289.2,532.9 L288.6,532.6 L288.1,532.5 L287.5,532.5 L287.0,532.5 L286.4,532.5 L285.9,532.5 L285.3,532.5 L284.8,532.2 L284.2,532.0 L283.7,531.9 L283.1,532.6 L282.6,533.9Z" fill="rgba(242,95,95,0.48)" stroke="none"/>
<path d="M282.6,531.0 L283.1,531.0 L283.7,531.0 L284.2,531.0 L284.8,531.3 L285.3,531.6 L285.9,531.7 L286.4,531.5 L287.0,531.3 L287.5,531.1 L288.1,531.0 L288.6,531.2 L289.2,531.5 L289.7,532.0 L290.3,532.4 L290.8,532.7 L291.4,533.0 L291.9,533.4 L292.5,533.7 L293.0,534.0 L293.6,534.3 L294.1,534.6 L294.7,534.8 L295.2,535.0 L295.8,535.2 L296.3,535.2 L296.9,535.3 L297.4,535.4 L298.0,535.4 L298.5,535.5 L299.1,535.5 L299.6,535.6 L300.2,535.7 L300.7,535.8 L301.3,535.9 L301.8,536.0 L302.4,536.1 L302.9,536.2 L303.5,536.3 L304.0,536.3 L304.6,536.4 L305.1,536.4 L305.7,536.5 L306.2,536.5 L306.8,536.5 L307.3,536.6 L307.9,536.7 L308.4,536.7 L309.0,536.8 L309.5,536.9 L310.1,536.9 L310.6,537.0 L311.2,537.0 L311.7,537.1 L312.3,537.1 L312.8,537.2 L313.4,537.2 L313.9,537.2 L314.5,537.2 L315.0,537.2 L315.6,537.2 L316.1,537.2 L316.7,537.2 L317.2,537.2 L317.8,537.2 L318.3,537.2 L318.9,537.2 L319.4,537.2 L320.0,537.2 L320.5,537.2 L321.1,537.2 L321.6,537.2 L322.2,537.2 L322.7,537.2 L323.3,537.2 L323.8,537.2 L324.4,537.2 L324.9,537.2 L325.5,537.2 L326.0,537.2 L326.0,538.6 L325.5,538.6 L324.9,538.6 L324.4,538.6 L323.8,538.6 L323.3,538.6 L322.7,538.6 L322.2,538.6 L321.6,538.6 L321.1,538.6 L320.5,538.6 L320.0,538.6 L319.4,538.6 L318.9,538.6 L318.3,538.6 L317.8,538.6 L317.2,538.6 L316.7,538.6 L316.1,538.6 L315.6,538.6 L315.0,538.6 L314.5,538.6 L313.9,538.6 L313.4,538.6 L312.8,538.5 L312.3,538.5 L311.7,538.5 L311.2,538.4 L310.6,538.4 L310.1,538.3 L309.5,538.2 L309.0,538.2 L308.4,538.1 L307.9,538.0 L307.3,538.0 L306.8,537.9 L306.2,537.9 L305.7,537.8 L305.1,537.8 L304.6,537.7 L304.0,537.7 L303.5,537.6 L302.9,537.6 L302.4,537.5 L301.8,537.4 L301.3,537.3 L300.7,537.2 L300.2,537.1 L299.6,537.0 L299.1,536.9 L298.5,536.8 L298.0,536.8 L297.4,536.7 L296.9,536.7 L296.3,536.6 L295.8,536.5 L295.2,536.4 L294.7,536.2 L294.1,535.9 L293.6,535.6 L293.0,535.3 L292.5,535.1 L291.9,534.7 L291.4,534.4 L290.8,534.1 L290.3,533.7 L289.7,533.3 L289.2,532.9 L288.6,532.6 L288.1,532.4 L287.5,532.5 L287.0,532.7 L286.4,532.9 L285.9,533.1 L285.3,533.0 L284.8,532.7 L284.2,532.4 L283.7,532.4 L283.1,532.4 L282.6,532.4Z" fill="rgba(95,95,242,0.48)" stroke="none"/>
<path d="M267.88,486.90V542.40M287.25,486.90V542.40M306.62,486.90V542.40" stroke="#000" stroke-width="1.15" stroke-dasharray="1.4 0.7" fill="none"/>
<path d="M248.50,538.60H326.00M248.50,521.38H326.00M248.50,504.15H326.00" stroke="#000" stroke-width="1.45" stroke-dasharray="1.6 0.6" fill="none"/>
<path d="M248.5,538.6 L248.8,538.5 L249.1,538.2 L249.5,537.7 L249.8,537.0 L250.1,536.1 L250.4,535.2 L250.8,532.8 L251.1,528.5 L251.4,523.2 L251.7,517.9 L252.1,513.7 L252.4,509.5 L252.7,505.5 L253.0,503.0 L253.3,503.0 L253.7,504.0 L254.0,505.6 L254.3,507.6 L254.6,511.2 L255.0,516.6 L255.3,522.1 L255.6,526.4 L255.9,530.6 L256.2,534.2 L256.6,536.4 L256.9,536.9 L257.2,537.4 L257.5,537.7 L257.9,537.8 L258.2,537.9 L258.5,537.9 L258.8,537.7 L259.2,537.6 L259.5,537.4 L259.8,537.3 L260.1,537.2 L260.4,537.2 L260.8,537.2 L261.1,537.2 L261.4,537.2 L261.7,537.2 L262.1,537.2 L262.4,537.2 L262.7,537.2 L263.0,537.2 L263.4,537.2 L263.7,537.2 L264.0,537.2 L264.3,537.2 L264.6,537.2 L265.0,537.2 L265.3,537.2 L265.6,537.2 L265.9,537.2 L266.3,537.2 L266.6,537.2 L266.9,537.2 L267.2,537.2 L267.6,537.2 L267.9,537.2 L268.2,537.2 L268.5,537.2 L268.8,537.3 L269.2,537.3 L269.5,537.3 L269.8,537.4 L270.1,537.4 L270.5,537.4 L270.8,537.5 L271.1,537.5 L271.4,537.6 L271.8,537.6 L272.1,537.7 L272.4,537.7 L272.7,537.8 L273.0,537.8 L273.4,537.9 L273.7,537.9 L274.0,537.9 L274.3,538.0 L274.7,538.0 L275.0,538.1 L275.3,538.1 L275.6,538.2 L275.9,538.2 L276.3,538.2 L276.6,538.3 L276.9,538.3 L277.2,538.4 L277.6,538.4 L277.9,538.4 L278.2,538.5 L278.5,538.5 L278.9,538.5 L279.2,538.5 L279.5,538.6 L279.8,538.6 L280.1,538.6 L280.5,538.6 L280.8,538.5 L281.1,538.0 L281.4,537.1 L281.8,535.9 L282.1,534.7 L282.4,533.6 L282.7,532.8 L283.1,532.0 L283.4,531.4 L283.7,531.0 L284.0,531.1 L284.3,531.2 L284.7,531.3 L285.0,531.5 L285.3,531.6 L285.6,531.7 L286.0,531.7 L286.3,531.7 L286.6,531.7 L286.9,531.7 L287.2,531.7 L287.6,531.7 L287.9,531.7 L288.2,531.7 L288.5,531.8 L288.9,531.9 L289.2,532.0 L289.5,532.2 L289.8,532.3 L290.2,532.5 L290.5,532.7 L290.8,533.0 L291.1,533.3 L291.4,533.6 L291.8,533.8 L292.1,534.1 L292.4,534.3 L292.7,534.5 L293.1,534.6 L293.4,534.8 L293.7,534.9 L294.0,535.0 L294.4,535.1 L294.7,535.2 L295.0,535.3 L295.3,535.4 L295.6,535.5 L296.0,535.6 L296.3,535.6 L296.6,535.7 L296.9,535.8 L297.3,535.9 L297.6,535.9 L297.9,536.0 L298.2,536.1 L298.6,536.1 L298.9,536.2 L299.2,536.3 L299.5,536.3 L299.8,536.4 L300.2,536.4 L300.5,536.5 L300.8,536.6 L301.1,536.6 L301.5,536.7 L301.8,536.7 L302.1,536.8 L302.4,536.8 L302.8,536.9 L303.1,536.9 L303.4,536.9 L303.7,537.0 L304.0,537.0 L304.4,537.0 L304.7,537.1 L305.0,537.1 L305.3,537.1 L305.7,537.1 L306.0,537.2 L306.3,537.2 L306.6,537.2 L306.9,537.3 L307.3,537.3 L307.6,537.3 L307.9,537.3 L308.2,537.4 L308.6,537.4 L308.9,537.4 L309.2,537.5 L309.5,537.5 L309.9,537.5 L310.2,537.5 L310.5,537.6 L310.8,537.6 L311.1,537.6 L311.5,537.6 L311.8,537.6 L312.1,537.7 L312.4,537.7 L312.8,537.7 L313.1,537.7 L313.4,537.7 L313.7,537.8 L314.1,537.8 L314.4,537.8 L314.7,537.8 L315.0,537.8 L315.3,537.8 L315.7,537.9 L316.0,537.9 L316.3,537.9 L316.6,537.9 L317.0,537.9 L317.3,537.9 L317.6,537.9 L317.9,537.9 L318.2,537.9 L318.6,537.9 L318.9,537.9 L319.2,537.9 L319.5,537.9 L319.9,537.9 L320.2,537.9 L320.5,537.9 L320.8,537.9 L321.2,537.9 L321.5,537.9 L321.8,537.9 L322.1,537.9 L322.4,537.9 L322.8,537.9 L323.1,537.9 L323.4,537.9 L323.7,537.9 L324.1,537.9 L324.4,537.9 L324.7,537.9 L325.0,537.9 L325.4,537.9 L325.7,537.9 L326.0,537.9" fill="none" stroke="#d61c1c" stroke-width="1.35" stroke-linejoin="round"/>
<path d="M248.5,538.6 L248.8,538.6 L249.1,538.6 L249.5,538.6 L249.8,538.6 L250.1,538.6 L250.4,538.6 L250.8,538.6 L251.1,538.6 L251.4,538.3 L251.7,536.6 L252.1,534.1 L252.4,531.7 L252.7,529.1 L253.0,526.1 L253.3,523.9 L253.7,523.6 L254.0,525.5 L254.3,528.5 L254.6,531.3 L255.0,533.6 L255.3,536.1 L255.6,538.0 L255.9,538.6 L256.2,538.6 L256.6,538.6 L256.9,538.6 L257.2,538.6 L257.5,538.6 L257.9,538.6 L258.2,538.6 L258.5,538.6 L258.8,538.6 L259.2,538.6 L259.5,538.6 L259.8,538.6 L260.1,538.6 L260.4,538.6 L260.8,538.6 L261.1,538.6 L261.4,538.6 L261.7,538.6 L262.1,538.6 L262.4,538.6 L262.7,538.6 L263.0,538.6 L263.4,538.6 L263.7,538.6 L264.0,538.6 L264.3,538.6 L264.6,538.6 L265.0,538.6 L265.3,538.6 L265.6,538.6 L265.9,538.6 L266.3,538.6 L266.6,538.6 L266.9,538.6 L267.2,538.6 L267.6,538.6 L267.9,538.6 L268.2,538.6 L268.5,538.6 L268.8,538.6 L269.2,538.6 L269.5,538.6 L269.8,538.6 L270.1,538.6 L270.5,538.6 L270.8,538.6 L271.1,538.6 L271.4,538.6 L271.8,538.6 L272.1,538.6 L272.4,538.6 L272.7,538.6 L273.0,538.6 L273.4,538.6 L273.7,538.6 L274.0,538.6 L274.3,538.6 L274.7,538.6 L275.0,538.6 L275.3,538.6 L275.6,538.6 L275.9,538.6 L276.3,538.6 L276.6,538.6 L276.9,538.6 L277.2,538.6 L277.6,538.6 L277.9,538.6 L278.2,538.6 L278.5,538.6 L278.9,538.6 L279.2,538.6 L279.5,538.6 L279.8,538.6 L280.1,538.6 L280.5,538.6 L280.8,538.5 L281.1,537.6 L281.4,536.2 L281.8,534.5 L282.1,532.9 L282.4,531.9 L282.7,531.7 L283.1,531.7 L283.4,531.7 L283.7,531.7 L284.0,531.7 L284.3,531.7 L284.7,531.9 L285.0,532.1 L285.3,532.3 L285.6,532.4 L286.0,532.4 L286.3,532.3 L286.6,532.2 L286.9,532.0 L287.2,531.9 L287.6,531.8 L287.9,531.7 L288.2,531.7 L288.5,531.8 L288.9,532.0 L289.2,532.2 L289.5,532.5 L289.8,532.7 L290.2,533.0 L290.5,533.2 L290.8,533.4 L291.1,533.6 L291.4,533.8 L291.8,534.0 L292.1,534.1 L292.4,534.3 L292.7,534.5 L293.1,534.7 L293.4,534.8 L293.7,535.0 L294.0,535.2 L294.4,535.3 L294.7,535.5 L295.0,535.6 L295.3,535.7 L295.6,535.8 L296.0,535.9 L296.3,535.9 L296.6,536.0 L296.9,536.0 L297.3,536.0 L297.6,536.1 L297.9,536.1 L298.2,536.1 L298.6,536.1 L298.9,536.2 L299.2,536.2 L299.5,536.3 L299.8,536.3 L300.2,536.4 L300.5,536.5 L300.8,536.5 L301.1,536.6 L301.5,536.7 L301.8,536.7 L302.1,536.8 L302.4,536.8 L302.8,536.9 L303.1,536.9 L303.4,536.9 L303.7,537.0 L304.0,537.0 L304.4,537.0 L304.7,537.1 L305.0,537.1 L305.3,537.1 L305.7,537.1 L306.0,537.2 L306.3,537.2 L306.6,537.2 L306.9,537.3 L307.3,537.3 L307.6,537.3 L307.9,537.4 L308.2,537.4 L308.6,537.4 L308.9,537.5 L309.2,537.5 L309.5,537.5 L309.9,537.6 L310.2,537.6 L310.5,537.7 L310.8,537.7 L311.1,537.7 L311.5,537.8 L311.8,537.8 L312.1,537.8 L312.4,537.8 L312.8,537.9 L313.1,537.9 L313.4,537.9 L313.7,537.9 L314.1,537.9 L314.4,537.9 L314.7,537.9 L315.0,537.9 L315.3,537.9 L315.7,537.9 L316.0,537.9 L316.3,537.9 L316.6,537.9 L317.0,537.9 L317.3,537.9 L317.6,537.9 L317.9,537.9 L318.2,537.9 L318.6,537.9 L318.9,537.9 L319.2,537.9 L319.5,537.9 L319.9,537.9 L320.2,537.9 L320.5,537.9 L320.8,537.9 L321.2,537.9 L321.5,537.9 L321.8,537.9 L322.1,537.9 L322.4,537.9 L322.8,537.9 L323.1,537.9 L323.4,537.9 L323.7,537.9 L324.1,537.9 L324.4,537.9 L324.7,537.9 L325.0,537.9 L325.4,537.9 L325.7,537.9 L326.0,537.9" fill="none" stroke="#1414d4" stroke-width="1.55" stroke-linejoin="round"/>
<path d="M253.54,486.90V542.40" stroke="#000" stroke-width="1.4" stroke-dasharray="7.6 3.7" fill="none"/>
<path d="M283.38,486.90V542.40" stroke="#c014c0" stroke-width="1.8" stroke-dasharray="7.6 2.2 3.4 2.6" fill="none"/>
</g>
<path d="M248.50,542.40V545.60M267.88,542.40V545.60M287.25,542.40V545.60M306.62,542.40V545.60M326.00,542.40V545.60M245.30,538.60H248.50M245.30,521.38H248.50M245.30,504.15H248.50M245.30,486.93H248.50" stroke="#000" stroke-width="1.1" fill="none"/>
<rect x="248.50" y="486.90" width="77.50" height="55.50" fill="none" stroke="#000" stroke-width="1.5"/>
<text transform="translate(243.90,543.45) scale(1.0,0.982)" text-anchor="end" font-weight="bold" font-size="16.5" stroke="#000" stroke-width="0.18">0.00</text>
<text transform="translate(243.90,526.23) scale(1.0,0.982)" text-anchor="end" font-weight="bold" font-size="16.5" stroke="#000" stroke-width="0.18">0.25</text>
<text transform="translate(243.90,509.00) scale(1.0,0.982)" text-anchor="end" font-weight="bold" font-size="16.5" stroke="#000" stroke-width="0.18">0.50</text>
<text transform="translate(243.90,491.78) scale(1.0,0.982)" text-anchor="end" font-weight="bold" font-size="16.5" stroke="#000" stroke-width="0.18">0.75</text>
<text x="249.00" y="483.80" font-weight="bold" font-size="16.5" stroke="#000" stroke-width="0.18">1e<tspan font-size="9.3" dy="-5.9">-4</tspan></text>
<text transform="translate(248.20,559.70) scale(1,1.08)" text-anchor="middle" font-size="15.2" stroke="#000" stroke-width="0.3">0</text>
<text transform="translate(267.18,559.70) scale(1,1.08)" text-anchor="middle" font-size="15.2" stroke="#000" stroke-width="0.3">5</text>
<text transform="translate(284.65,559.70) scale(1,1.08)" text-anchor="middle" font-size="15.2" stroke="#000" stroke-width="0.3">10</text>
<text transform="translate(305.02,559.70) scale(1,1.08)" text-anchor="middle" font-size="15.2" stroke="#000" stroke-width="0.3">15</text>
<text transform="translate(326.50,559.70) scale(1,1.08)" text-anchor="middle" font-size="15.2" stroke="#000" stroke-width="0.3">20</text>
<clipPath id="c_r6c3"><rect x="366.60" y="487.25" width="77.90" height="55.05"/></clipPath>
<g clip-path="url(#c_r6c3)">
<rect x="366.60" y="539.60" width="77.90" height="2.70" fill="#c8c8d0"/>
<path d="M386.08,487.25V542.30M405.55,487.25V542.30M425.02,487.25V542.30" stroke="#000" stroke-width="1.15" stroke-dasharray="1.4 0.7" fill="none"/>
<path d="M366.60,539.60H444.50M366.60,519.44H444.50M366.60,499.28H444.50" stroke="#000" stroke-width="1.45" stroke-dasharray="1.6 0.6" fill="none"/>
<path d="M366.6,539.6 L366.9,539.6 L367.2,539.5 L367.6,539.4 L367.9,539.2 L368.2,538.9 L368.5,538.6 L368.9,536.8 L369.2,532.9 L369.5,527.8 L369.8,522.3 L370.2,514.5 L370.5,507.3 L370.8,501.3 L371.1,496.8 L371.5,496.9 L371.8,500.0 L372.1,504.2 L372.4,511.0 L372.8,518.3 L373.1,523.6 L373.4,528.5 L373.7,532.4 L374.1,534.9 L374.4,536.8 L374.7,538.2 L375.0,539.0 L375.4,539.1 L375.7,539.2 L376.0,539.2 L376.3,539.3 L376.7,539.3 L377.0,539.4 L377.3,539.4 L377.6,539.4 L378.0,539.5 L378.3,539.5 L378.6,539.5 L378.9,539.5 L379.3,539.5 L379.6,539.6 L379.9,539.6 L380.2,539.6 L380.6,539.6 L380.9,539.6 L381.2,539.6 L381.5,539.6 L381.9,539.6 L382.2,539.6 L382.5,539.5 L382.8,539.4 L383.2,539.1 L383.5,538.8 L383.8,538.4 L384.1,538.1 L384.5,537.6 L384.8,537.0 L385.1,536.3 L385.4,535.6 L385.8,535.1 L386.1,535.0 L386.4,535.1 L386.7,535.4 L387.0,535.8 L387.4,536.2 L387.7,536.7 L388.0,537.1 L388.3,537.6 L388.7,538.1 L389.0,538.6 L389.3,538.9 L389.6,539.1 L390.0,539.2 L390.3,539.3 L390.6,539.4 L390.9,539.5 L391.3,539.6 L391.6,539.6 L391.9,539.6 L392.2,539.6 L392.6,539.6 L392.9,539.6 L393.2,539.6 L393.5,539.6 L393.9,539.6 L394.2,539.6 L394.5,539.6 L394.8,539.6 L395.2,539.6 L395.5,539.6 L395.8,539.6 L396.1,539.6 L396.5,539.6 L396.8,539.6 L397.1,539.6 L397.4,539.6 L397.8,539.6 L398.1,539.6 L398.4,539.6 L398.7,539.6 L399.1,539.6 L399.4,539.6 L399.7,539.6 L400.0,539.6 L400.4,539.6 L400.7,539.6 L401.0,539.6 L401.3,539.6 L401.7,539.6 L402.0,539.6 L402.3,539.6 L402.6,539.6 L403.0,539.6 L403.3,539.6 L403.6,539.6 L403.9,539.6 L404.3,539.6 L404.6,539.6 L404.9,539.6 L405.2,539.6 L405.6,539.6 L405.9,539.6 L406.2,539.6 L406.5,539.6 L406.8,539.6 L407.2,539.6 L407.5,539.6 L407.8,539.6 L408.1,539.6 L408.5,539.6 L408.8,539.6 L409.1,539.6 L409.4,539.6 L409.8,539.6 L410.1,539.6 L410.4,539.6 L410.7,539.6 L411.1,539.6 L411.4,539.6 L411.7,539.6 L412.0,539.6 L412.4,539.6 L412.7,539.6 L413.0,539.6 L413.3,539.6 L413.7,539.6 L414.0,539.6 L414.3,539.6 L414.6,539.6 L415.0,539.6 L415.3,539.6 L415.6,539.6 L415.9,539.6 L416.3,539.6 L416.6,539.6 L416.9,539.6 L417.2,539.6 L417.6,539.6 L417.9,539.6 L418.2,539.6 L418.5,539.6 L418.9,539.6 L419.2,539.6 L419.5,539.6 L419.8,539.6 L420.2,539.6 L420.5,539.6 L420.8,539.6 L421.1,539.6 L421.5,539.6 L421.8,539.6 L422.1,539.6 L422.4,539.6 L422.8,539.6 L423.1,539.6 L423.4,539.6 L423.7,539.6 L424.1,539.6 L424.4,539.6 L424.7,539.6 L425.0,539.6 L425.3,539.6 L425.7,539.6 L426.0,539.6 L426.3,539.6 L426.6,539.6 L427.0,539.6 L427.3,539.6 L427.6,539.6 L427.9,539.6 L428.3,539.6 L428.6,539.6 L428.9,539.6 L429.2,539.6 L429.6,539.6 L429.9,539.6 L430.2,539.6 L430.5,539.6 L430.9,539.6 L431.2,539.6 L431.5,539.6 L431.8,539.6 L432.2,539.6 L432.5,539.6 L432.8,539.6 L433.1,539.6 L433.5,539.6 L433.8,539.6 L434.1,539.6 L434.4,539.6 L434.8,539.6 L435.1,539.6 L435.4,539.6 L435.7,539.6 L436.1,539.6 L436.4,539.6 L436.7,539.6 L437.0,539.6 L437.4,539.6 L437.7,539.6 L438.0,539.6 L438.3,539.6 L438.7,539.6 L439.0,539.6 L439.3,539.6 L439.6,539.6 L440.0,539.6 L440.3,539.6 L440.6,539.6 L440.9,539.6 L441.3,539.6 L441.6,539.6 L441.9,539.6 L442.2,539.6 L442.6,539.6 L442.9,539.6 L443.2,539.6 L443.5,539.6 L443.9,539.6 L444.2,539.6 L444.5,539.6" fill="none" stroke="#d61c1c" stroke-width="1.35" stroke-linejoin="round"/>
<path d="M366.6,539.6 L366.9,539.6 L367.2,539.5 L367.6,539.5 L367.9,539.4 L368.2,539.3 L368.5,539.1 L368.9,538.9 L369.2,538.7 L369.5,538.1 L369.8,536.2 L370.2,533.7 L370.5,531.3 L370.8,528.8 L371.1,526.7 L371.5,526.9 L371.8,528.8 L372.1,530.9 L372.4,533.1 L372.8,535.4 L373.1,537.1 L373.4,538.1 L373.7,538.9 L374.1,539.4 L374.4,539.6 L374.7,539.6 L375.0,539.6 L375.4,539.6 L375.7,539.6 L376.0,539.6 L376.3,539.6 L376.7,539.6 L377.0,539.6 L377.3,539.6 L377.6,539.6 L378.0,539.6 L378.3,539.6 L378.6,539.6 L378.9,539.6 L379.3,539.6 L379.6,539.6 L379.9,539.6 L380.2,539.6 L380.6,539.6 L380.9,539.6 L381.2,539.6 L381.5,539.6 L381.9,539.6 L382.2,539.6 L382.5,539.6 L382.8,539.6 L383.2,539.6 L383.5,539.6 L383.8,539.6 L384.1,539.6 L384.5,539.6 L384.8,539.6 L385.1,539.5 L385.4,539.3 L385.8,538.9 L386.1,538.8 L386.4,538.8 L386.7,539.0 L387.0,539.1 L387.4,539.2 L387.7,539.3 L388.0,539.4 L388.3,539.4 L388.7,539.4 L389.0,539.5 L389.3,539.5 L389.6,539.5 L390.0,539.5 L390.3,539.5 L390.6,539.5 L390.9,539.5 L391.3,539.5 L391.6,539.5 L391.9,539.5 L392.2,539.5 L392.6,539.5 L392.9,539.5 L393.2,539.5 L393.5,539.5 L393.9,539.5 L394.2,539.5 L394.5,539.5 L394.8,539.5 L395.2,539.5 L395.5,539.5 L395.8,539.5 L396.1,539.5 L396.5,539.5 L396.8,539.5 L397.1,539.5 L397.4,539.5 L397.8,539.5 L398.1,539.5 L398.4,539.4 L398.7,539.4 L399.1,539.4 L399.4,539.4 L399.7,539.4 L400.0,539.4 L400.4,539.4 L400.7,539.4 L401.0,539.4 L401.3,539.4 L401.7,539.4 L402.0,539.4 L402.3,539.3 L402.6,539.3 L403.0,539.2 L403.3,539.2 L403.6,539.1 L403.9,539.0 L404.3,538.9 L404.6,538.9 L404.9,538.8 L405.2,538.8 L405.6,538.8 L405.9,538.8 L406.2,538.8 L406.5,538.8 L406.8,538.8 L407.2,538.9 L407.5,538.9 L407.8,538.9 L408.1,539.0 L408.5,539.0 L408.8,539.0 L409.1,539.0 L409.4,539.1 L409.8,539.1 L410.1,539.1 L410.4,539.2 L410.7,539.2 L411.1,539.2 L411.4,539.3 L411.7,539.3 L412.0,539.3 L412.4,539.4 L412.7,539.4 L413.0,539.4 L413.3,539.4 L413.7,539.4 L414.0,539.4 L414.3,539.4 L414.6,539.4 L415.0,539.4 L415.3,539.4 L415.6,539.4 L415.9,539.4 L416.3,539.4 L416.6,539.4 L416.9,539.4 L417.2,539.4 L417.6,539.4 L417.9,539.4 L418.2,539.4 L418.5,539.4 L418.9,539.4 L419.2,539.4 L419.5,539.4 L419.8,539.4 L420.2,539.4 L420.5,539.4 L420.8,539.4 L421.1,539.4 L421.5,539.4 L421.8,539.4 L422.1,539.4 L422.4,539.4 L422.8,539.4 L423.1,539.4 L423.4,539.4 L423.7,539.4 L424.1,539.4 L424.4,539.4 L424.7,539.4 L425.0,539.4 L425.3,539.4 L425.7,539.4 L426.0,539.4 L426.3,539.4 L426.6,539.4 L427.0,539.4 L427.3,539.4 L427.6,539.4 L427.9,539.4 L428.3,539.4 L428.6,539.4 L428.9,539.4 L429.2,539.4 L429.6,539.4 L429.9,539.4 L430.2,539.4 L430.5,539.4 L430.9,539.4 L431.2,539.4 L431.5,539.4 L431.8,539.4 L432.2,539.4 L432.5,539.4 L432.8,539.4 L433.1,539.4 L433.5,539.4 L433.8,539.4 L434.1,539.4 L434.4,539.4 L434.8,539.4 L435.1,539.4 L435.4,539.4 L435.7,539.4 L436.1,539.4 L436.4,539.4 L436.7,539.4 L437.0,539.4 L437.4,539.4 L437.7,539.4 L438.0,539.4 L438.3,539.4 L438.7,539.4 L439.0,539.4 L439.3,539.4 L439.6,539.4 L440.0,539.4 L440.3,539.4 L440.6,539.4 L440.9,539.4 L441.3,539.4 L441.6,539.4 L441.9,539.4 L442.2,539.4 L442.6,539.4 L442.9,539.4 L443.2,539.4 L443.5,539.4 L443.9,539.4 L444.2,539.4 L444.5,539.4" fill="none" stroke="#1414d4" stroke-width="1.55" stroke-linejoin="round"/>
<path d="M371.90,487.25V542.30" stroke="#000" stroke-width="1.4" stroke-dasharray="7.6 3.7" fill="none"/>
<path d="M401.66,487.25V542.30" stroke="#c014c0" stroke-width="1.8" stroke-dasharray="7.6 2.2 3.4 2.6" fill="none"/>
</g>
<path d="M366.60,542.30V545.50M386.08,542.30V545.50M405.55,542.30V545.50M425.02,542.30V545.50M444.50,542.30V545.50M363.40,539.60H366.60M363.40,519.44H366.60M363.40,499.28H366.60" stroke="#000" stroke-width="1.1" fill="none"/>
<rect x="366.60" y="487.25" width="77.90" height="55.05" fill="none" stroke="#000" stroke-width="1.5"/>
<text transform="translate(363.40,544.55) scale(1.0,0.964)" text-anchor="end" font-weight="bold" font-size="16.5" stroke="#000" stroke-width="0.18">0.0</text>
<text transform="translate(363.40,524.39) scale(1.0,0.964)" text-anchor="end" font-weight="bold" font-size="16.5" stroke="#000" stroke-width="0.18">2.0</text>
<text transform="translate(363.40,504.23) scale(1.0,0.964)" text-anchor="end" font-weight="bold" font-size="16.5" stroke="#000" stroke-width="0.18">4.0</text>
<text x="367.50" y="484.15" font-weight="bold" font-size="16.5" stroke="#000" stroke-width="0.18">1e<tspan font-size="9.3" dy="-5.9">-4</tspan></text>
<text transform="translate(366.30,559.60) scale(1,1.08)" text-anchor="middle" font-size="15.2" stroke="#000" stroke-width="0.3">0</text>
<text transform="translate(385.38,559.60) scale(1,1.08)" text-anchor="middle" font-size="15.2" stroke="#000" stroke-width="0.3">5</text>
<text transform="translate(402.95,559.60) scale(1,1.08)" text-anchor="middle" font-size="15.2" stroke="#000" stroke-width="0.3">10</text>
<text transform="translate(423.42,559.60) scale(1,1.08)" text-anchor="middle" font-size="15.2" stroke="#000" stroke-width="0.3">15</text>
<text transform="translate(445.00,559.60) scale(1,1.08)" text-anchor="middle" font-size="15.2" stroke="#000" stroke-width="0.3">20</text>
<clipPath id="c_r6c4"><rect x="484.75" y="487.20" width="78.05" height="55.10"/></clipPath>
<g clip-path="url(#c_r6c4)">
<rect x="484.75" y="539.60" width="78.05" height="2.70" fill="#c8c8d0"/>
<path d="M504.26,487.20V542.30M523.77,487.20V542.30M543.29,487.20V542.30" stroke="#000" stroke-width="1.15" stroke-dasharray="1.4 0.7" fill="none"/>
<path d="M484.75,539.60H562.80M484.75,519.60H562.80M484.75,499.60H562.80" stroke="#000" stroke-width="1.45" stroke-dasharray="1.6 0.6" fill="none"/>
<path d="M484.8,539.6 L485.1,539.6 L485.4,539.5 L485.7,539.4 L486.1,539.2 L486.4,538.9 L486.7,538.6 L487.0,537.2 L487.4,534.1 L487.7,530.1 L488.0,525.5 L488.3,518.4 L488.7,512.6 L489.0,509.1 L489.3,506.8 L489.6,507.4 L490.0,511.1 L490.3,515.5 L490.6,521.2 L490.9,526.8 L491.3,530.4 L491.6,533.5 L491.9,535.9 L492.2,537.3 L492.6,538.2 L492.9,539.0 L493.2,539.4 L493.5,539.4 L493.9,539.4 L494.2,539.5 L494.5,539.5 L494.8,539.5 L495.2,539.5 L495.5,539.5 L495.8,539.5 L496.1,539.5 L496.5,539.5 L496.8,539.6 L497.1,539.6 L497.4,539.6 L497.8,539.6 L498.1,539.6 L498.4,539.6 L498.7,539.6 L499.1,539.6 L499.4,539.6 L499.7,539.6 L500.0,539.6 L500.4,539.6 L500.7,539.6 L501.0,539.6 L501.3,539.6 L501.7,539.3 L502.0,538.9 L502.3,538.3 L502.6,537.7 L503.0,536.9 L503.3,535.5 L503.6,533.9 L503.9,532.6 L504.3,532.0 L504.6,531.9 L504.9,531.8 L505.2,531.7 L505.6,531.8 L505.9,532.4 L506.2,533.4 L506.5,534.4 L506.9,535.3 L507.2,536.2 L507.5,537.1 L507.8,537.9 L508.2,538.4 L508.5,538.8 L508.8,539.1 L509.1,539.4 L509.5,539.6 L509.8,539.6 L510.1,539.6 L510.4,539.6 L510.8,539.6 L511.1,539.6 L511.4,539.6 L511.7,539.6 L512.1,539.6 L512.4,539.6 L512.7,539.6 L513.0,539.6 L513.4,539.6 L513.7,539.6 L514.0,539.6 L514.3,539.6 L514.7,539.6 L515.0,539.5 L515.3,539.5 L515.6,539.5 L516.0,539.5 L516.3,539.5 L516.6,539.5 L516.9,539.5 L517.3,539.5 L517.6,539.5 L517.9,539.5 L518.2,539.5 L518.6,539.4 L518.9,539.4 L519.2,539.4 L519.5,539.4 L519.9,539.4 L520.2,539.4 L520.5,539.3 L520.8,539.3 L521.2,539.2 L521.5,539.2 L521.8,539.1 L522.1,539.1 L522.5,539.0 L522.8,539.0 L523.1,538.9 L523.4,538.9 L523.8,538.9 L524.1,538.9 L524.4,538.9 L524.8,538.9 L525.1,538.9 L525.4,539.0 L525.7,539.0 L526.1,539.0 L526.4,539.0 L526.7,539.0 L527.0,539.1 L527.4,539.1 L527.7,539.1 L528.0,539.1 L528.3,539.1 L528.7,539.2 L529.0,539.2 L529.3,539.2 L529.6,539.3 L530.0,539.3 L530.3,539.3 L530.6,539.4 L530.9,539.4 L531.3,539.4 L531.6,539.4 L531.9,539.4 L532.2,539.4 L532.6,539.4 L532.9,539.4 L533.2,539.4 L533.5,539.4 L533.9,539.4 L534.2,539.4 L534.5,539.4 L534.8,539.4 L535.2,539.4 L535.5,539.4 L535.8,539.4 L536.1,539.4 L536.5,539.4 L536.8,539.4 L537.1,539.4 L537.4,539.4 L537.8,539.4 L538.1,539.4 L538.4,539.4 L538.7,539.4 L539.1,539.4 L539.4,539.4 L539.7,539.4 L540.0,539.4 L540.4,539.4 L540.7,539.4 L541.0,539.4 L541.3,539.4 L541.7,539.4 L542.0,539.4 L542.3,539.4 L542.6,539.4 L543.0,539.4 L543.3,539.4 L543.6,539.4 L543.9,539.4 L544.3,539.4 L544.6,539.4 L544.9,539.4 L545.2,539.4 L545.6,539.4 L545.9,539.4 L546.2,539.4 L546.5,539.4 L546.9,539.4 L547.2,539.4 L547.5,539.4 L547.8,539.4 L548.2,539.4 L548.5,539.4 L548.8,539.4 L549.1,539.4 L549.5,539.4 L549.8,539.4 L550.1,539.4 L550.4,539.4 L550.8,539.4 L551.1,539.4 L551.4,539.4 L551.7,539.4 L552.1,539.4 L552.4,539.4 L552.7,539.4 L553.0,539.4 L553.4,539.4 L553.7,539.4 L554.0,539.4 L554.3,539.4 L554.7,539.4 L555.0,539.4 L555.3,539.4 L555.6,539.4 L556.0,539.4 L556.3,539.4 L556.6,539.4 L556.9,539.4 L557.3,539.4 L557.6,539.4 L557.9,539.4 L558.2,539.4 L558.6,539.4 L558.9,539.4 L559.2,539.4 L559.5,539.4 L559.9,539.4 L560.2,539.4 L560.5,539.4 L560.8,539.4 L561.2,539.4 L561.5,539.4 L561.8,539.4 L562.1,539.4 L562.5,539.4 L562.8,539.4" fill="none" stroke="#d61c1c" stroke-width="1.35" stroke-linejoin="round"/>
<path d="M484.8,539.6 L485.1,539.6 L485.4,539.6 L485.7,539.5 L486.1,539.5 L486.4,539.4 L486.7,539.3 L487.0,539.1 L487.4,538.5 L487.7,536.8 L488.0,534.5 L488.3,532.1 L488.7,528.6 L489.0,526.1 L489.3,526.4 L489.6,527.7 L490.0,529.3 L490.3,531.6 L490.6,534.3 L490.9,536.3 L491.3,537.6 L491.6,538.6 L491.9,539.4 L492.2,539.6 L492.6,539.6 L492.9,539.6 L493.2,539.6 L493.5,539.6 L493.9,539.6 L494.2,539.6 L494.5,539.6 L494.8,539.6 L495.2,539.6 L495.5,539.6 L495.8,539.6 L496.1,539.6 L496.5,539.6 L496.8,539.6 L497.1,539.6 L497.4,539.6 L497.8,539.6 L498.1,539.6 L498.4,539.6 L498.7,539.6 L499.1,539.6 L499.4,539.6 L499.7,539.6 L500.0,539.6 L500.4,539.6 L500.7,539.6 L501.0,539.6 L501.3,539.6 L501.7,539.6 L502.0,539.6 L502.3,539.6 L502.6,539.6 L503.0,539.5 L503.3,539.1 L503.6,538.5 L503.9,538.0 L504.3,537.6 L504.6,537.4 L504.9,537.2 L505.2,537.1 L505.6,537.2 L505.9,537.7 L506.2,538.5 L506.5,539.0 L506.9,539.2 L507.2,539.4 L507.5,539.5 L507.8,539.6 L508.2,539.6 L508.5,539.6 L508.8,539.6 L509.1,539.6 L509.5,539.6 L509.8,539.6 L510.1,539.6 L510.4,539.6 L510.8,539.6 L511.1,539.6 L511.4,539.6 L511.7,539.6 L512.1,539.6 L512.4,539.6 L512.7,539.6 L513.0,539.6 L513.4,539.6 L513.7,539.6 L514.0,539.5 L514.3,539.5 L514.7,539.5 L515.0,539.5 L515.3,539.5 L515.6,539.5 L516.0,539.5 L516.3,539.5 L516.6,539.5 L516.9,539.5 L517.3,539.5 L517.6,539.5 L517.9,539.5 L518.2,539.5 L518.6,539.4 L518.9,539.4 L519.2,539.4 L519.5,539.4 L519.9,539.4 L520.2,539.4 L520.5,539.4 L520.8,539.3 L521.2,539.3 L521.5,539.2 L521.8,539.2 L522.1,539.1 L522.5,539.1 L522.8,539.1 L523.1,539.0 L523.4,539.0 L523.8,539.0 L524.1,539.0 L524.4,539.0 L524.8,539.0 L525.1,539.0 L525.4,539.0 L525.7,539.0 L526.1,539.0 L526.4,539.1 L526.7,539.1 L527.0,539.1 L527.4,539.1 L527.7,539.1 L528.0,539.1 L528.3,539.1 L528.7,539.2 L529.0,539.2 L529.3,539.2 L529.6,539.3 L530.0,539.3 L530.3,539.3 L530.6,539.4 L530.9,539.4 L531.3,539.4 L531.6,539.4 L531.9,539.4 L532.2,539.4 L532.6,539.4 L532.9,539.4 L533.2,539.4 L533.5,539.4 L533.9,539.4 L534.2,539.4 L534.5,539.4 L534.8,539.4 L535.2,539.4 L535.5,539.4 L535.8,539.4 L536.1,539.4 L536.5,539.4 L536.8,539.4 L537.1,539.4 L537.4,539.4 L537.8,539.4 L538.1,539.4 L538.4,539.4 L538.7,539.4 L539.1,539.4 L539.4,539.4 L539.7,539.4 L540.0,539.4 L540.4,539.4 L540.7,539.4 L541.0,539.4 L541.3,539.4 L541.7,539.4 L542.0,539.4 L542.3,539.4 L542.6,539.4 L543.0,539.4 L543.3,539.4 L543.6,539.4 L543.9,539.4 L544.3,539.4 L544.6,539.4 L544.9,539.4 L545.2,539.4 L545.6,539.4 L545.9,539.4 L546.2,539.4 L546.5,539.4 L546.9,539.4 L547.2,539.4 L547.5,539.4 L547.8,539.4 L548.2,539.4 L548.5,539.4 L548.8,539.4 L549.1,539.4 L549.5,539.4 L549.8,539.4 L550.1,539.4 L550.4,539.4 L550.8,539.4 L551.1,539.4 L551.4,539.4 L551.7,539.4 L552.1,539.4 L552.4,539.4 L552.7,539.4 L553.0,539.4 L553.4,539.4 L553.7,539.4 L554.0,539.4 L554.3,539.4 L554.7,539.4 L555.0,539.4 L555.3,539.4 L555.6,539.4 L556.0,539.4 L556.3,539.4 L556.6,539.4 L556.9,539.4 L557.3,539.4 L557.6,539.4 L557.9,539.4 L558.2,539.4 L558.6,539.4 L558.9,539.4 L559.2,539.4 L559.5,539.4 L559.9,539.4 L560.2,539.4 L560.5,539.4 L560.8,539.4 L561.2,539.4 L561.5,539.4 L561.8,539.4 L562.1,539.4 L562.5,539.4 L562.8,539.4" fill="none" stroke="#1414d4" stroke-width="1.55" stroke-linejoin="round"/>
<path d="M489.63,487.20V542.30" stroke="#000" stroke-width="1.4" stroke-dasharray="7.6 3.7" fill="none"/>
<path d="M519.87,487.20V542.30" stroke="#c014c0" stroke-width="1.8" stroke-dasharray="7.6 2.2 3.4 2.6" fill="none"/>
</g>
<path d="M484.75,542.30V545.50M504.26,542.30V545.50M523.77,542.30V545.50M543.29,542.30V545.50M562.80,542.30V545.50M481.55,539.60H484.75M481.55,519.60H484.75M481.55,499.60H484.75" stroke="#000" stroke-width="1.1" fill="none"/>
<rect x="484.75" y="487.20" width="78.05" height="55.10" fill="none" stroke="#000" stroke-width="1.5"/>
<text transform="translate(480.10,545.30) scale(1.0,0.986)" text-anchor="end" font-weight="bold" font-size="16.5" stroke="#000" stroke-width="0.18">0.0</text>
<text transform="translate(480.10,525.30) scale(1.0,0.986)" text-anchor="end" font-weight="bold" font-size="16.5" stroke="#000" stroke-width="0.18">2.0</text>
<text transform="translate(480.10,505.30) scale(1.0,0.986)" text-anchor="end" font-weight="bold" font-size="16.5" stroke="#000" stroke-width="0.18">4.0</text>
<text x="486.05" y="484.10" font-weight="bold" font-size="16.5" stroke="#000" stroke-width="0.18">1e<tspan font-size="9.3" dy="-5.9">-4</tspan></text>
<text transform="translate(484.45,559.60) scale(1,1.08)" text-anchor="middle" font-size="15.2" stroke="#000" stroke-width="0.3">0</text>
<text transform="translate(503.56,559.60) scale(1,1.08)" text-anchor="middle" font-size="15.2" stroke="#000" stroke-width="0.3">5</text>
<text transform="translate(521.17,559.60) scale(1,1.08)" text-anchor="middle" font-size="15.2" stroke="#000" stroke-width="0.3">10</text>
<text transform="translate(541.69,559.60) scale(1,1.08)" text-anchor="middle" font-size="15.2" stroke="#000" stroke-width="0.3">15</text>
<text transform="translate(563.30,559.60) scale(1,1.08)" text-anchor="middle" font-size="15.2" stroke="#000" stroke-width="0.3">20</text>
</svg></body></html>
